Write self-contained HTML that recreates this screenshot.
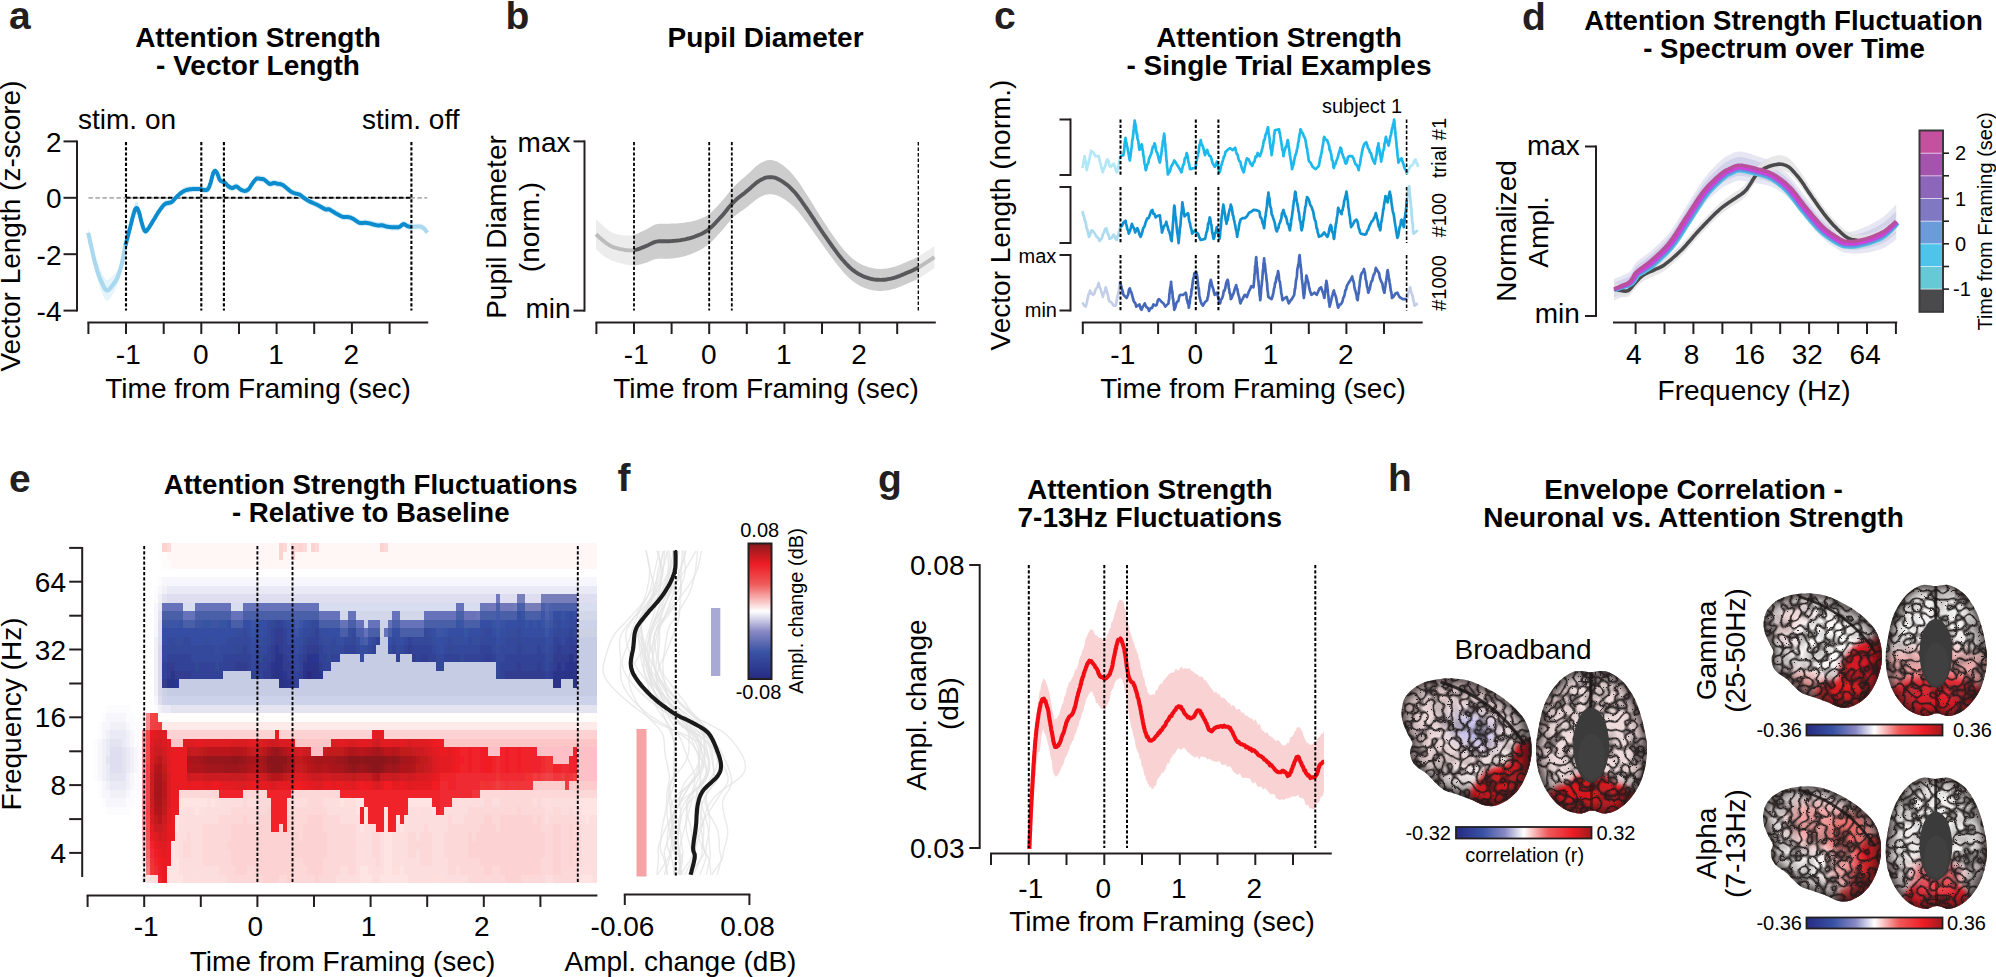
<!DOCTYPE html>
<html><head><meta charset="utf-8"><title>Figure</title>
<style>html,body{margin:0;padding:0;background:#fff}svg{display:block}text{font-family:"Liberation Sans",Arial,Helvetica,sans-serif}</style></head>
<body>
<svg width="1996" height="977" viewBox="0 0 1996 977">
<g id="pa">
<text x="9" y="29" font-size="39" font-weight="bold" fill="#231f20">a</text>
<text x="258" y="47" font-size="28" text-anchor="middle" font-weight="bold">Attention Strength</text>
<text x="258" y="75" font-size="28" text-anchor="middle" font-weight="bold">- Vector Length</text>
<text x="78" y="128.5" font-size="28">stim. on</text>
<text x="459.5" y="128.5" font-size="28" text-anchor="end">stim. off</text>
<text x="19.6" y="226" font-size="28" text-anchor="middle" transform="rotate(-90 19.6 226)">Vector Length (z-score)</text>
<line x1="77" y1="140.4" x2="77" y2="311.6" stroke="#231f20" stroke-width="2"/>
<line x1="63.5" y1="141.4" x2="77" y2="141.4" stroke="#231f20" stroke-width="2"/>
<line x1="63.5" y1="197.8" x2="77" y2="197.8" stroke="#231f20" stroke-width="2"/>
<line x1="63.5" y1="254.2" x2="77" y2="254.2" stroke="#231f20" stroke-width="2"/>
<line x1="63.5" y1="310.6" x2="77" y2="310.6" stroke="#231f20" stroke-width="2"/>
<text x="61.5" y="151.7" font-size="28" text-anchor="end">2</text>
<text x="61.5" y="208.1" font-size="28" text-anchor="end">0</text>
<text x="61.5" y="264.5" font-size="28" text-anchor="end">-2</text>
<text x="61.5" y="320.9" font-size="28" text-anchor="end">-4</text>
<line x1="87.4" y1="322.5" x2="428.2" y2="322.5" stroke="#231f20" stroke-width="2"/>
<line x1="88.4" y1="322.5" x2="88.4" y2="334" stroke="#231f20" stroke-width="2"/>
<line x1="126" y1="322.5" x2="126" y2="334" stroke="#231f20" stroke-width="2"/>
<line x1="163.7" y1="322.5" x2="163.7" y2="334" stroke="#231f20" stroke-width="2"/>
<line x1="201.3" y1="322.5" x2="201.3" y2="334" stroke="#231f20" stroke-width="2"/>
<line x1="239" y1="322.5" x2="239" y2="334" stroke="#231f20" stroke-width="2"/>
<line x1="276.6" y1="322.5" x2="276.6" y2="334" stroke="#231f20" stroke-width="2"/>
<line x1="314.2" y1="322.5" x2="314.2" y2="334" stroke="#231f20" stroke-width="2"/>
<line x1="351.9" y1="322.5" x2="351.9" y2="334" stroke="#231f20" stroke-width="2"/>
<line x1="389.6" y1="322.5" x2="389.6" y2="334" stroke="#231f20" stroke-width="2"/>
<text x="128.3" y="364" font-size="28" text-anchor="middle">-1</text>
<text x="200.8" y="364" font-size="28" text-anchor="middle">0</text>
<text x="276.1" y="364" font-size="28" text-anchor="middle">1</text>
<text x="351.4" y="364" font-size="28" text-anchor="middle">2</text>
<text x="258" y="397.5" font-size="28" text-anchor="middle">Time from Framing (sec)</text>
<line x1="88.4" y1="197.8" x2="427.2" y2="197.8" stroke="#b0b0b0" stroke-width="1.8" stroke-dasharray="4.5 2.5"/>
<line x1="126" y1="197.8" x2="411.4" y2="197.8" stroke="#000" stroke-width="2" stroke-dasharray="4.5 2.5"/>
<path d="M88.3,227L88.4,227.7L88.6,228.5L88.8,229.4L89.1,230.4L89.3,231.6L89.6,232.8L89.8,234L90.1,235.4L90.4,236.7L90.7,238.1L91.1,239.4L91.4,240.7L91.7,242L92,243.3L92.3,244.4L92.6,245.5L92.8,246.6L93.1,247.8L93.4,249L93.7,250.1L94,251.3L94.4,252.5L94.7,253.6L95,254.8L95.3,255.9L95.6,257L96,258.1L96.3,259.1L96.6,260.1L96.9,261.1L97.3,262.3L97.7,263.4L98.2,264.6L98.6,265.6L99,266.7L99.5,267.7L99.9,268.7L100.3,269.6L100.7,270.5L101.2,271.3L101.6,272.2L102,273L102.7,274.3L103.4,275.6L104,276.8L104.7,277.9L105.3,278.8L106,279.5L106.7,279.9L107.7,279.9L108.8,279.4L109.8,278.6L110.9,277.6L112,276.5L112.7,275.8L113.4,275.1L114.2,274.4L114.9,273.5L115.6,272.6L116.4,271.7L117.1,270.6L117.7,269.4L118.1,268.6L118.5,267.7L118.9,266.7L119.3,265.7L119.7,264.7L120,263.7L120.4,262.6L120.7,261.4L121,260.3L121.4,259.2L121.7,258L122,256.9L122.3,255.8L122.5,254.8L122.7,253.8L122.9,252.7L123.1,251.7L123.3,250.6L123.5,249.5L123.7,248.4L124,247.3L124.2,246L124.5,244.8L124.8,243.4L125.1,242L125.3,241L125.6,240L125.8,239L126.1,237.8L126.4,236.7L126.4,247.1L126.1,248.4L125.8,249.6L125.6,250.7L125.3,251.8L125.1,252.8L124.8,254.4L124.5,255.9L124.2,257.3L124,258.6L123.7,259.8L123.5,261L123.3,262.2L123.1,263.4L122.9,264.5L122.7,265.6L122.5,266.8L122.3,267.9L122,269.1L121.7,270.4L121.4,271.8L121,273.1L120.7,274.4L120.4,275.7L120,277.1L119.7,278.4L119.3,279.6L118.9,280.9L118.5,282.1L118.1,283.3L117.7,284.4L117.1,286L116.4,287.6L115.6,289.1L114.9,290.5L114.2,291.9L113.4,293.2L112.7,294.4L112,295.5L110.9,297.2L109.8,298.7L108.8,300L107.7,300.8L106.7,300.9L106,300.5L105.3,299.8L104.7,298.8L104,297.6L103.4,296.2L102.7,294.7L102,293L101.6,292L101.2,291L100.7,289.9L100.3,288.8L99.9,287.6L99.5,286.3L99,285L98.6,283.7L98.2,282.3L97.7,280.9L97.3,279.4L96.9,277.9L96.6,276.8L96.3,275.5L96,274.3L95.6,273L95.3,271.6L95,270.3L94.7,268.9L94.4,267.5L94,266.1L93.7,264.7L93.4,263.3L93.1,261.9L92.8,260.6L92.6,259.3L92.3,258L92,256.7L91.7,255.3L91.4,253.8L91.1,252.3L90.7,250.7L90.4,249.2L90.1,247.7L89.8,246.2L89.6,244.8L89.3,243.5L89.1,242.2L88.8,241.1L88.6,240L88.4,239.1L88.3,238.4Z" fill="#e6f5fc"/>
<path d="M125.6,242L125.8,240.9L126.1,239.7L126.4,238.5L126.7,237.2L127,235.9L127.4,234.6L127.7,233.2L128,231.9L128.4,230.5L128.7,229.1L129,227.7L129.3,226.4L129.7,225.1L130,223.8L130.3,222.5L130.5,221.3L130.8,220.2L131.1,219.1L131.3,218.1L131.7,216.1L132.1,214.4L132.5,212.8L132.8,211.3L133.2,210L133.4,208.8L133.7,207.7L134,206.7L134.2,205.8L134.5,205L135.3,203L136,202L136.7,201.9L137.5,202.7L138.2,204.3L139,206.5L139.3,207.6L139.6,208.8L139.9,210.1L140.2,211.5L140.5,213L140.8,214.4L141.1,215.7L141.4,217.1L141.8,218.5L142.1,219.9L142.5,221.3L142.8,222.6L143.2,223.7L143.5,224.7L144.5,227L145.5,228L146.5,227.6L148,225.7L148.5,225L149.2,224.1L149.8,223L150.5,221.9L151.3,220.7L152,219.5L152.7,218.3L153.4,217.2L154,216.1L154.7,215.1L155.3,214L155.9,212.9L156.5,211.9L157.2,210.8L157.8,209.8L158.5,208.8L159.2,207.8L160,206.7L160.8,205.6L161.5,204.6L162.3,203.6L163.1,202.6L163.8,201.8L164.4,201.2L165.8,200.3L166.9,200L168,199.8L169.2,199.6L170.5,199.4L171.8,198.8L172.6,198.1L173.4,197.2L174.3,196.2L175.1,195.2L176,194.3L176.9,193.4L177.8,192.5L178.7,191.7L179.6,190.9L180.4,190.2L181.7,189.2L182.8,188.5L184,187.8L185.2,187.3L186.3,186.8L187.8,186.5L188.9,186.3L190.1,186.1L191.4,186L192.7,185.9L194,185.8L195.2,185.7L196.5,185.7L197.8,185.7L198.9,185.7L200,185.8L201.5,186.1L202.8,186.5L204,186.8L205.8,186.9L207.4,186.5L208.2,185.6L208.9,184.3L209.5,182.8L209.9,181.7L210.3,180.6L210.7,179.3L211.1,177.8L211.4,176.6L211.8,175.1L212.2,173.6L212.6,172.1L212.9,170.8L213.3,169.8L214.3,168L215.3,167.6L216,168.2L216.8,169.3L217.5,170.8L217.9,171.9L218.4,173.2L218.8,174.5L219.3,175.8L219.7,176.7L220.8,177.8L222,178.3L223.2,178.6L224.6,179.1L225.4,179.9L226.2,180.9L227.1,181.9L228,182.8L229.3,183.7L230.8,184.4L232,184.8L233.3,184.5L234.5,183.8L235.6,183.3L236.9,183.3L238,184.1L239.2,185.3L240.5,186.3L241.8,187L243.1,187.4L244.3,187.7L245.8,187.6L247,187.1L248.1,186.5L249.2,185.3L249.8,184.4L250.5,183.3L251.2,182.1L252,180.9L252.7,179.8L253.7,178.5L254.7,177.2L255.7,176.2L256.6,175.4L258.3,175.2L260,175.6L261.3,175.7L262.6,175.8L263.9,176.2L265,176.9L266,177.9L267,178.8L268,179.6L269,180.4L270.1,180.8L271.3,180.6L272.5,180.1L273.8,179.8L275.2,179.9L276.6,180.3L278,180.6L279.5,180.8L280.9,181.1L282.4,181.6L283.4,182.2L284.4,183L285.5,183.9L286.5,184.8L287.6,185.7L288.8,186.7L289.9,187.6L291,188.4L292.3,189.2L293.6,189.7L295,190.2L296.5,190.6L298.1,190.9L299.6,191.4L300.7,192.1L301.8,193L302.9,193.9L304,194.8L305.1,195.5L306.1,196.2L307.1,196.9L308.2,197.5L309.4,198.1L310.5,198.7L311.8,199.2L313,199.8L314.2,200.3L315.3,200.8L316.6,201.3L318,202L319,202.5L320.1,203.2L321.2,203.8L322.4,204.5L323.5,205.2L324.5,205.7L325.4,206.1L326.8,206.3L327.7,206L329,206.1L329.9,206.5L330.8,207.1L331.9,207.7L332.9,208.4L334.1,209.1L335.2,209.8L336.4,210.5L337.6,211.1L338.8,211.8L340.1,212.5L341.4,213.1L342.6,213.5L343.8,213.8L345.1,213.9L346.4,213.9L347.6,213.9L348.8,214L349.9,214.2L351.3,214.7L352.6,215.4L353.8,216.1L355,216.8L356.2,217.6L357.3,218.4L358.4,219.2L359.8,219.7L360.8,219.8L362,219.8L363.1,219.7L364.4,219.6L365.7,219.6L367.1,219.7L368.2,219.9L369.5,220.2L370.8,220.5L372.2,220.9L373.5,221.3L374.8,221.6L376,221.9L377,222.1L378.5,222.2L379.7,222.2L380.7,222.1L381.9,222.1L383,222.3L384.1,222.6L385.3,223L386.6,223.3L388,223.6L389.1,223.7L390.4,223.9L391.8,224L393.1,224L394.4,224.1L395.6,224.1L396.6,224.1L398.3,224L399.4,223.7L400.3,223.3L401.3,222.4L402,221.6L403,221.1L404,220.9L405.1,221.5L406.3,222.3L407.6,222.9L408.9,223.3L410.2,223.5L411.8,223.6L411.8,230L410.2,229.9L408.9,229.7L407.6,229.3L406.3,228.7L405.1,227.9L404,227.3L403,227.5L402,228L401.3,228.8L400.3,229.7L399.4,230.1L398.3,230.4L396.6,230.5L395.6,230.5L394.4,230.5L393.1,230.4L391.8,230.4L390.4,230.3L389.1,230.1L388,230L386.6,229.7L385.3,229.4L384.1,229L383,228.7L381.9,228.5L380.7,228.5L379.7,228.6L378.5,228.6L377,228.5L376,228.3L374.8,228L373.5,227.7L372.2,227.3L370.8,226.9L369.5,226.6L368.2,226.3L367.1,226.1L365.7,226L364.4,226L363.1,226.1L362,226.2L360.8,226.2L359.8,226.1L358.4,225.6L357.3,224.8L356.2,224L355,223.2L353.8,222.5L352.6,221.8L351.3,221.1L349.9,220.6L348.8,220.4L347.6,220.3L346.4,220.3L345.1,220.3L343.8,220.2L342.6,219.9L341.4,219.5L340.1,218.9L338.8,218.2L337.6,217.5L336.4,216.9L335.2,216.2L334.1,215.5L332.9,214.8L331.9,214.1L330.8,213.5L329.9,212.9L329,212.5L327.7,212.4L326.8,212.7L325.4,212.5L324.5,212.1L323.5,211.6L322.4,210.9L321.2,210.2L320.1,209.6L319,208.9L318,208.4L316.6,207.7L315.3,207.2L314.2,206.7L313,206.2L311.8,205.6L310.5,205.1L309.4,204.5L308.2,203.9L307.1,203.3L306.1,202.6L305.1,201.9L304,201.2L302.9,200.3L301.8,199.4L300.7,198.5L299.6,197.8L298.1,197.3L296.5,197L295,196.6L293.6,196.1L292.3,195.6L291,194.8L289.9,194L288.8,193.1L287.6,192.1L286.5,191.2L285.5,190.3L284.4,189.4L283.4,188.6L282.4,188L280.9,187.5L279.5,187.2L278,187L276.6,186.7L275.2,186.3L273.8,186.2L272.5,186.5L271.3,187L270.1,187.2L269,186.8L268,186L267,185.2L266,184.3L265,183.3L263.9,182.6L262.6,182.2L261.3,182.1L260,182L258.3,181.6L256.6,181.8L255.7,182.6L254.7,183.6L253.7,184.9L252.7,186.2L252,187.3L251.2,188.5L250.5,189.7L249.8,190.8L249.2,191.7L248.1,192.9L247,193.5L245.8,194L244.3,194.1L243.1,193.8L241.8,193.4L240.5,192.7L239.2,191.7L238,190.5L236.9,189.7L235.6,189.7L234.5,190.2L233.3,190.9L232,191.2L230.8,190.8L229.3,190.1L228,189.2L227.1,188.3L226.2,187.3L225.4,186.3L224.6,185.5L223.2,185L222,184.7L220.8,184.2L219.7,183.1L219.3,182.2L218.8,180.9L218.4,179.6L217.9,178.3L217.5,177.2L216.8,175.7L216,174.6L215.3,174L214.3,174.4L213.3,176.2L212.9,177.2L212.6,178.5L212.2,180L211.8,181.5L211.4,183L211.1,184.2L210.7,185.7L210.3,187L209.9,188.1L209.5,189.2L208.9,190.7L208.2,192L207.4,192.9L205.8,193.3L204,193.2L202.8,192.9L201.5,192.5L200,192.2L198.9,192.1L197.8,192.1L196.5,192.1L195.2,192.1L194,192.2L192.7,192.3L191.4,192.4L190.1,192.5L188.9,192.7L187.8,192.9L186.3,193.2L185.2,193.7L184,194.2L182.8,194.9L181.7,195.6L180.4,196.6L179.6,197.3L178.7,198.1L177.8,198.9L176.9,199.8L176,200.7L175.1,201.6L174.3,202.6L173.4,203.6L172.6,204.5L171.8,205.2L170.5,205.8L169.2,206L168,206.2L166.9,206.4L165.8,206.7L164.4,207.6L163.8,208.2L163.1,209L162.3,210L161.5,211L160.8,212L160,213.1L159.2,214.2L158.5,215.2L157.8,216.2L157.2,217.2L156.5,218.3L155.9,219.3L155.3,220.4L154.7,221.5L154,222.5L153.4,223.6L152.7,224.7L152,225.9L151.3,227.1L150.5,228.3L149.8,229.4L149.2,230.5L148.5,231.5L148,232.3L146.5,234.3L145.5,234.8L144.5,234.2L143.5,232.3L143.2,231.5L142.8,230.6L142.5,229.5L142.1,228.4L141.8,227.3L141.4,226.1L141.1,225.1L140.8,224L140.5,222.8L140.2,221.6L139.9,220.5L139.6,219.4L139.3,218.4L139,217.5L138.2,215.9L137.5,214.8L136.7,214.3L136,214.4L135.3,215.3L134.5,217L134.2,217.7L134,218.5L133.7,219.3L133.4,220.2L133.2,221.2L132.8,222.3L132.5,223.5L132.1,224.8L131.7,226.2L131.3,227.7L131.1,228.5L130.8,229.4L130.5,230.3L130.3,231.3L130,232.3L129.7,233.4L129.3,234.5L129,235.7L128.7,236.9L128.4,238.1L128,239.3L127.7,240.5L127.4,241.7L127,242.9L126.7,244.2L126.4,245.3L126.1,246.5L125.8,247.6L125.6,248.7Z" fill="#cfeaf8"/>
<path d="M411.8,223.6L413,223.6L414.3,223.5L415.7,223.4L417,223.4L418.5,223.4L419.9,223.4L421.2,223.6L422.4,224.1L423.5,224.9L424.5,225.8L425.6,227.1L426.6,228.5L427.3,229.5L427.3,235.9L426.6,234.9L425.6,233.5L424.5,232.2L423.5,231.3L422.4,230.5L421.2,230L419.9,229.8L418.5,229.8L417,229.8L415.7,229.8L414.3,229.9L413,230L411.8,230Z" fill="#e6f5fc"/>
<path d="M88.3,232.7L88.4,233.4L88.6,234.2L88.8,235.2L89.1,236.3L89.3,237.5L89.6,238.8L89.8,240.1L90.1,241.5L90.4,242.9L90.7,244.4L91.1,245.8L91.4,247.3L91.7,248.7L92,250L92.3,251.2L92.6,252.4L92.8,253.6L93.1,254.9L93.4,256.1L93.7,257.4L94,258.7L94.4,260L94.7,261.3L95,262.5L95.3,263.8L95.6,265L96,266.2L96.3,267.3L96.6,268.4L96.9,269.5L97.3,270.9L97.7,272.2L98.2,273.4L98.6,274.7L99,275.9L99.5,277L99.9,278.1L100.3,279.2L100.7,280.2L101.2,281.2L101.6,282.1L102,283L102.7,284.5L103.4,285.9L104,287.2L104.7,288.4L105.3,289.3L106,290L106.7,290.4L107.7,290.4L108.8,289.7L109.8,288.7L110.9,287.4L112,286L112.7,285.1L113.4,284.2L114.2,283.1L114.9,282L115.6,280.9L116.4,279.6L117.1,278.3L117.7,276.9L118.1,275.9L118.5,274.9L118.9,273.8L119.3,272.7L119.7,271.5L120,270.4L120.4,269.2L120.7,267.9L121,266.7L121.4,265.5L121.7,264.2L122,263L122.3,261.9L122.5,260.8L122.7,259.7L122.9,258.6L123.1,257.5L123.3,256.4L123.5,255.3L123.7,254.1L124,252.9L124.2,251.6L124.5,250.3L124.8,248.9L125.1,247.4L125.3,246.4L125.6,245.4L125.8,244.3L126.1,243.1L126.4,241.9" fill="none" stroke="#a9d8ef" stroke-width="4.2" stroke-linejoin="round" stroke-linecap="butt"/>
<path d="M411.8,226.8L413,226.8L414.3,226.7L415.7,226.6L417,226.6L418.5,226.6L419.9,226.6L421.2,226.8L422.4,227.3L423.5,228.1L424.5,229L425.6,230.3L426.6,231.7L427.3,232.7" fill="none" stroke="#a9d8ef" stroke-width="4.0" stroke-linejoin="round" stroke-linecap="butt"/>
<path d="M125.6,245.4L125.8,244.3L126.1,243.1L126.4,241.9L126.7,240.7L127,239.4L127.4,238.2L127.7,236.9L128,235.6L128.4,234.3L128.7,233L129,231.7L129.3,230.5L129.7,229.2L130,228.1L130.3,226.9L130.5,225.8L130.8,224.8L131.1,223.8L131.3,222.9L131.7,221.2L132.1,219.6L132.5,218.1L132.8,216.8L133.2,215.6L133.4,214.5L133.7,213.5L134,212.6L134.2,211.8L134.5,211L135.3,209.1L136,208.2L136.7,208.1L137.5,208.7L138.2,210.1L139,212L139.3,213L139.6,214.1L139.9,215.3L140.2,216.6L140.5,217.9L140.8,219.2L141.1,220.4L141.4,221.6L141.8,222.9L142.1,224.2L142.5,225.4L142.8,226.6L143.2,227.6L143.5,228.5L144.5,230.6L145.5,231.4L146.5,230.9L148,229L148.5,228.2L149.2,227.3L149.8,226.2L150.5,225.1L151.3,223.9L152,222.7L152.7,221.5L153.4,220.4L154,219.3L154.7,218.3L155.3,217.2L155.9,216.1L156.5,215.1L157.2,214L157.8,213L158.5,212L159.2,211L160,209.9L160.8,208.8L161.5,207.8L162.3,206.8L163.1,205.8L163.8,205L164.4,204.4L165.8,203.5L166.9,203.2L168,203L169.2,202.8L170.5,202.6L171.8,202L172.6,201.3L173.4,200.4L174.3,199.4L175.1,198.4L176,197.5L176.9,196.6L177.8,195.7L178.7,194.9L179.6,194.1L180.4,193.4L181.7,192.4L182.8,191.7L184,191L185.2,190.5L186.3,190L187.8,189.7L188.9,189.5L190.1,189.3L191.4,189.2L192.7,189.1L194,189L195.2,188.9L196.5,188.9L197.8,188.9L198.9,188.9L200,189L201.5,189.3L202.8,189.7L204,190L205.8,190.1L207.4,189.7L208.2,188.8L208.9,187.5L209.5,186L209.9,184.9L210.3,183.8L210.7,182.5L211.1,181L211.4,179.8L211.8,178.3L212.2,176.8L212.6,175.3L212.9,174L213.3,173L214.3,171.2L215.3,170.8L216,171.4L216.8,172.5L217.5,174L217.9,175.1L218.4,176.4L218.8,177.7L219.3,179L219.7,179.9L220.8,181L222,181.5L223.2,181.8L224.6,182.3L225.4,183.1L226.2,184.1L227.1,185.1L228,186L229.3,186.9L230.8,187.6L232,188L233.3,187.7L234.5,187L235.6,186.5L236.9,186.5L238,187.3L239.2,188.5L240.5,189.5L241.8,190.2L243.1,190.6L244.3,190.9L245.8,190.8L247,190.3L248.1,189.7L249.2,188.5L249.8,187.6L250.5,186.5L251.2,185.3L252,184.1L252.7,183L253.7,181.7L254.7,180.4L255.7,179.4L256.6,178.6L258.3,178.4L260,178.8L261.3,178.9L262.6,179L263.9,179.4L265,180.1L266,181.1L267,182L268,182.8L269,183.6L270.1,184L271.3,183.8L272.5,183.3L273.8,183L275.2,183.1L276.6,183.5L278,183.8L279.5,184L280.9,184.3L282.4,184.8L283.4,185.4L284.4,186.2L285.5,187.1L286.5,188L287.6,188.9L288.8,189.9L289.9,190.8L291,191.6L292.3,192.4L293.6,192.9L295,193.4L296.5,193.8L298.1,194.1L299.6,194.6L300.7,195.3L301.8,196.2L302.9,197.1L304,198L305.1,198.7L306.1,199.4L307.1,200.1L308.2,200.7L309.4,201.3L310.5,201.9L311.8,202.4L313,203L314.2,203.5L315.3,204L316.6,204.5L318,205.2L319,205.7L320.1,206.4L321.2,207L322.4,207.7L323.5,208.4L324.5,208.9L325.4,209.3L326.8,209.5L327.7,209.2L329,209.3L329.9,209.7L330.8,210.3L331.9,210.9L332.9,211.6L334.1,212.3L335.2,213L336.4,213.7L337.6,214.3L338.8,215L340.1,215.7L341.4,216.3L342.6,216.7L343.8,217L345.1,217.1L346.4,217.1L347.6,217.1L348.8,217.2L349.9,217.4L351.3,217.9L352.6,218.6L353.8,219.3L355,220L356.2,220.8L357.3,221.6L358.4,222.4L359.8,222.9L360.8,223L362,223L363.1,222.9L364.4,222.8L365.7,222.8L367.1,222.9L368.2,223.1L369.5,223.4L370.8,223.7L372.2,224.1L373.5,224.5L374.8,224.8L376,225.1L377,225.3L378.5,225.4L379.7,225.4L380.7,225.3L381.9,225.3L383,225.5L384.1,225.8L385.3,226.2L386.6,226.5L388,226.8L389.1,226.9L390.4,227.1L391.8,227.2L393.1,227.2L394.4,227.3L395.6,227.3L396.6,227.3L398.3,227.2L399.4,226.9L400.3,226.5L401.3,225.6L402,224.8L403,224.3L404,224.1L405.1,224.7L406.3,225.5L407.6,226.1L408.9,226.5L410.2,226.7L411.8,226.8" fill="none" stroke="#0a8ccf" stroke-width="4.0" stroke-linejoin="round" stroke-linecap="butt"/>
<line x1="126" y1="142" x2="126" y2="310.5" stroke="#000" stroke-width="2.1" stroke-dasharray="3.2 2"/>
<line x1="201.3" y1="142" x2="201.3" y2="310.5" stroke="#000" stroke-width="2.1" stroke-dasharray="3.2 2"/>
<line x1="223.9" y1="142" x2="223.9" y2="310.5" stroke="#000" stroke-width="2.1" stroke-dasharray="3.2 2"/>
<line x1="411.4" y1="142" x2="411.4" y2="310.5" stroke="#000" stroke-width="2.1" stroke-dasharray="3.2 2"/>
</g>
<g id="pb">
<text x="505.5" y="29" font-size="39" font-weight="bold" fill="#231f20">b</text>
<text x="765.5" y="47" font-size="28" text-anchor="middle" font-weight="bold">Pupil Diameter</text>
<text x="505.5" y="227" font-size="28" text-anchor="middle" transform="rotate(-90 505.5 227)">Pupil Diameter</text>
<text x="538.5" y="227" font-size="28" text-anchor="middle" transform="rotate(-90 538.5 227)">(norm.)</text>
<line x1="584.5" y1="140.4" x2="584.5" y2="311.6" stroke="#231f20" stroke-width="2"/>
<line x1="573.5" y1="141.4" x2="584.5" y2="141.4" stroke="#231f20" stroke-width="2"/>
<line x1="573.5" y1="310.6" x2="584.5" y2="310.6" stroke="#231f20" stroke-width="2"/>
<text x="570.5" y="151.5" font-size="28" text-anchor="end">max</text>
<text x="570.5" y="318" font-size="28" text-anchor="end">min</text>
<line x1="595.4" y1="322.5" x2="935.8" y2="322.5" stroke="#231f20" stroke-width="2"/>
<line x1="596.4" y1="322.5" x2="596.4" y2="334" stroke="#231f20" stroke-width="2"/>
<line x1="634" y1="322.5" x2="634" y2="334" stroke="#231f20" stroke-width="2"/>
<line x1="671.6" y1="322.5" x2="671.6" y2="334" stroke="#231f20" stroke-width="2"/>
<line x1="709.2" y1="322.5" x2="709.2" y2="334" stroke="#231f20" stroke-width="2"/>
<line x1="746.8" y1="322.5" x2="746.8" y2="334" stroke="#231f20" stroke-width="2"/>
<line x1="784.4" y1="322.5" x2="784.4" y2="334" stroke="#231f20" stroke-width="2"/>
<line x1="822" y1="322.5" x2="822" y2="334" stroke="#231f20" stroke-width="2"/>
<line x1="859.6" y1="322.5" x2="859.6" y2="334" stroke="#231f20" stroke-width="2"/>
<line x1="897.2" y1="322.5" x2="897.2" y2="334" stroke="#231f20" stroke-width="2"/>
<text x="636.3" y="364" font-size="28" text-anchor="middle">-1</text>
<text x="708.7" y="364" font-size="28" text-anchor="middle">0</text>
<text x="783.9" y="364" font-size="28" text-anchor="middle">1</text>
<text x="859.1" y="364" font-size="28" text-anchor="middle">2</text>
<text x="766" y="397.5" font-size="28" text-anchor="middle">Time from Framing (sec)</text>
<path d="M596,219.3L596.7,219.9L597.6,220.7L598.6,221.6L599.8,222.7L601,223.8L602.4,225.1L603.7,226.4L605.1,227.6L606.5,228.8L607.8,229.8L609,230.7L610.4,231.6L611.9,232.4L613.3,233L614.8,233.6L616.2,234L617.7,234.4L619.1,234.7L620.5,235L621.9,235.2L623.4,235.3L625,235.5L626.5,235.5L628,235.5L629.5,235.5L630.9,235.3L632.4,235.1L633.9,234.8L633.9,265.6L632.4,265.6L630.9,265.5L629.5,265.3L628,265.1L626.5,264.8L625,264.5L623.4,264.1L621.9,263.6L620.5,263.3L619.1,262.9L617.7,262.5L616.2,262L614.8,261.6L613.3,261.1L611.9,260.6L610.4,259.9L609,259.3L607.8,258.6L606.5,257.8L605.1,256.9L603.7,255.9L602.4,254.8L601,253.7L599.8,252.7L598.6,251.6L597.6,250.7L596.7,249.9L596,249.3Z" fill="#ececec"/>
<path d="M918.5,256.4L919.8,255.7L921.2,254.8L922.6,253.9L924.2,252.9L925.7,251.9L927.3,250.9L928.8,249.9L930.2,248.9L931.5,248.1L932.6,247.3L933.6,246.6L934.4,246.1L934.4,268.1L933.6,268.6L932.6,269.3L931.5,270.1L930.2,270.9L928.8,271.9L927.3,272.9L925.7,273.9L924.2,274.9L922.6,275.9L921.2,276.8L919.8,277.7L918.5,278.4Z" fill="#ececec"/>
<path d="M633.9,234.8L635.4,234.4L636.8,233.8L638.3,233.2L639.8,232.6L641.2,231.8L642.7,231.1L644.1,230.4L645.5,229.7L647.1,228.9L648.6,228.1L650.1,227.2L651.6,226.3L653.1,225.5L654.7,224.8L656.3,224.3L657.8,224L659.4,223.8L661,223.7L662.6,223.7L664.3,223.7L665.9,223.7L667.6,223.7L669.2,223.7L670.8,223.6L672.4,223.6L674,223.5L675.6,223.4L677.2,223.4L678.8,223.3L680.4,223.1L682,223L683.6,222.8L685.2,222.6L686.9,222.3L688.5,222.1L690.1,221.8L691.8,221.4L693.4,221L695,220.6L696.4,220.2L697.9,219.7L699.3,219.2L700.7,218.7L702.2,218.1L703.6,217.5L705,216.8L706.5,215.9L707.9,215L709,214.2L710,213.3L711.1,212.4L712.2,211.4L713.3,210.4L714.3,209.3L715.4,208.2L716.5,207.1L717.6,205.9L718.6,204.8L719.7,203.6L720.8,202.4L721.8,201.3L722.8,200.1L723.8,199L724.8,197.7L725.8,196.5L726.8,195.2L727.7,194L728.7,192.7L729.7,191.5L730.7,190.3L731.7,189.1L732.7,188L733.7,186.9L734.9,185.7L736,184.5L737.2,183.4L738.4,182.4L739.6,181.3L740.7,180.3L741.9,179.3L743.1,178.3L744.3,177.3L745.4,176.3L746.6,175.3L747.8,174.2L749,173L750.2,171.9L751.4,170.7L752.6,169.6L753.8,168.4L755,167.3L756.1,166.3L757.3,165.4L758.4,164.5L759.5,163.7L761.1,162.7L762.7,161.9L764.2,161.2L765.7,160.7L767.2,160.3L768.7,160.1L770.2,160L771.7,160.1L773.2,160.4L774.7,160.7L776.2,161.3L777.8,162L779.4,162.9L781,163.9L782.1,164.7L783.2,165.5L784.3,166.4L785.5,167.3L786.7,168.4L787.9,169.5L789.1,170.6L790.2,171.8L791.4,173.1L792.6,174.4L793.8,175.8L794.7,176.9L795.6,178L796.5,179.2L797.4,180.3L798.2,181.6L799.1,182.8L800,184.1L800.9,185.4L801.8,186.8L802.7,188.2L803.6,189.7L804.6,191.2L805.6,192.8L806.7,194.4L807.5,195.6L808.2,196.8L809,198.1L809.9,199.4L810.7,200.7L811.5,202.1L812.4,203.5L813.3,204.9L814.1,206.3L815,207.8L815.9,209.2L816.8,210.7L817.7,212.1L818.6,213.6L819.5,215L820.4,216.4L821.3,217.8L822.2,219.2L823,220.6L823.9,221.9L824.8,223.2L825.7,224.6L826.7,226L827.6,227.5L828.5,228.9L829.5,230.3L830.4,231.7L831.4,233L832.3,234.4L833.2,235.8L834.2,237.1L835.1,238.4L836,239.7L836.9,240.9L837.8,242.1L838.6,243.3L839.5,244.4L840.3,245.5L841.1,246.5L842.3,248L843.5,249.4L844.6,250.7L845.7,252L846.8,253.1L847.8,254.2L848.8,255.2L849.9,256.2L850.9,257.1L851.9,258L852.9,258.9L854,259.7L855.4,260.8L856.9,261.8L858.3,262.7L859.7,263.5L861.2,264.2L862.6,264.9L864,265.5L865.5,266.1L866.9,266.6L868.5,267.2L870.1,267.6L871.7,268L873.3,268.3L875,268.5L876.6,268.7L878.2,268.8L879.8,268.9L881.4,268.9L883,268.8L884.6,268.7L886.2,268.5L887.9,268.2L889.5,267.9L891.1,267.6L892.7,267.2L894.1,266.8L895.6,266.4L897,265.9L898.4,265.3L899.9,264.8L901.3,264.2L902.7,263.6L904.2,263L905.6,262.4L907,261.8L908.4,261.2L909.8,260.6L911.2,260.1L912.6,259.4L914,258.8L915.4,258L916.9,257.3L918.5,256.4L918.5,278.4L916.9,279.3L915.4,280L914,280.8L912.6,281.4L911.2,282.1L909.8,282.6L908.4,283.2L907,283.8L905.6,284.4L904.2,285L902.7,285.6L901.3,286.2L899.9,286.8L898.4,287.3L897,287.9L895.6,288.4L894.1,288.8L892.7,289.2L891.1,289.6L889.5,289.9L887.9,290.2L886.2,290.5L884.6,290.7L883,290.8L881.4,290.9L879.8,290.9L878.2,290.9L876.6,290.8L875,290.6L873.3,290.4L871.7,290.1L870.1,289.7L868.5,289.3L866.9,288.8L865.5,288.2L864,287.7L862.6,287.1L861.2,286.4L859.7,285.7L858.3,284.9L856.9,284.1L855.4,283.1L854,282.1L852.9,281.3L851.9,280.4L850.9,279.6L849.9,278.7L848.8,277.8L847.8,276.8L846.8,275.8L845.7,274.7L844.6,273.5L843.5,272.3L842.3,270.9L841.1,269.5L840.3,268.5L839.5,267.5L838.6,266.5L837.8,265.4L836.9,264.2L836,263.1L835.1,261.9L834.2,260.7L833.2,259.4L832.3,258.2L831.4,256.9L830.4,255.6L829.5,254.4L828.5,253.1L827.6,251.8L826.7,250.5L825.7,249.2L824.8,248L823.9,246.7L823,245.5L822.2,244.3L821.3,243.1L820.4,241.8L819.5,240.6L818.6,239.3L817.7,238L816.8,236.8L815.9,235.5L815,234.2L814.1,232.9L813.3,231.7L812.4,230.4L811.5,229.2L810.7,228L809.9,226.9L809,225.8L808.2,224.7L807.5,223.6L806.7,222.6L805.6,221.2L804.6,219.9L803.6,218.6L802.7,217.3L801.8,216.1L800.9,214.9L800,213.8L799.1,212.7L798.2,211.7L797.4,210.6L796.5,209.7L795.6,208.7L794.7,207.8L793.8,206.8L792.6,205.7L791.4,204.7L790.2,203.6L789.1,202.7L787.9,201.7L786.7,200.9L785.5,200L784.3,199.3L783.2,198.5L782.1,197.9L781,197.3L779.4,196.4L777.8,195.7L776.2,195.2L774.7,194.7L773.2,194.4L771.7,194.2L770.2,194.2L768.7,194.3L767.2,194.5L765.7,194.8L764.2,195.3L762.7,195.9L761.1,196.6L759.5,197.5L758.4,198.1L757.3,198.9L756.1,199.7L755,200.6L753.8,201.5L752.6,202.5L751.4,203.5L750.2,204.5L749,205.5L747.8,206.4L746.6,207.3L745.4,208.2L744.3,209L743.1,209.9L741.9,210.7L740.7,211.5L739.6,212.3L738.4,213.2L737.2,214.1L736,215L734.9,216L733.7,217.1L732.7,218.1L731.7,219.1L730.7,220.2L729.7,221.3L728.7,222.5L727.7,223.6L726.8,224.8L725.8,226L724.8,227.2L723.8,228.4L722.8,229.6L721.8,230.7L720.8,231.8L719.7,233L718.6,234.1L717.6,235.3L716.5,236.5L715.4,237.7L714.3,238.8L713.3,240L712.2,241.1L711.1,242.1L710,243.1L709,244.1L707.9,245L706.5,246.1L705,247.1L703.6,248L702.2,248.9L700.7,249.6L699.3,250.4L697.9,251.1L696.4,251.7L695,252.4L693.4,253.1L691.8,253.8L690.1,254.4L688.5,255L686.9,255.5L685.2,256L683.6,256.4L682,256.8L680.4,257.2L678.8,257.5L677.2,257.8L675.6,258L674,258.2L672.4,258.4L670.8,258.6L669.2,258.7L667.6,258.8L665.9,258.8L664.3,258.7L662.6,258.7L661,258.6L659.4,258.7L657.8,258.7L656.3,258.9L654.7,259.3L653.1,259.8L651.6,260.4L650.1,261.1L648.6,261.7L647.1,262.4L645.5,262.9L644.1,263.3L642.7,263.8L641.2,264.2L639.8,264.6L638.3,265L636.8,265.3L635.4,265.5L633.9,265.6Z" fill="#cdcdcd"/>
<path d="M596,234.3L596.7,234.9L597.6,235.7L598.6,236.6L599.8,237.7L601,238.8L602.4,240L603.7,241.1L605.1,242.2L606.5,243.3L607.8,244.2L609,245L610.4,245.8L611.9,246.5L613.3,247.1L614.8,247.6L616.2,248L617.7,248.4L619.1,248.8L620.5,249.1L621.9,249.4L623.4,249.7L625,250L626.5,250.2L628,250.3L629.5,250.4L630.9,250.4L632.4,250.3L633.9,250.2" fill="none" stroke="#bcbcbc" stroke-width="3.9" stroke-linejoin="round" stroke-linecap="butt"/>
<path d="M918.5,267.4L919.8,266.7L921.2,265.8L922.6,264.9L924.2,263.9L925.7,262.9L927.3,261.9L928.8,260.9L930.2,259.9L931.5,259.1L932.6,258.3L933.6,257.6L934.4,257.1" fill="none" stroke="#bcbcbc" stroke-width="3.9" stroke-linejoin="round" stroke-linecap="butt"/>
<path d="M633.9,250.2L635.4,249.9L636.8,249.6L638.3,249.1L639.8,248.6L641.2,248L642.7,247.4L644.1,246.9L645.5,246.3L647.1,245.6L648.6,244.9L650.1,244.1L651.6,243.4L653.1,242.7L654.7,242.1L656.3,241.6L657.8,241.4L659.4,241.2L661,241.2L662.6,241.2L664.3,241.2L665.9,241.3L667.6,241.3L669.2,241.2L670.8,241.1L672.4,241L674,240.9L675.6,240.7L677.2,240.6L678.8,240.4L680.4,240.2L682,239.9L683.6,239.6L685.2,239.3L686.9,238.9L688.5,238.5L690.1,238.1L691.8,237.6L693.4,237.1L695,236.5L696.4,235.9L697.9,235.4L699.3,234.8L700.7,234.2L702.2,233.5L703.6,232.8L705,231.9L706.5,231L707.9,230L709,229.2L710,228.2L711.1,227.3L712.2,226.3L713.3,225.2L714.3,224.1L715.4,223L716.5,221.8L717.6,220.6L718.6,219.5L719.7,218.3L720.8,217.1L721.8,216L722.8,214.9L723.8,213.7L724.8,212.5L725.8,211.3L726.8,210L727.7,208.8L728.7,207.6L729.7,206.4L730.7,205.2L731.7,204.1L732.7,203L733.7,202L734.9,200.9L736,199.8L737.2,198.8L738.4,197.8L739.6,196.8L740.7,195.9L741.9,195L743.1,194.1L744.3,193.2L745.4,192.3L746.6,191.3L747.8,190.3L749,189.3L750.2,188.2L751.4,187.1L752.6,186L753.8,185L755,184L756.1,183L757.3,182.1L758.4,181.3L759.5,180.6L761.1,179.7L762.7,178.9L764.2,178.2L765.7,177.7L767.2,177.4L768.7,177.2L770.2,177.1L771.7,177.2L773.2,177.4L774.7,177.7L776.2,178.2L777.8,178.9L779.4,179.7L781,180.6L782.1,181.3L783.2,182L784.3,182.8L785.5,183.7L786.7,184.6L787.9,185.6L789.1,186.6L790.2,187.7L791.4,188.9L792.6,190.1L793.8,191.3L794.7,192.3L795.6,193.3L796.5,194.4L797.4,195.5L798.2,196.6L799.1,197.8L800,199L800.9,200.2L801.8,201.5L802.7,202.8L803.6,204.1L804.6,205.5L805.6,207L806.7,208.5L807.5,209.6L808.2,210.7L809,211.9L809.9,213.1L810.7,214.4L811.5,215.7L812.4,217L813.3,218.3L814.1,219.6L815,221L815.9,222.4L816.8,223.7L817.7,225.1L818.6,226.4L819.5,227.8L820.4,229.1L821.3,230.5L822.2,231.8L823,233L823.9,234.3L824.8,235.6L825.7,236.9L826.7,238.3L827.6,239.6L828.5,241L829.5,242.3L830.4,243.6L831.4,245L832.3,246.3L833.2,247.6L834.2,248.9L835.1,250.2L836,251.4L836.9,252.6L837.8,253.8L838.6,254.9L839.5,256L840.3,257L841.1,258L842.3,259.5L843.5,260.8L844.6,262.1L845.7,263.3L846.8,264.4L847.8,265.5L848.8,266.5L849.9,267.5L850.9,268.4L851.9,269.2L852.9,270.1L854,270.9L855.4,271.9L856.9,272.9L858.3,273.8L859.7,274.6L861.2,275.3L862.6,276L864,276.6L865.5,277.2L866.9,277.7L868.5,278.2L870.1,278.7L871.7,279L873.3,279.3L875,279.6L876.6,279.7L878.2,279.8L879.8,279.9L881.4,279.9L883,279.8L884.6,279.7L886.2,279.5L887.9,279.2L889.5,278.9L891.1,278.6L892.7,278.2L894.1,277.8L895.6,277.4L897,276.9L898.4,276.3L899.9,275.8L901.3,275.2L902.7,274.6L904.2,274L905.6,273.4L907,272.8L908.4,272.2L909.8,271.6L911.2,271.1L912.6,270.4L914,269.8L915.4,269L916.9,268.3L918.5,267.4" fill="none" stroke="#58585a" stroke-width="3.9" stroke-linejoin="round" stroke-linecap="butt"/>
<line x1="634" y1="142" x2="634" y2="310.5" stroke="#000" stroke-width="1.8" stroke-dasharray="3.2 2"/>
<line x1="709.2" y1="142" x2="709.2" y2="310.5" stroke="#000" stroke-width="1.8" stroke-dasharray="3.2 2"/>
<line x1="731.8" y1="142" x2="731.8" y2="310.5" stroke="#000" stroke-width="1.8" stroke-dasharray="3.2 2"/>
<line x1="918.3" y1="142" x2="918.3" y2="310.5" stroke="#000" stroke-width="1.3" stroke-dasharray="3.5 2"/>
</g>
<g id="pc">
<text x="994" y="29" font-size="39" font-weight="bold" fill="#231f20">c</text>
<text x="1279" y="47" font-size="28" text-anchor="middle" font-weight="bold">Attention Strength</text>
<text x="1279" y="75" font-size="28" text-anchor="middle" font-weight="bold">- Single Trial Examples</text>
<text x="1362" y="112.5" font-size="20" text-anchor="middle">subject 1</text>
<text x="1010" y="215" font-size="28" text-anchor="middle" transform="rotate(-90 1010 215)">Vector Length (norm.)</text>
<line x1="1070.5" y1="118.5" x2="1070.5" y2="176" stroke="#231f20" stroke-width="2"/>
<line x1="1059.5" y1="119.5" x2="1070.5" y2="119.5" stroke="#231f20" stroke-width="2"/>
<line x1="1059.5" y1="175" x2="1070.5" y2="175" stroke="#231f20" stroke-width="2"/>
<line x1="1070.5" y1="186" x2="1070.5" y2="244" stroke="#231f20" stroke-width="2"/>
<line x1="1059.5" y1="187" x2="1070.5" y2="187" stroke="#231f20" stroke-width="2"/>
<line x1="1059.5" y1="243" x2="1070.5" y2="243" stroke="#231f20" stroke-width="2"/>
<line x1="1070.5" y1="254" x2="1070.5" y2="311.5" stroke="#231f20" stroke-width="2"/>
<line x1="1059.5" y1="255" x2="1070.5" y2="255" stroke="#231f20" stroke-width="2"/>
<line x1="1059.5" y1="310.5" x2="1070.5" y2="310.5" stroke="#231f20" stroke-width="2"/>
<text x="1056.3" y="262.5" font-size="20" text-anchor="end">max</text>
<text x="1057" y="317" font-size="20" text-anchor="end">min</text>
<line x1="1081.8" y1="322.5" x2="1422.7" y2="322.5" stroke="#231f20" stroke-width="2"/>
<line x1="1082.8" y1="322.5" x2="1082.8" y2="334" stroke="#231f20" stroke-width="2"/>
<line x1="1120.5" y1="322.5" x2="1120.5" y2="334" stroke="#231f20" stroke-width="2"/>
<line x1="1158.1" y1="322.5" x2="1158.1" y2="334" stroke="#231f20" stroke-width="2"/>
<line x1="1195.8" y1="322.5" x2="1195.8" y2="334" stroke="#231f20" stroke-width="2"/>
<line x1="1233.5" y1="322.5" x2="1233.5" y2="334" stroke="#231f20" stroke-width="2"/>
<line x1="1271.1" y1="322.5" x2="1271.1" y2="334" stroke="#231f20" stroke-width="2"/>
<line x1="1308.8" y1="322.5" x2="1308.8" y2="334" stroke="#231f20" stroke-width="2"/>
<line x1="1346.4" y1="322.5" x2="1346.4" y2="334" stroke="#231f20" stroke-width="2"/>
<line x1="1384" y1="322.5" x2="1384" y2="334" stroke="#231f20" stroke-width="2"/>
<text x="1122.8" y="364" font-size="28" text-anchor="middle">-1</text>
<text x="1195.3" y="364" font-size="28" text-anchor="middle">0</text>
<text x="1270.6" y="364" font-size="28" text-anchor="middle">1</text>
<text x="1345.9" y="364" font-size="28" text-anchor="middle">2</text>
<text x="1253" y="397.5" font-size="28" text-anchor="middle">Time from Framing (sec)</text>
<text x="1445.8" y="148" font-size="20" text-anchor="middle" transform="rotate(-90 1445.8 148)">trial #1</text>
<text x="1445.8" y="215" font-size="20" text-anchor="middle" transform="rotate(-90 1445.8 215)">#100</text>
<text x="1445.8" y="283" font-size="20" text-anchor="middle" transform="rotate(-90 1445.8 283)">#1000</text>
<path d="M1082.5,168L1083,164.8L1083.4,163.4L1083.8,160.5L1084.2,158.9L1084.7,156.2L1085.1,159.4L1085.5,160.4L1086,163L1086.4,168.5L1086.8,170.2L1087.4,167L1087.9,164.5L1088.4,164.5L1089,160.4L1089.5,159.2L1090,155.6L1090.6,153.7L1091.1,150.8L1093.3,152.4L1095.4,156.2L1098.6,156.2L1099.4,159.3L1100.1,162.8L1100.8,164.3L1101.5,167.7L1102.2,170.2L1102.9,172.3L1103.8,168.3L1104.7,168L1105.5,164.9L1106.4,161.4L1107.2,159.4L1108.3,160.4L1109.4,165.6L1110.5,166.9L1113.7,163.7L1114.8,166.5L1115.8,170.2L1116.9,172.3L1117.4,170.8L1118,167.6L1118.5,165.6L1119.1,161.2L1119.6,159.9L1120.1,156.2" fill="none" stroke="#b2e7f8" stroke-width="2.7" stroke-linejoin="round" stroke-linecap="butt"/>
<path d="M1406.1,170.1L1407,173.4L1408.3,170.3L1409.5,168.3L1410.8,165.9L1412,165.5L1413.3,163.8L1414.5,160.5L1415.6,159.4L1416.5,163.2L1417.3,163.7L1418.2,166.9" fill="none" stroke="#b2e7f8" stroke-width="2.7" stroke-linejoin="round" stroke-linecap="butt"/>
<path d="M1120.1,156.2L1123.4,155.1L1123.7,152.5L1124,151.6L1124.3,149L1124.6,144L1124.9,141.7L1125.2,139.5L1125.5,137.9L1126,141.9L1126.5,142.7L1126.9,145.9L1127.4,147.3L1127.9,150.5L1128.4,152.6L1128.8,155L1129.3,158.3L1129.8,160.5L1130.1,158.3L1130.4,156.8L1130.7,153.6L1131,151.9L1131.3,149.2L1131.7,147.2L1132,143.7L1132.3,139.5L1132.6,139.3L1132.9,137.1L1133.2,134.5L1133.5,130.9L1133.8,128.9L1134.1,124.8L1134.4,124.3L1134.7,120.7L1135.1,123.4L1135.5,124.9L1135.9,126.6L1136.3,131.5L1136.7,134.4L1137.1,133.9L1137.5,138.6L1137.9,139.8L1138.3,141.4L1138.7,144.3L1139.1,148.2L1139.5,149.8L1140.5,148.3L1141.6,144.4L1142,145.5L1142.5,149.9L1142.9,150.7L1143.3,155.4L1143.8,156.7L1144.2,161.1L1144.6,164L1145.1,165L1145.5,169.2L1145.9,170.2L1146.7,167.1L1147.5,163.9L1148.3,163.2L1149,158.9L1149.8,157L1150.6,155.2L1151.4,153.4L1152.2,149.5L1152.9,146.7L1153.7,146.9L1154.5,143.3L1155.2,145.1L1155.9,149.6L1156.5,151.8L1157.2,152.6L1157.9,155.3L1158.5,157.9L1159.2,160.7L1159.9,162.6L1160.2,160.5L1160.6,158L1161,155.8L1161.3,154.4L1161.7,150.6L1162,147.9L1162.4,146.4L1162.7,142.5L1163.1,140.3L1163.5,140L1163.8,136.1L1164.2,133.6L1164.4,136.2L1164.6,136.9L1164.8,140.6L1165,143.5L1165.3,144.1L1165.5,148.4L1165.7,150.9L1165.9,151.4L1166.1,155.7L1166.3,157.5L1166.5,160.6L1166.8,162L1167,165.5L1167.2,168L1167.4,168.1L1167.6,170.7L1167.8,174.5L1168.9,172.7L1170,171.3L1171.1,166.7L1172.1,165L1173.2,163.1L1174.3,160.5L1175.7,162.3L1177.1,164.8L1178.5,167L1180,169.5L1181.4,172.3L1182,170.2L1182.7,166.8L1183.4,164.7L1184.1,163.5L1184.7,158.7L1185.4,158L1186.1,156.1L1186.7,153L1187.3,155.1L1187.8,157.5L1188.4,162L1188.9,162.9L1189.4,165.4L1190,169.1L1192.7,168.4L1195.3,168L1195.8,166.1L1196.3,161.7L1196.8,159.8L1197.3,157.3L1197.8,156.4L1198.3,152.6L1198.8,151.4L1199.2,146.6L1199.7,144.6L1200.2,143.1L1200.7,140.1L1201.4,143.8L1202.1,144.9L1202.9,146.7L1203.6,148.9L1204.3,152.7L1205,155.1L1206.1,151.5L1207.2,149.8L1208.2,153.2L1209.3,155.7L1210.4,156.1L1211.5,158.9L1212.5,163L1213.6,164.9L1214.7,166.9L1215.8,165.2L1216.8,161.6L1217.5,163.8L1218.1,165.8L1218.8,169L1219.4,172.3L1220.2,170.7L1220.9,166.5L1221.7,164.2L1222.4,161.8L1223.2,159.3L1223.9,156.7L1224.7,155.8L1225.4,151.9L1227.8,149.7L1230.3,148.2L1232.7,150.1L1235.1,147.6L1236,151.3L1236.8,154.1L1237.7,154.8L1238.5,158.9L1239.4,161.3L1240.3,161.5L1241.1,165.7L1242,168.5L1242.8,170.4L1243.7,172.3L1244.3,169.6L1245,166.1L1245.6,163.4L1246.3,160.3L1246.9,158.4L1248.7,159.5L1250.5,163.6L1252.3,165.9L1253.4,162.6L1254.4,161.7L1255.5,156.7L1256.6,156.8L1257.7,153L1259.8,156.2L1260.5,154.4L1261.2,152.7L1261.8,150.2L1262.5,147.8L1263.2,144.4L1263.9,140.1L1264.6,140.1L1265.3,135.8L1265.9,133.8L1266.6,132.5L1267.3,129.7L1268,127.2L1268.3,129.5L1268.6,133.7L1269,135.2L1269.3,136.8L1269.6,139.1L1270,143.6L1270.3,144.9L1270.6,148.4L1271,149.6L1271.3,151.6L1271.6,155.1L1271.9,152.8L1272.3,151.2L1272.6,146.7L1272.9,146.2L1273.2,144.1L1273.6,141.3L1273.9,138.9L1274.2,133.8L1274.5,133.3L1274.8,130.4L1279.1,129.3L1279.5,132.9L1279.9,132.8L1280.3,135.9L1280.7,138.4L1281.1,141.6L1281.5,143.7L1281.9,146.3L1282.3,149.8L1282.7,149.7L1283.1,152.3L1283.4,156.2L1284.2,152.3L1284.9,149.6L1285.6,146.8L1286.3,147L1287,143.9L1287.7,140.1L1288.1,141.2L1288.5,144.9L1288.8,146.7L1289.2,149.2L1289.5,151.7L1289.9,155.1L1290.3,157.3L1290.6,159L1291,160.9L1291.3,163.7L1291.7,165.5L1292,169.1L1292.8,166.6L1293.5,164.4L1294.2,160.7L1294.9,157L1295.6,154.6L1296.3,153L1296.8,150.2L1297.2,148.6L1297.6,146.8L1298.1,143.1L1298.5,142.1L1298.9,139.2L1299.3,136.2L1299.8,133.7L1300.2,131.7L1300.6,129.3L1301.7,132.1L1302.8,133.4L1303.9,136.4L1304.9,137.9L1305.4,140.2L1305.8,141.8L1306.2,145.1L1306.7,148L1307.1,148.4L1307.5,151.9L1307.9,154.2L1308.4,158.1L1308.8,160.6L1309.2,161.6L1310.8,163.1L1312.5,166.6L1314.1,168.1L1315.7,169.1L1318.9,165.9L1319.4,162.7L1319.8,160.9L1320.2,157.4L1320.7,157.2L1321.1,154.3L1321.6,152.6L1322,149.9L1322.5,147.1L1322.9,144.9L1323.4,141.9L1323.8,138L1324.3,136.9L1325.7,139.6L1327.1,140.3L1328.6,144.4L1329.1,145.6L1329.6,150L1330.2,150L1330.7,152.5L1331.3,154.9L1331.8,159.8L1332.3,159.9L1332.9,161.8L1333.4,166.7L1333.9,168L1334.8,164.3L1335.6,164L1336.4,160.9L1337.2,158.9L1338,156.7L1338.8,153L1339.6,151.1L1340.4,147.6L1341.2,148.4L1341.9,153.1L1342.7,154.5L1343.5,157.5L1344.2,157.9L1345,162.2L1345.8,163.7L1346.8,162.6L1347.9,157.3L1349,156.2L1352.2,156.2L1353.3,158L1354.4,161.1L1355.4,164.2L1356.5,164.7L1357.6,166.8L1358.7,170.2L1359.1,166.9L1359.6,165.5L1360.1,163.5L1360.6,159.8L1361,157.2L1361.5,154.8L1362,152.1L1362.5,149.9L1363,147.6L1364.6,143.6L1366.2,142.2L1367.1,144.6L1368.1,148.5L1369,149.1L1370,152.6L1371,153.1L1371.9,157.2L1372.9,159.8L1373.8,161.9L1374.8,163.7L1375.2,161.2L1375.7,158.6L1376.1,156.5L1376.6,154.8L1377.1,149.8L1377.5,147.1L1378,146.7L1378.4,143.3L1378.8,147.3L1379.2,148.6L1379.6,151L1380,154.4L1380.4,155.4L1380.8,158.2L1381.2,161.6L1381.7,158.1L1382.2,156.9L1382.6,153.6L1383.1,150.8L1383.6,149.8L1384.1,148.2L1384.5,143.6L1385,142.5L1385.5,139.1L1385.9,136.9L1386.9,140.9L1387.8,142.9L1388.7,145.5L1389.3,142.1L1389.8,139.4L1390.4,136.2L1390.9,135.1L1391.4,132.2L1392,128.9L1392.5,127L1393,124.3L1393.6,123.1L1394.1,119.7L1394.4,121.1L1394.6,126.3L1394.9,127.2L1395.1,130.1L1395.4,132.2L1395.6,135.9L1395.9,138.4L1396.1,140.1L1396.4,142.4L1396.6,145.7L1396.9,148.6L1397.1,149.7L1397.4,153.3L1397.7,156.5L1397.9,157.5L1398.2,159.3L1398.4,162.6L1400,159.7L1401.6,158.4L1402.5,161.6L1403.4,163.9L1404.3,167.3L1405.2,169.5L1406.1,170.1L1407,173.4" fill="none" stroke="#1cb9ec" stroke-width="2.7" stroke-linejoin="round" stroke-linecap="butt"/>
<path d="M1082.5,211L1083.1,214.5L1083.7,215.1L1084.3,217.8L1084.9,221.1L1085.5,221.4L1086,223.8L1086.6,228.5L1087.2,229.1L1087.8,231.6L1088.4,234.7L1089,236.8L1090,235.2L1091.1,230.9L1092.2,230.3L1093.7,232L1095.2,234.4L1096.7,236.7L1098.2,238L1099.7,241.1L1100.8,239.2L1101.9,238.2L1102.9,234.3L1104,232.6L1105.1,229.1L1106.2,228.2L1107,230.2L1107.8,234.1L1108.6,235L1109.4,238.9L1111.5,238L1113.7,234.6L1115.3,238.6L1116.9,240L1117.5,236.1L1118.2,236.3L1118.8,231.9L1119.5,230.6L1120.1,227.1" fill="none" stroke="#addcf1" stroke-width="2.7" stroke-linejoin="round" stroke-linecap="butt"/>
<path d="M1406.1,208.5L1406.4,206.7L1406.7,201.2L1407,200.3L1407.4,196.5L1407.9,193.1L1408.3,191.7L1408.7,188.6L1409.2,186.3L1409.4,187.3L1409.6,191.4L1409.8,192.5L1410.1,195.6L1410.3,197.9L1410.5,202.2L1410.7,203.4L1411,205.4L1411.2,207.2L1411.4,210.9L1411.6,214.1L1411.9,216.7L1412.1,220L1412.3,222.1L1412.6,222.8L1412.8,224.9L1413,229.4L1413.2,232L1413.5,233.6L1415.6,232L1417.8,230.3" fill="none" stroke="#addcf1" stroke-width="2.7" stroke-linejoin="round" stroke-linecap="butt"/>
<path d="M1120.1,227.1L1121.9,225.8L1123.7,222.2L1125.5,220.7L1126.1,223.8L1126.8,226.3L1127.4,229.4L1128.1,230.2L1128.7,233.6L1129.5,232L1130.3,230.2L1131.1,226.9L1131.9,223.9L1133,226.9L1134.1,228.4L1135.2,232.5L1136.2,230.3L1137.3,228.2L1138.4,230.6L1139.5,234.6L1140.5,236.8L1141.4,234.9L1142.3,232L1143.2,228.2L1144.1,227.2L1145,224.7L1145.9,221.7L1147.2,218.4L1148.5,218.3L1149.8,215.1L1151.1,211.1L1152.4,209.9L1153.4,213.8L1154.5,213.8L1155.6,217.4L1157.7,215.8L1159.9,215.3L1160.2,218.5L1160.5,220.5L1160.8,222.8L1161.1,225.6L1161.4,227.4L1161.7,229.4L1162,232.5L1163.1,228.8L1164.2,225.7L1165.3,225.1L1166.3,221.7L1167,225L1167.7,226.7L1168.3,229.8L1169,231L1169.7,233.1L1170.4,235.9L1171,239.9L1171.7,241.1L1171.9,237.1L1172.1,236L1172.3,232.7L1172.4,231.8L1172.6,228L1172.8,225.4L1173,223L1173.2,221L1173.4,219.2L1173.5,215.3L1173.7,214.3L1173.9,209.5L1174.1,207.4L1174.3,205.6L1174.6,206.9L1174.9,209.4L1175.1,214L1175.4,216.4L1175.7,217.2L1176,219.7L1176.3,222.9L1176.6,226.5L1176.9,229.2L1177.1,231.5L1177.4,233.5L1177.7,234.6L1178,237.9L1178.3,239.7L1178.6,243.2L1178.8,240.9L1179,238.6L1179.3,235.1L1179.5,232.8L1179.7,232.1L1179.9,227.3L1180.2,227.4L1180.4,225.3L1180.6,223.1L1180.9,218.8L1181.1,217L1181.3,214.7L1181.5,212.4L1181.8,211.1L1182,207.8L1182.2,204.2L1182.4,202.4L1182.9,206.3L1183.3,207.9L1183.7,211.1L1184.2,214.3L1184.6,216.4L1187.8,213.1L1188.4,214.1L1188.9,219.1L1189.4,221.3L1190,223.3L1190.5,226L1191,228.3L1191.6,230L1192.1,233.6L1195.3,230.3L1196.7,232.9L1198,233.7L1199.4,237.6L1200.7,240L1205,238.9L1205.5,237L1206.1,234L1206.6,232L1207.1,230.9L1207.6,228.3L1208.2,223.4L1208.7,223.2L1209.2,220.2L1209.7,217.4L1210.2,218.4L1210.6,221.8L1211,223.8L1211.5,225.6L1211.9,229.5L1212.3,233.1L1212.7,233.6L1213.2,237.7L1213.6,238.9L1214.3,237.2L1214.9,233L1215.5,233L1216.2,229.8L1216.8,227.1L1217.3,230.8L1217.9,232.5L1218.4,235L1218.9,236.1L1219.4,238.9L1219.7,237.5L1220,235.4L1220.2,232.7L1220.5,228.9L1220.8,227.5L1221.1,224.2L1221.3,220.5L1221.6,217.8L1221.9,215.5L1222.2,213.4L1222.4,210.8L1222.7,209.5L1223,207.6L1223.3,204.6L1223.7,207.1L1224.1,209.1L1224.5,212.3L1224.9,213.6L1225.3,216.5L1225.7,219.9L1226.1,221.2L1226.5,223.9L1227,220.5L1227.6,220.3L1228.1,217.3L1228.6,213.8L1229.2,211.4L1229.7,209.5L1230.3,207.3L1230.8,204.6L1231.3,206.1L1231.8,207.9L1232.3,211.1L1232.8,215.4L1233.3,215.8L1233.8,219.3L1234.3,220.9L1234.8,223.5L1235.3,225.8L1235.8,229L1236.3,230.8L1236.7,232.8L1237.2,236.8L1237.7,233.1L1238.2,230.8L1238.6,229.4L1239.1,225.6L1239.5,223L1240,221.9L1240.5,219.6L1242.6,218.2L1244.8,218.1L1246.9,216.4L1249.1,212.8L1251.2,211.8L1253.4,209.9L1256,210.1L1258.7,211L1259.5,211.9L1260.3,217.4L1261,217.5L1261.8,219.5L1262.6,223.2L1263.3,224.7L1264.1,228.2L1264.4,226L1264.7,222.6L1265,219.4L1265.3,216.6L1265.6,216.3L1265.9,212.3L1266.3,211.4L1266.6,207.8L1266.9,206.8L1267.2,202.2L1267.5,199.5L1267.8,197L1268.1,196.3L1268.4,192.7L1268.8,195.5L1269.1,197L1269.5,198.6L1269.8,202.9L1270.2,206.2L1270.6,207.4L1270.9,207.9L1271.3,210.3L1271.6,214.2L1272.4,215.4L1273.2,218.1L1273.9,220.1L1274.7,222.6L1275.5,227L1276.2,230.2L1277,231.4L1277.7,228.1L1278.4,228.2L1279.1,224.2L1279.9,222.8L1280.6,220.8L1281.3,218.5L1282,213.2L1282.7,211.7L1283.4,209.9L1284.3,212.8L1285.1,216.5L1285.9,216.3L1286.7,219.5L1287.5,223.8L1288.3,224L1289.1,227.4L1289.9,230.3L1290.2,227.4L1290.6,226.1L1290.9,224.5L1291.2,219.6L1291.6,219L1291.9,216.6L1292.2,214.5L1292.6,211.2L1292.9,209.9L1293.2,205.7L1293.6,203.5L1293.9,200.5L1294.3,199.8L1294.6,196.4L1294.9,193.3L1295.3,191.7L1295.7,193L1296.1,197.2L1296.5,199.2L1296.9,202L1297.3,203.4L1297.7,206.1L1298.1,207.5L1298.5,211.7L1298.9,211.9L1299.3,215.7L1299.7,219.1L1300.1,221.2L1300.5,221.8L1300.9,224.7L1301.3,229L1301.7,230.3L1302.1,228.4L1302.5,226.8L1302.9,224.4L1303.2,220.7L1303.6,219.7L1304,216.8L1304.4,213.2L1304.8,210.9L1305.2,207.6L1305.5,206.2L1305.9,205.6L1306.3,200.5L1306.7,199.6L1307.1,197L1308.2,198.4L1309.2,200.8L1310.3,205.2L1311.4,206.5L1312.5,209.9L1313,210.9L1313.6,213.7L1314.2,217.7L1314.8,220L1315.4,220.6L1316,223.7L1316.6,228.5L1317.1,228.6L1317.7,232.1L1318.3,234.1L1318.9,236.8L1321.6,235.5L1324.3,232.5L1325.9,235L1327.5,236.8L1328.1,235.3L1328.8,232.2L1329.4,228.7L1330.1,226.3L1330.7,225L1331.4,226.4L1332,231.6L1332.7,232.1L1333.3,234.6L1333.9,238.9L1334.3,238L1334.6,233.2L1334.9,233L1335.3,228L1335.6,226.8L1335.9,223.7L1336.3,223.2L1336.6,220.1L1336.9,217.8L1337.3,215.8L1337.6,213.8L1337.9,209.7L1338.2,207.8L1339.3,210.3L1340.4,211.9L1341.5,214.2L1342,210.5L1342.6,210.3L1343.1,207L1343.7,205.2L1344.2,200.7L1344.8,199.3L1345.3,196.6L1345.9,194.9L1346.4,191.7L1346.7,192.8L1347.1,196.2L1347.4,199.2L1347.8,200.4L1348.1,204.5L1348.4,207.6L1348.8,209.1L1349.1,212.4L1349.4,214.8L1349.8,216.1L1350.1,219L1350.5,223.6L1350.8,224.1L1351.1,227.1L1352.9,224.4L1354.7,220.8L1356.5,219.6L1357.2,221L1357.9,223.2L1358.7,228L1359.4,229.6L1360.1,232.4L1360.8,233.6L1365.1,234.6L1366.2,234L1367.3,230.7L1368.3,229.6L1369.4,226L1370.5,224L1371.6,221.5L1372.6,221L1373.7,218.7L1374.8,216.7L1375.8,213.1L1376.5,215.6L1377.1,218.9L1377.7,220.2L1378.3,224.6L1378.9,226.8L1379.5,227.2L1380.1,230.3L1380.5,229.3L1380.9,224.4L1381.3,221.7L1381.7,221.2L1382.1,217.4L1382.4,215.7L1382.8,213.6L1383.2,209.2L1383.6,209L1384,205.1L1384.4,203.1L1384.8,200.4L1385.1,199.2L1385.5,196L1386.6,200L1387.7,202.4L1388.2,199L1388.7,195.8L1389.3,193.7L1389.8,191.7L1390.2,193.8L1390.6,195.2L1391,197.8L1391.4,202.2L1391.8,204.5L1392.2,207.8L1392.6,210.2L1393,212.3L1393.4,213.1L1393.8,214.9L1394.2,217.8L1394.6,220.7L1395,223.4L1395.4,225.8L1395.8,227.7L1396.2,231.7L1396.5,232.3L1396.9,235.3L1397.3,237.9L1398,236.5L1398.6,233.6L1399.2,229.4L1399.8,226.6L1400.4,225.8L1401,220.6L1401.6,219.6L1402.4,220.9L1403.1,224.7L1403.8,227.1L1404.1,224.8L1404.4,221.2L1404.7,218.4L1405,216.4L1405.2,215.8L1405.5,212.4L1405.8,211.6L1406.1,208.5L1406.4,206.7L1406.7,201.2L1407,200.3" fill="none" stroke="#0f92d2" stroke-width="2.7" stroke-linejoin="round" stroke-linecap="butt"/>
<path d="M1082.5,302.3L1084.1,305.5L1085.7,306.6L1086.5,304.1L1087.2,300.5L1087.9,297.5L1088.6,294.3L1089.3,293.7L1090,290.5L1091.7,293.9L1093.3,294.8L1094.3,293.7L1095.4,290L1096.5,288.2L1097.6,286.7L1098.6,283L1099.4,286.3L1100.1,288L1100.8,289.7L1101.5,292.4L1102.2,293.6L1102.9,297L1103.6,293.5L1104.3,292.7L1105,291.3L1105.7,287.3L1106.3,289.8L1106.9,291.6L1107.6,293.8L1108.2,296.5L1108.8,299.9L1109.4,301.3L1111.5,302.5L1113.7,305.6L1115.8,305.6L1116.3,302.1L1116.7,300.2L1117.1,298.5L1117.5,295.8L1118,294.9L1118.4,292.4L1118.8,290.4L1119.3,287L1119.7,282.8L1120.1,281.9L1120.8,284.7" fill="none" stroke="#c3cfe9" stroke-width="2.7" stroke-linejoin="round" stroke-linecap="butt"/>
<path d="M1407,299.1L1407.7,295.7L1408.3,293.1L1408.9,292.1L1409.6,291L1410.2,287.3L1410.8,291.1L1411.5,292.6L1412.1,294.8L1412.7,296.3L1413.3,299.6L1413.9,302.3L1414.5,305.6L1417.8,303.4" fill="none" stroke="#c3cfe9" stroke-width="2.7" stroke-linejoin="round" stroke-linecap="butt"/>
<path d="M1120.1,281.9L1120.8,284.7L1121.4,287.2L1122.1,289.6L1122.7,291.5L1123.4,294.8L1126.6,298L1127.4,296.3L1128.2,294.5L1129,289.5L1129.8,288.4L1130.6,291.2L1131.4,292.5L1132.2,295.3L1133,298.8L1133.8,301.2L1134.6,302.5L1135.4,303.4L1136.2,306.6L1139.5,304.5L1140.5,308.5L1141.6,309.8L1142.7,306.7L1143.8,305.2L1144.8,303.4L1146.3,307L1147.7,307.8L1149.1,310.9L1150.6,308L1152,308.1L1153.4,304.5L1155.6,305.6L1156.7,304.8L1157.7,300.7L1158.8,299.1L1160.4,300.6L1162,302.2L1163.6,303.6L1165.3,306.6L1168.5,303.4L1168.8,300.2L1169.1,300.2L1169.3,294.9L1169.6,293L1169.9,290.5L1170.2,287.7L1170.5,286.8L1170.8,285.1L1171.1,281.9L1171.3,285.5L1171.6,287.4L1171.9,290.5L1172.2,290.5L1172.5,293.9L1172.8,298.6L1173.1,298.3L1173.4,301.5L1173.7,304.7L1174,306.6L1174.3,309.8L1175.3,307.5L1176.3,303.4L1177.3,301.5L1178.3,301.3L1179.3,296.2L1180.3,294.8L1183,295L1185.7,292.7L1186.2,294.1L1186.7,299.2L1187.3,300.7L1187.8,303.2L1188.4,304L1188.9,307.7L1189.3,303.8L1189.7,303.6L1190,299.3L1190.4,296.9L1190.8,296.5L1191.2,294.2L1191.6,289.1L1192,289.5L1192.3,285.7L1192.7,282.8L1193.1,279.4L1193.5,277.9L1193.9,277.3L1194.3,273.3L1196.4,272.2L1196.7,274L1197.1,276L1197.4,278.5L1197.7,280.9L1198,284.1L1198.3,288.4L1198.7,288.2L1199,291L1199.3,295.9L1199.6,297L1200.7,301.4L1201.8,304.2L1202.9,305.6L1205,302.1L1207.2,300.2L1207.6,297.2L1208.1,296.5L1208.5,292.5L1209,290.6L1209.4,286.8L1209.9,283.3L1210.4,281.8L1210.8,279.8L1211.5,283.1L1212.1,285.7L1212.7,287.5L1213.4,289.7L1214,292.4L1214.7,294.8L1216.8,292.7L1217.6,295.2L1218.4,298.1L1219.2,301.8L1220.1,303.4L1220.8,300.1L1221.6,299L1222.3,297.7L1223.1,295.1L1223.8,290.6L1224.6,290.7L1225.3,287.9L1226.1,283.4L1226.8,281.4L1227.6,279.8L1228,281.2L1228.4,283.2L1228.8,288.5L1229.2,289.1L1229.6,293L1230,293L1230.4,295.1L1230.8,299.1L1231.7,298L1232.6,295.4L1233.5,293.7L1234.4,290.4L1235.3,287.5L1236.2,285.1L1236.8,288.6L1237.4,289.1L1238,293.1L1238.6,295.4L1239.2,297.1L1239.9,301.1L1240.5,303.4L1241.5,300.7L1242.6,299.1L1243.7,296.6L1244.8,294.8L1246.9,297L1248,293.7L1249.1,291.1L1250.1,289.2L1251.2,286.2L1253.4,287.3L1253.6,286.3L1253.8,283.7L1254.1,280.9L1254.3,278.3L1254.5,274.1L1254.8,273.8L1255,269L1255.2,266L1255.5,264.7L1255.7,263L1255.9,259.2L1256.2,257.2L1256.4,260.2L1256.6,261.6L1256.9,266.3L1257.1,267.2L1257.4,269.8L1257.6,272.5L1257.8,276.1L1258.1,279L1258.3,280L1258.6,282.3L1258.8,285.4L1259,286.2L1259.3,289.8L1259.5,293.7L1259.8,296L1260,296.2L1260.2,300.2L1260.5,298.8L1260.7,294.9L1260.9,294.3L1261.1,289.9L1261.4,286.9L1261.6,285.5L1261.8,284.2L1262.1,280.2L1262.3,279.2L1262.5,276.2L1262.7,272.6L1263,270L1263.2,268.2L1263.4,265.3L1263.6,262.8L1263.9,261.2L1264.1,258.3L1264.4,261.9L1264.6,263.4L1264.9,264.4L1265.2,267L1265.4,270L1265.7,273.1L1266,274L1266.3,276.3L1266.5,279.5L1266.8,281.8L1267.1,283.4L1267.3,287.4L1267.6,291.1L1267.9,292.2L1268.1,295.3L1268.4,297L1271.6,299.1L1272.2,297.6L1272.8,295.1L1273.4,292.8L1274,288.8L1274.6,287L1275.1,282.7L1275.7,282.5L1276.3,278.4L1276.9,276.2L1277.5,275L1278.1,271.2L1278.4,272.9L1278.8,275L1279.1,279.5L1279.5,281.2L1279.9,281.9L1280.2,284.2L1280.6,287.6L1280.9,288.9L1281.3,294L1281.7,294.3L1282,297L1282.4,300.2L1284.5,298.2L1286.7,297L1287.7,300.2L1288.8,303.4L1290.2,301L1291.5,299.5L1292.8,297.5L1294.2,294.8L1294.5,292.1L1294.9,288.5L1295.2,288.9L1295.5,285.5L1295.9,281.1L1296.2,279.7L1296.5,278.2L1296.9,276.5L1297.2,271.1L1297.5,268.4L1297.9,267.4L1298.2,264.7L1298.6,263.8L1298.9,261.1L1299.2,257L1299.6,255.1L1299.8,257.3L1300.1,260.4L1300.3,263.9L1300.6,264.2L1300.8,267.3L1301.1,268.9L1301.3,273.2L1301.6,273.8L1301.8,279.2L1302.1,280.4L1302.3,283.1L1302.6,284.1L1302.8,287.1L1303.1,290.3L1303.4,294.1L1303.6,295.6L1303.9,298L1304.1,294.8L1304.4,294.6L1304.7,291L1305,288.1L1305.3,284.5L1305.6,282.3L1305.9,281.8L1306.2,276.8L1306.4,275.5L1307.1,278L1307.7,280.7L1308.3,282.3L1308.9,286L1309.5,288.9L1310.1,291.1L1310.8,293.2L1311.4,294.8L1314.6,292.7L1316.8,294.8L1318.2,291.4L1319.6,288.4L1321.1,287.3L1321.9,289.8L1322.7,292.1L1323.5,294.4L1324.3,298L1324.6,296.8L1324.9,292.2L1325.2,291.7L1325.5,289.6L1325.8,284.5L1326.1,284.6L1326.4,280.8L1326.7,283.1L1327.1,285.1L1327.4,287.6L1327.7,289.7L1328,293.7L1328.4,295.9L1328.7,300L1329,302.5L1329.3,302.6L1329.6,306.6L1330.4,303.6L1331.1,300.9L1331.8,297.5L1332.5,295.1L1333.2,292.4L1333.9,290.5L1334.6,293.6L1335.2,294.9L1335.8,296.6L1336.4,299.4L1337,302.6L1337.6,305.5L1338.2,307.7L1339.7,304.7L1341.1,304L1342.5,301.3L1343.3,297.8L1344,296.8L1344.7,294.1L1345.4,290.2L1346.1,289.5L1346.8,286.2L1348.2,283.5L1349.5,281.5L1350.9,279.3L1352.2,276.5L1352.7,279.3L1353.3,281.1L1353.8,282.2L1354.4,286.9L1354.9,289.5L1355.4,290.7L1356,293.3L1356.5,294.7L1357,299.1L1357.6,300.2L1357.9,298.3L1358.2,294.3L1358.6,293.8L1358.9,291.8L1359.2,287.3L1359.5,286.9L1359.8,282.8L1360.2,279.4L1360.5,278.6L1360.8,275.5L1361.9,272.8L1363,271.9L1364,269L1364.5,271.7L1364.9,272.5L1365.3,276.2L1365.7,279.6L1366.2,280.8L1366.6,283.3L1367,286.7L1367.5,287.8L1367.9,290.3L1368.3,292.7L1369.1,290.5L1369.8,288.8L1370.6,284.3L1371.3,281.5L1372.1,281.1L1372.8,278L1373.6,274.7L1374.3,274.1L1375.1,271.6L1375.8,267.9L1377.5,270.8L1379.1,273.3L1379.7,277.3L1380.4,279.2L1381.1,281.4L1381.8,282.3L1382.4,283.8L1383.1,288.4L1383.8,291L1384.4,292.7L1384.8,289.7L1385.2,287.6L1385.5,285.4L1385.9,281.8L1386.2,280.8L1386.6,277.8L1387,274.7L1387.3,271.4L1387.7,270.1L1388.1,272.8L1388.4,274.6L1388.8,278.4L1389.2,279.2L1389.6,282.5L1390,284.4L1390.4,287.6L1390.8,290.7L1391.2,291.7L1391.6,294.1L1392,298L1393.8,296.2L1395.5,293.5L1397.3,292.7L1398.4,294.8L1399.5,297L1402.7,299.1L1407,299.1" fill="none" stroke="#4569ba" stroke-width="2.7" stroke-linejoin="round" stroke-linecap="butt"/>
<line x1="1120.5" y1="119.5" x2="1120.5" y2="175" stroke="#000" stroke-width="2" stroke-dasharray="3.2 2"/>
<line x1="1195.8" y1="119.5" x2="1195.8" y2="175" stroke="#000" stroke-width="2" stroke-dasharray="3.2 2"/>
<line x1="1218.4" y1="119.5" x2="1218.4" y2="175" stroke="#000" stroke-width="2" stroke-dasharray="3.2 2"/>
<line x1="1406.6" y1="119.5" x2="1406.6" y2="175" stroke="#000" stroke-width="1.6" stroke-dasharray="3.5 2"/>
<line x1="1120.5" y1="187" x2="1120.5" y2="243" stroke="#000" stroke-width="2" stroke-dasharray="3.2 2"/>
<line x1="1195.8" y1="187" x2="1195.8" y2="243" stroke="#000" stroke-width="2" stroke-dasharray="3.2 2"/>
<line x1="1218.4" y1="187" x2="1218.4" y2="243" stroke="#000" stroke-width="2" stroke-dasharray="3.2 2"/>
<line x1="1406.6" y1="187" x2="1406.6" y2="243" stroke="#000" stroke-width="1.6" stroke-dasharray="3.5 2"/>
<line x1="1120.5" y1="255" x2="1120.5" y2="310.5" stroke="#000" stroke-width="2" stroke-dasharray="3.2 2"/>
<line x1="1195.8" y1="255" x2="1195.8" y2="310.5" stroke="#000" stroke-width="2" stroke-dasharray="3.2 2"/>
<line x1="1218.4" y1="255" x2="1218.4" y2="310.5" stroke="#000" stroke-width="2" stroke-dasharray="3.2 2"/>
<line x1="1406.6" y1="255" x2="1406.6" y2="310.5" stroke="#000" stroke-width="1.6" stroke-dasharray="3.5 2"/>
</g>
<g id="pd">
<text x="1522" y="30.3" font-size="39" font-weight="bold" fill="#231f20">d</text>
<text x="1783.5" y="29.5" font-size="27.6" text-anchor="middle" font-weight="bold">Attention Strength Fluctuation</text>
<text x="1784" y="57.5" font-size="27.6" text-anchor="middle" font-weight="bold">- Spectrum over Time</text>
<text x="1516" y="231" font-size="28" text-anchor="middle" transform="rotate(-90 1516 231)">Normalized</text>
<text x="1548" y="232" font-size="28" text-anchor="middle" transform="rotate(-90 1548 232)">Ampl.</text>
<line x1="1596" y1="145.5" x2="1596" y2="317" stroke="#231f20" stroke-width="2"/>
<line x1="1585" y1="146.5" x2="1596" y2="146.5" stroke="#231f20" stroke-width="2"/>
<line x1="1585" y1="316" x2="1596" y2="316" stroke="#231f20" stroke-width="2"/>
<text x="1579.8" y="155" font-size="28" text-anchor="end">max</text>
<text x="1579.8" y="322.5" font-size="28" text-anchor="end">min</text>
<line x1="1613" y1="322.5" x2="1897.2" y2="322.5" stroke="#231f20" stroke-width="2"/>
<line x1="1635.6" y1="322.5" x2="1635.6" y2="334" stroke="#231f20" stroke-width="2"/>
<line x1="1664.5" y1="322.5" x2="1664.5" y2="334" stroke="#231f20" stroke-width="2"/>
<line x1="1693.4" y1="322.5" x2="1693.4" y2="334" stroke="#231f20" stroke-width="2"/>
<line x1="1722.4" y1="322.5" x2="1722.4" y2="334" stroke="#231f20" stroke-width="2"/>
<line x1="1751.3" y1="322.5" x2="1751.3" y2="334" stroke="#231f20" stroke-width="2"/>
<line x1="1780.2" y1="322.5" x2="1780.2" y2="334" stroke="#231f20" stroke-width="2"/>
<line x1="1809.1" y1="322.5" x2="1809.1" y2="334" stroke="#231f20" stroke-width="2"/>
<line x1="1838.1" y1="322.5" x2="1838.1" y2="334" stroke="#231f20" stroke-width="2"/>
<line x1="1867" y1="322.5" x2="1867" y2="334" stroke="#231f20" stroke-width="2"/>
<line x1="1895.9" y1="322.5" x2="1895.9" y2="334" stroke="#231f20" stroke-width="2"/>
<text x="1633.8" y="364.2" font-size="28" text-anchor="middle">4</text>
<text x="1691.6" y="364.2" font-size="28" text-anchor="middle">8</text>
<text x="1749.5" y="364.2" font-size="28" text-anchor="middle">16</text>
<text x="1807.3" y="364.2" font-size="28" text-anchor="middle">32</text>
<text x="1865.2" y="364.2" font-size="28" text-anchor="middle">64</text>
<text x="1754" y="400" font-size="28" text-anchor="middle">Frequency (Hz)</text>
<path d="M1614,279L1615.8,278.2L1618.4,277.1L1621,276L1623.5,275L1626.1,274L1628.3,272.9L1630.4,271.1L1632,269L1633.1,267.1L1634.1,265.1L1635.6,263L1637.1,261.5L1639,260L1640.9,258.6L1643,257L1644.6,255.8L1646.1,254.7L1647.7,253.5L1649.6,252L1652,249.9L1653.1,248.9L1654.4,247.8L1655.7,246.6L1657.1,245.3L1658.6,244L1660.1,242.6L1661.6,241.1L1663.2,239.5L1664.7,237.9L1666.2,236.3L1667.7,234.5L1669.2,232.7L1670.3,231.2L1671.5,229.7L1672.6,228L1673.8,226.3L1674.9,224.6L1676.1,222.8L1677.2,220.9L1678.4,219.1L1679.5,217.2L1680.7,215.3L1681.8,213.5L1683,211.6L1684.1,209.7L1685.3,207.9L1686.4,206.1L1687.5,204.3L1688.7,202.4L1689.8,200.6L1691,198.7L1692.1,196.8L1693.3,194.9L1694.4,193.1L1695.6,191.2L1696.7,189.4L1697.9,187.5L1699,185.8L1700.2,184L1701.3,182.3L1702.5,180.7L1703.6,179.1L1705.1,177.2L1706.6,175.4L1708.1,173.6L1709.6,171.8L1711.2,170.1L1712.7,168.5L1714.2,166.9L1715.7,165.4L1717.1,164L1718.4,162.7L1719.6,161.5L1720.8,160.5L1723.2,158.4L1725.1,157.1L1726.8,156.1L1728.4,155.4L1730,154.6L1732.1,153.5L1734.1,152.6L1736,151.9L1738,151.5L1740,151.5L1741.9,151.7L1743.9,152.1L1746,152.6L1748,153.1L1750,153.6L1752.3,154.4L1755.2,155.4L1756.8,155.9L1758.5,156.5L1760.3,157.1L1762.3,157.8L1764.3,158.5L1766.4,159.3L1768.4,160.2L1770.4,161.2L1772.4,162.3L1774.1,163.4L1775.8,164.6L1777.6,165.8L1779.3,167.1L1781,168.4L1782.7,169.9L1784.4,171.4L1786.2,173L1787.9,174.6L1789.6,176.4L1790.9,177.8L1792.2,179.3L1793.6,181L1794.9,182.6L1796.2,184.4L1797.5,186.1L1798.9,187.9L1800.2,189.7L1801.5,191.5L1802.8,193.3L1804.2,195L1805.5,196.7L1806.8,198.3L1808.2,200.1L1809.7,201.8L1811.1,203.6L1812.5,205.3L1814,207L1815.4,208.7L1816.8,210.4L1818.3,212L1819.7,213.6L1821.1,215.1L1822.6,216.5L1824,217.9L1825.8,219.4L1827.6,220.9L1829.5,222.4L1831.4,223.7L1833.2,225L1835.1,226.2L1836.8,227.3L1838.4,228.3L1839.9,229.2L1841.2,229.9L1844.3,231.3L1846.2,231.5L1848,231.5L1850,231.7L1851.9,231.5L1854,231L1855.8,230.5L1857.8,229.8L1859.9,229L1862,228.2L1864.1,227.3L1866.3,226.4L1868.7,225.4L1871.3,224.1L1873,223.2L1874.7,222.2L1876.6,221.1L1878.5,220L1880.5,218.8L1882.4,217.5L1884.2,216.1L1886.1,214.5L1888,212.7L1890,210.7L1891.9,208.8L1893.7,207L1895.1,205.5L1896.2,204.4L1896.2,239.6L1895.1,240.4L1893.7,241.4L1891.9,242.7L1890,244.1L1888,245.5L1886.1,246.7L1884.2,247.7L1882.4,248.6L1880.5,249.3L1878.5,249.9L1876.6,250.5L1874.7,251L1873,251.5L1871.3,251.9L1868.7,252.4L1866.3,252.8L1864.1,253L1862,253.2L1859.9,253.4L1857.8,253.6L1855.8,253.7L1854,253.7L1851.9,253.5L1850,253.2L1848,253L1846.2,253L1844.3,252.8L1841.2,251.4L1839.9,250.7L1838.4,249.8L1836.8,248.8L1835.1,247.7L1833.2,246.5L1831.4,245.2L1829.5,243.9L1827.6,242.5L1825.8,241L1824,239.4L1822.6,238.1L1821.1,236.7L1819.7,235.2L1818.3,233.6L1816.8,232L1815.4,230.4L1814,228.7L1812.5,227L1811.1,225.3L1809.7,223.6L1808.2,221.8L1806.8,220.2L1805.5,218.6L1804.2,216.9L1802.8,215.2L1801.5,213.5L1800.2,211.8L1798.9,210L1797.5,208.3L1796.2,206.6L1794.9,205L1793.6,203.4L1792.2,201.9L1790.9,200.4L1789.6,199.1L1787.9,197.5L1786.2,196L1784.4,194.6L1782.7,193.2L1781,192L1779.3,190.9L1777.6,189.8L1775.8,188.8L1774.1,187.9L1772.4,187.1L1770.4,186.3L1768.4,185.6L1766.4,185L1764.3,184.6L1762.3,184.2L1760.3,183.9L1758.5,183.5L1756.8,183.3L1755.2,182.9L1752.3,182.3L1750,181.9L1748,181.6L1746,181.3L1743.9,181L1741.9,180.8L1740,180.6L1738,180.8L1736,181.2L1734.1,181.9L1732.1,182.8L1730,183.7L1728.4,184.4L1726.8,185.1L1725.1,185.9L1723.2,187.1L1720.8,188.9L1719.6,189.8L1718.4,190.8L1717.1,191.9L1715.7,193.1L1714.2,194.3L1712.7,195.7L1711.2,197.1L1709.6,198.5L1708.1,200L1706.6,201.6L1705.1,203.2L1703.6,204.9L1702.5,206.2L1701.3,207.7L1700.2,209.2L1699,210.7L1697.9,212.3L1696.7,214L1695.6,215.7L1694.4,217.4L1693.3,219.1L1692.1,220.8L1691,222.5L1689.8,224.3L1688.7,226L1687.5,227.7L1686.4,229.4L1685.3,231.1L1684.1,232.8L1683,234.5L1681.8,236.3L1680.7,238.1L1679.5,239.9L1678.4,241.6L1677.2,243.4L1676.1,245.2L1674.9,246.9L1673.8,248.6L1672.6,250.2L1671.5,251.8L1670.3,253.3L1669.2,254.8L1667.7,256.5L1666.2,258.2L1664.7,259.8L1663.2,261.4L1661.6,262.9L1660.1,264.3L1658.6,265.7L1657.1,267L1655.7,268.2L1654.4,269.4L1653.1,270.5L1652,271.6L1649.6,273.6L1647.7,275.1L1646.1,276.3L1644.6,277.3L1643,278.5L1640.9,280.1L1639,281.6L1637.1,283L1635.6,284.5L1634.1,286.6L1633.1,288.7L1632,290.5L1630.4,292.6L1628.3,294.4L1626.1,295.5L1623.5,296.5L1621,297.5L1618.4,298.6L1615.8,299.7L1614,300.5Z" fill="#cfcfea" opacity="0.5"/>
<path d="M1614,283L1615.8,282.2L1618.4,281.1L1621,280L1623.5,279L1626.1,278L1628.3,276.9L1630.4,275.1L1632,273L1633.1,271.2L1634.1,269.1L1635.6,267L1637.1,265.5L1639,264.1L1640.9,262.6L1643,261L1644.6,259.8L1646.1,258.7L1647.7,257.5L1649.6,256L1652,254L1653.1,252.9L1654.4,251.8L1655.7,250.6L1657.1,249.4L1658.6,248L1660.1,246.6L1661.6,245.1L1663.2,243.6L1664.7,242L1666.2,240.3L1667.7,238.6L1669.2,236.8L1670.3,235.4L1671.5,233.8L1672.6,232.2L1673.8,230.5L1674.9,228.7L1676.1,227L1677.2,225.1L1678.4,223.3L1679.5,221.5L1680.7,219.6L1681.8,217.7L1683,215.9L1684.1,214L1685.3,212.2L1686.4,210.5L1687.5,208.7L1688.7,206.9L1689.8,205L1691,203.2L1692.1,201.3L1693.3,199.5L1694.4,197.6L1695.6,195.8L1696.7,194L1697.9,192.2L1699,190.5L1700.2,188.8L1701.3,187.1L1702.5,185.5L1703.6,184L1705.1,182.2L1706.6,180.3L1708.1,178.6L1709.6,176.9L1711.2,175.2L1712.7,173.6L1714.2,172.1L1715.7,170.7L1717.1,169.3L1718.4,168.1L1719.6,166.9L1720.8,165.9L1723.2,163.9L1725.1,162.6L1726.8,161.7L1728.4,160.9L1730,160.1L1732.1,159.1L1734.1,158.2L1736,157.5L1738,157.1L1740,157L1741.9,157.2L1743.9,157.6L1746,158.1L1748,158.5L1750,159L1752.3,159.7L1755.2,160.6L1756.8,161.1L1758.5,161.7L1760.3,162.2L1762.3,162.8L1764.3,163.5L1766.4,164.2L1768.4,165L1770.4,165.9L1772.4,167L1774.1,168L1775.8,169.1L1777.6,170.3L1779.3,171.5L1781,172.9L1782.7,174.2L1784.4,175.7L1786.2,177.3L1787.9,178.9L1789.6,180.6L1790.9,182L1792.2,183.6L1793.6,185.1L1794.9,186.8L1796.2,188.5L1797.5,190.3L1798.9,192L1800.2,193.8L1801.5,195.6L1802.8,197.4L1804.2,199.1L1805.5,200.8L1806.8,202.4L1808.2,204.1L1809.7,205.9L1811.1,207.6L1812.5,209.3L1814,211.1L1815.4,212.8L1816.8,214.4L1818.3,216L1819.7,217.6L1821.1,219.1L1822.6,220.5L1824,221.9L1825.8,223.4L1827.6,224.9L1829.5,226.4L1831.4,227.7L1833.2,229L1835.1,230.2L1836.8,231.3L1838.4,232.3L1839.9,233.2L1841.2,233.9L1844.3,235.3L1846.2,235.5L1848,235.5L1850,235.7L1851.9,235.6L1854,235.2L1855.8,234.8L1857.8,234.3L1859.9,233.6L1862,232.9L1864.1,232.2L1866.3,231.4L1868.7,230.5L1871.3,229.4L1873,228.6L1874.7,227.7L1876.6,226.7L1878.5,225.7L1880.5,224.6L1882.4,223.4L1884.2,222.2L1886.1,220.7L1888,219L1890,217.2L1891.9,215.3L1893.7,213.6L1895.1,212.2L1896.2,211.2L1896.2,233.6L1895.1,234.4L1893.7,235.6L1891.9,237L1890,238.5L1888,239.9L1886.1,241.3L1884.2,242.4L1882.4,243.3L1880.5,244.2L1878.5,244.9L1876.6,245.6L1874.7,246.2L1873,246.7L1871.3,247.2L1868.7,247.9L1866.3,248.4L1864.1,248.8L1862,249.1L1859.9,249.4L1857.8,249.7L1855.8,249.9L1854,250L1851.9,249.9L1850,249.7L1848,249.5L1846.2,249.5L1844.3,249.3L1841.2,247.9L1839.9,247.2L1838.4,246.3L1836.8,245.3L1835.1,244.2L1833.2,243L1831.4,241.7L1829.5,240.4L1827.6,239L1825.8,237.5L1824,235.9L1822.6,234.6L1821.1,233.1L1819.7,231.6L1818.3,230.1L1816.8,228.5L1815.4,226.8L1814,225.2L1812.5,223.5L1811.1,221.7L1809.7,220L1808.2,218.3L1806.8,216.6L1805.5,215L1804.2,213.3L1802.8,211.6L1801.5,209.9L1800.2,208.2L1798.9,206.4L1797.5,204.7L1796.2,203L1794.9,201.3L1793.6,199.7L1792.2,198.2L1790.9,196.7L1789.6,195.4L1787.9,193.7L1786.2,192.2L1784.4,190.8L1782.7,189.4L1781,188.1L1779.3,187L1777.6,185.9L1775.8,184.8L1774.1,183.9L1772.4,183L1770.4,182.1L1768.4,181.4L1766.4,180.8L1764.3,180.3L1762.3,179.8L1760.3,179.4L1758.5,179.1L1756.8,178.7L1755.2,178.4L1752.3,177.7L1750,177.2L1748,176.8L1746,176.5L1743.9,176.2L1741.9,175.9L1740,175.8L1738,175.9L1736,176.3L1734.1,177L1732.1,177.9L1730,178.9L1728.4,179.6L1726.8,180.3L1725.1,181.1L1723.2,182.3L1720.8,184.1L1719.6,185.1L1718.4,186.1L1717.1,187.3L1715.7,188.5L1714.2,189.8L1712.7,191.1L1711.2,192.6L1709.6,194.1L1708.1,195.6L1706.6,197.2L1705.1,198.9L1703.6,200.6L1702.5,202L1701.3,203.5L1700.2,205L1699,206.6L1697.9,208.2L1696.7,209.9L1695.6,211.6L1694.4,213.4L1693.3,215.1L1692.1,216.9L1691,218.6L1689.8,220.4L1688.7,222.1L1687.5,223.8L1686.4,225.5L1685.3,227.3L1684.1,229L1683,230.8L1681.8,232.6L1680.7,234.4L1679.5,236.2L1678.4,238L1677.2,239.7L1676.1,241.5L1674.9,243.2L1673.8,244.9L1672.6,246.6L1671.5,248.2L1670.3,249.7L1669.2,251.2L1667.7,252.9L1666.2,254.6L1664.7,256.2L1663.2,257.8L1661.6,259.3L1660.1,260.8L1658.6,262.1L1657.1,263.5L1655.7,264.7L1654.4,265.9L1653.1,267L1652,268L1649.6,270.1L1647.7,271.6L1646.1,272.8L1644.6,273.8L1643,275L1640.9,276.6L1639,278.1L1637.1,279.5L1635.6,281L1634.1,283.1L1633.1,285.2L1632,287L1630.4,289.1L1628.3,290.9L1626.1,292L1623.5,293L1621,294L1618.4,295.1L1615.8,296.2L1614,297Z" fill="#b9b9e0" opacity="0.45"/>
<path d="M1614,283L1615.8,283.4L1618.4,284.1L1621,284.5L1623.4,284.9L1625.8,285.2L1628.3,284.5L1629.8,283.3L1631.4,281.6L1632.9,279.7L1634.5,277.7L1636,276L1637.4,274.5L1638.8,273L1640.2,271.6L1641.7,270.2L1643.4,269L1645.3,267.9L1647.4,266.9L1649.6,265.9L1651.8,265L1654,264L1655.7,263.2L1657.4,262.5L1659,261.8L1660.8,261L1662.7,259.9L1664.9,258.4L1666.2,257.4L1667.6,256.3L1669.1,255.1L1670.7,253.8L1672.2,252.5L1673.9,251L1675.5,249.6L1677.2,248.1L1678.8,246.5L1680.4,245L1682,243.4L1683.4,241.9L1684.8,240.4L1686.2,238.9L1687.6,237.3L1689,235.7L1690.4,234.1L1691.8,232.5L1693.2,230.8L1694.7,229.1L1696.2,227.4L1697.7,225.7L1699.3,224L1700.6,222.6L1702,221.2L1703.3,219.7L1704.7,218.2L1706.2,216.7L1707.6,215.2L1709.1,213.7L1710.5,212.2L1712,210.7L1713.5,209.2L1715,207.8L1716.4,206.4L1717.9,205L1719.4,203.7L1720.8,202.4L1722.5,201L1724.3,199.7L1726.1,198.3L1727.9,197L1729.7,195.8L1731.6,194.5L1733.4,193.3L1735.1,192.1L1736.8,191L1738.3,189.9L1739.8,188.9L1741.1,187.9L1742.3,186.9L1744.6,184.9L1746.1,183.3L1747.1,182L1747.9,180.6L1749,179L1750.3,177.1L1751.5,175L1752.7,172.8L1753.9,170.7L1755.2,168.9L1756.9,166.8L1758.6,165L1760.3,163.4L1762,162L1764,160.5L1766,159.3L1768,158.3L1770.3,157.4L1772.7,156.5L1775,155.9L1777,155.4L1779,155.1L1781,155.2L1783.3,155.7L1785.7,156.5L1788,157.7L1789.5,158.8L1790.9,160.1L1792.3,161.6L1793.9,163.5L1795.1,165L1796.4,166.6L1797.8,168.3L1799.2,170.2L1800.6,172.1L1802,174.2L1803,175.7L1804,177.2L1804.9,178.8L1805.9,180.4L1807,182.2L1808.1,184.1L1809.5,186.2L1811,188.5L1812,190L1813,191.6L1814.2,193.2L1815.3,195L1816.6,196.8L1817.8,198.7L1819.1,200.6L1820.5,202.5L1821.8,204.4L1823.1,206.3L1824.4,208.1L1825.8,209.8L1827,211.5L1828.3,213.1L1829.8,214.8L1831.3,216.5L1832.8,218.2L1834.3,219.9L1835.9,221.5L1837.4,223.1L1838.9,224.6L1840.3,226L1841.7,227.3L1843.1,228.5L1844.3,229.5L1845.5,230.5L1847.9,232.1L1849.9,233L1851.7,233.4L1853.3,233.7L1855,234L1857.7,234.5L1860.2,234.8L1862.7,234.8L1864.7,234.7L1866.8,234.4L1868.9,234.1L1871,233.5L1873,232.8L1874.9,232.1L1877.1,231.1L1879.9,229.6L1881.5,228.7L1883.3,227.6L1885.4,226.4L1887.5,225.1L1889.7,223.8L1891.7,222.5L1893.5,221.3L1895.1,220.4L1896.2,219.7L1896.2,231.7L1895.1,232.4L1893.5,233.3L1891.7,234.5L1889.7,235.8L1887.5,237.1L1885.4,238.4L1883.3,239.6L1881.5,240.7L1879.9,241.6L1877.1,243.1L1874.9,244.1L1873,244.8L1871,245.5L1868.9,246.1L1866.8,246.4L1864.7,246.7L1862.7,246.8L1860.2,246.8L1857.7,246.5L1855,246L1853.3,245.7L1851.7,245.5L1849.9,245L1847.9,244.1L1845.5,242.5L1844.3,241.6L1843.1,240.5L1841.7,239.3L1840.3,238L1838.9,236.6L1837.4,235.2L1835.9,233.6L1834.3,232L1832.8,230.4L1831.3,228.7L1829.8,227L1828.3,225.3L1827,223.8L1825.8,222.2L1824.4,220.5L1823.1,218.7L1821.8,216.9L1820.5,215.1L1819.1,213.2L1817.8,211.4L1816.6,209.6L1815.3,207.8L1814.2,206.1L1813,204.5L1812,203L1811,201.6L1809.5,199.4L1808.1,197.4L1807,195.6L1805.9,193.9L1804.9,192.4L1804,190.9L1803,189.5L1802,188L1800.6,186.1L1799.2,184.2L1797.8,182.5L1796.4,180.9L1795.1,179.4L1793.9,178L1792.3,176.2L1790.9,174.8L1789.5,173.5L1788,172.5L1785.7,171.4L1783.3,170.6L1781,170.2L1779,170.1L1777,170.4L1775,170.8L1772.7,171.3L1770.3,172L1768,172.8L1766,173.7L1764,174.7L1762,176L1760.3,177.3L1758.6,178.7L1756.9,180.4L1755.2,182.3L1753.9,184.1L1752.7,186L1751.5,188.1L1750.3,190.1L1749,192L1747.9,193.5L1747.1,194.8L1746.1,196.1L1744.6,197.6L1742.3,199.5L1741.1,200.4L1739.8,201.3L1738.3,202.3L1736.8,203.3L1735.1,204.4L1733.4,205.5L1731.6,206.7L1729.7,207.9L1727.9,209.2L1726.1,210.4L1724.3,211.8L1722.5,213.1L1720.8,214.5L1719.4,215.7L1717.9,217.1L1716.4,218.4L1715,219.8L1713.5,221.3L1712,222.7L1710.5,224.2L1709.1,225.7L1707.6,227.2L1706.2,228.7L1704.7,230.2L1703.3,231.7L1702,233.2L1700.6,234.6L1699.3,236L1697.7,237.7L1696.2,239.4L1694.7,241.1L1693.2,242.8L1691.8,244.5L1690.4,246.1L1689,247.7L1687.6,249.3L1686.2,250.9L1684.8,252.4L1683.4,253.9L1682,255.4L1680.4,257L1678.8,258.5L1677.2,260.1L1675.5,261.6L1673.9,263L1672.2,264.5L1670.7,265.8L1669.1,267.1L1667.6,268.3L1666.2,269.4L1664.9,270.4L1662.7,271.9L1660.8,273L1659,273.8L1657.4,274.5L1655.7,275.2L1654,276L1651.8,277L1649.6,277.9L1647.4,278.9L1645.3,279.9L1643.4,281L1641.7,282.2L1640.2,283.6L1638.8,285L1637.4,286.5L1636,288L1634.5,289.7L1632.9,291.7L1631.4,293.6L1629.8,295.3L1628.3,296.5L1625.8,297.2L1623.4,296.9L1621,296.5L1618.4,296.1L1615.8,295.4L1614,295Z" fill="#e2e2e2" opacity="0.8"/>
<path d="M1614,289L1615.8,289.4L1618.4,290.1L1621,290.5L1623.4,290.9L1625.8,291.2L1628.3,290.5L1629.8,289.3L1631.4,287.6L1632.9,285.7L1634.5,283.7L1636,282L1637.4,280.5L1638.8,279L1640.2,277.6L1641.7,276.2L1643.4,275L1645.3,273.9L1647.4,272.9L1649.6,271.9L1651.8,271L1654,270L1655.7,269.2L1657.4,268.5L1659,267.8L1660.8,267L1662.7,265.9L1664.9,264.4L1666.2,263.4L1667.6,262.3L1669.1,261.1L1670.7,259.8L1672.2,258.5L1673.9,257L1675.5,255.6L1677.2,254.1L1678.8,252.5L1680.4,251L1682,249.4L1683.4,247.9L1684.8,246.4L1686.2,244.9L1687.6,243.3L1689,241.7L1690.4,240.1L1691.8,238.5L1693.2,236.8L1694.7,235.1L1696.2,233.4L1697.7,231.7L1699.3,230L1700.6,228.6L1702,227.2L1703.3,225.7L1704.7,224.2L1706.2,222.7L1707.6,221.2L1709.1,219.7L1710.5,218.2L1712,216.7L1713.5,215.3L1715,213.8L1716.4,212.4L1717.9,211.1L1719.4,209.7L1720.8,208.5L1722.5,207.1L1724.3,205.8L1726.1,204.4L1727.9,203.2L1729.7,201.9L1731.6,200.7L1733.4,199.5L1735.1,198.4L1736.8,197.3L1738.3,196.3L1739.8,195.3L1741.1,194.4L1742.3,193.5L1744.6,191.6L1746.1,190.1L1747.1,188.8L1747.9,187.5L1749,186L1750.3,184.1L1751.5,182.1L1752.7,180L1753.9,178.1L1755.2,176.3L1756.9,174.4L1758.6,172.7L1760.3,171.3L1762,170L1764,168.7L1766,167.7L1768,166.8L1770.3,166L1772.7,165.3L1775,164.8L1777,164.4L1779,164.1L1781,164.2L1783.3,164.6L1785.7,165.4L1788,166.5L1789.5,167.5L1790.9,168.8L1792.3,170.2L1793.9,172L1795.1,173.4L1796.4,174.9L1797.8,176.5L1799.2,178.2L1800.6,180.1L1802,182L1803,183.5L1804,184.9L1804.9,186.4L1805.9,187.9L1807,189.6L1808.1,191.4L1809.5,193.4L1811,195.6L1812,197L1813,198.5L1814.2,200.1L1815.3,201.8L1816.6,203.6L1817.8,205.4L1819.1,207.2L1820.5,209.1L1821.8,210.9L1823.1,212.7L1824.4,214.5L1825.8,216.2L1827,217.8L1828.3,219.3L1829.8,221L1831.3,222.7L1832.8,224.4L1834.3,226L1835.9,227.6L1837.4,229.2L1838.9,230.6L1840.3,232L1841.7,233.3L1843.1,234.5L1844.3,235.6L1845.5,236.5L1847.9,238.1L1849.9,239L1851.7,239.5L1853.3,239.7L1855,240L1857.7,240.5L1860.2,240.8L1862.7,240.8L1864.7,240.7L1866.8,240.4L1868.9,240.1L1871,239.5L1873,238.8L1874.9,238.1L1877.1,237.1L1879.9,235.6L1881.5,234.7L1883.3,233.6L1885.4,232.4L1887.5,231.1L1889.7,229.8L1891.7,228.5L1893.5,227.3L1895.1,226.4L1896.2,225.7" fill="none" stroke="#4a4a4c" stroke-width="3.6" stroke-linejoin="round" stroke-linecap="butt"/>
<path d="M1614.8,290.8L1616.6,290L1619.1,288.9L1621.8,287.9L1624.5,287.3L1627.4,286.5L1630.1,285.4L1632.8,283.6L1634.9,281.2L1636.3,279.2L1637.4,277.3L1638.8,275.6L1640.2,274.7L1641.9,273.6L1643.9,272.5L1646.1,271.2L1647.8,270.2L1649.4,269.2L1651.2,268L1653.2,266.4L1655.6,264.2L1656.9,263.1L1658.1,262L1659.5,260.8L1660.9,259.6L1662.4,258.2L1663.9,256.8L1665.5,255.2L1667.1,253.6L1668.8,252L1670.4,250.2L1672,248.4L1673.6,246.5L1674.8,244.9L1676,243.3L1677.2,241.6L1678.4,239.9L1679.6,238.1L1680.8,236.3L1681.9,234.5L1683.1,232.6L1684.3,230.8L1685.4,229L1686.6,227.1L1687.7,225.3L1688.8,223.5L1690,221.8L1691.1,220.1L1692.2,218.3L1693.4,216.5L1694.6,214.7L1695.7,212.9L1696.9,211.1L1698,209.3L1699.1,207.5L1700.3,205.8L1701.4,204L1702.5,202.4L1703.6,200.7L1704.7,199.1L1705.8,197.6L1706.9,196.2L1708,194.8L1709.3,193.1L1710.8,191.5L1712.2,189.9L1713.7,188.3L1715.1,186.8L1716.6,185.4L1718.1,184L1719.5,182.7L1720.8,181.4L1722.1,180.3L1723.3,179.3L1724.3,178.4L1726.4,176.7L1728.1,175.6L1729.4,174.9L1730.8,174.3L1732.3,173.6L1734.3,172.6L1736,171.8L1737.5,171.3L1738.7,171.1L1740,171L1741.4,171.1L1743,171.4L1745,171.8L1746.9,172.2L1748.7,172.6L1750.9,173.1L1753.8,173.9L1755.3,174.3L1757.1,174.8L1759,175.2L1760.8,175.7L1762.7,176.2L1764.6,176.8L1766.4,177.4L1768.2,178.2L1769.9,179L1771.4,179.8L1772.9,180.7L1774.5,181.8L1776.1,182.8L1777.6,184L1779.2,185.2L1780.8,186.5L1782.4,187.9L1784,189.4L1785.6,190.9L1786.8,192.2L1788,193.5L1789.3,195L1790.5,196.6L1791.8,198.2L1793.1,199.9L1794.4,201.6L1795.7,203.4L1797,205.1L1798.4,206.9L1799.7,208.7L1801.1,210.4L1802.5,212.1L1803.9,213.8L1805.4,215.5L1806.8,217.3L1808.2,219L1809.7,220.7L1811.2,222.4L1812.6,224.1L1814.1,225.8L1815.6,227.5L1817.1,229L1818.7,230.6L1820.3,232.1L1822.2,233.7L1824.1,235.3L1826.1,236.9L1828.2,238.3L1830.1,239.7L1832,240.9L1833.8,242.1L1835.5,243.1L1837.3,244.1L1839.1,245.1L1842.7,246.6L1845,246.9L1847.6,247.1L1849.9,247.3L1852,247.3L1854.5,247.2L1856.7,246.9L1858.9,246.5L1861.1,246L1863.3,245.4L1865.6,244.9L1867.9,244.3L1870.4,243.6L1873.2,242.6L1875,241.9L1876.9,241.1L1878.9,240.3L1880.9,239.3L1882.9,238.1L1884.9,236.7L1886.8,235.3L1888.7,233.6L1890.7,231.8L1892.6,229.8L1894.3,227.9L1895.9,226.2L1897.2,224.7L1898.2,223.7" fill="none" stroke="#5fc8d8" stroke-width="3.2" stroke-linejoin="round" stroke-linecap="butt"/>
<path d="M1614.7,290.6L1616.5,289.8L1619,288.7L1621.7,287.7L1624.4,287L1627.3,286.2L1629.9,285.1L1632.5,283.3L1634.6,280.9L1635.9,278.9L1637,277L1638.4,275.3L1639.8,274.3L1641.5,273.2L1643.6,272L1645.7,270.6L1647.4,269.6L1649,268.7L1650.8,267.4L1652.8,265.8L1655.2,263.7L1656.4,262.6L1657.7,261.5L1659,260.3L1660.4,259L1661.9,257.7L1663.5,256.2L1665,254.7L1666.6,253.1L1668.3,251.5L1669.9,249.7L1671.5,247.9L1673,246.1L1674.2,244.5L1675.5,242.9L1676.7,241.2L1677.8,239.5L1679,237.7L1680.2,235.9L1681.4,234.1L1682.5,232.3L1683.7,230.4L1684.8,228.6L1686,226.8L1687.1,224.9L1688.2,223.2L1689.4,221.4L1690.5,219.7L1691.7,217.9L1692.8,216.2L1694,214.3L1695.1,212.5L1696.3,210.7L1697.4,208.9L1698.5,207.1L1699.7,205.4L1700.8,203.7L1701.9,202L1703,200.3L1704.2,198.7L1705.3,197.2L1706.3,195.8L1707.4,194.4L1708.8,192.7L1710.2,191L1711.7,189.4L1713.2,187.9L1714.7,186.3L1716.1,184.9L1717.6,183.5L1719,182.2L1720.4,180.9L1721.7,179.8L1722.8,178.7L1723.8,177.9L1726,176.1L1727.7,175L1729.1,174.3L1730.5,173.7L1732,173L1734,172L1735.8,171.2L1737.3,170.7L1738.6,170.4L1740,170.3L1741.4,170.5L1743.2,170.8L1745.1,171.1L1747,171.5L1748.9,171.9L1751.1,172.4L1753.9,173.2L1755.5,173.7L1757.3,174.1L1759.1,174.6L1761,175L1762.9,175.6L1764.8,176.1L1766.6,176.8L1768.4,177.5L1770.2,178.4L1771.7,179.2L1773.3,180.2L1774.9,181.2L1776.5,182.3L1778.1,183.4L1779.7,184.7L1781.3,186L1782.9,187.4L1784.5,188.9L1786.1,190.5L1787.3,191.7L1788.6,193.1L1789.8,194.6L1791.1,196.1L1792.3,197.8L1793.6,199.4L1794.9,201.2L1796.3,202.9L1797.6,204.7L1798.9,206.5L1800.3,208.2L1801.7,210L1803,211.6L1804.5,213.3L1805.9,215.1L1807.3,216.8L1808.8,218.5L1810.2,220.3L1811.7,222L1813.2,223.7L1814.6,225.3L1816.1,227L1817.6,228.6L1819.2,230.1L1820.7,231.5L1822.6,233.2L1824.6,234.8L1826.6,236.3L1828.6,237.7L1830.5,239.1L1832.4,240.3L1834.2,241.5L1835.9,242.5L1837.6,243.5L1839.3,244.4L1842.9,246L1845.2,246.3L1847.7,246.4L1849.9,246.6L1852,246.6L1854.5,246.5L1856.6,246.2L1858.8,245.8L1860.9,245.3L1863.1,244.8L1865.4,244.2L1867.7,243.6L1870.2,242.9L1872.9,241.9L1874.7,241.2L1876.6,240.5L1878.6,239.7L1880.6,238.7L1882.6,237.5L1884.5,236.2L1886.5,234.8L1888.4,233.2L1890.3,231.3L1892.2,229.4L1894,227.6L1895.6,225.9L1897,224.4L1898,223.4" fill="none" stroke="#4cc3ea" stroke-width="3.2" stroke-linejoin="round" stroke-linecap="butt"/>
<path d="M1614.6,290.4L1616.4,289.6L1619,288.5L1621.6,287.5L1624.3,286.7L1627.1,285.9L1629.7,284.9L1632.2,283L1634.2,280.7L1635.5,278.7L1636.6,276.8L1638,275L1639.5,273.9L1641.2,272.8L1643.2,271.5L1645.4,270.2L1647,269.2L1648.7,268.2L1650.4,267L1652.4,265.4L1654.8,263.3L1656,262.2L1657.3,261.1L1658.6,259.9L1660,258.6L1661.5,257.2L1663,255.8L1664.6,254.3L1666.2,252.7L1667.8,251.1L1669.4,249.3L1671,247.6L1672.5,245.7L1673.8,244.1L1675,242.5L1676.2,240.8L1677.3,239.1L1678.5,237.4L1679.7,235.6L1680.9,233.8L1682,231.9L1683.2,230.1L1684.3,228.3L1685.5,226.4L1686.6,224.6L1687.7,222.8L1688.9,221.1L1690,219.4L1691.1,217.6L1692.3,215.8L1693.5,214L1694.6,212.2L1695.8,210.4L1696.9,208.6L1698,206.8L1699.2,205.1L1700.3,203.3L1701.4,201.6L1702.6,200L1703.7,198.4L1704.8,196.8L1705.9,195.4L1706.9,194L1708.3,192.3L1709.8,190.6L1711.2,189L1712.7,187.4L1714.2,185.9L1715.7,184.5L1717.2,183.1L1718.6,181.7L1720,180.5L1721.3,179.3L1722.4,178.3L1723.5,177.4L1725.7,175.6L1727.4,174.5L1728.8,173.8L1730.2,173.1L1731.8,172.4L1733.8,171.4L1735.6,170.6L1737.1,170.1L1738.6,169.8L1740,169.7L1741.5,169.9L1743.2,170.2L1745.2,170.5L1747.1,170.9L1749,171.3L1751.2,171.8L1754.1,172.7L1755.7,173.1L1757.4,173.5L1759.3,174L1761.2,174.5L1763.1,175L1765,175.6L1766.9,176.2L1768.7,177L1770.4,177.8L1772,178.7L1773.6,179.6L1775.2,180.7L1776.8,181.8L1778.4,182.9L1780,184.2L1781.7,185.5L1783.3,186.9L1784.9,188.4L1786.5,190L1787.8,191.3L1789,192.7L1790.3,194.2L1791.5,195.7L1792.8,197.4L1794.1,199.1L1795.4,200.8L1796.7,202.6L1798.1,204.4L1799.4,206.1L1800.8,207.9L1802.1,209.6L1803.5,211.2L1804.9,213L1806.4,214.7L1807.8,216.4L1809.2,218.2L1810.7,219.9L1812.1,221.6L1813.6,223.3L1815.1,224.9L1816.6,226.6L1818.1,228.1L1819.6,229.7L1821.1,231.1L1823,232.7L1824.9,234.3L1826.9,235.8L1828.9,237.2L1830.8,238.6L1832.7,239.8L1834.5,240.9L1836.2,242L1837.9,243L1839.6,243.9L1843.1,245.4L1845.3,245.7L1847.7,245.8L1849.9,246L1852,246L1854.4,245.9L1856.5,245.6L1858.6,245.2L1860.8,244.7L1863,244.2L1865.2,243.6L1867.5,243.1L1870,242.3L1872.7,241.4L1874.5,240.7L1876.4,239.9L1878.3,239.1L1880.3,238.2L1882.3,237L1884.3,235.7L1886.2,234.3L1888.1,232.8L1890,231L1892,229.1L1893.8,227.3L1895.4,225.6L1896.8,224.2L1897.8,223.2" fill="none" stroke="#5b9be6" stroke-width="3.2" stroke-linejoin="round" stroke-linecap="butt"/>
<path d="M1614.5,290.2L1616.3,289.4L1618.9,288.3L1621.5,287.2L1624.2,286.5L1627,285.6L1629.5,284.5L1631.9,282.7L1633.9,280.4L1635.1,278.5L1636.2,276.5L1637.6,274.7L1639.1,273.6L1640.8,272.4L1642.9,271.1L1645,269.7L1646.6,268.6L1648.2,267.6L1650,266.4L1651.9,264.8L1654.3,262.7L1655.5,261.7L1656.8,260.5L1658.1,259.3L1659.5,258.1L1661,256.7L1662.6,255.3L1664.1,253.8L1665.7,252.2L1667.3,250.6L1668.9,248.9L1670.5,247.1L1672,245.3L1673.2,243.7L1674.4,242.1L1675.6,240.4L1676.8,238.7L1677.9,237L1679.1,235.2L1680.3,233.4L1681.4,231.6L1682.6,229.7L1683.7,227.9L1684.9,226.1L1686,224.3L1687.1,222.5L1688.3,220.7L1689.4,219L1690.6,217.2L1691.7,215.4L1692.9,213.6L1694,211.8L1695.2,210L1696.3,208.2L1697.5,206.4L1698.6,204.7L1699.7,202.9L1700.9,201.2L1702,199.6L1703.1,198L1704.2,196.4L1705.3,195L1706.4,193.6L1707.8,191.9L1709.3,190.2L1710.7,188.5L1712.2,187L1713.7,185.4L1715.2,184L1716.7,182.6L1718.1,181.2L1719.5,180L1720.8,178.8L1722,177.7L1723,176.8L1725.2,175L1727,173.9L1728.5,173.1L1729.9,172.5L1731.5,171.8L1733.5,170.8L1735.3,170L1736.9,169.4L1738.5,169.1L1740,169L1741.6,169.2L1743.4,169.5L1745.3,169.8L1747.3,170.2L1749.2,170.6L1751.4,171.2L1754.3,172L1755.8,172.4L1757.6,172.8L1759.4,173.3L1761.4,173.8L1763.3,174.3L1765.2,174.9L1767.1,175.6L1769,176.3L1770.8,177.2L1772.3,178.1L1773.9,179L1775.6,180.1L1777.2,181.2L1778.8,182.4L1780.5,183.6L1782.1,185L1783.8,186.4L1785.4,187.9L1787,189.5L1788.3,190.8L1789.5,192.2L1790.8,193.7L1792.1,195.3L1793.4,197L1794.7,198.7L1796,200.4L1797.3,202.2L1798.6,203.9L1800,205.7L1801.3,207.4L1802.7,209.2L1804,210.8L1805.5,212.5L1806.9,214.2L1808.3,216L1809.8,217.7L1811.2,219.4L1812.7,221.1L1814.1,222.8L1815.6,224.5L1817.1,226.1L1818.6,227.6L1820.1,229.1L1821.6,230.6L1823.4,232.2L1825.4,233.8L1827.3,235.3L1829.3,236.7L1831.2,238L1833.1,239.2L1834.9,240.4L1836.6,241.4L1838.2,242.3L1839.8,243.2L1843.3,244.7L1845.5,245L1847.8,245.1L1849.9,245.3L1852,245.3L1854.3,245.2L1856.4,244.9L1858.5,244.5L1860.6,244L1862.8,243.5L1865.1,243L1867.3,242.4L1869.8,241.7L1872.5,240.7L1874.3,240L1876.1,239.3L1878.1,238.5L1880,237.5L1882,236.4L1884,235.2L1885.9,233.8L1887.8,232.3L1889.7,230.6L1891.7,228.7L1893.5,226.9L1895.1,225.3L1896.5,223.9L1897.5,222.9" fill="none" stroke="#6a8fe0" stroke-width="3.2" stroke-linejoin="round" stroke-linecap="butt"/>
<path d="M1614.4,289.9L1616.2,289.1L1618.8,288L1621.4,287L1624,286.1L1626.8,285.2L1629.2,284.2L1631.6,282.3L1633.5,280.1L1634.7,278.2L1635.7,276.2L1637.2,274.3L1638.6,273.1L1640.4,271.9L1642.4,270.5L1644.5,269.1L1646.2,268L1647.8,267L1649.5,265.8L1651.4,264.2L1653.8,262.1L1655,261.1L1656.3,259.9L1657.6,258.7L1659,257.5L1660.5,256.1L1662,254.7L1663.6,253.2L1665.2,251.7L1666.7,250L1668.3,248.3L1669.9,246.6L1671.4,244.8L1672.6,243.2L1673.8,241.6L1674.9,240L1676.1,238.3L1677.3,236.5L1678.4,234.8L1679.6,233L1680.7,231.1L1681.9,229.3L1683,227.5L1684.2,225.6L1685.3,223.8L1686.5,222L1687.6,220.3L1688.7,218.5L1689.9,216.8L1691,215L1692.2,213.2L1693.3,211.4L1694.5,209.6L1695.6,207.8L1696.8,206L1697.9,204.2L1699.1,202.5L1700.2,200.8L1701.3,199.1L1702.4,197.5L1703.6,196L1704.7,194.5L1705.8,193.1L1707.2,191.3L1708.7,189.6L1710.1,188L1711.7,186.4L1713.2,184.9L1714.7,183.4L1716.1,182L1717.6,180.6L1718.9,179.4L1720.3,178.2L1721.5,177.1L1722.5,176.2L1724.8,174.4L1726.6,173.2L1728.1,172.4L1729.6,171.8L1731.2,171L1733.2,170.1L1735.1,169.2L1736.7,168.6L1738.4,168.3L1740,168.2L1741.6,168.4L1743.5,168.7L1745.5,169.1L1747.4,169.4L1749.4,169.8L1751.6,170.4L1754.5,171.2L1756,171.6L1757.8,172.1L1759.6,172.5L1761.6,173L1763.5,173.5L1765.5,174.1L1767.4,174.8L1769.3,175.6L1771.1,176.5L1772.7,177.4L1774.4,178.4L1776,179.4L1777.7,180.5L1779.3,181.7L1781,183L1782.6,184.4L1784.3,185.8L1786,187.4L1787.6,189L1788.9,190.3L1790.1,191.7L1791.4,193.2L1792.7,194.8L1794,196.5L1795.3,198.2L1796.6,199.9L1797.9,201.7L1799.3,203.5L1800.6,205.2L1802,207L1803.3,208.6L1804.6,210.3L1806.1,212L1807.5,213.7L1808.9,215.5L1810.4,217.2L1811.8,218.9L1813.3,220.6L1814.7,222.3L1816.2,223.9L1817.7,225.5L1819.1,227.1L1820.6,228.6L1822.1,230L1824,231.6L1825.9,233.1L1827.8,234.6L1829.8,236L1831.7,237.3L1833.5,238.6L1835.3,239.7L1837,240.7L1838.6,241.6L1840.1,242.5L1843.5,243.9L1845.6,244.2L1847.8,244.3L1849.9,244.5L1851.9,244.5L1854.3,244.4L1856.3,244.1L1858.3,243.7L1860.5,243.2L1862.7,242.7L1864.9,242.2L1867.1,241.6L1869.5,240.9L1872.2,239.9L1874,239.3L1875.8,238.5L1877.7,237.7L1879.7,236.8L1881.7,235.7L1883.6,234.6L1885.5,233.3L1887.4,231.8L1889.3,230.1L1891.3,228.3L1893.1,226.5L1894.8,224.9L1896.2,223.5L1897.2,222.6" fill="none" stroke="#7f7cc4" stroke-width="3.2" stroke-linejoin="round" stroke-linecap="butt"/>
<path d="M1614.3,289.6L1616.1,288.8L1618.6,287.7L1621.3,286.7L1623.9,285.8L1626.6,284.8L1628.9,283.8L1631.2,282L1633,279.7L1634.1,277.8L1635.2,275.8L1636.7,273.9L1638.2,272.6L1639.9,271.3L1642,269.9L1644,268.4L1645.7,267.3L1647.2,266.3L1648.9,265.1L1650.9,263.5L1653.2,261.4L1654.4,260.4L1655.7,259.3L1657,258.1L1658.4,256.8L1659.9,255.5L1661.4,254.1L1662.9,252.6L1664.5,251L1666.1,249.4L1667.7,247.7L1669.2,246L1670.7,244.2L1671.9,242.7L1673,241.1L1674.2,239.5L1675.4,237.8L1676.5,236L1677.7,234.3L1678.8,232.5L1680,230.7L1681.1,228.8L1682.3,227L1683.4,225.2L1684.6,223.3L1685.7,221.5L1686.8,219.8L1688,218L1689.1,216.3L1690.3,214.5L1691.4,212.7L1692.6,210.9L1693.7,209.1L1694.9,207.3L1696,205.5L1697.2,203.8L1698.3,202L1699.4,200.3L1700.6,198.6L1701.7,197L1702.8,195.4L1704,193.9L1705.1,192.5L1706.5,190.8L1708,189.1L1709.5,187.4L1711,185.8L1712.5,184.2L1714,182.7L1715.5,181.3L1717,180L1718.3,178.7L1719.7,177.5L1720.9,176.4L1722,175.5L1724.3,173.7L1726.1,172.4L1727.7,171.6L1729.2,171L1730.8,170.2L1732.8,169.2L1734.7,168.4L1736.5,167.8L1738.2,167.4L1740,167.3L1741.7,167.5L1743.6,167.8L1745.6,168.2L1747.6,168.5L1749.6,169L1751.8,169.5L1754.7,170.3L1756.3,170.8L1758,171.2L1759.9,171.7L1761.8,172.1L1763.8,172.7L1765.8,173.3L1767.7,174L1769.7,174.8L1771.5,175.7L1773.2,176.6L1774.8,177.6L1776.5,178.7L1778.2,179.8L1779.9,181L1781.5,182.3L1783.2,183.7L1784.9,185.2L1786.6,186.7L1788.3,188.3L1789.5,189.7L1790.8,191.1L1792.1,192.6L1793.4,194.2L1794.7,195.9L1796,197.6L1797.3,199.4L1798.7,201.1L1800,202.9L1801.3,204.7L1802.7,206.4L1804,208.1L1805.3,209.7L1806.8,211.4L1808.2,213.2L1809.6,214.9L1811.1,216.6L1812.5,218.3L1814,220L1815.4,221.7L1816.9,223.3L1818.3,224.9L1819.8,226.5L1821.3,227.9L1822.7,229.3L1824.5,230.9L1826.4,232.4L1828.4,233.9L1830.3,235.3L1832.2,236.6L1834,237.8L1835.8,238.9L1837.4,239.9L1839,240.8L1840.5,241.7L1843.7,243.1L1845.8,243.3L1847.9,243.4L1850,243.6L1851.9,243.6L1854.2,243.5L1856.1,243.2L1858.2,242.8L1860.3,242.4L1862.4,241.8L1864.6,241.3L1866.9,240.7L1869.3,240L1871.9,239.1L1873.6,238.4L1875.5,237.7L1877.4,236.9L1879.3,236L1881.3,235L1883.2,233.9L1885.1,232.6L1887,231.2L1888.9,229.6L1890.9,227.8L1892.8,226.1L1894.4,224.5L1895.8,223.1L1896.9,222.2" fill="none" stroke="#8a63b8" stroke-width="3.2" stroke-linejoin="round" stroke-linecap="butt"/>
<path d="M1614.2,289.4L1616,288.6L1618.5,287.5L1621.2,286.4L1623.7,285.4L1626.4,284.5L1628.7,283.4L1630.9,281.6L1632.6,279.4L1633.7,277.6L1634.8,275.5L1636.2,273.5L1637.7,272.1L1639.5,270.8L1641.5,269.3L1643.6,267.8L1645.2,266.7L1646.7,265.6L1648.4,264.4L1650.3,262.9L1652.7,260.8L1653.9,259.8L1655.1,258.7L1656.5,257.5L1657.9,256.2L1659.3,254.9L1660.8,253.5L1662.4,252L1663.9,250.5L1665.5,248.9L1667.1,247.2L1668.6,245.5L1670.1,243.7L1671.2,242.2L1672.4,240.6L1673.5,239L1674.7,237.3L1675.9,235.6L1677,233.8L1678.2,232L1679.3,230.2L1680.5,228.4L1681.6,226.6L1682.7,224.7L1683.9,222.9L1685,221.1L1686.2,219.3L1687.3,217.6L1688.5,215.9L1689.6,214.1L1690.8,212.3L1691.9,210.5L1693.1,208.7L1694.2,206.9L1695.4,205.1L1696.5,203.3L1697.6,201.6L1698.8,199.8L1699.9,198.2L1701.1,196.5L1702.2,195L1703.3,193.4L1704.5,192L1705.9,190.2L1707.4,188.5L1708.9,186.9L1710.4,185.2L1712,183.7L1713.5,182.2L1715,180.7L1716.4,179.4L1717.8,178.1L1719.1,176.9L1720.4,175.8L1721.5,174.9L1723.8,173L1725.7,171.8L1727.3,170.9L1728.8,170.2L1730.5,169.5L1732.5,168.5L1734.5,167.6L1736.3,167L1738.1,166.6L1740,166.5L1741.8,166.7L1743.7,167L1745.8,167.4L1747.8,167.8L1749.8,168.2L1752,168.8L1754.9,169.6L1756.5,170L1758.2,170.4L1760.1,170.9L1762,171.4L1764,171.9L1766,172.5L1768,173.2L1770,174L1771.9,175L1773.6,175.9L1775.3,176.9L1777,178L1778.6,179.2L1780.3,180.4L1782,181.7L1783.7,183.1L1785.4,184.6L1787.1,186.1L1788.8,187.8L1790.1,189.1L1791.4,190.6L1792.7,192.1L1794,193.7L1795.3,195.4L1796.7,197.1L1798,198.9L1799.3,200.7L1800.6,202.4L1802,204.2L1803.3,205.9L1804.6,207.6L1805.9,209.2L1807.4,210.9L1808.8,212.6L1810.3,214.4L1811.7,216.1L1813.1,217.8L1814.6,219.5L1816,221.2L1817.5,222.8L1818.9,224.4L1820.3,225.9L1821.8,227.3L1823.3,228.7L1825.1,230.3L1826.9,231.8L1828.8,233.3L1830.7,234.6L1832.6,235.9L1834.5,237.1L1836.2,238.2L1837.9,239.2L1839.4,240.1L1840.8,240.9L1844,242.3L1846,242.5L1847.9,242.6L1850,242.8L1851.9,242.8L1854.1,242.7L1856,242.4L1858,242.1L1860.1,241.6L1862.3,241.1L1864.4,240.5L1866.7,240L1869,239.3L1871.7,238.3L1873.4,237.7L1875.2,237L1877.1,236.2L1879,235.3L1880.9,234.3L1882.9,233.2L1884.7,232.1L1886.6,230.7L1888.6,229.1L1890.5,227.4L1892.4,225.7L1894.1,224.1L1895.5,222.8L1896.6,221.9" fill="none" stroke="#a052b0" stroke-width="3.2" stroke-linejoin="round" stroke-linecap="butt"/>
<path d="M1614.3,289.8L1616.1,289L1618.7,287.9L1621.4,286.9L1624,286L1626.7,285.1L1629.1,284L1631.5,282.2L1633.3,280L1634.5,278.1L1635.6,276.1L1637,274.2L1638.5,272.9L1640.3,271.7L1642.3,270.3L1644.4,268.9L1646,267.8L1647.6,266.8L1649.3,265.5L1651.2,264L1653.6,261.9L1654.8,260.8L1656.1,259.7L1657.4,258.5L1658.8,257.3L1660.3,255.9L1661.8,254.5L1663.4,253L1664.9,251.5L1666.5,249.8L1668.1,248.1L1669.6,246.4L1671.1,244.6L1672.3,243L1673.5,241.5L1674.7,239.8L1675.9,238.1L1677,236.4L1678.2,234.6L1679.3,232.8L1680.5,231L1681.6,229.1L1682.8,227.3L1683.9,225.5L1685.1,223.7L1686.2,221.9L1687.4,220.1L1688.5,218.4L1689.6,216.6L1690.8,214.9L1691.9,213.1L1693.1,211.2L1694.2,209.4L1695.4,207.6L1696.5,205.9L1697.7,204.1L1698.8,202.3L1699.9,200.6L1701.1,199L1702.2,197.3L1703.3,195.8L1704.4,194.3L1705.5,192.9L1707,191.1L1708.4,189.4L1709.9,187.8L1711.4,186.2L1712.9,184.7L1714.4,183.2L1715.9,181.8L1717.4,180.4L1718.7,179.1L1720.1,178L1721.3,176.9L1722.3,176L1724.6,174.1L1726.4,172.9L1728,172.2L1729.4,171.5L1731,170.8L1733.1,169.8L1735,168.9L1736.7,168.3L1738.3,168L1740,167.9L1741.7,168.1L1743.5,168.4L1745.5,168.8L1747.5,169.1L1749.4,169.5L1751.7,170.1L1754.6,170.9L1756.1,171.3L1757.9,171.8L1759.7,172.2L1761.6,172.7L1763.6,173.3L1765.6,173.9L1767.5,174.5L1769.4,175.3L1771.3,176.2L1772.9,177.1L1774.5,178.1L1776.2,179.2L1777.8,180.3L1779.5,181.5L1781.2,182.8L1782.8,184.1L1784.5,185.6L1786.2,187.1L1787.8,188.8L1789.1,190.1L1790.4,191.5L1791.6,193L1792.9,194.6L1794.2,196.3L1795.6,198L1796.9,199.7L1798.2,201.5L1799.5,203.3L1800.8,205L1802.2,206.8L1803.5,208.5L1804.9,210.1L1806.3,211.8L1807.7,213.5L1809.2,215.3L1810.6,217L1812.1,218.7L1813.5,220.4L1815,222.1L1816.4,223.7L1817.9,225.3L1819.3,226.9L1820.8,228.4L1822.3,229.8L1824.2,231.4L1826.1,232.9L1828,234.4L1829.9,235.8L1831.9,237.1L1833.7,238.3L1835.5,239.4L1837.1,240.4L1838.7,241.4L1840.3,242.2L1843.6,243.7L1845.7,243.9L1847.8,244L1849.9,244.2L1851.9,244.2L1854.2,244.1L1856.2,243.8L1858.3,243.4L1860.4,243L1862.6,242.4L1864.8,241.9L1867,241.3L1869.5,240.6L1872.1,239.7L1873.9,239L1875.7,238.3L1877.6,237.5L1879.6,236.6L1881.5,235.5L1883.5,234.3L1885.4,233.1L1887.2,231.6L1889.2,229.9L1891.2,228.1L1893,226.4L1894.7,224.8L1896.1,223.4L1897.1,222.4" fill="none" stroke="#d23fe0" stroke-width="2.6" stroke-linejoin="round" stroke-linecap="butt"/>
<path d="M1614,288.9L1615.8,288.2L1618.4,287.1L1621,285.9L1623.5,284.9L1626.1,283.9L1628.2,282.8L1630.3,281L1631.9,278.9L1633,277.1L1634,275L1635.5,272.9L1637,271.4L1638.9,269.9L1640.8,268.4L1642.9,266.9L1644.5,265.7L1646,264.6L1647.6,263.4L1649.5,261.9L1651.9,259.8L1653,258.8L1654.3,257.7L1655.6,256.5L1657,255.3L1658.4,253.9L1660,252.5L1661.5,251.1L1663,249.6L1664.6,248L1666.1,246.3L1667.6,244.6L1669,242.9L1670.2,241.4L1671.3,239.9L1672.5,238.3L1673.6,236.6L1674.8,234.9L1675.9,233.1L1677.1,231.3L1678.2,229.5L1679.4,227.7L1680.5,225.9L1681.6,224L1682.8,222.2L1683.9,220.4L1685.1,218.6L1686.2,216.9L1687.4,215.2L1688.5,213.4L1689.7,211.6L1690.8,209.8L1692,208L1693.1,206.2L1694.3,204.4L1695.4,202.6L1696.6,200.9L1697.7,199.1L1698.8,197.4L1700,195.8L1701.1,194.2L1702.3,192.6L1703.4,191.2L1704.9,189.4L1706.4,187.7L1707.9,186L1709.5,184.3L1711,182.8L1712.6,181.2L1714.1,179.8L1715.5,178.4L1716.9,177.2L1718.3,176L1719.5,174.8L1720.7,173.8L1723.1,171.9L1725,170.7L1726.7,169.8L1728.3,169.1L1729.9,168.3L1732,167.3L1734,166.4L1736,165.7L1738,165.3L1740,165.2L1741.9,165.4L1743.9,165.7L1746,166.1L1748.1,166.5L1750.1,166.9L1752.4,167.5L1755.3,168.3L1756.8,168.7L1758.5,169.2L1760.4,169.6L1762.3,170.1L1764.4,170.7L1766.4,171.3L1768.5,172L1770.5,172.9L1772.5,173.8L1774.2,174.8L1775.9,175.8L1777.7,176.9L1779.4,178.1L1781.1,179.3L1782.8,180.7L1784.6,182.1L1786.3,183.6L1788,185.2L1789.7,186.9L1791.1,188.2L1792.4,189.7L1793.7,191.3L1795,192.9L1796.4,194.6L1797.7,196.4L1799,198.1L1800.3,199.9L1801.7,201.6L1803,203.4L1804.3,205.1L1805.6,206.8L1807,208.4L1808.4,210.1L1809.8,211.8L1811.3,213.5L1812.7,215.3L1814.1,217L1815.6,218.7L1817,220.3L1818.4,221.9L1819.8,223.5L1821.3,225L1822.7,226.4L1824.1,227.8L1825.9,229.3L1827.7,230.8L1829.6,232.2L1831.5,233.6L1833.4,234.8L1835.2,236L1836.9,237.1L1838.5,238.1L1840,239L1841.3,239.7L1844.3,241.1L1846.2,241.3L1848,241.3L1850,241.5L1851.9,241.5L1854,241.4L1855.8,241.1L1857.8,240.8L1859.8,240.3L1862,239.8L1864.1,239.3L1866.3,238.7L1868.6,238L1871.2,237.1L1872.9,236.5L1874.7,235.8L1876.5,235L1878.5,234.1L1880.4,233.2L1882.3,232.2L1884.1,231.2L1886,229.9L1888,228.3L1889.9,226.7L1891.9,225.1L1893.6,223.5L1895,222.2L1896.1,221.3" fill="none" stroke="#b8509c" stroke-width="3.6" stroke-linejoin="round" stroke-linecap="butt"/>
<rect x="1919.5" y="130.5" width="23.5" height="23" fill="#c4509f"/>
<rect x="1919.5" y="153.2" width="23.5" height="23" fill="#a554ae"/>
<rect x="1919.5" y="175.8" width="23.5" height="23" fill="#8c66b8"/>
<rect x="1919.5" y="198.5" width="23.5" height="23" fill="#8079c2"/>
<rect x="1919.5" y="221.2" width="23.5" height="23" fill="#6b9bd9"/>
<rect x="1919.5" y="243.8" width="23.5" height="23" fill="#4ec4eb"/>
<rect x="1919.5" y="266.5" width="23.5" height="23" fill="#66c9d6"/>
<rect x="1919.5" y="289.1" width="23.5" height="23" fill="#4a4a4c"/>
<line x1="1919.5" y1="153.2" x2="1943" y2="153.2" stroke="#ffffff" stroke-width="0.9" opacity="0.7"/>
<line x1="1919.5" y1="175.8" x2="1943" y2="175.8" stroke="#ffffff" stroke-width="0.9" opacity="0.7"/>
<line x1="1919.5" y1="198.5" x2="1943" y2="198.5" stroke="#ffffff" stroke-width="0.9" opacity="0.7"/>
<line x1="1919.5" y1="221.2" x2="1943" y2="221.2" stroke="#ffffff" stroke-width="0.9" opacity="0.7"/>
<line x1="1919.5" y1="243.8" x2="1943" y2="243.8" stroke="#ffffff" stroke-width="0.9" opacity="0.7"/>
<line x1="1919.5" y1="266.5" x2="1943" y2="266.5" stroke="#ffffff" stroke-width="0.9" opacity="0.7"/>
<line x1="1919.5" y1="289.1" x2="1943" y2="289.1" stroke="#ffffff" stroke-width="0.9" opacity="0.7"/>
<rect x="1919.5" y="130.5" width="23.5" height="181.3" fill="none" stroke="#3a3a3c" stroke-width="2"/>
<line x1="1943" y1="153.2" x2="1949" y2="153.2" stroke="#231f20" stroke-width="1.6"/>
<line x1="1943" y1="175.8" x2="1949" y2="175.8" stroke="#231f20" stroke-width="1.6"/>
<line x1="1943" y1="198.5" x2="1949" y2="198.5" stroke="#231f20" stroke-width="1.6"/>
<line x1="1943" y1="221.2" x2="1949" y2="221.2" stroke="#231f20" stroke-width="1.6"/>
<line x1="1943" y1="243.8" x2="1949" y2="243.8" stroke="#231f20" stroke-width="1.6"/>
<line x1="1943" y1="266.5" x2="1949" y2="266.5" stroke="#231f20" stroke-width="1.6"/>
<line x1="1943" y1="289.1" x2="1949" y2="289.1" stroke="#231f20" stroke-width="1.6"/>
<text x="1955" y="160.2" font-size="20">2</text>
<text x="1955" y="205.5" font-size="20">1</text>
<text x="1955" y="250.8" font-size="20">0</text>
<text x="1953" y="296.1" font-size="20">-1</text>
<text x="1991.5" y="221.5" font-size="20" text-anchor="middle" transform="rotate(-90 1991.5 221.5)">Time from Framing (sec)</text>
</g>
<g id="pe">
<text x="9" y="492" font-size="39" font-weight="bold" fill="#231f20">e</text>
<text x="370.7" y="493.5" font-size="27.6" text-anchor="middle" font-weight="bold">Attention Strength Fluctuations</text>
<text x="370.7" y="521.5" font-size="27.6" text-anchor="middle" font-weight="bold">- Relative to Baseline</text>
<text x="20.5" y="714" font-size="28" text-anchor="middle" transform="rotate(-90 20.5 714)">Frequency (Hz)</text>
<defs><filter id="hb" x="-2%" y="-2%" width="104%" height="104%"><feGaussianBlur stdDeviation="0.7"/></filter></defs><g filter="url(#hb)" shape-rendering="crispEdges">
<rect x="158.4" y="543" width="4.3" height="8.8" fill="#fffcfc"/>
<rect x="162.4" y="543" width="4.3" height="8.8" fill="#ffd2d2"/>
<rect x="166.5" y="543" width="4.3" height="8.8" fill="#ffd8d8"/>
<rect x="170.5" y="543" width="108.9" height="8.8" fill="#fff6f6"/>
<rect x="279.1" y="543" width="4.3" height="8.8" fill="#ffd2d2"/>
<rect x="283.2" y="543" width="4.3" height="8.8" fill="#ffd8d8"/>
<rect x="287.2" y="543" width="4.3" height="8.8" fill="#fff6f6"/>
<rect x="291.2" y="543" width="4.3" height="8.8" fill="#ffd2d2"/>
<rect x="295.2" y="543" width="4.3" height="8.8" fill="#ffd8d8"/>
<rect x="299.3" y="543" width="4.3" height="8.8" fill="#ffd2d2"/>
<rect x="303.3" y="543" width="4.3" height="8.8" fill="#ffd8d8"/>
<rect x="307.3" y="543" width="4.3" height="8.8" fill="#fff6f6"/>
<rect x="311.3" y="543" width="4.3" height="8.8" fill="#ffd2d2"/>
<rect x="315.3" y="543" width="4.3" height="8.8" fill="#ffd8d8"/>
<rect x="319.4" y="543" width="60.7" height="8.8" fill="#fff6f6"/>
<rect x="379.7" y="543" width="4.3" height="8.8" fill="#ffd2d2"/>
<rect x="383.7" y="543" width="4.3" height="8.8" fill="#ffd8d8"/>
<rect x="387.8" y="543" width="209.5" height="8.8" fill="#fff6f6"/>
<rect x="158.4" y="551.5" width="8.3" height="8.8" fill="#fffcfc"/>
<rect x="166.5" y="551.5" width="113" height="8.8" fill="#fff6f6"/>
<rect x="279.1" y="551.5" width="4.3" height="8.8" fill="#ffd2d2"/>
<rect x="283.2" y="551.5" width="8.3" height="8.8" fill="#fff6f6"/>
<rect x="291.2" y="551.5" width="4.3" height="8.8" fill="#ffd2d2"/>
<rect x="295.2" y="551.5" width="302.1" height="8.8" fill="#fff6f6"/>
<rect x="162.4" y="560" width="8.3" height="8.8" fill="#fffcfc"/>
<rect x="170.5" y="560" width="426.8" height="8.8" fill="#fff6f6"/>
<rect x="158.4" y="577" width="4.3" height="8.8" fill="#fcfcff"/>
<rect x="162.4" y="577" width="434.9" height="8.8" fill="#f6f6fc"/>
<rect x="154.4" y="585.5" width="4.3" height="8.8" fill="#fcfcff"/>
<rect x="158.4" y="585.5" width="4.3" height="8.8" fill="#f6f6fc"/>
<rect x="162.4" y="585.5" width="4.3" height="8.8" fill="#f0f0f6"/>
<rect x="166.5" y="585.5" width="430.8" height="8.8" fill="#eaeaf6"/>
<rect x="154.4" y="594" width="4.3" height="8.8" fill="#fcfcff"/>
<rect x="158.4" y="594" width="4.3" height="8.8" fill="#f0f0f6"/>
<rect x="162.4" y="594" width="4.3" height="8.8" fill="#e4e4f0"/>
<rect x="166.5" y="594" width="330.2" height="8.8" fill="#dedef0"/>
<rect x="496.4" y="594" width="4.3" height="8.8" fill="#7278ba"/>
<rect x="500.4" y="594" width="16.4" height="8.8" fill="#dedef0"/>
<rect x="516.5" y="594" width="8.3" height="8.8" fill="#787eba"/>
<rect x="524.6" y="594" width="16.4" height="8.8" fill="#dedef0"/>
<rect x="540.7" y="594" width="36.5" height="8.8" fill="#787eba"/>
<rect x="576.9" y="594" width="20.4" height="8.8" fill="#dedef0"/>
<rect x="154.4" y="602.5" width="4.3" height="8.8" fill="#f6f6fc"/>
<rect x="158.4" y="602.5" width="4.3" height="8.8" fill="#eaeaf6"/>
<rect x="162.4" y="602.5" width="20.4" height="8.8" fill="#6672ba"/>
<rect x="182.6" y="602.5" width="12.4" height="8.8" fill="#d8def0"/>
<rect x="194.6" y="602.5" width="36.5" height="8.8" fill="#6672ba"/>
<rect x="230.9" y="602.5" width="12.4" height="8.8" fill="#d8def0"/>
<rect x="242.9" y="602.5" width="76.7" height="8.8" fill="#6672ba"/>
<rect x="319.4" y="602.5" width="137.1" height="8.8" fill="#d8def0"/>
<rect x="456.2" y="602.5" width="8.3" height="8.8" fill="#6672ba"/>
<rect x="464.2" y="602.5" width="16.4" height="8.8" fill="#d8def0"/>
<rect x="480.3" y="602.5" width="8.3" height="8.8" fill="#6c78ba"/>
<rect x="488.4" y="602.5" width="8.3" height="8.8" fill="#7278ba"/>
<rect x="496.4" y="602.5" width="4.3" height="8.8" fill="#4860a8"/>
<rect x="500.4" y="602.5" width="12.4" height="8.8" fill="#7278ba"/>
<rect x="512.5" y="602.5" width="4.3" height="8.8" fill="#727eba"/>
<rect x="516.5" y="602.5" width="8.3" height="8.8" fill="#4860a8"/>
<rect x="524.6" y="602.5" width="16.4" height="8.8" fill="#787eba"/>
<rect x="540.7" y="602.5" width="4.3" height="8.8" fill="#4860a8"/>
<rect x="544.7" y="602.5" width="4.3" height="8.8" fill="#5466ae"/>
<rect x="548.7" y="602.5" width="4.3" height="8.8" fill="#4e60ae"/>
<rect x="552.7" y="602.5" width="24.4" height="8.8" fill="#4860a8"/>
<rect x="576.9" y="602.5" width="20.4" height="8.8" fill="#d8def0"/>
<rect x="154.4" y="611" width="4.3" height="8.8" fill="#f6f6fc"/>
<rect x="158.4" y="611" width="4.3" height="8.8" fill="#e4e4f0"/>
<rect x="162.4" y="611" width="20.4" height="8.8" fill="#4860a8"/>
<rect x="182.6" y="611" width="12.4" height="8.8" fill="#6672ba"/>
<rect x="194.6" y="611" width="36.5" height="8.8" fill="#4860a8"/>
<rect x="230.9" y="611" width="12.4" height="8.8" fill="#6672ba"/>
<rect x="242.9" y="611" width="76.7" height="8.8" fill="#4860a8"/>
<rect x="319.4" y="611" width="20.4" height="8.8" fill="#6672ba"/>
<rect x="339.5" y="611" width="8.3" height="8.8" fill="#d2d8ea"/>
<rect x="347.5" y="611" width="8.3" height="8.8" fill="#6672ba"/>
<rect x="355.6" y="611" width="36.5" height="8.8" fill="#d2d8ea"/>
<rect x="391.8" y="611" width="8.3" height="8.8" fill="#6672ba"/>
<rect x="399.8" y="611" width="24.4" height="8.8" fill="#d2d8ea"/>
<rect x="424" y="611" width="32.5" height="8.8" fill="#6672ba"/>
<rect x="456.2" y="611" width="8.3" height="8.8" fill="#4860a8"/>
<rect x="464.2" y="611" width="12.4" height="8.8" fill="#6c72ba"/>
<rect x="476.3" y="611" width="4.3" height="8.8" fill="#6c78ba"/>
<rect x="480.3" y="611" width="16.4" height="8.8" fill="#4860a8"/>
<rect x="496.4" y="611" width="4.3" height="8.8" fill="#425aa8"/>
<rect x="500.4" y="611" width="16.4" height="8.8" fill="#4860a8"/>
<rect x="516.5" y="611" width="4.3" height="8.8" fill="#364ea2"/>
<rect x="520.6" y="611" width="4.3" height="8.8" fill="#3654a2"/>
<rect x="524.6" y="611" width="16.4" height="8.8" fill="#4860a8"/>
<rect x="540.7" y="611" width="4.3" height="8.8" fill="#3c54a8"/>
<rect x="544.7" y="611" width="4.3" height="8.8" fill="#4e60ae"/>
<rect x="548.7" y="611" width="4.3" height="8.8" fill="#425aa8"/>
<rect x="552.7" y="611" width="4.3" height="8.8" fill="#364ea2"/>
<rect x="556.8" y="611" width="4.3" height="8.8" fill="#364e9c"/>
<rect x="560.8" y="611" width="4.3" height="8.8" fill="#3654a2"/>
<rect x="564.8" y="611" width="4.3" height="8.8" fill="#364ea2"/>
<rect x="568.8" y="611" width="4.3" height="8.8" fill="#36489c"/>
<rect x="572.9" y="611" width="4.3" height="8.8" fill="#364ea2"/>
<rect x="576.9" y="611" width="20.4" height="8.8" fill="#d2d8ea"/>
<rect x="154.4" y="619.5" width="4.3" height="8.8" fill="#f6f6fc"/>
<rect x="158.4" y="619.5" width="4.3" height="8.8" fill="#dedef0"/>
<rect x="162.4" y="619.5" width="8.3" height="8.8" fill="#3c54a2"/>
<rect x="170.5" y="619.5" width="8.3" height="8.8" fill="#3c54a8"/>
<rect x="178.5" y="619.5" width="4.3" height="8.8" fill="#3654a2"/>
<rect x="182.6" y="619.5" width="12.4" height="8.8" fill="#4860a8"/>
<rect x="194.6" y="619.5" width="8.3" height="8.8" fill="#3c54a2"/>
<rect x="202.7" y="619.5" width="8.3" height="8.8" fill="#3654a2"/>
<rect x="210.7" y="619.5" width="8.3" height="8.8" fill="#3c54a2"/>
<rect x="218.8" y="619.5" width="8.3" height="8.8" fill="#3654a2"/>
<rect x="226.8" y="619.5" width="4.3" height="8.8" fill="#364ea2"/>
<rect x="230.9" y="619.5" width="12.4" height="8.8" fill="#4860a8"/>
<rect x="242.9" y="619.5" width="8.3" height="8.8" fill="#364ea2"/>
<rect x="251" y="619.5" width="4.3" height="8.8" fill="#3c54a8"/>
<rect x="255" y="619.5" width="4.3" height="8.8" fill="#3654a2"/>
<rect x="259" y="619.5" width="8.3" height="8.8" fill="#364ea2"/>
<rect x="267.1" y="619.5" width="4.3" height="8.8" fill="#36489c"/>
<rect x="271.1" y="619.5" width="4.3" height="8.8" fill="#304896"/>
<rect x="275.1" y="619.5" width="8.3" height="8.8" fill="#304296"/>
<rect x="283.2" y="619.5" width="4.3" height="8.8" fill="#36489c"/>
<rect x="287.2" y="619.5" width="4.3" height="8.8" fill="#364e9c"/>
<rect x="291.2" y="619.5" width="4.3" height="8.8" fill="#3654a2"/>
<rect x="295.2" y="619.5" width="4.3" height="8.8" fill="#425aa8"/>
<rect x="299.3" y="619.5" width="4.3" height="8.8" fill="#3c54a8"/>
<rect x="303.3" y="619.5" width="4.3" height="8.8" fill="#364ea2"/>
<rect x="307.3" y="619.5" width="4.3" height="8.8" fill="#364e9c"/>
<rect x="311.3" y="619.5" width="8.3" height="8.8" fill="#36489c"/>
<rect x="319.4" y="619.5" width="20.4" height="8.8" fill="#4860a8"/>
<rect x="339.5" y="619.5" width="8.3" height="8.8" fill="#6672ba"/>
<rect x="347.5" y="619.5" width="8.3" height="8.8" fill="#4860a8"/>
<rect x="355.6" y="619.5" width="8.3" height="8.8" fill="#6672ba"/>
<rect x="363.6" y="619.5" width="4.3" height="8.8" fill="#ccd2ea"/>
<rect x="367.7" y="619.5" width="12.4" height="8.8" fill="#6672ba"/>
<rect x="379.7" y="619.5" width="8.3" height="8.8" fill="#ccd2ea"/>
<rect x="387.8" y="619.5" width="4.3" height="8.8" fill="#6672ba"/>
<rect x="391.8" y="619.5" width="8.3" height="8.8" fill="#4860a8"/>
<rect x="399.8" y="619.5" width="24.4" height="8.8" fill="#6672ba"/>
<rect x="424" y="619.5" width="32.5" height="8.8" fill="#4860a8"/>
<rect x="456.2" y="619.5" width="4.3" height="8.8" fill="#3654a2"/>
<rect x="460.2" y="619.5" width="4.3" height="8.8" fill="#3c54a8"/>
<rect x="464.2" y="619.5" width="16.4" height="8.8" fill="#4860a8"/>
<rect x="480.3" y="619.5" width="12.4" height="8.8" fill="#364ea2"/>
<rect x="492.4" y="619.5" width="4.3" height="8.8" fill="#3654a2"/>
<rect x="496.4" y="619.5" width="4.3" height="8.8" fill="#3c54a8"/>
<rect x="500.4" y="619.5" width="4.3" height="8.8" fill="#3654a2"/>
<rect x="504.5" y="619.5" width="12.4" height="8.8" fill="#364ea2"/>
<rect x="516.5" y="619.5" width="4.3" height="8.8" fill="#364e9c"/>
<rect x="520.6" y="619.5" width="4.3" height="8.8" fill="#364ea2"/>
<rect x="524.6" y="619.5" width="4.3" height="8.8" fill="#3654a2"/>
<rect x="528.6" y="619.5" width="4.3" height="8.8" fill="#364ea2"/>
<rect x="532.6" y="619.5" width="4.3" height="8.8" fill="#3654a2"/>
<rect x="536.6" y="619.5" width="4.3" height="8.8" fill="#364ea2"/>
<rect x="540.7" y="619.5" width="4.3" height="8.8" fill="#3654a2"/>
<rect x="544.7" y="619.5" width="4.3" height="8.8" fill="#425aa8"/>
<rect x="548.7" y="619.5" width="4.3" height="8.8" fill="#3c54a2"/>
<rect x="552.7" y="619.5" width="4.3" height="8.8" fill="#364e9c"/>
<rect x="556.8" y="619.5" width="4.3" height="8.8" fill="#36489c"/>
<rect x="560.8" y="619.5" width="4.3" height="8.8" fill="#364ea2"/>
<rect x="564.8" y="619.5" width="4.3" height="8.8" fill="#364e9c"/>
<rect x="568.8" y="619.5" width="8.3" height="8.8" fill="#36489c"/>
<rect x="576.9" y="619.5" width="20.4" height="8.8" fill="#ccd2ea"/>
<rect x="154.4" y="628" width="4.3" height="8.8" fill="#f6f6fc"/>
<rect x="158.4" y="628" width="4.3" height="8.8" fill="#dedef0"/>
<rect x="162.4" y="628" width="72.7" height="8.8" fill="#364ea2"/>
<rect x="234.9" y="628" width="8.3" height="8.8" fill="#364e9c"/>
<rect x="242.9" y="628" width="4.3" height="8.8" fill="#36489c"/>
<rect x="246.9" y="628" width="4.3" height="8.8" fill="#364ea2"/>
<rect x="251" y="628" width="4.3" height="8.8" fill="#3654a2"/>
<rect x="255" y="628" width="8.3" height="8.8" fill="#364ea2"/>
<rect x="263" y="628" width="4.3" height="8.8" fill="#364e9c"/>
<rect x="267.1" y="628" width="4.3" height="8.8" fill="#36489c"/>
<rect x="271.1" y="628" width="4.3" height="8.8" fill="#304296"/>
<rect x="275.1" y="628" width="4.3" height="8.8" fill="#303c90"/>
<rect x="279.1" y="628" width="4.3" height="8.8" fill="#303c96"/>
<rect x="283.2" y="628" width="4.3" height="8.8" fill="#304296"/>
<rect x="287.2" y="628" width="4.3" height="8.8" fill="#36489c"/>
<rect x="291.2" y="628" width="4.3" height="8.8" fill="#364ea2"/>
<rect x="295.2" y="628" width="4.3" height="8.8" fill="#3c54a2"/>
<rect x="299.3" y="628" width="4.3" height="8.8" fill="#364ea2"/>
<rect x="303.3" y="628" width="8.3" height="8.8" fill="#36489c"/>
<rect x="311.3" y="628" width="4.3" height="8.8" fill="#304896"/>
<rect x="315.3" y="628" width="4.3" height="8.8" fill="#304296"/>
<rect x="319.4" y="628" width="4.3" height="8.8" fill="#364e9c"/>
<rect x="323.4" y="628" width="16.4" height="8.8" fill="#364ea2"/>
<rect x="339.5" y="628" width="8.3" height="8.8" fill="#4860a8"/>
<rect x="347.5" y="628" width="4.3" height="8.8" fill="#364e9c"/>
<rect x="351.6" y="628" width="4.3" height="8.8" fill="#36489c"/>
<rect x="355.6" y="628" width="4.3" height="8.8" fill="#4860a8"/>
<rect x="359.6" y="628" width="4.3" height="8.8" fill="#4e60ae"/>
<rect x="363.6" y="628" width="4.3" height="8.8" fill="#6672ba"/>
<rect x="367.7" y="628" width="12.4" height="8.8" fill="#4860a8"/>
<rect x="379.7" y="628" width="4.3" height="8.8" fill="#ccd2e4"/>
<rect x="383.7" y="628" width="4.3" height="8.8" fill="#6672ba"/>
<rect x="387.8" y="628" width="4.3" height="8.8" fill="#4860a8"/>
<rect x="391.8" y="628" width="8.3" height="8.8" fill="#364ea2"/>
<rect x="399.8" y="628" width="24.4" height="8.8" fill="#4860a8"/>
<rect x="424" y="628" width="4.3" height="8.8" fill="#36489c"/>
<rect x="428" y="628" width="4.3" height="8.8" fill="#364e9c"/>
<rect x="432" y="628" width="4.3" height="8.8" fill="#364ea2"/>
<rect x="436.1" y="628" width="4.3" height="8.8" fill="#3c54a2"/>
<rect x="440.1" y="628" width="4.3" height="8.8" fill="#3c54a8"/>
<rect x="444.1" y="628" width="4.3" height="8.8" fill="#3654a2"/>
<rect x="448.1" y="628" width="16.4" height="8.8" fill="#364ea2"/>
<rect x="464.2" y="628" width="4.3" height="8.8" fill="#3654a2"/>
<rect x="468.2" y="628" width="12.4" height="8.8" fill="#364ea2"/>
<rect x="480.3" y="628" width="4.3" height="8.8" fill="#364e9c"/>
<rect x="484.3" y="628" width="8.3" height="8.8" fill="#36489c"/>
<rect x="492.4" y="628" width="4.3" height="8.8" fill="#364ea2"/>
<rect x="496.4" y="628" width="4.3" height="8.8" fill="#3654a2"/>
<rect x="500.4" y="628" width="4.3" height="8.8" fill="#364ea2"/>
<rect x="504.5" y="628" width="12.4" height="8.8" fill="#364e9c"/>
<rect x="516.5" y="628" width="4.3" height="8.8" fill="#36489c"/>
<rect x="520.6" y="628" width="4.3" height="8.8" fill="#364e9c"/>
<rect x="524.6" y="628" width="12.4" height="8.8" fill="#364ea2"/>
<rect x="536.6" y="628" width="4.3" height="8.8" fill="#364e9c"/>
<rect x="540.7" y="628" width="4.3" height="8.8" fill="#364ea2"/>
<rect x="544.7" y="628" width="4.3" height="8.8" fill="#3c54a2"/>
<rect x="548.7" y="628" width="4.3" height="8.8" fill="#364ea2"/>
<rect x="552.7" y="628" width="4.3" height="8.8" fill="#36489c"/>
<rect x="556.8" y="628" width="4.3" height="8.8" fill="#304896"/>
<rect x="560.8" y="628" width="8.3" height="8.8" fill="#36489c"/>
<rect x="568.8" y="628" width="4.3" height="8.8" fill="#304296"/>
<rect x="572.9" y="628" width="4.3" height="8.8" fill="#304896"/>
<rect x="576.9" y="628" width="20.4" height="8.8" fill="#ccd2e4"/>
<rect x="154.4" y="636.5" width="4.3" height="8.8" fill="#f0f0f6"/>
<rect x="158.4" y="636.5" width="4.3" height="8.8" fill="#d8deea"/>
<rect x="162.4" y="636.5" width="4.3" height="8.8" fill="#364ea2"/>
<rect x="166.5" y="636.5" width="8.3" height="8.8" fill="#36489c"/>
<rect x="174.5" y="636.5" width="8.3" height="8.8" fill="#364e9c"/>
<rect x="182.6" y="636.5" width="8.3" height="8.8" fill="#36489c"/>
<rect x="190.6" y="636.5" width="12.4" height="8.8" fill="#364ea2"/>
<rect x="202.7" y="636.5" width="8.3" height="8.8" fill="#364e9c"/>
<rect x="210.7" y="636.5" width="12.4" height="8.8" fill="#364ea2"/>
<rect x="222.8" y="636.5" width="4.3" height="8.8" fill="#364e9c"/>
<rect x="226.8" y="636.5" width="24.4" height="8.8" fill="#36489c"/>
<rect x="251" y="636.5" width="4.3" height="8.8" fill="#364ea2"/>
<rect x="255" y="636.5" width="8.3" height="8.8" fill="#364e9c"/>
<rect x="263" y="636.5" width="4.3" height="8.8" fill="#36489c"/>
<rect x="267.1" y="636.5" width="4.3" height="8.8" fill="#304896"/>
<rect x="271.1" y="636.5" width="4.3" height="8.8" fill="#304296"/>
<rect x="275.1" y="636.5" width="8.3" height="8.8" fill="#303c90"/>
<rect x="283.2" y="636.5" width="4.3" height="8.8" fill="#304296"/>
<rect x="287.2" y="636.5" width="4.3" height="8.8" fill="#36489c"/>
<rect x="291.2" y="636.5" width="4.3" height="8.8" fill="#364e9c"/>
<rect x="295.2" y="636.5" width="4.3" height="8.8" fill="#364ea2"/>
<rect x="299.3" y="636.5" width="4.3" height="8.8" fill="#364e9c"/>
<rect x="303.3" y="636.5" width="4.3" height="8.8" fill="#304896"/>
<rect x="307.3" y="636.5" width="12.4" height="8.8" fill="#304296"/>
<rect x="319.4" y="636.5" width="4.3" height="8.8" fill="#36489c"/>
<rect x="323.4" y="636.5" width="8.3" height="8.8" fill="#364e9c"/>
<rect x="331.4" y="636.5" width="4.3" height="8.8" fill="#36489c"/>
<rect x="335.5" y="636.5" width="4.3" height="8.8" fill="#364e9c"/>
<rect x="339.5" y="636.5" width="4.3" height="8.8" fill="#364ea2"/>
<rect x="343.5" y="636.5" width="4.3" height="8.8" fill="#36489c"/>
<rect x="347.5" y="636.5" width="4.3" height="8.8" fill="#30489c"/>
<rect x="351.6" y="636.5" width="4.3" height="8.8" fill="#304896"/>
<rect x="355.6" y="636.5" width="4.3" height="8.8" fill="#364ea2"/>
<rect x="359.6" y="636.5" width="4.3" height="8.8" fill="#425aa8"/>
<rect x="363.6" y="636.5" width="4.3" height="8.8" fill="#4860a8"/>
<rect x="367.7" y="636.5" width="4.3" height="8.8" fill="#364ea2"/>
<rect x="371.7" y="636.5" width="4.3" height="8.8" fill="#36489c"/>
<rect x="375.7" y="636.5" width="4.3" height="8.8" fill="#304296"/>
<rect x="379.7" y="636.5" width="8.3" height="8.8" fill="#c6cce4"/>
<rect x="387.8" y="636.5" width="4.3" height="8.8" fill="#364ea2"/>
<rect x="391.8" y="636.5" width="4.3" height="8.8" fill="#36489c"/>
<rect x="395.8" y="636.5" width="4.3" height="8.8" fill="#364e9c"/>
<rect x="399.8" y="636.5" width="4.3" height="8.8" fill="#364ea2"/>
<rect x="403.9" y="636.5" width="4.3" height="8.8" fill="#36489c"/>
<rect x="407.9" y="636.5" width="4.3" height="8.8" fill="#304296"/>
<rect x="411.9" y="636.5" width="12.4" height="8.8" fill="#36489c"/>
<rect x="424" y="636.5" width="4.3" height="8.8" fill="#304896"/>
<rect x="428" y="636.5" width="4.3" height="8.8" fill="#36489c"/>
<rect x="432" y="636.5" width="4.3" height="8.8" fill="#364e9c"/>
<rect x="436.1" y="636.5" width="8.3" height="8.8" fill="#364ea2"/>
<rect x="444.1" y="636.5" width="4.3" height="8.8" fill="#364e9c"/>
<rect x="448.1" y="636.5" width="4.3" height="8.8" fill="#36489c"/>
<rect x="452.1" y="636.5" width="12.4" height="8.8" fill="#364e9c"/>
<rect x="464.2" y="636.5" width="4.3" height="8.8" fill="#364ea2"/>
<rect x="468.2" y="636.5" width="4.3" height="8.8" fill="#36489c"/>
<rect x="472.3" y="636.5" width="8.3" height="8.8" fill="#364e9c"/>
<rect x="480.3" y="636.5" width="4.3" height="8.8" fill="#36489c"/>
<rect x="484.3" y="636.5" width="8.3" height="8.8" fill="#30489c"/>
<rect x="492.4" y="636.5" width="4.3" height="8.8" fill="#36489c"/>
<rect x="496.4" y="636.5" width="4.3" height="8.8" fill="#364ea2"/>
<rect x="500.4" y="636.5" width="4.3" height="8.8" fill="#364e9c"/>
<rect x="504.5" y="636.5" width="12.4" height="8.8" fill="#36489c"/>
<rect x="516.5" y="636.5" width="4.3" height="8.8" fill="#304896"/>
<rect x="520.6" y="636.5" width="24.4" height="8.8" fill="#36489c"/>
<rect x="544.7" y="636.5" width="4.3" height="8.8" fill="#364ea2"/>
<rect x="548.7" y="636.5" width="4.3" height="8.8" fill="#364e9c"/>
<rect x="552.7" y="636.5" width="8.3" height="8.8" fill="#304296"/>
<rect x="560.8" y="636.5" width="4.3" height="8.8" fill="#36489c"/>
<rect x="564.8" y="636.5" width="4.3" height="8.8" fill="#304296"/>
<rect x="568.8" y="636.5" width="4.3" height="8.8" fill="#303c96"/>
<rect x="572.9" y="636.5" width="4.3" height="8.8" fill="#304296"/>
<rect x="576.9" y="636.5" width="20.4" height="8.8" fill="#c6cce4"/>
<rect x="154.4" y="645" width="4.3" height="8.8" fill="#f0f0f6"/>
<rect x="158.4" y="645" width="4.3" height="8.8" fill="#d8d8ea"/>
<rect x="162.4" y="645" width="8.3" height="8.8" fill="#36489c"/>
<rect x="170.5" y="645" width="4.3" height="8.8" fill="#304896"/>
<rect x="174.5" y="645" width="40.5" height="8.8" fill="#36489c"/>
<rect x="214.8" y="645" width="4.3" height="8.8" fill="#364e9c"/>
<rect x="218.8" y="645" width="16.4" height="8.8" fill="#36489c"/>
<rect x="234.9" y="645" width="8.3" height="8.8" fill="#304896"/>
<rect x="242.9" y="645" width="4.3" height="8.8" fill="#304296"/>
<rect x="246.9" y="645" width="4.3" height="8.8" fill="#36489c"/>
<rect x="251" y="645" width="4.3" height="8.8" fill="#364e9c"/>
<rect x="255" y="645" width="12.4" height="8.8" fill="#36489c"/>
<rect x="267.1" y="645" width="4.3" height="8.8" fill="#304296"/>
<rect x="271.1" y="645" width="4.3" height="8.8" fill="#303c90"/>
<rect x="275.1" y="645" width="4.3" height="8.8" fill="#2a3690"/>
<rect x="279.1" y="645" width="4.3" height="8.8" fill="#303c90"/>
<rect x="283.2" y="645" width="8.3" height="8.8" fill="#304296"/>
<rect x="291.2" y="645" width="4.3" height="8.8" fill="#36489c"/>
<rect x="295.2" y="645" width="4.3" height="8.8" fill="#364e9c"/>
<rect x="299.3" y="645" width="4.3" height="8.8" fill="#36489c"/>
<rect x="303.3" y="645" width="4.3" height="8.8" fill="#304296"/>
<rect x="307.3" y="645" width="12.4" height="8.8" fill="#303c90"/>
<rect x="319.4" y="645" width="4.3" height="8.8" fill="#304296"/>
<rect x="323.4" y="645" width="8.3" height="8.8" fill="#36489c"/>
<rect x="331.4" y="645" width="4.3" height="8.8" fill="#304896"/>
<rect x="335.5" y="645" width="8.3" height="8.8" fill="#36489c"/>
<rect x="343.5" y="645" width="12.4" height="8.8" fill="#304296"/>
<rect x="355.6" y="645" width="4.3" height="8.8" fill="#36489c"/>
<rect x="359.6" y="645" width="4.3" height="8.8" fill="#364ea2"/>
<rect x="363.6" y="645" width="4.3" height="8.8" fill="#364e9c"/>
<rect x="367.7" y="645" width="4.3" height="8.8" fill="#36489c"/>
<rect x="371.7" y="645" width="4.3" height="8.8" fill="#304296"/>
<rect x="375.7" y="645" width="12.4" height="8.8" fill="#c6cce4"/>
<rect x="387.8" y="645" width="4.3" height="8.8" fill="#36489c"/>
<rect x="391.8" y="645" width="4.3" height="8.8" fill="#304296"/>
<rect x="395.8" y="645" width="8.3" height="8.8" fill="#36489c"/>
<rect x="403.9" y="645" width="4.3" height="8.8" fill="#304296"/>
<rect x="407.9" y="645" width="4.3" height="8.8" fill="#303c90"/>
<rect x="411.9" y="645" width="20.4" height="8.8" fill="#304296"/>
<rect x="432" y="645" width="4.3" height="8.8" fill="#36489c"/>
<rect x="436.1" y="645" width="4.3" height="8.8" fill="#364e9c"/>
<rect x="440.1" y="645" width="4.3" height="8.8" fill="#364ea2"/>
<rect x="444.1" y="645" width="4.3" height="8.8" fill="#36489c"/>
<rect x="448.1" y="645" width="4.3" height="8.8" fill="#304896"/>
<rect x="452.1" y="645" width="28.5" height="8.8" fill="#36489c"/>
<rect x="480.3" y="645" width="12.4" height="8.8" fill="#304296"/>
<rect x="492.4" y="645" width="4.3" height="8.8" fill="#36489c"/>
<rect x="496.4" y="645" width="4.3" height="8.8" fill="#364e9c"/>
<rect x="500.4" y="645" width="4.3" height="8.8" fill="#36489c"/>
<rect x="504.5" y="645" width="4.3" height="8.8" fill="#30489c"/>
<rect x="508.5" y="645" width="8.3" height="8.8" fill="#36489c"/>
<rect x="516.5" y="645" width="4.3" height="8.8" fill="#304296"/>
<rect x="520.6" y="645" width="4.3" height="8.8" fill="#304896"/>
<rect x="524.6" y="645" width="12.4" height="8.8" fill="#36489c"/>
<rect x="536.6" y="645" width="4.3" height="8.8" fill="#304296"/>
<rect x="540.7" y="645" width="4.3" height="8.8" fill="#36489c"/>
<rect x="544.7" y="645" width="4.3" height="8.8" fill="#364e9c"/>
<rect x="548.7" y="645" width="4.3" height="8.8" fill="#36489c"/>
<rect x="552.7" y="645" width="4.3" height="8.8" fill="#304296"/>
<rect x="556.8" y="645" width="4.3" height="8.8" fill="#303c90"/>
<rect x="560.8" y="645" width="8.3" height="8.8" fill="#304296"/>
<rect x="568.8" y="645" width="8.3" height="8.8" fill="#303c90"/>
<rect x="576.9" y="645" width="20.4" height="8.8" fill="#c6cce4"/>
<rect x="154.4" y="653.5" width="4.3" height="8.8" fill="#f0f0f6"/>
<rect x="158.4" y="653.5" width="4.3" height="8.8" fill="#d8d8ea"/>
<rect x="162.4" y="653.5" width="4.3" height="8.8" fill="#36489c"/>
<rect x="166.5" y="653.5" width="24.4" height="8.8" fill="#304296"/>
<rect x="190.6" y="653.5" width="16.4" height="8.8" fill="#36489c"/>
<rect x="206.7" y="653.5" width="4.3" height="8.8" fill="#30489c"/>
<rect x="210.7" y="653.5" width="12.4" height="8.8" fill="#36489c"/>
<rect x="222.8" y="653.5" width="28.5" height="8.8" fill="#304296"/>
<rect x="251" y="653.5" width="8.3" height="8.8" fill="#36489c"/>
<rect x="259" y="653.5" width="4.3" height="8.8" fill="#304896"/>
<rect x="263" y="653.5" width="8.3" height="8.8" fill="#304296"/>
<rect x="271.1" y="653.5" width="4.3" height="8.8" fill="#303c90"/>
<rect x="275.1" y="653.5" width="8.3" height="8.8" fill="#2a368a"/>
<rect x="283.2" y="653.5" width="4.3" height="8.8" fill="#303c90"/>
<rect x="287.2" y="653.5" width="4.3" height="8.8" fill="#304296"/>
<rect x="291.2" y="653.5" width="8.3" height="8.8" fill="#36489c"/>
<rect x="299.3" y="653.5" width="4.3" height="8.8" fill="#304296"/>
<rect x="303.3" y="653.5" width="4.3" height="8.8" fill="#303c90"/>
<rect x="307.3" y="653.5" width="4.3" height="8.8" fill="#2a368a"/>
<rect x="311.3" y="653.5" width="8.3" height="8.8" fill="#2a3690"/>
<rect x="319.4" y="653.5" width="8.3" height="8.8" fill="#304296"/>
<rect x="327.4" y="653.5" width="4.3" height="8.8" fill="#304896"/>
<rect x="331.4" y="653.5" width="8.3" height="8.8" fill="#304296"/>
<rect x="339.5" y="653.5" width="20.4" height="8.8" fill="#c6cce4"/>
<rect x="359.6" y="653.5" width="4.3" height="8.8" fill="#364e9c"/>
<rect x="363.6" y="653.5" width="32.5" height="8.8" fill="#c6cce4"/>
<rect x="395.8" y="653.5" width="4.3" height="8.8" fill="#304296"/>
<rect x="399.8" y="653.5" width="12.4" height="8.8" fill="#c6cce4"/>
<rect x="411.9" y="653.5" width="4.3" height="8.8" fill="#303c90"/>
<rect x="415.9" y="653.5" width="4.3" height="8.8" fill="#304296"/>
<rect x="420" y="653.5" width="4.3" height="8.8" fill="#303c96"/>
<rect x="424" y="653.5" width="4.3" height="8.8" fill="#303c90"/>
<rect x="428" y="653.5" width="8.3" height="8.8" fill="#304296"/>
<rect x="436.1" y="653.5" width="8.3" height="8.8" fill="#36489c"/>
<rect x="444.1" y="653.5" width="16.4" height="8.8" fill="#304296"/>
<rect x="460.2" y="653.5" width="4.3" height="8.8" fill="#304896"/>
<rect x="464.2" y="653.5" width="20.4" height="8.8" fill="#304296"/>
<rect x="484.3" y="653.5" width="8.3" height="8.8" fill="#303c96"/>
<rect x="492.4" y="653.5" width="4.3" height="8.8" fill="#304296"/>
<rect x="496.4" y="653.5" width="8.3" height="8.8" fill="#36489c"/>
<rect x="504.5" y="653.5" width="40.5" height="8.8" fill="#304296"/>
<rect x="544.7" y="653.5" width="4.3" height="8.8" fill="#36489c"/>
<rect x="548.7" y="653.5" width="4.3" height="8.8" fill="#304896"/>
<rect x="552.7" y="653.5" width="16.4" height="8.8" fill="#303c90"/>
<rect x="568.8" y="653.5" width="4.3" height="8.8" fill="#2a368a"/>
<rect x="572.9" y="653.5" width="4.3" height="8.8" fill="#303c90"/>
<rect x="576.9" y="653.5" width="20.4" height="8.8" fill="#c6cce4"/>
<rect x="154.4" y="662" width="4.3" height="8.8" fill="#f0f0f6"/>
<rect x="158.4" y="662" width="4.3" height="8.8" fill="#d8d8ea"/>
<rect x="162.4" y="662" width="4.3" height="8.8" fill="#304296"/>
<rect x="166.5" y="662" width="8.3" height="8.8" fill="#303c90"/>
<rect x="174.5" y="662" width="20.4" height="8.8" fill="#304296"/>
<rect x="194.6" y="662" width="4.3" height="8.8" fill="#304896"/>
<rect x="198.7" y="662" width="16.4" height="8.8" fill="#304296"/>
<rect x="214.8" y="662" width="4.3" height="8.8" fill="#304896"/>
<rect x="218.8" y="662" width="16.4" height="8.8" fill="#304296"/>
<rect x="234.9" y="662" width="12.4" height="8.8" fill="#303c90"/>
<rect x="246.9" y="662" width="4.3" height="8.8" fill="#304296"/>
<rect x="251" y="662" width="4.3" height="8.8" fill="#30489c"/>
<rect x="255" y="662" width="12.4" height="8.8" fill="#304296"/>
<rect x="267.1" y="662" width="4.3" height="8.8" fill="#303c90"/>
<rect x="271.1" y="662" width="4.3" height="8.8" fill="#2a3690"/>
<rect x="275.1" y="662" width="4.3" height="8.8" fill="#2a308a"/>
<rect x="279.1" y="662" width="4.3" height="8.8" fill="#2a368a"/>
<rect x="283.2" y="662" width="8.3" height="8.8" fill="#303c90"/>
<rect x="291.2" y="662" width="4.3" height="8.8" fill="#304296"/>
<rect x="295.2" y="662" width="4.3" height="8.8" fill="#36489c"/>
<rect x="299.3" y="662" width="4.3" height="8.8" fill="#304296"/>
<rect x="303.3" y="662" width="4.3" height="8.8" fill="#2a368a"/>
<rect x="307.3" y="662" width="8.3" height="8.8" fill="#2a308a"/>
<rect x="315.3" y="662" width="4.3" height="8.8" fill="#2a368a"/>
<rect x="319.4" y="662" width="4.3" height="8.8" fill="#303c90"/>
<rect x="323.4" y="662" width="8.3" height="8.8" fill="#304296"/>
<rect x="331.4" y="662" width="104.9" height="8.8" fill="#c6cce4"/>
<rect x="436.1" y="662" width="4.3" height="8.8" fill="#304896"/>
<rect x="440.1" y="662" width="4.3" height="8.8" fill="#30489c"/>
<rect x="444.1" y="662" width="52.6" height="8.8" fill="#c6cce4"/>
<rect x="496.4" y="662" width="4.3" height="8.8" fill="#36489c"/>
<rect x="500.4" y="662" width="16.4" height="8.8" fill="#304296"/>
<rect x="516.5" y="662" width="4.3" height="8.8" fill="#303c90"/>
<rect x="520.6" y="662" width="16.4" height="8.8" fill="#304296"/>
<rect x="536.6" y="662" width="4.3" height="8.8" fill="#303c90"/>
<rect x="540.7" y="662" width="4.3" height="8.8" fill="#304296"/>
<rect x="544.7" y="662" width="4.3" height="8.8" fill="#30489c"/>
<rect x="548.7" y="662" width="4.3" height="8.8" fill="#304296"/>
<rect x="552.7" y="662" width="4.3" height="8.8" fill="#303c90"/>
<rect x="556.8" y="662" width="4.3" height="8.8" fill="#2a3690"/>
<rect x="560.8" y="662" width="4.3" height="8.8" fill="#303c90"/>
<rect x="564.8" y="662" width="4.3" height="8.8" fill="#2a3690"/>
<rect x="568.8" y="662" width="4.3" height="8.8" fill="#2a308a"/>
<rect x="572.9" y="662" width="4.3" height="8.8" fill="#2a368a"/>
<rect x="576.9" y="662" width="20.4" height="8.8" fill="#c6cce4"/>
<rect x="154.4" y="670.5" width="4.3" height="8.8" fill="#f0f0f6"/>
<rect x="158.4" y="670.5" width="4.3" height="8.8" fill="#d8d8ea"/>
<rect x="162.4" y="670.5" width="4.3" height="8.8" fill="#304296"/>
<rect x="166.5" y="670.5" width="4.3" height="8.8" fill="#303c90"/>
<rect x="170.5" y="670.5" width="4.3" height="8.8" fill="#2a368a"/>
<rect x="174.5" y="670.5" width="16.4" height="8.8" fill="#303c90"/>
<rect x="190.6" y="670.5" width="32.5" height="8.8" fill="#304296"/>
<rect x="222.8" y="670.5" width="28.5" height="8.8" fill="#c6cce4"/>
<rect x="251" y="670.5" width="12.4" height="8.8" fill="#304296"/>
<rect x="263" y="670.5" width="8.3" height="8.8" fill="#303c90"/>
<rect x="271.1" y="670.5" width="4.3" height="8.8" fill="#2a368a"/>
<rect x="275.1" y="670.5" width="4.3" height="8.8" fill="#2a3084"/>
<rect x="279.1" y="670.5" width="4.3" height="8.8" fill="#2a308a"/>
<rect x="283.2" y="670.5" width="4.3" height="8.8" fill="#2a3690"/>
<rect x="287.2" y="670.5" width="4.3" height="8.8" fill="#303c90"/>
<rect x="291.2" y="670.5" width="8.3" height="8.8" fill="#304296"/>
<rect x="299.3" y="670.5" width="4.3" height="8.8" fill="#303c90"/>
<rect x="303.3" y="670.5" width="4.3" height="8.8" fill="#2a308a"/>
<rect x="307.3" y="670.5" width="4.3" height="8.8" fill="#2a2a84"/>
<rect x="311.3" y="670.5" width="4.3" height="8.8" fill="#2a3084"/>
<rect x="315.3" y="670.5" width="4.3" height="8.8" fill="#2a308a"/>
<rect x="319.4" y="670.5" width="4.3" height="8.8" fill="#2a3690"/>
<rect x="323.4" y="670.5" width="173.3" height="8.8" fill="#c6cce4"/>
<rect x="496.4" y="670.5" width="4.3" height="8.8" fill="#304896"/>
<rect x="500.4" y="670.5" width="4.3" height="8.8" fill="#304296"/>
<rect x="504.5" y="670.5" width="40.5" height="8.8" fill="#303c90"/>
<rect x="544.7" y="670.5" width="4.3" height="8.8" fill="#304296"/>
<rect x="548.7" y="670.5" width="4.3" height="8.8" fill="#303c96"/>
<rect x="552.7" y="670.5" width="16.4" height="8.8" fill="#2a368a"/>
<rect x="568.8" y="670.5" width="4.3" height="8.8" fill="#2a3084"/>
<rect x="572.9" y="670.5" width="4.3" height="8.8" fill="#2a368a"/>
<rect x="576.9" y="670.5" width="20.4" height="8.8" fill="#c6cce4"/>
<rect x="154.4" y="679" width="4.3" height="8.8" fill="#f0f0f6"/>
<rect x="158.4" y="679" width="4.3" height="8.8" fill="#d8d8ea"/>
<rect x="162.4" y="679" width="4.3" height="8.8" fill="#303c90"/>
<rect x="166.5" y="679" width="4.3" height="8.8" fill="#2a368a"/>
<rect x="170.5" y="679" width="4.3" height="8.8" fill="#2a308a"/>
<rect x="174.5" y="679" width="4.3" height="8.8" fill="#2a3690"/>
<rect x="178.5" y="679" width="100.9" height="8.8" fill="#c6cce4"/>
<rect x="279.1" y="679" width="4.3" height="8.8" fill="#2a3084"/>
<rect x="283.2" y="679" width="4.3" height="8.8" fill="#2a368a"/>
<rect x="287.2" y="679" width="4.3" height="8.8" fill="#2a3690"/>
<rect x="291.2" y="679" width="4.3" height="8.8" fill="#303c90"/>
<rect x="295.2" y="679" width="4.3" height="8.8" fill="#304296"/>
<rect x="299.3" y="679" width="253.8" height="8.8" fill="#c6cce4"/>
<rect x="552.7" y="679" width="4.3" height="8.8" fill="#2a368a"/>
<rect x="556.8" y="679" width="4.3" height="8.8" fill="#2a308a"/>
<rect x="560.8" y="679" width="12.4" height="8.8" fill="#c6cce4"/>
<rect x="572.9" y="679" width="4.3" height="8.8" fill="#2a3084"/>
<rect x="576.9" y="679" width="20.4" height="8.8" fill="#c6cce4"/>
<rect x="154.4" y="687.5" width="4.3" height="8.8" fill="#f0f0f6"/>
<rect x="158.4" y="687.5" width="4.3" height="8.8" fill="#d8d8ea"/>
<rect x="162.4" y="687.5" width="4.3" height="8.8" fill="#ccd2e4"/>
<rect x="166.5" y="687.5" width="430.8" height="8.8" fill="#c6cce4"/>
<rect x="154.4" y="696" width="4.3" height="8.8" fill="#f6f6fc"/>
<rect x="158.4" y="696" width="4.3" height="8.8" fill="#dedef0"/>
<rect x="162.4" y="696" width="4.3" height="8.8" fill="#d2d2ea"/>
<rect x="166.5" y="696" width="430.8" height="8.8" fill="#ccd2ea"/>
<rect x="106.1" y="704.5" width="24.4" height="8.8" fill="#fcfcff"/>
<rect x="154.4" y="704.5" width="4.3" height="8.8" fill="#fcfcff"/>
<rect x="158.4" y="704.5" width="4.3" height="8.8" fill="#f0f0f6"/>
<rect x="162.4" y="704.5" width="8.3" height="8.8" fill="#eaeaf6"/>
<rect x="170.5" y="704.5" width="426.8" height="8.8" fill="#e4e4f0"/>
<rect x="102.1" y="713" width="4.3" height="8.8" fill="#fcfcff"/>
<rect x="106.1" y="713" width="20.4" height="8.8" fill="#f6f6fc"/>
<rect x="126.2" y="713" width="8.3" height="8.8" fill="#fcfcff"/>
<rect x="142.3" y="713" width="4.3" height="8.8" fill="#fff0f0"/>
<rect x="146.4" y="713" width="4.3" height="8.8" fill="#f68a8a"/>
<rect x="150.4" y="713" width="4.3" height="8.8" fill="#f04248"/>
<rect x="154.4" y="713" width="4.3" height="8.8" fill="#f04242"/>
<rect x="158.4" y="713" width="438.9" height="8.8" fill="#fffcfc"/>
<rect x="98.1" y="721.5" width="4.3" height="8.8" fill="#fcfcff"/>
<rect x="102.1" y="721.5" width="8.3" height="8.8" fill="#f6f6fc"/>
<rect x="110.1" y="721.5" width="16.4" height="8.8" fill="#f0f0f6"/>
<rect x="126.2" y="721.5" width="4.3" height="8.8" fill="#f6f6fc"/>
<rect x="130.3" y="721.5" width="8.3" height="8.8" fill="#fcfcff"/>
<rect x="142.3" y="721.5" width="4.3" height="8.8" fill="#fff0f0"/>
<rect x="146.4" y="721.5" width="4.3" height="8.8" fill="#f68a8a"/>
<rect x="150.4" y="721.5" width="4.3" height="8.8" fill="#f04242"/>
<rect x="154.4" y="721.5" width="8.3" height="8.8" fill="#f03c42"/>
<rect x="162.4" y="721.5" width="434.9" height="8.8" fill="#ffeaea"/>
<rect x="98.1" y="730" width="4.3" height="8.8" fill="#fcfcff"/>
<rect x="102.1" y="730" width="4.3" height="8.8" fill="#f6f6fc"/>
<rect x="106.1" y="730" width="4.3" height="8.8" fill="#f0f0f6"/>
<rect x="110.1" y="730" width="16.4" height="8.8" fill="#eaeaf6"/>
<rect x="126.2" y="730" width="4.3" height="8.8" fill="#f0f0f6"/>
<rect x="130.3" y="730" width="4.3" height="8.8" fill="#f6f6fc"/>
<rect x="134.3" y="730" width="4.3" height="8.8" fill="#fcfcff"/>
<rect x="142.3" y="730" width="4.3" height="8.8" fill="#f69c9c"/>
<rect x="146.4" y="730" width="4.3" height="8.8" fill="#f04848"/>
<rect x="150.4" y="730" width="4.3" height="8.8" fill="#e41e24"/>
<rect x="154.4" y="730" width="4.3" height="8.8" fill="#de1e24"/>
<rect x="158.4" y="730" width="4.3" height="8.8" fill="#d81e24"/>
<rect x="162.4" y="730" width="4.3" height="8.8" fill="#de1e24"/>
<rect x="166.5" y="730" width="108.9" height="8.8" fill="#fcd2d2"/>
<rect x="275.1" y="730" width="4.3" height="8.8" fill="#ea1e24"/>
<rect x="279.1" y="730" width="92.8" height="8.8" fill="#fcd2d2"/>
<rect x="371.7" y="730" width="4.3" height="8.8" fill="#e41e24"/>
<rect x="375.7" y="730" width="4.3" height="8.8" fill="#de1e24"/>
<rect x="379.7" y="730" width="4.3" height="8.8" fill="#ea1e24"/>
<rect x="383.7" y="730" width="213.6" height="8.8" fill="#fcd2d2"/>
<rect x="94" y="738.5" width="4.3" height="8.8" fill="#fcfcff"/>
<rect x="98.1" y="738.5" width="4.3" height="8.8" fill="#f6f6fc"/>
<rect x="102.1" y="738.5" width="4.3" height="8.8" fill="#f0f0f6"/>
<rect x="106.1" y="738.5" width="4.3" height="8.8" fill="#eaeaf6"/>
<rect x="110.1" y="738.5" width="12.4" height="8.8" fill="#e4e4f0"/>
<rect x="122.2" y="738.5" width="4.3" height="8.8" fill="#eaeaf6"/>
<rect x="126.2" y="738.5" width="4.3" height="8.8" fill="#f0f0f6"/>
<rect x="130.3" y="738.5" width="4.3" height="8.8" fill="#f6f6fc"/>
<rect x="134.3" y="738.5" width="4.3" height="8.8" fill="#fcfcff"/>
<rect x="142.3" y="738.5" width="4.3" height="8.8" fill="#f69c9c"/>
<rect x="146.4" y="738.5" width="4.3" height="8.8" fill="#f04848"/>
<rect x="150.4" y="738.5" width="4.3" height="8.8" fill="#de1e24"/>
<rect x="154.4" y="738.5" width="8.3" height="8.8" fill="#d21e24"/>
<rect x="162.4" y="738.5" width="4.3" height="8.8" fill="#d81e24"/>
<rect x="166.5" y="738.5" width="4.3" height="8.8" fill="#e41e24"/>
<rect x="170.5" y="738.5" width="12.4" height="8.8" fill="#fcc6c6"/>
<rect x="182.6" y="738.5" width="12.4" height="8.8" fill="#de1e24"/>
<rect x="194.6" y="738.5" width="8.3" height="8.8" fill="#e41e24"/>
<rect x="202.7" y="738.5" width="28.5" height="8.8" fill="#de1e24"/>
<rect x="230.9" y="738.5" width="16.4" height="8.8" fill="#d81e24"/>
<rect x="246.9" y="738.5" width="4.3" height="8.8" fill="#de1e24"/>
<rect x="251" y="738.5" width="8.3" height="8.8" fill="#e41e24"/>
<rect x="259" y="738.5" width="4.3" height="8.8" fill="#de1e24"/>
<rect x="263" y="738.5" width="4.3" height="8.8" fill="#d81e24"/>
<rect x="267.1" y="738.5" width="4.3" height="8.8" fill="#d21e24"/>
<rect x="271.1" y="738.5" width="4.3" height="8.8" fill="#cc1e24"/>
<rect x="275.1" y="738.5" width="4.3" height="8.8" fill="#d21e24"/>
<rect x="279.1" y="738.5" width="12.4" height="8.8" fill="#d81e24"/>
<rect x="291.2" y="738.5" width="4.3" height="8.8" fill="#e41e24"/>
<rect x="295.2" y="738.5" width="36.5" height="8.8" fill="#fcc6c6"/>
<rect x="331.4" y="738.5" width="8.3" height="8.8" fill="#de1e24"/>
<rect x="339.5" y="738.5" width="4.3" height="8.8" fill="#e41e24"/>
<rect x="343.5" y="738.5" width="4.3" height="8.8" fill="#de1e24"/>
<rect x="347.5" y="738.5" width="8.3" height="8.8" fill="#d81e24"/>
<rect x="355.6" y="738.5" width="4.3" height="8.8" fill="#de1e24"/>
<rect x="359.6" y="738.5" width="8.3" height="8.8" fill="#e41e24"/>
<rect x="367.7" y="738.5" width="4.3" height="8.8" fill="#de1e24"/>
<rect x="371.7" y="738.5" width="4.3" height="8.8" fill="#d21e24"/>
<rect x="375.7" y="738.5" width="4.3" height="8.8" fill="#cc1e24"/>
<rect x="379.7" y="738.5" width="4.3" height="8.8" fill="#de1e24"/>
<rect x="383.7" y="738.5" width="8.3" height="8.8" fill="#e41e24"/>
<rect x="391.8" y="738.5" width="8.3" height="8.8" fill="#de1e24"/>
<rect x="399.8" y="738.5" width="4.3" height="8.8" fill="#e41e24"/>
<rect x="403.9" y="738.5" width="4.3" height="8.8" fill="#de1e24"/>
<rect x="407.9" y="738.5" width="4.3" height="8.8" fill="#d81e24"/>
<rect x="411.9" y="738.5" width="16.4" height="8.8" fill="#de1e24"/>
<rect x="428" y="738.5" width="4.3" height="8.8" fill="#e41e24"/>
<rect x="432" y="738.5" width="4.3" height="8.8" fill="#ea1e24"/>
<rect x="436.1" y="738.5" width="4.3" height="8.8" fill="#f01e24"/>
<rect x="440.1" y="738.5" width="4.3" height="8.8" fill="#f01e2a"/>
<rect x="444.1" y="738.5" width="153.2" height="8.8" fill="#fcc6c6"/>
<rect x="94" y="747" width="4.3" height="8.8" fill="#fcfcff"/>
<rect x="98.1" y="747" width="4.3" height="8.8" fill="#f6f6fc"/>
<rect x="102.1" y="747" width="4.3" height="8.8" fill="#f0f0f6"/>
<rect x="106.1" y="747" width="4.3" height="8.8" fill="#eaeaf6"/>
<rect x="110.1" y="747" width="12.4" height="8.8" fill="#dedef0"/>
<rect x="122.2" y="747" width="4.3" height="8.8" fill="#e4e4f0"/>
<rect x="126.2" y="747" width="4.3" height="8.8" fill="#eaeaf6"/>
<rect x="130.3" y="747" width="4.3" height="8.8" fill="#f0f0f6"/>
<rect x="134.3" y="747" width="4.3" height="8.8" fill="#f6f6fc"/>
<rect x="138.3" y="747" width="4.3" height="8.8" fill="#fcfcff"/>
<rect x="142.3" y="747" width="4.3" height="8.8" fill="#f69c9c"/>
<rect x="146.4" y="747" width="4.3" height="8.8" fill="#f04848"/>
<rect x="150.4" y="747" width="4.3" height="8.8" fill="#d81e24"/>
<rect x="154.4" y="747" width="4.3" height="8.8" fill="#cc1e24"/>
<rect x="158.4" y="747" width="4.3" height="8.8" fill="#c61e24"/>
<rect x="162.4" y="747" width="4.3" height="8.8" fill="#d21e24"/>
<rect x="166.5" y="747" width="4.3" height="8.8" fill="#e41e24"/>
<rect x="170.5" y="747" width="16.4" height="8.8" fill="#ea1e24"/>
<rect x="186.6" y="747" width="4.3" height="8.8" fill="#c01e1e"/>
<rect x="190.6" y="747" width="8.3" height="8.8" fill="#c61e24"/>
<rect x="198.7" y="747" width="4.3" height="8.8" fill="#c01e1e"/>
<rect x="202.7" y="747" width="4.3" height="8.8" fill="#ba1e1e"/>
<rect x="206.7" y="747" width="24.4" height="8.8" fill="#ba181e"/>
<rect x="230.9" y="747" width="12.4" height="8.8" fill="#b4181e"/>
<rect x="242.9" y="747" width="4.3" height="8.8" fill="#ba181e"/>
<rect x="246.9" y="747" width="4.3" height="8.8" fill="#c01e1e"/>
<rect x="251" y="747" width="8.3" height="8.8" fill="#c61e24"/>
<rect x="259" y="747" width="4.3" height="8.8" fill="#c01e1e"/>
<rect x="263" y="747" width="4.3" height="8.8" fill="#ba181e"/>
<rect x="267.1" y="747" width="4.3" height="8.8" fill="#a8181e"/>
<rect x="271.1" y="747" width="4.3" height="8.8" fill="#9c181e"/>
<rect x="275.1" y="747" width="4.3" height="8.8" fill="#96181e"/>
<rect x="279.1" y="747" width="4.3" height="8.8" fill="#a2181e"/>
<rect x="283.2" y="747" width="4.3" height="8.8" fill="#ae181e"/>
<rect x="287.2" y="747" width="4.3" height="8.8" fill="#ba181e"/>
<rect x="291.2" y="747" width="4.3" height="8.8" fill="#c61e24"/>
<rect x="295.2" y="747" width="4.3" height="8.8" fill="#d21e24"/>
<rect x="299.3" y="747" width="4.3" height="8.8" fill="#d81e24"/>
<rect x="303.3" y="747" width="4.3" height="8.8" fill="#cc1e24"/>
<rect x="307.3" y="747" width="4.3" height="8.8" fill="#c61e24"/>
<rect x="311.3" y="747" width="12.4" height="8.8" fill="#fcc0c6"/>
<rect x="323.4" y="747" width="4.3" height="8.8" fill="#c61e24"/>
<rect x="327.4" y="747" width="16.4" height="8.8" fill="#c01e1e"/>
<rect x="343.5" y="747" width="4.3" height="8.8" fill="#ba181e"/>
<rect x="347.5" y="747" width="8.3" height="8.8" fill="#ae181e"/>
<rect x="355.6" y="747" width="4.3" height="8.8" fill="#b4181e"/>
<rect x="359.6" y="747" width="4.3" height="8.8" fill="#ba181e"/>
<rect x="363.6" y="747" width="4.3" height="8.8" fill="#b4181e"/>
<rect x="367.7" y="747" width="4.3" height="8.8" fill="#ae181e"/>
<rect x="371.7" y="747" width="4.3" height="8.8" fill="#a8181e"/>
<rect x="375.7" y="747" width="4.3" height="8.8" fill="#a2181e"/>
<rect x="379.7" y="747" width="4.3" height="8.8" fill="#ae181e"/>
<rect x="383.7" y="747" width="8.3" height="8.8" fill="#ba181e"/>
<rect x="391.8" y="747" width="4.3" height="8.8" fill="#b4181e"/>
<rect x="395.8" y="747" width="4.3" height="8.8" fill="#ba181e"/>
<rect x="399.8" y="747" width="12.4" height="8.8" fill="#c01e1e"/>
<rect x="411.9" y="747" width="4.3" height="8.8" fill="#c61e24"/>
<rect x="415.9" y="747" width="8.3" height="8.8" fill="#cc1e24"/>
<rect x="424" y="747" width="4.3" height="8.8" fill="#d21e24"/>
<rect x="428" y="747" width="4.3" height="8.8" fill="#d81e24"/>
<rect x="432" y="747" width="4.3" height="8.8" fill="#de1e24"/>
<rect x="436.1" y="747" width="4.3" height="8.8" fill="#e41e24"/>
<rect x="440.1" y="747" width="8.3" height="8.8" fill="#ea1e24"/>
<rect x="448.1" y="747" width="4.3" height="8.8" fill="#e41e24"/>
<rect x="452.1" y="747" width="4.3" height="8.8" fill="#ea1e24"/>
<rect x="456.2" y="747" width="4.3" height="8.8" fill="#f01e24"/>
<rect x="460.2" y="747" width="8.3" height="8.8" fill="#f0242a"/>
<rect x="468.2" y="747" width="4.3" height="8.8" fill="#f01e2a"/>
<rect x="472.3" y="747" width="8.3" height="8.8" fill="#f0242a"/>
<rect x="480.3" y="747" width="4.3" height="8.8" fill="#f01e2a"/>
<rect x="484.3" y="747" width="4.3" height="8.8" fill="#f01e24"/>
<rect x="488.4" y="747" width="12.4" height="8.8" fill="#fcc0c6"/>
<rect x="500.4" y="747" width="4.3" height="8.8" fill="#f0242a"/>
<rect x="504.5" y="747" width="4.3" height="8.8" fill="#f01e2a"/>
<rect x="508.5" y="747" width="8.3" height="8.8" fill="#f0242a"/>
<rect x="516.5" y="747" width="4.3" height="8.8" fill="#f01e2a"/>
<rect x="520.6" y="747" width="12.4" height="8.8" fill="#f0242a"/>
<rect x="532.6" y="747" width="4.3" height="8.8" fill="#f02430"/>
<rect x="536.6" y="747" width="36.5" height="8.8" fill="#fcc0c6"/>
<rect x="572.9" y="747" width="4.3" height="8.8" fill="#f02430"/>
<rect x="576.9" y="747" width="20.4" height="8.8" fill="#fcc0c6"/>
<rect x="94" y="755.5" width="4.3" height="8.8" fill="#fcfcff"/>
<rect x="98.1" y="755.5" width="4.3" height="8.8" fill="#f6f6fc"/>
<rect x="102.1" y="755.5" width="4.3" height="8.8" fill="#f0f0f6"/>
<rect x="106.1" y="755.5" width="4.3" height="8.8" fill="#e4e4f0"/>
<rect x="110.1" y="755.5" width="12.4" height="8.8" fill="#dedef0"/>
<rect x="122.2" y="755.5" width="4.3" height="8.8" fill="#e4e4f0"/>
<rect x="126.2" y="755.5" width="4.3" height="8.8" fill="#eaeaf6"/>
<rect x="130.3" y="755.5" width="4.3" height="8.8" fill="#f0f0f6"/>
<rect x="134.3" y="755.5" width="4.3" height="8.8" fill="#f6f6fc"/>
<rect x="138.3" y="755.5" width="4.3" height="8.8" fill="#fcfcff"/>
<rect x="142.3" y="755.5" width="4.3" height="8.8" fill="#f69c9c"/>
<rect x="146.4" y="755.5" width="4.3" height="8.8" fill="#f04848"/>
<rect x="150.4" y="755.5" width="4.3" height="8.8" fill="#d81e24"/>
<rect x="154.4" y="755.5" width="4.3" height="8.8" fill="#c01e1e"/>
<rect x="158.4" y="755.5" width="4.3" height="8.8" fill="#ba181e"/>
<rect x="162.4" y="755.5" width="4.3" height="8.8" fill="#cc1e24"/>
<rect x="166.5" y="755.5" width="4.3" height="8.8" fill="#de1e24"/>
<rect x="170.5" y="755.5" width="16.4" height="8.8" fill="#ea1e24"/>
<rect x="186.6" y="755.5" width="12.4" height="8.8" fill="#a8181e"/>
<rect x="198.7" y="755.5" width="4.3" height="8.8" fill="#a2181e"/>
<rect x="202.7" y="755.5" width="4.3" height="8.8" fill="#9c181e"/>
<rect x="206.7" y="755.5" width="24.4" height="8.8" fill="#96181e"/>
<rect x="230.9" y="755.5" width="8.3" height="8.8" fill="#90181e"/>
<rect x="238.9" y="755.5" width="4.3" height="8.8" fill="#96181e"/>
<rect x="242.9" y="755.5" width="4.3" height="8.8" fill="#9c181e"/>
<rect x="246.9" y="755.5" width="4.3" height="8.8" fill="#a2181e"/>
<rect x="251" y="755.5" width="12.4" height="8.8" fill="#a8181e"/>
<rect x="263" y="755.5" width="4.3" height="8.8" fill="#9c181e"/>
<rect x="267.1" y="755.5" width="20.4" height="8.8" fill="#8a181e"/>
<rect x="287.2" y="755.5" width="4.3" height="8.8" fill="#9c181e"/>
<rect x="291.2" y="755.5" width="4.3" height="8.8" fill="#ae181e"/>
<rect x="295.2" y="755.5" width="8.3" height="8.8" fill="#c01e1e"/>
<rect x="303.3" y="755.5" width="4.3" height="8.8" fill="#ba181e"/>
<rect x="307.3" y="755.5" width="4.3" height="8.8" fill="#b4181e"/>
<rect x="311.3" y="755.5" width="4.3" height="8.8" fill="#ae181e"/>
<rect x="315.3" y="755.5" width="4.3" height="8.8" fill="#a2181e"/>
<rect x="319.4" y="755.5" width="12.4" height="8.8" fill="#a8181e"/>
<rect x="331.4" y="755.5" width="4.3" height="8.8" fill="#a2181e"/>
<rect x="335.5" y="755.5" width="8.3" height="8.8" fill="#9c181e"/>
<rect x="343.5" y="755.5" width="4.3" height="8.8" fill="#96181e"/>
<rect x="347.5" y="755.5" width="12.4" height="8.8" fill="#8a181e"/>
<rect x="359.6" y="755.5" width="4.3" height="8.8" fill="#90181e"/>
<rect x="363.6" y="755.5" width="20.4" height="8.8" fill="#8a181e"/>
<rect x="383.7" y="755.5" width="4.3" height="8.8" fill="#90181e"/>
<rect x="387.8" y="755.5" width="4.3" height="8.8" fill="#96181e"/>
<rect x="391.8" y="755.5" width="4.3" height="8.8" fill="#90181e"/>
<rect x="395.8" y="755.5" width="4.3" height="8.8" fill="#96181e"/>
<rect x="399.8" y="755.5" width="4.3" height="8.8" fill="#a2181e"/>
<rect x="403.9" y="755.5" width="8.3" height="8.8" fill="#a8181e"/>
<rect x="411.9" y="755.5" width="4.3" height="8.8" fill="#ae181e"/>
<rect x="415.9" y="755.5" width="4.3" height="8.8" fill="#ba181e"/>
<rect x="420" y="755.5" width="8.3" height="8.8" fill="#c01e1e"/>
<rect x="428" y="755.5" width="4.3" height="8.8" fill="#cc1e24"/>
<rect x="432" y="755.5" width="4.3" height="8.8" fill="#d81e24"/>
<rect x="436.1" y="755.5" width="4.3" height="8.8" fill="#de1e24"/>
<rect x="440.1" y="755.5" width="12.4" height="8.8" fill="#e41e24"/>
<rect x="452.1" y="755.5" width="4.3" height="8.8" fill="#ea1e24"/>
<rect x="456.2" y="755.5" width="4.3" height="8.8" fill="#f01e24"/>
<rect x="460.2" y="755.5" width="4.3" height="8.8" fill="#f01e2a"/>
<rect x="464.2" y="755.5" width="4.3" height="8.8" fill="#f0242a"/>
<rect x="468.2" y="755.5" width="4.3" height="8.8" fill="#f01e2a"/>
<rect x="472.3" y="755.5" width="8.3" height="8.8" fill="#f0242a"/>
<rect x="480.3" y="755.5" width="4.3" height="8.8" fill="#f01e2a"/>
<rect x="484.3" y="755.5" width="8.3" height="8.8" fill="#f01e24"/>
<rect x="492.4" y="755.5" width="4.3" height="8.8" fill="#f0242a"/>
<rect x="496.4" y="755.5" width="4.3" height="8.8" fill="#f02a30"/>
<rect x="500.4" y="755.5" width="4.3" height="8.8" fill="#f0242a"/>
<rect x="504.5" y="755.5" width="4.3" height="8.8" fill="#f01e2a"/>
<rect x="508.5" y="755.5" width="8.3" height="8.8" fill="#f0242a"/>
<rect x="516.5" y="755.5" width="4.3" height="8.8" fill="#f01e2a"/>
<rect x="520.6" y="755.5" width="12.4" height="8.8" fill="#f0242a"/>
<rect x="532.6" y="755.5" width="4.3" height="8.8" fill="#f02430"/>
<rect x="536.6" y="755.5" width="4.3" height="8.8" fill="#f0242a"/>
<rect x="540.7" y="755.5" width="4.3" height="8.8" fill="#f02a30"/>
<rect x="544.7" y="755.5" width="8.3" height="8.8" fill="#f03036"/>
<rect x="552.7" y="755.5" width="16.4" height="8.8" fill="#fcc0c6"/>
<rect x="568.8" y="755.5" width="4.3" height="8.8" fill="#f0242a"/>
<rect x="572.9" y="755.5" width="4.3" height="8.8" fill="#f02430"/>
<rect x="576.9" y="755.5" width="20.4" height="8.8" fill="#fcc0c6"/>
<rect x="94" y="764" width="4.3" height="8.8" fill="#fcfcff"/>
<rect x="98.1" y="764" width="4.3" height="8.8" fill="#f6f6fc"/>
<rect x="102.1" y="764" width="4.3" height="8.8" fill="#f0f0f6"/>
<rect x="106.1" y="764" width="4.3" height="8.8" fill="#eaeaf6"/>
<rect x="110.1" y="764" width="12.4" height="8.8" fill="#dedef0"/>
<rect x="122.2" y="764" width="4.3" height="8.8" fill="#e4e4f0"/>
<rect x="126.2" y="764" width="4.3" height="8.8" fill="#eaeaf6"/>
<rect x="130.3" y="764" width="4.3" height="8.8" fill="#f0f0f6"/>
<rect x="134.3" y="764" width="4.3" height="8.8" fill="#f6f6fc"/>
<rect x="138.3" y="764" width="4.3" height="8.8" fill="#fcfcff"/>
<rect x="142.3" y="764" width="4.3" height="8.8" fill="#f69c9c"/>
<rect x="146.4" y="764" width="4.3" height="8.8" fill="#f04248"/>
<rect x="150.4" y="764" width="4.3" height="8.8" fill="#d21e24"/>
<rect x="154.4" y="764" width="4.3" height="8.8" fill="#b4181e"/>
<rect x="158.4" y="764" width="4.3" height="8.8" fill="#ae181e"/>
<rect x="162.4" y="764" width="4.3" height="8.8" fill="#c01e1e"/>
<rect x="166.5" y="764" width="4.3" height="8.8" fill="#de1e24"/>
<rect x="170.5" y="764" width="16.4" height="8.8" fill="#ea1e24"/>
<rect x="186.6" y="764" width="16.4" height="8.8" fill="#ae181e"/>
<rect x="202.7" y="764" width="4.3" height="8.8" fill="#a8181e"/>
<rect x="206.7" y="764" width="16.4" height="8.8" fill="#a2181e"/>
<rect x="222.8" y="764" width="16.4" height="8.8" fill="#9c181e"/>
<rect x="238.9" y="764" width="8.3" height="8.8" fill="#a2181e"/>
<rect x="246.9" y="764" width="4.3" height="8.8" fill="#ae181e"/>
<rect x="251" y="764" width="8.3" height="8.8" fill="#b4181e"/>
<rect x="259" y="764" width="4.3" height="8.8" fill="#ae181e"/>
<rect x="263" y="764" width="4.3" height="8.8" fill="#a2181e"/>
<rect x="267.1" y="764" width="4.3" height="8.8" fill="#90181e"/>
<rect x="271.1" y="764" width="12.4" height="8.8" fill="#8a181e"/>
<rect x="283.2" y="764" width="4.3" height="8.8" fill="#96181e"/>
<rect x="287.2" y="764" width="4.3" height="8.8" fill="#a2181e"/>
<rect x="291.2" y="764" width="4.3" height="8.8" fill="#b4181e"/>
<rect x="295.2" y="764" width="8.3" height="8.8" fill="#c61e24"/>
<rect x="303.3" y="764" width="4.3" height="8.8" fill="#c01e1e"/>
<rect x="307.3" y="764" width="4.3" height="8.8" fill="#ba181e"/>
<rect x="311.3" y="764" width="4.3" height="8.8" fill="#b4181e"/>
<rect x="315.3" y="764" width="8.3" height="8.8" fill="#ae181e"/>
<rect x="323.4" y="764" width="4.3" height="8.8" fill="#b4181e"/>
<rect x="327.4" y="764" width="4.3" height="8.8" fill="#ae181e"/>
<rect x="331.4" y="764" width="12.4" height="8.8" fill="#a8181e"/>
<rect x="343.5" y="764" width="4.3" height="8.8" fill="#9c181e"/>
<rect x="347.5" y="764" width="4.3" height="8.8" fill="#96181e"/>
<rect x="351.6" y="764" width="4.3" height="8.8" fill="#90181e"/>
<rect x="355.6" y="764" width="4.3" height="8.8" fill="#96181e"/>
<rect x="359.6" y="764" width="4.3" height="8.8" fill="#9c181e"/>
<rect x="363.6" y="764" width="4.3" height="8.8" fill="#96181e"/>
<rect x="367.7" y="764" width="4.3" height="8.8" fill="#90181e"/>
<rect x="371.7" y="764" width="8.3" height="8.8" fill="#8a181e"/>
<rect x="379.7" y="764" width="4.3" height="8.8" fill="#90181e"/>
<rect x="383.7" y="764" width="4.3" height="8.8" fill="#9c181e"/>
<rect x="387.8" y="764" width="4.3" height="8.8" fill="#a2181e"/>
<rect x="391.8" y="764" width="4.3" height="8.8" fill="#9c181e"/>
<rect x="395.8" y="764" width="4.3" height="8.8" fill="#a2181e"/>
<rect x="399.8" y="764" width="12.4" height="8.8" fill="#ae181e"/>
<rect x="411.9" y="764" width="4.3" height="8.8" fill="#b4181e"/>
<rect x="415.9" y="764" width="8.3" height="8.8" fill="#c01e1e"/>
<rect x="424" y="764" width="4.3" height="8.8" fill="#c61e24"/>
<rect x="428" y="764" width="4.3" height="8.8" fill="#cc1e24"/>
<rect x="432" y="764" width="4.3" height="8.8" fill="#d81e24"/>
<rect x="436.1" y="764" width="4.3" height="8.8" fill="#de1e24"/>
<rect x="440.1" y="764" width="12.4" height="8.8" fill="#e41e24"/>
<rect x="452.1" y="764" width="4.3" height="8.8" fill="#ea1e24"/>
<rect x="456.2" y="764" width="4.3" height="8.8" fill="#f01e24"/>
<rect x="460.2" y="764" width="8.3" height="8.8" fill="#f0242a"/>
<rect x="468.2" y="764" width="4.3" height="8.8" fill="#f01e2a"/>
<rect x="472.3" y="764" width="8.3" height="8.8" fill="#f0242a"/>
<rect x="480.3" y="764" width="4.3" height="8.8" fill="#f01e2a"/>
<rect x="484.3" y="764" width="8.3" height="8.8" fill="#f01e24"/>
<rect x="492.4" y="764" width="4.3" height="8.8" fill="#f0242a"/>
<rect x="496.4" y="764" width="4.3" height="8.8" fill="#f02a30"/>
<rect x="500.4" y="764" width="4.3" height="8.8" fill="#f0242a"/>
<rect x="504.5" y="764" width="4.3" height="8.8" fill="#f01e2a"/>
<rect x="508.5" y="764" width="8.3" height="8.8" fill="#f0242a"/>
<rect x="516.5" y="764" width="4.3" height="8.8" fill="#f01e2a"/>
<rect x="520.6" y="764" width="12.4" height="8.8" fill="#f0242a"/>
<rect x="532.6" y="764" width="4.3" height="8.8" fill="#f02430"/>
<rect x="536.6" y="764" width="4.3" height="8.8" fill="#f0242a"/>
<rect x="540.7" y="764" width="4.3" height="8.8" fill="#f02a30"/>
<rect x="544.7" y="764" width="8.3" height="8.8" fill="#f03036"/>
<rect x="552.7" y="764" width="8.3" height="8.8" fill="#f0242a"/>
<rect x="560.8" y="764" width="8.3" height="8.8" fill="#f02a30"/>
<rect x="568.8" y="764" width="4.3" height="8.8" fill="#f0242a"/>
<rect x="572.9" y="764" width="4.3" height="8.8" fill="#f02430"/>
<rect x="576.9" y="764" width="20.4" height="8.8" fill="#fcc0c6"/>
<rect x="94" y="772.5" width="4.3" height="8.8" fill="#fcfcff"/>
<rect x="98.1" y="772.5" width="4.3" height="8.8" fill="#f6f6fc"/>
<rect x="102.1" y="772.5" width="4.3" height="8.8" fill="#f0f0f6"/>
<rect x="106.1" y="772.5" width="4.3" height="8.8" fill="#eaeaf6"/>
<rect x="110.1" y="772.5" width="12.4" height="8.8" fill="#e4e4f0"/>
<rect x="122.2" y="772.5" width="4.3" height="8.8" fill="#e4e4f6"/>
<rect x="126.2" y="772.5" width="4.3" height="8.8" fill="#f0f0f6"/>
<rect x="130.3" y="772.5" width="4.3" height="8.8" fill="#f6f6fc"/>
<rect x="134.3" y="772.5" width="4.3" height="8.8" fill="#fcfcff"/>
<rect x="142.3" y="772.5" width="4.3" height="8.8" fill="#f69c9c"/>
<rect x="146.4" y="772.5" width="4.3" height="8.8" fill="#f04248"/>
<rect x="150.4" y="772.5" width="4.3" height="8.8" fill="#cc1e24"/>
<rect x="154.4" y="772.5" width="4.3" height="8.8" fill="#ae181e"/>
<rect x="158.4" y="772.5" width="4.3" height="8.8" fill="#a8181e"/>
<rect x="162.4" y="772.5" width="4.3" height="8.8" fill="#ba1e1e"/>
<rect x="166.5" y="772.5" width="4.3" height="8.8" fill="#d81e24"/>
<rect x="170.5" y="772.5" width="16.4" height="8.8" fill="#ea1e24"/>
<rect x="186.6" y="772.5" width="4.3" height="8.8" fill="#cc1e24"/>
<rect x="190.6" y="772.5" width="12.4" height="8.8" fill="#d21e24"/>
<rect x="202.7" y="772.5" width="24.4" height="8.8" fill="#cc1e24"/>
<rect x="226.8" y="772.5" width="20.4" height="8.8" fill="#c61e24"/>
<rect x="246.9" y="772.5" width="16.4" height="8.8" fill="#d21e24"/>
<rect x="263" y="772.5" width="4.3" height="8.8" fill="#cc1e24"/>
<rect x="267.1" y="772.5" width="4.3" height="8.8" fill="#ba1e1e"/>
<rect x="271.1" y="772.5" width="8.3" height="8.8" fill="#b4181e"/>
<rect x="279.1" y="772.5" width="4.3" height="8.8" fill="#ba181e"/>
<rect x="283.2" y="772.5" width="4.3" height="8.8" fill="#c01e1e"/>
<rect x="287.2" y="772.5" width="4.3" height="8.8" fill="#c61e24"/>
<rect x="291.2" y="772.5" width="4.3" height="8.8" fill="#d21e24"/>
<rect x="295.2" y="772.5" width="8.3" height="8.8" fill="#de1e24"/>
<rect x="303.3" y="772.5" width="4.3" height="8.8" fill="#d81e24"/>
<rect x="307.3" y="772.5" width="4.3" height="8.8" fill="#d21e24"/>
<rect x="311.3" y="772.5" width="12.4" height="8.8" fill="#cc1e24"/>
<rect x="323.4" y="772.5" width="8.3" height="8.8" fill="#d21e24"/>
<rect x="331.4" y="772.5" width="12.4" height="8.8" fill="#cc1e24"/>
<rect x="343.5" y="772.5" width="8.3" height="8.8" fill="#c61e24"/>
<rect x="351.6" y="772.5" width="4.3" height="8.8" fill="#c01e1e"/>
<rect x="355.6" y="772.5" width="4.3" height="8.8" fill="#c61e24"/>
<rect x="359.6" y="772.5" width="8.3" height="8.8" fill="#cc1e24"/>
<rect x="367.7" y="772.5" width="4.3" height="8.8" fill="#c61e24"/>
<rect x="371.7" y="772.5" width="4.3" height="8.8" fill="#ba181e"/>
<rect x="375.7" y="772.5" width="4.3" height="8.8" fill="#b4181e"/>
<rect x="379.7" y="772.5" width="4.3" height="8.8" fill="#c61e24"/>
<rect x="383.7" y="772.5" width="8.3" height="8.8" fill="#cc1e24"/>
<rect x="391.8" y="772.5" width="4.3" height="8.8" fill="#c61e24"/>
<rect x="395.8" y="772.5" width="4.3" height="8.8" fill="#cc1e24"/>
<rect x="399.8" y="772.5" width="8.3" height="8.8" fill="#d21e24"/>
<rect x="407.9" y="772.5" width="4.3" height="8.8" fill="#cc1e24"/>
<rect x="411.9" y="772.5" width="4.3" height="8.8" fill="#d21e24"/>
<rect x="415.9" y="772.5" width="12.4" height="8.8" fill="#d81e24"/>
<rect x="428" y="772.5" width="4.3" height="8.8" fill="#de1e24"/>
<rect x="432" y="772.5" width="4.3" height="8.8" fill="#e41e24"/>
<rect x="436.1" y="772.5" width="4.3" height="8.8" fill="#ea1e24"/>
<rect x="440.1" y="772.5" width="16.4" height="8.8" fill="#f0242a"/>
<rect x="456.2" y="772.5" width="40.5" height="8.8" fill="#f02a30"/>
<rect x="496.4" y="772.5" width="4.3" height="8.8" fill="#f03036"/>
<rect x="500.4" y="772.5" width="24.4" height="8.8" fill="#f02a30"/>
<rect x="524.6" y="772.5" width="8.3" height="8.8" fill="#f03036"/>
<rect x="532.6" y="772.5" width="4.3" height="8.8" fill="#f03c3c"/>
<rect x="536.6" y="772.5" width="4.3" height="8.8" fill="#f0363c"/>
<rect x="540.7" y="772.5" width="4.3" height="8.8" fill="#f03c42"/>
<rect x="544.7" y="772.5" width="4.3" height="8.8" fill="#f04248"/>
<rect x="548.7" y="772.5" width="4.3" height="8.8" fill="#f04242"/>
<rect x="552.7" y="772.5" width="8.3" height="8.8" fill="#f0363c"/>
<rect x="560.8" y="772.5" width="4.3" height="8.8" fill="#f03c42"/>
<rect x="564.8" y="772.5" width="4.3" height="8.8" fill="#f03036"/>
<rect x="568.8" y="772.5" width="4.3" height="8.8" fill="#f0363c"/>
<rect x="572.9" y="772.5" width="4.3" height="8.8" fill="#f03c3c"/>
<rect x="576.9" y="772.5" width="20.4" height="8.8" fill="#fcc0c6"/>
<rect x="98.1" y="781" width="4.3" height="8.8" fill="#fcfcff"/>
<rect x="102.1" y="781" width="4.3" height="8.8" fill="#f6f6fc"/>
<rect x="106.1" y="781" width="4.3" height="8.8" fill="#f0f0f6"/>
<rect x="110.1" y="781" width="16.4" height="8.8" fill="#eaeaf6"/>
<rect x="126.2" y="781" width="4.3" height="8.8" fill="#f0f0f6"/>
<rect x="130.3" y="781" width="4.3" height="8.8" fill="#f6f6fc"/>
<rect x="134.3" y="781" width="4.3" height="8.8" fill="#fcfcff"/>
<rect x="142.3" y="781" width="4.3" height="8.8" fill="#f69c9c"/>
<rect x="146.4" y="781" width="4.3" height="8.8" fill="#f04248"/>
<rect x="150.4" y="781" width="4.3" height="8.8" fill="#cc1e24"/>
<rect x="154.4" y="781" width="4.3" height="8.8" fill="#a8181e"/>
<rect x="158.4" y="781" width="4.3" height="8.8" fill="#a2181e"/>
<rect x="162.4" y="781" width="4.3" height="8.8" fill="#ba181e"/>
<rect x="166.5" y="781" width="4.3" height="8.8" fill="#d81e24"/>
<rect x="170.5" y="781" width="16.4" height="8.8" fill="#ea1e24"/>
<rect x="186.6" y="781" width="4.3" height="8.8" fill="#e41e24"/>
<rect x="190.6" y="781" width="12.4" height="8.8" fill="#ea1e24"/>
<rect x="202.7" y="781" width="8.3" height="8.8" fill="#e41e24"/>
<rect x="210.7" y="781" width="8.3" height="8.8" fill="#ea1e24"/>
<rect x="218.8" y="781" width="16.4" height="8.8" fill="#e41e24"/>
<rect x="234.9" y="781" width="12.4" height="8.8" fill="#de1e24"/>
<rect x="246.9" y="781" width="4.3" height="8.8" fill="#e41e24"/>
<rect x="251" y="781" width="8.3" height="8.8" fill="#ea1e24"/>
<rect x="259" y="781" width="8.3" height="8.8" fill="#e41e24"/>
<rect x="267.1" y="781" width="4.3" height="8.8" fill="#de1e24"/>
<rect x="271.1" y="781" width="4.3" height="8.8" fill="#d81e24"/>
<rect x="275.1" y="781" width="4.3" height="8.8" fill="#de1e24"/>
<rect x="279.1" y="781" width="8.3" height="8.8" fill="#e41e24"/>
<rect x="287.2" y="781" width="4.3" height="8.8" fill="#de1e24"/>
<rect x="291.2" y="781" width="4.3" height="8.8" fill="#ea1e24"/>
<rect x="295.2" y="781" width="8.3" height="8.8" fill="#f01e24"/>
<rect x="303.3" y="781" width="4.3" height="8.8" fill="#ea1e24"/>
<rect x="307.3" y="781" width="8.3" height="8.8" fill="#e41e24"/>
<rect x="315.3" y="781" width="8.3" height="8.8" fill="#de1e24"/>
<rect x="323.4" y="781" width="8.3" height="8.8" fill="#ea1e24"/>
<rect x="331.4" y="781" width="4.3" height="8.8" fill="#e41e24"/>
<rect x="335.5" y="781" width="8.3" height="8.8" fill="#ea1e24"/>
<rect x="343.5" y="781" width="8.3" height="8.8" fill="#e41e24"/>
<rect x="351.6" y="781" width="4.3" height="8.8" fill="#de1e24"/>
<rect x="355.6" y="781" width="4.3" height="8.8" fill="#ea1e24"/>
<rect x="359.6" y="781" width="4.3" height="8.8" fill="#f01e24"/>
<rect x="363.6" y="781" width="8.3" height="8.8" fill="#ea1e24"/>
<rect x="371.7" y="781" width="4.3" height="8.8" fill="#de1e24"/>
<rect x="375.7" y="781" width="4.3" height="8.8" fill="#d81e24"/>
<rect x="379.7" y="781" width="4.3" height="8.8" fill="#e41e24"/>
<rect x="383.7" y="781" width="8.3" height="8.8" fill="#f01e24"/>
<rect x="391.8" y="781" width="8.3" height="8.8" fill="#e41e24"/>
<rect x="399.8" y="781" width="4.3" height="8.8" fill="#ea1e24"/>
<rect x="403.9" y="781" width="4.3" height="8.8" fill="#e41e24"/>
<rect x="407.9" y="781" width="4.3" height="8.8" fill="#de1e24"/>
<rect x="411.9" y="781" width="20.4" height="8.8" fill="#e41e24"/>
<rect x="432" y="781" width="8.3" height="8.8" fill="#f01e24"/>
<rect x="440.1" y="781" width="8.3" height="8.8" fill="#f02a30"/>
<rect x="448.1" y="781" width="4.3" height="8.8" fill="#f0242a"/>
<rect x="452.1" y="781" width="4.3" height="8.8" fill="#f02430"/>
<rect x="456.2" y="781" width="24.4" height="8.8" fill="#f02a30"/>
<rect x="480.3" y="781" width="4.3" height="8.8" fill="#f03636"/>
<rect x="484.3" y="781" width="8.3" height="8.8" fill="#f03036"/>
<rect x="492.4" y="781" width="4.3" height="8.8" fill="#f0363c"/>
<rect x="496.4" y="781" width="4.3" height="8.8" fill="#f03c3c"/>
<rect x="500.4" y="781" width="4.3" height="8.8" fill="#f0363c"/>
<rect x="504.5" y="781" width="4.3" height="8.8" fill="#f03036"/>
<rect x="508.5" y="781" width="8.3" height="8.8" fill="#f0363c"/>
<rect x="516.5" y="781" width="4.3" height="8.8" fill="#f03636"/>
<rect x="520.6" y="781" width="12.4" height="8.8" fill="#f0363c"/>
<rect x="532.6" y="781" width="32.5" height="8.8" fill="#fccccc"/>
<rect x="564.8" y="781" width="4.3" height="8.8" fill="#f03c42"/>
<rect x="568.8" y="781" width="28.5" height="8.8" fill="#fccccc"/>
<rect x="98.1" y="789.5" width="4.3" height="8.8" fill="#fcfcff"/>
<rect x="102.1" y="789.5" width="8.3" height="8.8" fill="#f6f6fc"/>
<rect x="110.1" y="789.5" width="16.4" height="8.8" fill="#f0f0f6"/>
<rect x="126.2" y="789.5" width="4.3" height="8.8" fill="#f6f6fc"/>
<rect x="130.3" y="789.5" width="8.3" height="8.8" fill="#fcfcff"/>
<rect x="142.3" y="789.5" width="4.3" height="8.8" fill="#f69c9c"/>
<rect x="146.4" y="789.5" width="4.3" height="8.8" fill="#f04248"/>
<rect x="150.4" y="789.5" width="4.3" height="8.8" fill="#cc1e24"/>
<rect x="154.4" y="789.5" width="4.3" height="8.8" fill="#a8181e"/>
<rect x="158.4" y="789.5" width="4.3" height="8.8" fill="#a2181e"/>
<rect x="162.4" y="789.5" width="4.3" height="8.8" fill="#ba181e"/>
<rect x="166.5" y="789.5" width="4.3" height="8.8" fill="#d81e24"/>
<rect x="170.5" y="789.5" width="8.3" height="8.8" fill="#ea1e24"/>
<rect x="178.5" y="789.5" width="40.5" height="8.8" fill="#fcd8d8"/>
<rect x="218.8" y="789.5" width="24.4" height="8.8" fill="#f0242a"/>
<rect x="242.9" y="789.5" width="24.4" height="8.8" fill="#fcd8d8"/>
<rect x="267.1" y="789.5" width="24.4" height="8.8" fill="#f0242a"/>
<rect x="291.2" y="789.5" width="48.6" height="8.8" fill="#fcd8d8"/>
<rect x="339.5" y="789.5" width="100.9" height="8.8" fill="#f0242a"/>
<rect x="440.1" y="789.5" width="32.5" height="8.8" fill="#f02a30"/>
<rect x="472.3" y="789.5" width="8.3" height="8.8" fill="#f0363c"/>
<rect x="480.3" y="789.5" width="117" height="8.8" fill="#fcd8d8"/>
<rect x="102.1" y="798" width="4.3" height="8.8" fill="#fcfcff"/>
<rect x="106.1" y="798" width="20.4" height="8.8" fill="#f6f6fc"/>
<rect x="126.2" y="798" width="8.3" height="8.8" fill="#fcfcff"/>
<rect x="142.3" y="798" width="4.3" height="8.8" fill="#f69c9c"/>
<rect x="146.4" y="798" width="4.3" height="8.8" fill="#f04248"/>
<rect x="150.4" y="798" width="4.3" height="8.8" fill="#cc1e24"/>
<rect x="154.4" y="798" width="4.3" height="8.8" fill="#ae181e"/>
<rect x="158.4" y="798" width="4.3" height="8.8" fill="#a8181e"/>
<rect x="162.4" y="798" width="4.3" height="8.8" fill="#ba1e1e"/>
<rect x="166.5" y="798" width="4.3" height="8.8" fill="#d81e24"/>
<rect x="170.5" y="798" width="8.3" height="8.8" fill="#ea1e24"/>
<rect x="178.5" y="798" width="28.5" height="8.8" fill="#ffe4e4"/>
<rect x="206.7" y="798" width="4.3" height="8.8" fill="#ffdede"/>
<rect x="210.7" y="798" width="4.3" height="8.8" fill="#ffe4e4"/>
<rect x="214.8" y="798" width="4.3" height="8.8" fill="#ffdede"/>
<rect x="218.8" y="798" width="24.4" height="8.8" fill="#fcdede"/>
<rect x="242.9" y="798" width="4.3" height="8.8" fill="#fcd8d8"/>
<rect x="246.9" y="798" width="12.4" height="8.8" fill="#fcdede"/>
<rect x="259" y="798" width="12.4" height="8.8" fill="#fcd8d8"/>
<rect x="271.1" y="798" width="16.4" height="8.8" fill="#f0242a"/>
<rect x="287.2" y="798" width="8.3" height="8.8" fill="#fcd8d8"/>
<rect x="295.2" y="798" width="12.4" height="8.8" fill="#fcdede"/>
<rect x="307.3" y="798" width="16.4" height="8.8" fill="#fcd8d8"/>
<rect x="323.4" y="798" width="12.4" height="8.8" fill="#fcdede"/>
<rect x="335.5" y="798" width="4.3" height="8.8" fill="#ffdede"/>
<rect x="339.5" y="798" width="4.3" height="8.8" fill="#ffe4e4"/>
<rect x="343.5" y="798" width="12.4" height="8.8" fill="#ffdede"/>
<rect x="355.6" y="798" width="8.3" height="8.8" fill="#ffe4e4"/>
<rect x="363.6" y="798" width="44.6" height="8.8" fill="#f0242a"/>
<rect x="407.9" y="798" width="24.4" height="8.8" fill="#ffe4e4"/>
<rect x="432" y="798" width="8.3" height="8.8" fill="#f0242a"/>
<rect x="440.1" y="798" width="12.4" height="8.8" fill="#f02a30"/>
<rect x="452.1" y="798" width="12.4" height="8.8" fill="#ffdede"/>
<rect x="464.2" y="798" width="20.4" height="8.8" fill="#fcdede"/>
<rect x="484.3" y="798" width="8.3" height="8.8" fill="#fcd8d8"/>
<rect x="492.4" y="798" width="8.3" height="8.8" fill="#fcdede"/>
<rect x="500.4" y="798" width="32.5" height="8.8" fill="#fcd8d8"/>
<rect x="532.6" y="798" width="4.3" height="8.8" fill="#fcdede"/>
<rect x="536.6" y="798" width="4.3" height="8.8" fill="#fcd8d8"/>
<rect x="540.7" y="798" width="4.3" height="8.8" fill="#fcdede"/>
<rect x="544.7" y="798" width="4.3" height="8.8" fill="#ffdede"/>
<rect x="548.7" y="798" width="28.5" height="8.8" fill="#fcdede"/>
<rect x="576.9" y="798" width="20.4" height="8.8" fill="#ffe4e4"/>
<rect x="106.1" y="806.5" width="24.4" height="8.8" fill="#fcfcff"/>
<rect x="142.3" y="806.5" width="4.3" height="8.8" fill="#f69c9c"/>
<rect x="146.4" y="806.5" width="4.3" height="8.8" fill="#f04248"/>
<rect x="150.4" y="806.5" width="4.3" height="8.8" fill="#d21e24"/>
<rect x="154.4" y="806.5" width="4.3" height="8.8" fill="#b4181e"/>
<rect x="158.4" y="806.5" width="4.3" height="8.8" fill="#ae181e"/>
<rect x="162.4" y="806.5" width="4.3" height="8.8" fill="#c01e1e"/>
<rect x="166.5" y="806.5" width="4.3" height="8.8" fill="#de1e24"/>
<rect x="170.5" y="806.5" width="8.3" height="8.8" fill="#ea1e24"/>
<rect x="178.5" y="806.5" width="4.3" height="8.8" fill="#ffe4e4"/>
<rect x="182.6" y="806.5" width="4.3" height="8.8" fill="#ffdede"/>
<rect x="186.6" y="806.5" width="4.3" height="8.8" fill="#fcdede"/>
<rect x="190.6" y="806.5" width="4.3" height="8.8" fill="#ffdede"/>
<rect x="194.6" y="806.5" width="4.3" height="8.8" fill="#ffe4e4"/>
<rect x="198.7" y="806.5" width="4.3" height="8.8" fill="#ffdede"/>
<rect x="202.7" y="806.5" width="28.5" height="8.8" fill="#fcdede"/>
<rect x="230.9" y="806.5" width="36.5" height="8.8" fill="#fcd8d8"/>
<rect x="267.1" y="806.5" width="4.3" height="8.8" fill="#fcd2d2"/>
<rect x="271.1" y="806.5" width="16.4" height="8.8" fill="#f0242a"/>
<rect x="287.2" y="806.5" width="40.5" height="8.8" fill="#fcd8d8"/>
<rect x="327.4" y="806.5" width="28.5" height="8.8" fill="#fcdede"/>
<rect x="355.6" y="806.5" width="4.3" height="8.8" fill="#ffe4e4"/>
<rect x="359.6" y="806.5" width="4.3" height="8.8" fill="#f01e2a"/>
<rect x="363.6" y="806.5" width="4.3" height="8.8" fill="#ffe4e4"/>
<rect x="367.7" y="806.5" width="16.4" height="8.8" fill="#f0242a"/>
<rect x="383.7" y="806.5" width="4.3" height="8.8" fill="#ffe4e4"/>
<rect x="387.8" y="806.5" width="20.4" height="8.8" fill="#f0242a"/>
<rect x="407.9" y="806.5" width="8.3" height="8.8" fill="#fcdede"/>
<rect x="415.9" y="806.5" width="4.3" height="8.8" fill="#ffdede"/>
<rect x="420" y="806.5" width="12.4" height="8.8" fill="#fcdede"/>
<rect x="432" y="806.5" width="4.3" height="8.8" fill="#ffe4e4"/>
<rect x="436.1" y="806.5" width="4.3" height="8.8" fill="#f0242a"/>
<rect x="440.1" y="806.5" width="4.3" height="8.8" fill="#f02a30"/>
<rect x="444.1" y="806.5" width="24.4" height="8.8" fill="#fcdede"/>
<rect x="468.2" y="806.5" width="48.6" height="8.8" fill="#fcd8d8"/>
<rect x="516.5" y="806.5" width="4.3" height="8.8" fill="#fcd2d2"/>
<rect x="520.6" y="806.5" width="24.4" height="8.8" fill="#fcd8d8"/>
<rect x="544.7" y="806.5" width="8.3" height="8.8" fill="#fcdede"/>
<rect x="552.7" y="806.5" width="8.3" height="8.8" fill="#fcd8d8"/>
<rect x="560.8" y="806.5" width="8.3" height="8.8" fill="#fcdede"/>
<rect x="568.8" y="806.5" width="4.3" height="8.8" fill="#fcd8d8"/>
<rect x="572.9" y="806.5" width="8.3" height="8.8" fill="#fcdede"/>
<rect x="580.9" y="806.5" width="16.4" height="8.8" fill="#ffe4e4"/>
<rect x="142.3" y="815" width="4.3" height="8.8" fill="#f69c9c"/>
<rect x="146.4" y="815" width="4.3" height="8.8" fill="#f04848"/>
<rect x="150.4" y="815" width="4.3" height="8.8" fill="#d81e24"/>
<rect x="154.4" y="815" width="4.3" height="8.8" fill="#c01e1e"/>
<rect x="158.4" y="815" width="4.3" height="8.8" fill="#ba181e"/>
<rect x="162.4" y="815" width="4.3" height="8.8" fill="#cc1e24"/>
<rect x="166.5" y="815" width="4.3" height="8.8" fill="#de1e24"/>
<rect x="170.5" y="815" width="4.3" height="8.8" fill="#ea1e24"/>
<rect x="174.5" y="815" width="4.3" height="8.8" fill="#ffe4e4"/>
<rect x="178.5" y="815" width="4.3" height="8.8" fill="#ffdede"/>
<rect x="182.6" y="815" width="36.5" height="8.8" fill="#fcdede"/>
<rect x="218.8" y="815" width="24.4" height="8.8" fill="#fcd8d8"/>
<rect x="242.9" y="815" width="4.3" height="8.8" fill="#fcd2d2"/>
<rect x="246.9" y="815" width="12.4" height="8.8" fill="#fcd8d8"/>
<rect x="259" y="815" width="12.4" height="8.8" fill="#fcd2d2"/>
<rect x="271.1" y="815" width="16.4" height="8.8" fill="#f0242a"/>
<rect x="287.2" y="815" width="8.3" height="8.8" fill="#fcd2d2"/>
<rect x="295.2" y="815" width="12.4" height="8.8" fill="#fcd8d8"/>
<rect x="307.3" y="815" width="16.4" height="8.8" fill="#fcd2d2"/>
<rect x="323.4" y="815" width="16.4" height="8.8" fill="#fcd8d8"/>
<rect x="339.5" y="815" width="20.4" height="8.8" fill="#fcdede"/>
<rect x="359.6" y="815" width="4.3" height="8.8" fill="#f01e2a"/>
<rect x="363.6" y="815" width="4.3" height="8.8" fill="#ffe4e4"/>
<rect x="367.7" y="815" width="16.4" height="8.8" fill="#f0242a"/>
<rect x="383.7" y="815" width="4.3" height="8.8" fill="#ffe4e4"/>
<rect x="387.8" y="815" width="8.3" height="8.8" fill="#f0242a"/>
<rect x="395.8" y="815" width="4.3" height="8.8" fill="#ffe4e4"/>
<rect x="399.8" y="815" width="4.3" height="8.8" fill="#f0242a"/>
<rect x="403.9" y="815" width="4.3" height="8.8" fill="#ffdede"/>
<rect x="407.9" y="815" width="40.5" height="8.8" fill="#fcdede"/>
<rect x="448.1" y="815" width="4.3" height="8.8" fill="#fcd8d8"/>
<rect x="452.1" y="815" width="12.4" height="8.8" fill="#fcdede"/>
<rect x="464.2" y="815" width="20.4" height="8.8" fill="#fcd8d8"/>
<rect x="484.3" y="815" width="8.3" height="8.8" fill="#fcd2d2"/>
<rect x="492.4" y="815" width="8.3" height="8.8" fill="#fcd8d8"/>
<rect x="500.4" y="815" width="32.5" height="8.8" fill="#fcd2d2"/>
<rect x="532.6" y="815" width="4.3" height="8.8" fill="#fcd8d8"/>
<rect x="536.6" y="815" width="4.3" height="8.8" fill="#fcd2d2"/>
<rect x="540.7" y="815" width="4.3" height="8.8" fill="#fcd8d8"/>
<rect x="544.7" y="815" width="4.3" height="8.8" fill="#fcdede"/>
<rect x="548.7" y="815" width="28.5" height="8.8" fill="#fcd8d8"/>
<rect x="576.9" y="815" width="4.3" height="8.8" fill="#fcdede"/>
<rect x="580.9" y="815" width="4.3" height="8.8" fill="#ffdede"/>
<rect x="584.9" y="815" width="4.3" height="8.8" fill="#ffe4e4"/>
<rect x="589" y="815" width="4.3" height="8.8" fill="#ffdede"/>
<rect x="593" y="815" width="4.3" height="8.8" fill="#fcdede"/>
<rect x="142.3" y="823.5" width="4.3" height="8.8" fill="#f6aeae"/>
<rect x="146.4" y="823.5" width="4.3" height="8.8" fill="#f04e4e"/>
<rect x="150.4" y="823.5" width="4.3" height="8.8" fill="#e41e24"/>
<rect x="154.4" y="823.5" width="4.3" height="8.8" fill="#cc1e24"/>
<rect x="158.4" y="823.5" width="4.3" height="8.8" fill="#c61e24"/>
<rect x="162.4" y="823.5" width="4.3" height="8.8" fill="#d21e24"/>
<rect x="166.5" y="823.5" width="4.3" height="8.8" fill="#e41e24"/>
<rect x="170.5" y="823.5" width="4.3" height="8.8" fill="#ea1e24"/>
<rect x="174.5" y="823.5" width="4.3" height="8.8" fill="#ffe4e4"/>
<rect x="178.5" y="823.5" width="24.4" height="8.8" fill="#fcdede"/>
<rect x="202.7" y="823.5" width="28.5" height="8.8" fill="#fcd8d8"/>
<rect x="230.9" y="823.5" width="40.5" height="8.8" fill="#fcd2d2"/>
<rect x="271.1" y="823.5" width="8.3" height="8.8" fill="#f0242a"/>
<rect x="279.1" y="823.5" width="4.3" height="8.8" fill="#fcd2d2"/>
<rect x="283.2" y="823.5" width="4.3" height="8.8" fill="#f0242a"/>
<rect x="287.2" y="823.5" width="8.3" height="8.8" fill="#fcd2d2"/>
<rect x="295.2" y="823.5" width="8.3" height="8.8" fill="#fcd8d8"/>
<rect x="303.3" y="823.5" width="20.4" height="8.8" fill="#fcd2d2"/>
<rect x="323.4" y="823.5" width="32.5" height="8.8" fill="#fcd8d8"/>
<rect x="355.6" y="823.5" width="4.3" height="8.8" fill="#fcdede"/>
<rect x="359.6" y="823.5" width="4.3" height="8.8" fill="#ffe4e4"/>
<rect x="363.6" y="823.5" width="4.3" height="8.8" fill="#ffdede"/>
<rect x="367.7" y="823.5" width="8.3" height="8.8" fill="#fcdede"/>
<rect x="375.7" y="823.5" width="8.3" height="8.8" fill="#f0242a"/>
<rect x="383.7" y="823.5" width="4.3" height="8.8" fill="#ffe4e4"/>
<rect x="387.8" y="823.5" width="8.3" height="8.8" fill="#f0242a"/>
<rect x="395.8" y="823.5" width="4.3" height="8.8" fill="#fcdede"/>
<rect x="399.8" y="823.5" width="4.3" height="8.8" fill="#ffe4e4"/>
<rect x="403.9" y="823.5" width="20.4" height="8.8" fill="#fcdede"/>
<rect x="424" y="823.5" width="4.3" height="8.8" fill="#fcd8d8"/>
<rect x="428" y="823.5" width="20.4" height="8.8" fill="#fcdede"/>
<rect x="448.1" y="823.5" width="32.5" height="8.8" fill="#fcd8d8"/>
<rect x="480.3" y="823.5" width="16.4" height="8.8" fill="#fcd2d2"/>
<rect x="496.4" y="823.5" width="4.3" height="8.8" fill="#fcd8d8"/>
<rect x="500.4" y="823.5" width="40.5" height="8.8" fill="#fcd2d2"/>
<rect x="540.7" y="823.5" width="12.4" height="8.8" fill="#fcd8d8"/>
<rect x="552.7" y="823.5" width="8.3" height="8.8" fill="#fcd2d2"/>
<rect x="560.8" y="823.5" width="8.3" height="8.8" fill="#fcd8d8"/>
<rect x="568.8" y="823.5" width="4.3" height="8.8" fill="#fcd2d2"/>
<rect x="572.9" y="823.5" width="8.3" height="8.8" fill="#fcd8d8"/>
<rect x="580.9" y="823.5" width="16.4" height="8.8" fill="#fcdede"/>
<rect x="142.3" y="832" width="4.3" height="8.8" fill="#f6baba"/>
<rect x="146.4" y="832" width="4.3" height="8.8" fill="#f05454"/>
<rect x="150.4" y="832" width="4.3" height="8.8" fill="#ea1e24"/>
<rect x="154.4" y="832" width="4.3" height="8.8" fill="#de1e24"/>
<rect x="158.4" y="832" width="4.3" height="8.8" fill="#d21e24"/>
<rect x="162.4" y="832" width="4.3" height="8.8" fill="#d81e24"/>
<rect x="166.5" y="832" width="4.3" height="8.8" fill="#e41e24"/>
<rect x="170.5" y="832" width="4.3" height="8.8" fill="#ea1e24"/>
<rect x="174.5" y="832" width="4.3" height="8.8" fill="#ffdede"/>
<rect x="178.5" y="832" width="8.3" height="8.8" fill="#fcdede"/>
<rect x="186.6" y="832" width="4.3" height="8.8" fill="#fcd8d8"/>
<rect x="190.6" y="832" width="12.4" height="8.8" fill="#fcdede"/>
<rect x="202.7" y="832" width="28.5" height="8.8" fill="#fcd8d8"/>
<rect x="230.9" y="832" width="68.7" height="8.8" fill="#fcd2d2"/>
<rect x="299.3" y="832" width="4.3" height="8.8" fill="#fcd8d8"/>
<rect x="303.3" y="832" width="24.4" height="8.8" fill="#fcd2d2"/>
<rect x="327.4" y="832" width="28.5" height="8.8" fill="#fcd8d8"/>
<rect x="355.6" y="832" width="4.3" height="8.8" fill="#fcdede"/>
<rect x="359.6" y="832" width="4.3" height="8.8" fill="#ffdede"/>
<rect x="363.6" y="832" width="8.3" height="8.8" fill="#fcdede"/>
<rect x="371.7" y="832" width="8.3" height="8.8" fill="#fcd8d8"/>
<rect x="379.7" y="832" width="4.3" height="8.8" fill="#fcdede"/>
<rect x="383.7" y="832" width="8.3" height="8.8" fill="#ffe4e4"/>
<rect x="391.8" y="832" width="8.3" height="8.8" fill="#fcdede"/>
<rect x="399.8" y="832" width="4.3" height="8.8" fill="#ffdede"/>
<rect x="403.9" y="832" width="4.3" height="8.8" fill="#fcdede"/>
<rect x="407.9" y="832" width="8.3" height="8.8" fill="#fcd8d8"/>
<rect x="415.9" y="832" width="4.3" height="8.8" fill="#fcdede"/>
<rect x="420" y="832" width="12.4" height="8.8" fill="#fcd8d8"/>
<rect x="432" y="832" width="12.4" height="8.8" fill="#fcdede"/>
<rect x="444.1" y="832" width="24.4" height="8.8" fill="#fcd8d8"/>
<rect x="468.2" y="832" width="4.3" height="8.8" fill="#fcd2d2"/>
<rect x="472.3" y="832" width="4.3" height="8.8" fill="#fcd8d8"/>
<rect x="476.3" y="832" width="68.7" height="8.8" fill="#fcd2d2"/>
<rect x="544.7" y="832" width="8.3" height="8.8" fill="#fcd8d8"/>
<rect x="552.7" y="832" width="8.3" height="8.8" fill="#fcd2d2"/>
<rect x="560.8" y="832" width="8.3" height="8.8" fill="#fcd8d8"/>
<rect x="568.8" y="832" width="4.3" height="8.8" fill="#fcd2d2"/>
<rect x="572.9" y="832" width="8.3" height="8.8" fill="#fcd8d8"/>
<rect x="580.9" y="832" width="16.4" height="8.8" fill="#fcdede"/>
<rect x="142.3" y="840.5" width="4.3" height="8.8" fill="#fcc6c6"/>
<rect x="146.4" y="840.5" width="4.3" height="8.8" fill="#f05a5a"/>
<rect x="150.4" y="840.5" width="4.3" height="8.8" fill="#f0242a"/>
<rect x="154.4" y="840.5" width="4.3" height="8.8" fill="#ea1e24"/>
<rect x="158.4" y="840.5" width="8.3" height="8.8" fill="#de1e24"/>
<rect x="166.5" y="840.5" width="4.3" height="8.8" fill="#ea1e24"/>
<rect x="170.5" y="840.5" width="4.3" height="8.8" fill="#ffe4e4"/>
<rect x="174.5" y="840.5" width="4.3" height="8.8" fill="#ffdede"/>
<rect x="178.5" y="840.5" width="4.3" height="8.8" fill="#fcdede"/>
<rect x="182.6" y="840.5" width="8.3" height="8.8" fill="#fcd8d8"/>
<rect x="190.6" y="840.5" width="12.4" height="8.8" fill="#fcdede"/>
<rect x="202.7" y="840.5" width="24.4" height="8.8" fill="#fcd8d8"/>
<rect x="226.8" y="840.5" width="100.9" height="8.8" fill="#fcd2d2"/>
<rect x="327.4" y="840.5" width="28.5" height="8.8" fill="#fcd8d8"/>
<rect x="355.6" y="840.5" width="16.4" height="8.8" fill="#fcdede"/>
<rect x="371.7" y="840.5" width="8.3" height="8.8" fill="#fcd8d8"/>
<rect x="379.7" y="840.5" width="4.3" height="8.8" fill="#fcdede"/>
<rect x="383.7" y="840.5" width="8.3" height="8.8" fill="#ffe4e4"/>
<rect x="391.8" y="840.5" width="16.4" height="8.8" fill="#fcdede"/>
<rect x="407.9" y="840.5" width="24.4" height="8.8" fill="#fcd8d8"/>
<rect x="432" y="840.5" width="12.4" height="8.8" fill="#fcdede"/>
<rect x="444.1" y="840.5" width="24.4" height="8.8" fill="#fcd8d8"/>
<rect x="468.2" y="840.5" width="76.7" height="8.8" fill="#fcd2d2"/>
<rect x="544.7" y="840.5" width="8.3" height="8.8" fill="#fcd8d8"/>
<rect x="552.7" y="840.5" width="8.3" height="8.8" fill="#fcd2d2"/>
<rect x="560.8" y="840.5" width="8.3" height="8.8" fill="#fcd8d8"/>
<rect x="568.8" y="840.5" width="8.3" height="8.8" fill="#fcd2d2"/>
<rect x="576.9" y="840.5" width="4.3" height="8.8" fill="#fcd8d8"/>
<rect x="580.9" y="840.5" width="16.4" height="8.8" fill="#fcdede"/>
<rect x="142.3" y="849" width="4.3" height="8.8" fill="#fcd8d8"/>
<rect x="146.4" y="849" width="4.3" height="8.8" fill="#f06666"/>
<rect x="150.4" y="849" width="4.3" height="8.8" fill="#f02a30"/>
<rect x="154.4" y="849" width="4.3" height="8.8" fill="#f01e2a"/>
<rect x="158.4" y="849" width="4.3" height="8.8" fill="#ea1e24"/>
<rect x="162.4" y="849" width="4.3" height="8.8" fill="#e41e24"/>
<rect x="166.5" y="849" width="4.3" height="8.8" fill="#ea1e24"/>
<rect x="170.5" y="849" width="4.3" height="8.8" fill="#ffe4e4"/>
<rect x="174.5" y="849" width="4.3" height="8.8" fill="#ffdede"/>
<rect x="178.5" y="849" width="4.3" height="8.8" fill="#fcdede"/>
<rect x="182.6" y="849" width="8.3" height="8.8" fill="#fcd8d8"/>
<rect x="190.6" y="849" width="12.4" height="8.8" fill="#fcdede"/>
<rect x="202.7" y="849" width="28.5" height="8.8" fill="#fcd8d8"/>
<rect x="230.9" y="849" width="96.9" height="8.8" fill="#fcd2d2"/>
<rect x="327.4" y="849" width="28.5" height="8.8" fill="#fcd8d8"/>
<rect x="355.6" y="849" width="4.3" height="8.8" fill="#fcdede"/>
<rect x="359.6" y="849" width="4.3" height="8.8" fill="#ffdede"/>
<rect x="363.6" y="849" width="8.3" height="8.8" fill="#fcdede"/>
<rect x="371.7" y="849" width="8.3" height="8.8" fill="#fcd8d8"/>
<rect x="379.7" y="849" width="4.3" height="8.8" fill="#fcdede"/>
<rect x="383.7" y="849" width="8.3" height="8.8" fill="#ffe4e4"/>
<rect x="391.8" y="849" width="16.4" height="8.8" fill="#fcdede"/>
<rect x="407.9" y="849" width="8.3" height="8.8" fill="#fcd8d8"/>
<rect x="415.9" y="849" width="4.3" height="8.8" fill="#fcdede"/>
<rect x="420" y="849" width="12.4" height="8.8" fill="#fcd8d8"/>
<rect x="432" y="849" width="12.4" height="8.8" fill="#fcdede"/>
<rect x="444.1" y="849" width="24.4" height="8.8" fill="#fcd8d8"/>
<rect x="468.2" y="849" width="76.7" height="8.8" fill="#fcd2d2"/>
<rect x="544.7" y="849" width="8.3" height="8.8" fill="#fcd8d8"/>
<rect x="552.7" y="849" width="8.3" height="8.8" fill="#fcd2d2"/>
<rect x="560.8" y="849" width="8.3" height="8.8" fill="#fcd8d8"/>
<rect x="568.8" y="849" width="4.3" height="8.8" fill="#fcd2d2"/>
<rect x="572.9" y="849" width="8.3" height="8.8" fill="#fcd8d8"/>
<rect x="580.9" y="849" width="16.4" height="8.8" fill="#fcdede"/>
<rect x="142.3" y="857.5" width="4.3" height="8.8" fill="#ffe4e4"/>
<rect x="146.4" y="857.5" width="4.3" height="8.8" fill="#f07272"/>
<rect x="150.4" y="857.5" width="4.3" height="8.8" fill="#f03036"/>
<rect x="154.4" y="857.5" width="4.3" height="8.8" fill="#f0242a"/>
<rect x="158.4" y="857.5" width="4.3" height="8.8" fill="#f01e24"/>
<rect x="162.4" y="857.5" width="8.3" height="8.8" fill="#ea1e24"/>
<rect x="170.5" y="857.5" width="8.3" height="8.8" fill="#ffe4e4"/>
<rect x="178.5" y="857.5" width="24.4" height="8.8" fill="#fcdede"/>
<rect x="202.7" y="857.5" width="28.5" height="8.8" fill="#fcd8d8"/>
<rect x="230.9" y="857.5" width="64.7" height="8.8" fill="#fcd2d2"/>
<rect x="295.2" y="857.5" width="8.3" height="8.8" fill="#fcd8d8"/>
<rect x="303.3" y="857.5" width="20.4" height="8.8" fill="#fcd2d2"/>
<rect x="323.4" y="857.5" width="32.5" height="8.8" fill="#fcd8d8"/>
<rect x="355.6" y="857.5" width="4.3" height="8.8" fill="#fcdede"/>
<rect x="359.6" y="857.5" width="4.3" height="8.8" fill="#ffdede"/>
<rect x="363.6" y="857.5" width="12.4" height="8.8" fill="#fcdede"/>
<rect x="375.7" y="857.5" width="4.3" height="8.8" fill="#fcd8d8"/>
<rect x="379.7" y="857.5" width="4.3" height="8.8" fill="#fcdede"/>
<rect x="383.7" y="857.5" width="8.3" height="8.8" fill="#ffe4e4"/>
<rect x="391.8" y="857.5" width="8.3" height="8.8" fill="#fcdede"/>
<rect x="399.8" y="857.5" width="4.3" height="8.8" fill="#ffdede"/>
<rect x="403.9" y="857.5" width="16.4" height="8.8" fill="#fcdede"/>
<rect x="420" y="857.5" width="12.4" height="8.8" fill="#fcd8d8"/>
<rect x="432" y="857.5" width="16.4" height="8.8" fill="#fcdede"/>
<rect x="448.1" y="857.5" width="32.5" height="8.8" fill="#fcd8d8"/>
<rect x="480.3" y="857.5" width="60.7" height="8.8" fill="#fcd2d2"/>
<rect x="540.7" y="857.5" width="12.4" height="8.8" fill="#fcd8d8"/>
<rect x="552.7" y="857.5" width="8.3" height="8.8" fill="#fcd2d2"/>
<rect x="560.8" y="857.5" width="8.3" height="8.8" fill="#fcd8d8"/>
<rect x="568.8" y="857.5" width="4.3" height="8.8" fill="#fcd2d2"/>
<rect x="572.9" y="857.5" width="8.3" height="8.8" fill="#fcd8d8"/>
<rect x="580.9" y="857.5" width="16.4" height="8.8" fill="#fcdede"/>
<rect x="142.3" y="866" width="4.3" height="8.8" fill="#fff6f6"/>
<rect x="146.4" y="866" width="4.3" height="8.8" fill="#f07e7e"/>
<rect x="150.4" y="866" width="4.3" height="8.8" fill="#f03636"/>
<rect x="154.4" y="866" width="4.3" height="8.8" fill="#f02a30"/>
<rect x="158.4" y="866" width="4.3" height="8.8" fill="#f01e2a"/>
<rect x="162.4" y="866" width="4.3" height="8.8" fill="#ea1e24"/>
<rect x="166.5" y="866" width="12.4" height="8.8" fill="#ffe4e4"/>
<rect x="178.5" y="866" width="4.3" height="8.8" fill="#ffdede"/>
<rect x="182.6" y="866" width="36.5" height="8.8" fill="#fcdede"/>
<rect x="218.8" y="866" width="16.4" height="8.8" fill="#fcd8d8"/>
<rect x="234.9" y="866" width="12.4" height="8.8" fill="#fcd2d2"/>
<rect x="246.9" y="866" width="8.3" height="8.8" fill="#fcd8d8"/>
<rect x="255" y="866" width="40.5" height="8.8" fill="#fcd2d2"/>
<rect x="295.2" y="866" width="12.4" height="8.8" fill="#fcd8d8"/>
<rect x="307.3" y="866" width="16.4" height="8.8" fill="#fcd2d2"/>
<rect x="323.4" y="866" width="16.4" height="8.8" fill="#fcd8d8"/>
<rect x="339.5" y="866" width="8.3" height="8.8" fill="#fcdede"/>
<rect x="347.5" y="866" width="8.3" height="8.8" fill="#fcd8d8"/>
<rect x="355.6" y="866" width="4.3" height="8.8" fill="#fcdede"/>
<rect x="359.6" y="866" width="8.3" height="8.8" fill="#ffe4e4"/>
<rect x="367.7" y="866" width="4.3" height="8.8" fill="#ffdede"/>
<rect x="371.7" y="866" width="8.3" height="8.8" fill="#fcdede"/>
<rect x="379.7" y="866" width="4.3" height="8.8" fill="#ffdede"/>
<rect x="383.7" y="866" width="8.3" height="8.8" fill="#ffe4e4"/>
<rect x="391.8" y="866" width="8.3" height="8.8" fill="#ffdede"/>
<rect x="399.8" y="866" width="4.3" height="8.8" fill="#ffe4e4"/>
<rect x="403.9" y="866" width="44.6" height="8.8" fill="#fcdede"/>
<rect x="448.1" y="866" width="8.3" height="8.8" fill="#fcd8d8"/>
<rect x="456.2" y="866" width="4.3" height="8.8" fill="#fcdede"/>
<rect x="460.2" y="866" width="24.4" height="8.8" fill="#fcd8d8"/>
<rect x="484.3" y="866" width="8.3" height="8.8" fill="#fcd2d2"/>
<rect x="492.4" y="866" width="8.3" height="8.8" fill="#fcd8d8"/>
<rect x="500.4" y="866" width="40.5" height="8.8" fill="#fcd2d2"/>
<rect x="540.7" y="866" width="12.4" height="8.8" fill="#fcd8d8"/>
<rect x="552.7" y="866" width="8.3" height="8.8" fill="#fcd2d2"/>
<rect x="560.8" y="866" width="16.4" height="8.8" fill="#fcd8d8"/>
<rect x="576.9" y="866" width="8.3" height="8.8" fill="#fcdede"/>
<rect x="584.9" y="866" width="4.3" height="8.8" fill="#ffdede"/>
<rect x="589" y="866" width="8.3" height="8.8" fill="#fcdede"/>
<rect x="142.3" y="874.5" width="8.3" height="8.8" fill="#ffe4e4"/>
<rect x="150.4" y="874.5" width="8.3" height="8.8" fill="#fcdede"/>
<rect x="158.4" y="874.5" width="4.3" height="8.8" fill="#f0242a"/>
<rect x="162.4" y="874.5" width="4.3" height="8.8" fill="#ea1e24"/>
<rect x="166.5" y="874.5" width="16.4" height="8.8" fill="#ffe4e4"/>
<rect x="182.6" y="874.5" width="12.4" height="8.8" fill="#fcdede"/>
<rect x="194.6" y="874.5" width="4.3" height="8.8" fill="#ffdede"/>
<rect x="198.7" y="874.5" width="28.5" height="8.8" fill="#fcdede"/>
<rect x="226.8" y="874.5" width="36.5" height="8.8" fill="#fcd8d8"/>
<rect x="263" y="874.5" width="16.4" height="8.8" fill="#fcd2d2"/>
<rect x="279.1" y="874.5" width="8.3" height="8.8" fill="#fcd8d8"/>
<rect x="287.2" y="874.5" width="4.3" height="8.8" fill="#fcd2d2"/>
<rect x="291.2" y="874.5" width="24.4" height="8.8" fill="#fcd8d8"/>
<rect x="315.3" y="874.5" width="4.3" height="8.8" fill="#fcd2d2"/>
<rect x="319.4" y="874.5" width="16.4" height="8.8" fill="#fcd8d8"/>
<rect x="335.5" y="874.5" width="20.4" height="8.8" fill="#fcdede"/>
<rect x="355.6" y="874.5" width="4.3" height="8.8" fill="#ffdede"/>
<rect x="359.6" y="874.5" width="12.4" height="8.8" fill="#ffe4e4"/>
<rect x="371.7" y="874.5" width="8.3" height="8.8" fill="#fcdede"/>
<rect x="379.7" y="874.5" width="28.5" height="8.8" fill="#ffe4e4"/>
<rect x="407.9" y="874.5" width="24.4" height="8.8" fill="#fcdede"/>
<rect x="432" y="874.5" width="12.4" height="8.8" fill="#ffdede"/>
<rect x="444.1" y="874.5" width="24.4" height="8.8" fill="#fcdede"/>
<rect x="468.2" y="874.5" width="36.5" height="8.8" fill="#fcd8d8"/>
<rect x="504.5" y="874.5" width="16.4" height="8.8" fill="#fcd2d2"/>
<rect x="520.6" y="874.5" width="24.4" height="8.8" fill="#fcd8d8"/>
<rect x="544.7" y="874.5" width="8.3" height="8.8" fill="#fcdede"/>
<rect x="552.7" y="874.5" width="24.4" height="8.8" fill="#fcd8d8"/>
<rect x="576.9" y="874.5" width="4.3" height="8.8" fill="#fcdede"/>
<rect x="580.9" y="874.5" width="12.4" height="8.8" fill="#ffe4e4"/>
<rect x="593" y="874.5" width="4.3" height="8.8" fill="#ffdede"/>
</g>
<line x1="82.2" y1="547" x2="82.2" y2="877" stroke="#231f20" stroke-width="2"/>
<line x1="69.2" y1="581.7" x2="82.2" y2="581.7" stroke="#231f20" stroke-width="2"/>
<text x="66" y="591.7" font-size="28" text-anchor="end">64</text>
<line x1="69.2" y1="649.5" x2="82.2" y2="649.5" stroke="#231f20" stroke-width="2"/>
<text x="66" y="659.5" font-size="28" text-anchor="end">32</text>
<line x1="69.2" y1="717.3" x2="82.2" y2="717.3" stroke="#231f20" stroke-width="2"/>
<text x="66" y="727.3" font-size="28" text-anchor="end">16</text>
<line x1="69.2" y1="785.1" x2="82.2" y2="785.1" stroke="#231f20" stroke-width="2"/>
<text x="66" y="795.1" font-size="28" text-anchor="end">8</text>
<line x1="69.2" y1="852.9" x2="82.2" y2="852.9" stroke="#231f20" stroke-width="2"/>
<text x="66" y="862.9" font-size="28" text-anchor="end">4</text>
<line x1="69.2" y1="547.9" x2="82.2" y2="547.9" stroke="#231f20" stroke-width="2"/>
<line x1="69.2" y1="615.7" x2="82.2" y2="615.7" stroke="#231f20" stroke-width="2"/>
<line x1="69.2" y1="683.5" x2="82.2" y2="683.5" stroke="#231f20" stroke-width="2"/>
<line x1="69.2" y1="751.3" x2="82.2" y2="751.3" stroke="#231f20" stroke-width="2"/>
<line x1="69.2" y1="819.1" x2="82.2" y2="819.1" stroke="#231f20" stroke-width="2"/>
<line x1="86.6" y1="895.5" x2="597.4" y2="895.5" stroke="#231f20" stroke-width="2"/>
<line x1="87.6" y1="895.5" x2="87.6" y2="907" stroke="#231f20" stroke-width="2"/>
<line x1="144.2" y1="895.5" x2="144.2" y2="907" stroke="#231f20" stroke-width="2"/>
<line x1="200.8" y1="895.5" x2="200.8" y2="907" stroke="#231f20" stroke-width="2"/>
<line x1="257.4" y1="895.5" x2="257.4" y2="907" stroke="#231f20" stroke-width="2"/>
<line x1="314" y1="895.5" x2="314" y2="907" stroke="#231f20" stroke-width="2"/>
<line x1="370.6" y1="895.5" x2="370.6" y2="907" stroke="#231f20" stroke-width="2"/>
<line x1="427.2" y1="895.5" x2="427.2" y2="907" stroke="#231f20" stroke-width="2"/>
<line x1="483.8" y1="895.5" x2="483.8" y2="907" stroke="#231f20" stroke-width="2"/>
<line x1="540.4" y1="895.5" x2="540.4" y2="907" stroke="#231f20" stroke-width="2"/>
<text x="146.2" y="936" font-size="28" text-anchor="middle">-1</text>
<text x="255.4" y="936" font-size="28" text-anchor="middle">0</text>
<text x="368.6" y="936" font-size="28" text-anchor="middle">1</text>
<text x="481.8" y="936" font-size="28" text-anchor="middle">2</text>
<text x="342.5" y="971" font-size="28" text-anchor="middle">Time from Framing (sec)</text>
<line x1="144.2" y1="546" x2="144.2" y2="884" stroke="#000" stroke-width="1.9" stroke-dasharray="3.2 2"/>
<line x1="257.4" y1="546" x2="257.4" y2="884" stroke="#000" stroke-width="1.9" stroke-dasharray="3.2 2"/>
<line x1="292.5" y1="546" x2="292.5" y2="884" stroke="#000" stroke-width="1.9" stroke-dasharray="3.2 2"/>
<line x1="577.8" y1="546" x2="577.8" y2="884" stroke="#000" stroke-width="1.9" stroke-dasharray="3.2 2"/>
</g>
<g id="pf">
<text x="617.5" y="490.5" font-size="39" font-weight="bold" fill="#231f20">f</text>
<path d="M683.5,550.7L683.9,553.8L684.5,558L685.1,563L685.4,568.2L685.1,573L684,577.4L682.5,581.9L680.6,586.3L678.5,590.7L676.4,595.2L674.5,599L672.4,602.9L670.2,606.7L668,610.5L666,614.1L664.3,617.3L662.2,621.4L660.4,624.9L659,628.3L657.7,632L656.6,636.3L655.7,641L654.9,645.7L654.2,650.3L653.2,655L652.2,659.7L651.3,664.3L651.1,668.6L651.7,673.5L653.1,678.1L655.5,683L657.5,686.5L660,690.1L662.8,693.8L665.7,697.6L668.5,701.1L671.4,704.6L674.5,708L677.6,711.4L680.6,714.5L683.3,717.2L687.1,720.7L690.4,723.4L693.4,726.2L696.3,729.4L698.9,732.7L700.7,736.9L701.1,740.9L701,745.5L700.5,750.2L700.1,754.6L699.5,759.7L698.6,764.5L697.6,768.8L695.7,774L692.8,779.3L690.3,782.5L687.3,786.1L684.2,789.7L681.6,793.3L679.1,797.7L677.1,802.1L675.4,807.3L674.3,811L673.3,815.1L672.3,819.4L671.6,823.8L671.1,828.1L671,832.4L671.2,837L671.6,841.4L672.2,845.5L672.8,848.9L674.8,853.4L677.2,857.5L678.5,861.6L680.1,866.7L681.4,871.5L682.4,874.8" fill="none" stroke="#e3e3e3" stroke-width="1.4" stroke-linejoin="round" stroke-linecap="butt" opacity="0.75"/>
<path d="M685.9,550.8L685.2,553.4L684.3,557.1L683.2,561.4L681.9,566L680.5,570.7L679,575L677.4,579L675.6,583L673.7,587L671.8,591L669.7,595L667.7,599L665.4,603.1L663,607.3L660.4,611.5L658,615.5L655.8,619.3L654,622.8L652,627.3L650.5,631L649.6,634.5L649.3,638.5L649.7,643.1L650.9,648L652.3,653L653.5,657.9L654.2,662.8L654.8,667.7L655.5,672.5L656.4,677L657.5,680.9L658.8,684.5L660.4,688.1L662.3,691.9L664.2,695.4L666.3,699.2L668.6,703L671.1,706.8L673.8,710.4L676.7,713.9L679.9,717.4L683.2,720.7L686.5,723.9L689.7,726.6L693.4,729.3L697,731.4L700.5,733.4L704,735.6L707.6,737.9L711.2,740.3L714.6,742.9L717.6,746.1L720.3,750L722.6,754.5L724.7,759.1L726.5,763.3L728.6,768.3L730.2,772.8L731.2,777L731.6,782L730.4,787L728.1,791.1L725,795.6L722.9,800.2L722.5,804.3L722.9,808.4L723.8,813.2L724.7,817.6L726.1,822.5L727.3,827.5L727.8,832.4L727.2,837.4L726,842.6L724.6,847.4L723.5,851.4L723.1,855.5L722,859.2L719.8,863L716.7,867.6L713.6,872L711.6,875" fill="none" stroke="#e3e3e3" stroke-width="1.4" stroke-linejoin="round" stroke-linecap="butt" opacity="0.75"/>
<path d="M669.2,550.6L669.6,554L670.1,558.8L670.4,564.3L670.1,569.4L669.4,573.2L668.3,577L667,580.7L665.3,584.5L663.4,588.3L661.3,591.6L658.8,594.9L656.2,598.3L653.5,601.5L650.9,604.6L648.8,607.5L645.5,612.1L643,616L641.3,620.4L640.8,624.2L640.8,628.3L641.2,632.6L641.5,636.8L641.5,641L641.6,645.3L641.7,649.5L642.1,653.5L643.1,658.1L644.4,662.4L646.1,667.1L647.6,671.2L649.4,675.7L651.4,680.2L653.6,684.5L656.1,688.7L658.9,693L661.8,697L664.6,700.4L668.2,703.9L671.9,706.6L675.5,709.5L679,712.7L682.5,716.1L685.3,720.4L686.7,724.6L687.7,729.4L688.4,734.3L688.8,738.9L689.1,744.4L688.9,749.4L688.2,754.1L687.1,758L685.5,761.5L683.2,765.5L680.5,769.1L677.1,773L673.8,777L671.3,780.9L669.5,785.9L668.8,790.8L668.7,796.7L669.1,800.2L669.7,804L670.5,808L671.4,812.1L672.2,816.3L672.8,820.3L673.3,824.5L673.6,828.8L673.8,833.2L674,837.4L674.2,841.2L674.4,844.4L675.5,849.6L676,854.4L675.8,858.1L675.2,862.7L674.6,867.5L674,871.7L673.6,874.6" fill="none" stroke="#e3e3e3" stroke-width="1.4" stroke-linejoin="round" stroke-linecap="butt" opacity="0.75"/>
<path d="M673.5,550.7L673.9,553.4L674.5,557.3L675.1,561.8L675.4,566.5L675.3,570.9L674.6,574.9L673.5,579L672.2,583L670.7,587.1L669.4,591.2L668,595.3L666.6,599.6L665.1,603.9L663.7,607.9L662.4,611.6L660.6,616.5L659,620.6L657.5,625.2L656.4,629.2L655.2,633.6L654.1,638L653,642.4L651.6,646.8L650,651.3L648.7,655.6L648.2,659.7L648.8,664.5L650.4,668.9L653.2,673.7L655.7,677L658.7,680.6L662.1,684.2L665.6,687.9L668.9,691.4L672.3,694.8L675.9,698.2L679.4,701.6L682.7,704.7L685.7,707.4L689.8,710.9L693.1,713.5L696.2,716.4L699.2,719.6L701.8,723L703.7,727.2L704.4,731.3L704.4,736.1L704.3,740.9L704.2,745.4L704.3,750.7L704.2,755.6L703.9,760.2L702.9,765.7L700.6,771.2L698.3,774.6L695.4,778.4L692.2,782.2L689.4,786L687.1,789.6L684.9,793.1L682.7,796.8L680.4,801.1L678.6,804.4L676.6,808L674.5,811.8L672.6,815.8L670.8,819.7L669.5,823.5L668.4,828.3L667.7,833.2L667.3,838.1L667.2,842.5L667.3,846.2L668.8,851.2L671.1,855.6L672.1,860.2L673.3,865.8L674.2,871.1L674.9,874.7" fill="none" stroke="#e3e3e3" stroke-width="1.4" stroke-linejoin="round" stroke-linecap="butt" opacity="0.75"/>
<path d="M662.9,550.8L662.5,553.9L662,558.3L661.3,563.5L660.4,568.8L659,573.8L657.7,577.6L656.1,581.4L654.3,585.3L652.2,589.1L650,592.9L647.5,596.7L645.1,600.1L642.3,603.5L639.4,606.9L636.3,610.3L633.3,613.6L630.5,616.7L627.9,619.6L624.7,623L621.7,626L619,628.7L616.5,631.5L614.3,634.7L612.3,638.2L610.5,641.9L609,645.8L607.7,649.6L606.5,653.4L605.1,658.2L603.8,663L603,667.6L603.1,672L604.2,675.8L606,679.3L608.5,682.8L611.8,686.7L614.4,689.5L617.5,692.6L620.9,695.7L624.5,698.8L628.1,701.9L631.8,704.9L634.9,707.4L638.2,709.9L641.6,712.3L645,714.7L648.4,717L651.6,719.1L654.6,721.1L659.5,723.8L663.9,725.9L668.2,727.8L672.5,730L676.8,732.4L681.1,734.8L685.2,737.4L689,740.6L691.7,743.7L694.3,747.3L696.7,751.1L698.8,754.8L700.7,758.2L703.5,763.2L705.7,767.9L706.9,772.1L706.9,777.3L704.2,782.4L701.9,784.9L698.8,787.6L695.4,790.4L692.1,793.3L689.3,796.1L686,800.4L683.4,804.7L681.3,809.7L680.3,813.3L679.4,817.3L678.7,821.5L678.3,825.7L677.9,829.8L677.8,834L677.9,838.4L678.2,842.7L678.5,846.6L679,849.9L680.9,854.3L682.3,858.2L682,862.2L681.1,867.1L680.2,871.7L679.6,874.9" fill="none" stroke="#e3e3e3" stroke-width="1.4" stroke-linejoin="round" stroke-linecap="butt" opacity="0.75"/>
<path d="M697.4,550.7L697.2,553.6L696.9,557.7L696.4,562.5L695.9,567.4L695.1,572L694.3,576.3L693.4,580.6L692.3,584.8L690.9,589.1L689.2,593.4L687.5,597L685.3,600.7L683,604.5L680.7,608.1L678.5,611.6L676.5,614.7L674.1,618.7L671.9,622L670,625.3L668.4,628.9L667.3,633.1L666.5,637.6L665.8,642.2L665.2,646.7L664.5,651.3L663.8,655.9L663.3,660.3L662.9,664.5L663,669.4L663.3,673.9L664,678.8L664.6,683.1L665.3,687.6L666.3,692.2L667.5,696.7L669.1,701L670.9,705.3L672.9,709.3L675,712.8L677.8,716.2L680.7,718.9L683.7,721.8L686.8,724.9L690,728.3L693,732.5L695.3,736.5L697.4,741.2L699.5,746L701.3,750.4L703.3,755.6L704.9,760.5L706,764.9L706.5,770.2L705.7,775.6L704.1,780.1L702,785L700.5,790L700.2,794.5L700.5,799.1L701.5,804.5L702.4,808.3L703.8,812.6L705.2,817L706.6,821.6L707.6,826L708.3,830.5L708.8,835.3L709.1,839.9L709.4,844.2L709.6,847.7L710.2,852.4L710.2,856.6L709.4,861L708.2,866.3L707,871.3L706.2,874.8" fill="none" stroke="#e3e3e3" stroke-width="1.4" stroke-linejoin="round" stroke-linecap="butt" opacity="0.75"/>
<path d="M664.7,550.8L664.5,553.4L664.3,557.1L664,561.4L663.6,566L663,570.7L662.1,575L661,579L659.6,583L657.9,587L656.2,591L654.3,595L652.4,599L650.3,603.1L648,607.3L645.6,611.4L643.2,615.5L640.9,619.3L639,622.8L636.7,627.2L634.7,630.9L633.1,634.5L632.1,638.5L631.6,643.1L631.7,648L632.1,653L632.5,657.9L632.7,662.8L632.8,667.7L633.2,672.5L634.3,676.9L636,680.9L638.2,684.5L641,688L644.3,691.9L647,694.8L650,697.9L653.3,701.1L656.7,704.2L660.1,707.4L663.4,710.3L666.8,713.3L670.2,716.2L673.6,719.1L677,721.8L680.3,724.3L683.3,726.6L687.4,729.3L691.2,731.4L694.8,733.4L698.2,735.5L701.7,737.9L705,740.3L708,742.9L710.3,746L711.8,750L712.5,754.5L713,759.1L713.3,763.3L713.7,768.3L713.8,772.8L713.2,777L711.4,782L707.6,787L704.8,789.4L701.3,792L697.6,794.7L694,797.5L691,800.1L687.4,804.3L684.8,808.4L682.6,813.2L681.2,817.6L680.1,822.4L679.2,827.5L678.6,832.4L678.1,837.4L677.8,842.6L677.8,847.4L678,851.4L679.5,855.5L680.7,859.2L680.2,863L679.1,867.6L678,872L677.2,875" fill="none" stroke="#e3e3e3" stroke-width="1.4" stroke-linejoin="round" stroke-linecap="butt" opacity="0.75"/>
<path d="M673.8,550.7L673.1,553.6L672.3,557.6L671.2,562.4L669.8,567.3L668.2,571.9L666.7,575.4L665,579L663,582.5L661,586L658.9,589.6L656.7,593.1L654.4,596.7L651.8,600.4L649.1,604.2L646.6,607.8L644.3,611.2L642.4,614.3L639.8,619.4L638.3,623.8L637.9,628.5L638.6,632.7L640.1,637.1L641.8,641.7L643.3,646.2L644.3,650.7L645.2,655.3L646.1,659.8L647.2,664L648.9,668.9L650.7,673.3L653.1,678.2L654.8,681.6L656.7,685.2L658.7,688.9L660.9,692.5L663.3,696L665.9,699.5L668.7,702.9L671.6,706.3L674.5,709.4L677.3,712.1L681.7,715.6L686,718.3L690.2,721.1L694.4,724.3L698.5,727.7L701.8,731.9L703.7,735.9L705.1,740.6L706.1,745.4L707,749.8L708,755.1L708.5,759.9L708.5,764.3L707.7,769.7L705.7,775.1L703.7,778.4L701.1,782.1L698.7,785.8L697,789.5L696.4,794.1L696.9,798.7L697.9,804.1L698.9,807.9L700.2,812.2L701.7,816.7L703,821.3L703.8,825.7L703.9,830.3L703.5,835L702.9,839.7L702.3,844L701.9,847.5L702.1,852.2L701.4,856.5L699.8,860.9L697.4,866.2L695,871.3L693.4,874.8" fill="none" stroke="#e3e3e3" stroke-width="1.4" stroke-linejoin="round" stroke-linecap="butt" opacity="0.75"/>
<path d="M675.7,550.8L675,553.4L674.1,557.1L673,561.4L671.7,566L670.5,570.7L669.2,575L668,579L666.7,583L665.3,587.1L664,591.1L662.6,595.1L661.4,599.1L660.1,603.2L658.9,607.4L657.7,611.5L656.5,615.6L655.4,619.4L654.4,622.9L653.2,627.4L652.1,631.1L651.2,634.6L650.5,638.6L649.9,643.2L649.5,648.1L649.2,653.1L649,658L648.8,662.9L648.7,667.8L648.8,672.6L649.2,677.1L650.4,682.3L652,687L654,692.1L655.4,695.6L657,699.3L658.8,703.2L660.4,706.9L662,710.5L663.6,714.9L665.2,719.3L666.6,723.3L667.9,726.8L670.2,731.6L672.1,735.7L673.7,740.5L674.7,746.2L674.6,750.2L674.3,754.7L674,759.3L673.8,763.5L673.9,768.5L674.2,773L674.3,777.1L674.1,782.2L673.2,787.1L671.8,791.3L669.8,795.8L668.3,800.3L667.4,804.4L667,808.5L667,813.3L667.3,817.7L668,822.5L668.9,827.6L670,832.5L671.1,836.5L672.5,840.6L673.9,844.7L675.3,848.4L676.4,851.4L678.5,855.5L679.8,859.2L680.2,864.5L680.2,870.6L680.1,875" fill="none" stroke="#e3e3e3" stroke-width="1.4" stroke-linejoin="round" stroke-linecap="butt" opacity="0.75"/>
<path d="M657,550.8L657.8,553.4L659.1,557.1L660.6,561.4L661.9,566.1L662.7,570.8L662.7,575.1L661.8,579.1L660.3,583.2L658.3,587.2L655.9,591.3L653.2,595.3L650.4,599.3L648.1,602.4L645.4,605.5L642.4,608.7L639.4,611.8L636.4,614.9L633.6,617.8L631,620.6L628.8,623.2L625.5,627.7L623,631.4L621.2,635L619.9,639L619.4,643.6L619.7,648.5L620.2,653.5L620.6,658.4L620.6,663.3L620.4,668.3L620.5,673.1L620.9,677.6L621.8,681.5L622.9,685.1L624.6,688.7L627,692.6L629.1,695.5L631.6,698.6L634.4,701.7L637.5,704.9L640.8,708.1L644.2,711L647.4,713.5L650.9,716.1L654.7,718.5L658.4,721L662.2,723.3L665.8,725.4L669.1,727.3L673.3,729.5L677.2,731.3L680.8,732.9L684.4,734.5L687.9,736.2L692.4,738.6L696.9,741L701,743.6L704.3,746.7L706.7,750.7L708.3,755.2L709.3,759.8L709.8,764L709.5,768.9L708.1,773.5L706.3,777.6L704.3,781.1L701.7,784.1L698.3,787.5L695.4,790L692,792.6L688.3,795.3L684.9,798L682.1,800.7L679.1,804.8L677.2,808.9L675.5,813.7L674.2,818L673.1,822.8L671.9,827.8L670.6,832.7L668.9,837.7L667,842.9L665.3,847.7L664.2,851.6L664.4,855.7L665.6,859.3L666.1,864.5L666.6,870.6L667,875" fill="none" stroke="#e3e3e3" stroke-width="1.4" stroke-linejoin="round" stroke-linecap="butt" opacity="0.75"/>
<path d="M672.3,550.7L672.8,553.4L673.5,557.2L674.2,561.7L674.7,566.3L674.7,570.7L674.3,574.7L673.5,578.7L672.5,582.7L671.3,586.7L670.1,590.8L668.8,594.9L667.2,599.2L665.6,603.4L664.1,607.4L662.9,611L661.5,615.8L660.5,620L659.8,624.5L659.6,628.5L659.6,632.8L659.6,637.2L659.5,641.6L659.1,646L658.6,650.4L658.1,654.8L658,658.9L658.3,663.6L659.1,668L660.6,672.8L662.4,677L664.6,681.4L667.2,686L669.9,690.4L672.4,693.8L675,697.2L677.8,700.6L680.5,703.7L683,706.4L686.4,709.9L689.5,712.6L692.4,715.4L695.4,718.6L698.3,722L700.6,726.2L702,730.4L703,735.1L703.8,740L704.4,744.5L704.9,749.8L704.9,754.8L704.7,759.3L704,764.8L702.5,770.4L701,773.9L699.2,777.6L697.3,781.5L695.7,785.3L694.2,790.1L693.1,794.8L691.7,800.4L690.7,804.5L689.5,808.9L688.3,813.6L687.1,818.4L685.9,823.1L684.6,827.9L683.2,832.9L681.9,837.8L680.8,842.2L680,846L679.7,850.9L680.1,855.5L680,860L679.9,865.7L679.7,871L679.6,874.7" fill="none" stroke="#e3e3e3" stroke-width="1.4" stroke-linejoin="round" stroke-linecap="butt" opacity="0.75"/>
<path d="M645.8,550.6L646.6,554.1L647.7,559.2L648.9,564.8L650,570.1L651.2,575L652.5,579.9L653.5,584.8L653.6,589.7L652.8,593.8L651.3,597.9L649.5,602.1L647.7,606L646.2,609.5L643.9,614.3L641.8,618.3L640.5,622.8L640.5,626.7L641.1,631L642,635.3L642.7,639.6L643.4,643.9L644.1,648.3L644.9,652.6L645.7,656.6L646.8,661.3L648.1,665.7L649.3,670.4L650.2,674.6L651,679L652,683.6L653.2,687.9L654.9,692.2L656.9,696.4L659,700.4L661.4,703.9L664.8,707.4L668.5,710.1L672.3,713L675.3,715.4L678.5,717.8L681.6,720.5L684.6,723.8L687,727L689.4,730.8L691.8,734.7L693.9,738.6L695.6,742.2L697.8,747.5L699.2,752.5L699.7,757.1L699,762.7L696.2,768.4L693.7,771.9L690.3,775.7L686.9,779.6L684.2,783.5L682.1,788.3L680.7,793.2L679.9,798.9L679.9,803L680.2,807.5L680.5,812.3L680.7,817.2L680.5,821.9L679.7,826L678.6,830.2L677.3,834.4L676,838.5L674.7,842.2L673.7,845.3L672.2,850.4L670,855L667.9,858.6L665.1,863.1L662.1,867.7L659.5,871.8L657.7,874.7" fill="none" stroke="#e3e3e3" stroke-width="1.4" stroke-linejoin="round" stroke-linecap="butt" opacity="0.75"/>
<path d="M701.7,550.8L701.1,553.4L700.4,556.9L699.5,561.1L698.4,565.7L697,570.3L695.3,574.5L693.6,577.8L691.6,581.2L689.4,584.6L687.1,588L684.6,591.3L682.1,594.7L679.7,598.1L677,601.5L674.2,605L671.3,608.5L668.3,612L665.6,615.4L663.1,618.6L661,621.5L658.3,625.8L656.3,629.5L655,633L654.2,636.9L654.2,641.4L655,646.3L655.9,651.2L656.5,656L656.4,660.9L656.1,665.7L655.8,670.5L655.8,674.9L656.3,680L657.2,684.7L658.7,689.7L660,693.2L661.5,696.9L663.3,700.7L665.3,704.5L667.5,708.1L670.1,711.6L672.9,715.1L676,718.4L679.1,721.6L682,724.3L685.6,727L689.1,729.1L692.5,731.1L695.8,733.3L699.1,735.6L702.4,738L705.5,740.6L707.9,743.8L709.6,747.7L710.7,752.3L711.4,756.9L712.2,761.2L713.1,766.2L713.8,770.8L714.1,775L713.7,780L712.1,785.1L709.7,789.3L706.7,793.9L704.8,798.5L705,802.7L706.3,806.9L708.4,811.8L710,815.3L712.1,819.2L714.3,823.2L716.3,827.3L717.8,831.3L718.8,836.5L719.2,841.8L719.3,846.7L719.5,850.8L720.8,855L721.3,858.8L720.5,862.6L719.3,867.4L717.9,871.8L717,874.9" fill="none" stroke="#e3e3e3" stroke-width="1.4" stroke-linejoin="round" stroke-linecap="butt" opacity="0.75"/>
<path d="M657.4,550.8L658.1,553.9L659.1,558.4L660.2,563.7L661.1,569.1L661.5,574.1L661.3,578.8L660.9,583.4L660.1,588.1L659,592.8L657.4,597.4L655.6,601.4L653.3,605.4L650.7,609.5L648.1,613.4L645.8,617.1L643.9,620.5L641.7,624.8L639.9,628.4L638.8,631.9L638.4,635.8L639,640.3L640.4,645L642.2,649.9L643.9,654.7L645.5,659.5L647.2,664.3L648.9,669L650.6,673.4L652.2,677.3L653.8,680.8L655.4,684.3L657.2,688.2L658.7,691.7L660.3,695.4L662,699.1L663.8,702.9L665.7,706.5L668.4,710.8L671.4,715.1L674.4,719.2L677.4,722.7L681.2,726.1L685.1,728.8L688.8,731.6L692.7,734.8L696.4,738.1L699.3,742.2L700.8,746.2L701.7,750.7L702.3,755.4L702.4,759.7L701.7,764.7L700.3,769.3L698.5,773.5L696.3,777.1L693.7,780.2L690.3,783.7L687.6,786.2L684.2,788.9L680.7,791.7L677.6,794.5L675.1,797.3L672.5,801.5L671.1,805.8L670.4,810.7L670.6,815.3L671.5,820.3L672.4,825.5L672.8,830.6L672.5,835.8L671.7,841.2L670.9,846.2L670.3,850.3L670.2,854.6L669.6,858.5L668.5,862.4L666.9,867.2L665.3,871.8L664.2,874.9" fill="none" stroke="#e3e3e3" stroke-width="1.4" stroke-linejoin="round" stroke-linecap="butt" opacity="0.75"/>
<path d="M686.1,550.7L685.2,553.7L683.8,558L682.2,563L680.6,568.1L679.1,572.9L677.8,577.3L676.6,581.7L675.3,586.2L674.1,590.6L672.7,595L671.2,599.5L669.5,604.2L667.8,608.8L666.2,613.1L664.7,617.1L662.4,622.4L660.3,626.8L658.8,631.7L658.1,636L657.8,640.6L657.7,645.3L657.8,650L658.1,654.6L658.5,659.3L659.2,663.9L660.4,668.2L662.1,672L664.2,675.4L666.8,678.9L669.5,682.6L672.1,686L674.9,689.7L677.9,693.4L680.9,697.1L683.6,700.7L686.7,705L689.7,709.3L692.6,713.3L695.3,716.8L698.5,720.3L701.5,722.9L704.4,725.8L707.2,729L709.9,732.3L712.2,736.4L713.6,740.5L714.7,745.1L715.6,749.8L716.5,754.2L718,759.3L719.3,764.1L720,768.4L719.9,773.7L718,778.9L715.8,782.2L712.9,785.7L709.8,789.4L707.3,792.9L704.8,797.4L702.9,801.8L701.6,807L701.1,810.8L700.8,814.9L700.8,819.2L700.9,823.6L701.1,827.9L701.5,832.2L702.1,836.8L702.8,841.3L703.5,845.4L704,848.8L705.6,853.3L706,857.4L704.9,861.5L703.1,866.7L701.3,871.5L700.1,874.8" fill="none" stroke="#e3e3e3" stroke-width="1.4" stroke-linejoin="round" stroke-linecap="butt" opacity="0.75"/>
<path d="M667.5,550.7L666.8,553.5L665.9,557.5L664.8,562.1L663.5,566.9L662.1,571.4L660.6,575.6L658.9,579.7L657.1,583.9L655.2,588L653.3,592.2L651.1,596.5L648.6,600.9L646.1,605.2L643.8,609.3L642,613L639.7,618.1L638.2,622.3L637.4,627L637.3,631.1L637.8,635.5L638.5,640L639.1,644.4L639.7,648.9L640.3,653.4L641,657.9L641.7,662L642.8,666.8L644,671.3L645.5,676.1L646.6,680.3L647.9,684.9L649.3,689.5L650.8,693.9L652.5,698.2L654.3,702.4L656.1,706.4L657.9,709.9L661.4,714.8L664.8,718.9L667.1,722.1L669.4,725.5L671.3,729.7L672.4,733.8L673.3,738.5L674.1,743.3L674.7,747.8L675.3,753L675.8,757.9L675.9,762.4L675.6,767.8L674.5,773.3L673,777.9L671.1,782.9L670,787.9L669.9,792.5L670.6,797.2L671.8,802.7L673,806.6L674.5,811L676.2,815.5L677.8,820.2L679.1,824.7L680,829.3L680.7,834.2L681.2,839L681.6,843.3L682,846.9L682.8,851.7L682.7,856.1L681.9,860.6L680.8,866L679.6,871.2L678.8,874.8" fill="none" stroke="#e3e3e3" stroke-width="1.4" stroke-linejoin="round" stroke-linecap="butt" opacity="0.75"/>
<path d="M664.2,550.6L663.3,553.3L662,557L660.6,561.4L659.2,565.9L658,570.1L657.2,574.9L656.7,579.8L656.2,584.7L655.1,589.6L653.8,593.6L652,597.8L650.1,601.9L648.3,605.8L646.7,609.3L644.4,614L642.3,618.1L641.2,622.5L641.1,626.5L641.7,630.7L642.5,635L643.4,639.3L644.5,643.6L645.7,648L647,652.2L648.5,656.3L650.7,661L653.1,665.3L655.7,670L657.7,674.2L659.8,678.7L662,683.2L664.2,687.5L666.6,691.8L669,696.1L671.5,700.1L674,703.5L677.5,707L681.1,709.7L684.8,712.6L687.7,715L690.6,717.4L693.6,720.1L696.7,723.4L699.2,726.7L701.8,730.4L704.4,734.3L706.9,738.2L709,741.8L711.4,745.9L713.6,749.7L715.3,753.4L716.6,756.8L717.4,762.4L716.3,768L714.7,771.6L712.4,775.4L710,779.3L708.2,783.2L706.9,788L706.3,792.9L706.3,798.6L706.8,802.8L707.6,807.3L708.6,812.1L709.4,817L709.7,821.8L709.5,826.6L708.9,831.8L708.1,836.8L707.2,841.4L706.5,845.2L705.7,850.3L703.4,854.9L701.5,857.9L698.9,861.5L696,865.4L693.1,869.2L690.6,872.4L688.9,874.7" fill="none" stroke="#e3e3e3" stroke-width="1.4" stroke-linejoin="round" stroke-linecap="butt" opacity="0.75"/>
<path d="M679.5,550.7L678.6,553.2L677.3,556.7L675.8,560.7L674.2,565.1L672.7,569.5L671.3,573.6L670,578.1L668.7,582.7L667.6,587.2L666.4,591.8L665.1,596.3L663.7,601L662.3,605.8L660.9,610.5L659.4,615L658,619L656.2,623.2L654.5,626.7L652.7,630.2L651,634L649.3,638.4L647.5,643.1L646,647.9L644.8,652.6L644.1,657.3L643.8,662.1L643.9,666.7L644.4,671.1L645.4,674.9L647,678.4L648.8,681.9L650.9,685.7L652.9,689.2L655.2,692.8L657.6,696.6L659.9,700.3L662,703.9L664.3,708.2L666.5,712.5L668.5,716.6L670.4,720.1L673.2,724.9L675.6,729L678.1,733.8L680.8,739.6L682.4,743.6L684.1,748.2L685.8,752.9L687.4,757.2L689.6,762.3L691.7,767L693.3,771.2L694.6,776.4L694.7,781.6L693.8,785.9L692.3,790.6L690.8,795.3L689.4,799.7L688.1,804L687.1,809.1L686.7,812.7L686.3,816.7L686.1,820.9L686.1,825.2L686.3,829.4L687,833.6L688,838.1L689.2,842.4L690.4,846.3L691.3,849.6L692.9,854L693.7,858L693.5,862L692.9,867L692.3,871.7L691.9,874.9" fill="none" stroke="#e3e3e3" stroke-width="1.4" stroke-linejoin="round" stroke-linecap="butt" opacity="0.75"/>
<path d="M695.9,550.8L694.5,553.3L692.6,556.8L690.3,560.9L687.8,565.4L685.1,569.8L682.5,573.9L680.2,577.2L677.8,580.6L675.2,583.9L672.5,587.2L670,590.5L667.6,593.8L665.4,597.1L663.1,601L661,605L659,609L657.2,613L655.6,616.6L654.2,620L652,625.5L650.6,630.2L649.5,635.2L648.7,639.6L648.1,644.4L647.7,649.2L647.4,654L647.1,658.8L646.9,663.6L646.9,668.3L647.6,672.7L648.9,676.5L650.7,680L653,683.6L655.9,687.4L658.2,690.2L660.9,693.3L663.9,696.4L666.9,699.6L669.9,702.7L672.6,705.6L675.7,709.1L678.7,712.6L681.6,716L684.3,719.1L686.7,721.8L691.1,726.6L694.3,730.8L697.2,735.5L699,741.4L699.2,745.3L698.9,749.9L698.5,754.6L698.4,758.9L698.8,763.9L699.5,768.5L700,772.8L700.5,777.9L700.3,783L699.2,787.3L697.6,792L696.4,796.6L695.7,800.9L695.3,805.2L695.2,810.2L695.2,813.8L695.3,817.7L695.5,821.9L695.9,826.1L696.6,830.2L697.7,834.4L699.1,838.7L700.8,843L702.4,846.9L703.8,850.1L706.6,854.4L708.8,858.3L709.6,862.3L710.2,867.1L710.6,871.7L710.8,874.9" fill="none" stroke="#e3e3e3" stroke-width="1.4" stroke-linejoin="round" stroke-linecap="butt" opacity="0.75"/>
<path d="M672.5,550.7L673.4,553.7L674.8,557.9L676.3,562.8L677.7,567.9L678.8,572.6L679.7,577L680.6,581.4L681.2,585.8L681.3,590.2L680.6,594.5L679.2,598.3L677.2,602.1L674.7,605.9L672.1,609.7L669.5,613.2L667.2,616.4L664,620.5L660.9,623.9L658.1,627.2L655.9,630.9L654.4,635.2L653.5,639.8L653,644.4L652.7,649L652.6,653.7L652.7,658.3L653.1,662.9L654,667.1L655.4,670.9L657.2,674.3L659.4,677.8L661.9,681.5L664.2,684.9L666.8,688.6L669.6,692.3L672.5,696L675.6,699.5L678.9,703L682.4,706.4L686,709.8L689.7,712.9L693.2,715.6L697.4,718.3L701.5,720.5L705.7,722.4L709.8,724.6L713.3,726.5L716.8,728.4L720.3,730.4L723.8,732.7L727,735.3L730.2,738.5L733.3,742.1L736.3,745.9L738.9,749.7L741,753.1L743.6,758.3L745.1,763L745.4,767.4L744.7,771.1L742.8,774.3L739.4,778L736.8,780.1L733.5,782.4L729.8,784.8L726.1,787.3L722.6,789.7L719.6,792.1L716,795.5L713,798.8L710.4,802.3L708.1,806.3L706.5,810.1L705.2,814.2L704.1,818.6L703,823L701.8,827.3L700.4,831.8L699,836.4L697.6,840.9L696.3,845L695.3,848.4L694.8,853L693.9,857.2L691.9,861.4L689.1,866.5L686.4,871.4L684.6,874.8" fill="none" stroke="#e3e3e3" stroke-width="1.4" stroke-linejoin="round" stroke-linecap="butt" opacity="0.75"/>
<path d="M682.3,550.7L682.2,553.8L681.9,558.2L681.6,563.3L681.3,568.6L681.1,573.6L680.9,578.1L680.8,582.7L680.6,587.2L680.5,591.8L680.3,596.3L680.1,601L679.9,605.7L679.7,610.5L679.3,614.9L678.8,619L677.4,624.4L675.6,629L673.5,633.9L672.2,637.4L670.7,641.1L669.2,644.9L667.6,648.8L666.1,652.6L664.3,656.3L662.3,660.1L660.4,663.9L658.8,667.6L658,671L657.9,676.1L659.2,680.7L661.6,685.7L663.6,689.1L666.2,692.8L669.1,696.5L672.2,700.3L675.1,703.8L678,707.3L681,710.8L684,714.1L687,717.2L689.7,720L693.6,723.5L697.1,726.1L700.5,729L703.9,732.1L707,735.5L710.1,739.6L712.1,743.6L714.1,748.2L716,752.9L717.9,757.2L720.1,761L722.5,764.6L724.6,768L726.2,771.2L728.1,776.4L727.9,781.5L726.5,784.7L724.3,788.2L721.8,791.8L719.4,795.3L717.3,798.6L715.3,801.8L713.1,805.1L710.8,809L708.5,812.7L706,816.7L703.4,820.9L701,825.2L699,829.3L697.5,833.6L696.3,838L695.3,842.4L694.6,846.3L694.1,849.6L694.9,854L695.7,858L695,862L693.8,867L692.6,871.6L691.8,874.9" fill="none" stroke="#e3e3e3" stroke-width="1.4" stroke-linejoin="round" stroke-linecap="butt" opacity="0.75"/>
<path d="M667.6,550.7L667.8,553.7L668.1,558L668.4,562.9L668.4,568L667.9,572.8L666.9,577.2L665.3,581.6L663.5,586L661.7,590.5L660,594.9L658.5,599.4L656.9,604L655.4,608.6L654,612.9L652.8,616.9L651.2,622.1L650,626.6L648.7,631.5L647.4,635.8L646.2,640.4L644.7,645.1L642.8,649.7L640.8,653.4L638.4,657.1L635.9,660.8L633.6,664.4L631.9,667.8L630,672.8L628.9,677.3L629,682.3L629.8,686.6L631.4,691.2L633.3,695.8L635.6,700.3L637.7,703.8L640.1,707.2L642.7,710.6L645.2,713.7L647.5,716.4L650.8,719.9L653.7,722.6L656.4,725.4L659.1,728.6L661.4,731.9L663.3,736.1L664,740.1L664.4,744.7L664.6,749.5L665,753.8L666,759L667.1,763.7L668.1,768.1L669.1,773.4L669.4,778.6L668.8,783L667.8,787.9L666.9,792.7L666.7,797.1L666.7,801.6L666.3,806.8L665.7,810.5L664.8,814.7L663.9,819L663,823.4L662.3,827.7L661.7,832.1L661.1,836.7L660.6,841.2L660.3,845.3L660.3,848.7L661.5,853.2L663.5,857.3L664.6,861.5L665.9,866.6L667,871.5L667.8,874.8" fill="none" stroke="#e3e3e3" stroke-width="1.4" stroke-linejoin="round" stroke-linecap="butt" opacity="0.75"/>
<path d="M646.1,550.7L646.7,553.4L647.6,557.3L648.5,561.9L649.3,566.6L649.6,571L649.5,575.1L649.1,579.2L648.4,583.3L647.5,587.3L646.6,591.4L645.4,595.6L643.9,599.9L642.3,604.2L640.8,608.3L639.4,611.9L637.3,616.9L635.4,621.1L633.6,625.6L632.2,629.7L631,634L629.7,638.5L628.4,642.9L626.7,647.3L624.9,651.8L623.3,656.2L622.4,660.3L622.4,665.1L623.4,669.5L625.7,674.3L627.7,677.6L630.4,681.2L633.4,684.9L636.7,688.5L640,692L643,694.8L646.2,697.7L649.6,700.6L652.9,703.3L656.2,705.8L659.1,708L662.9,710.7L666.4,712.9L669.6,714.8L672.8,717.1L676.1,719.5L679.4,721.9L682.5,724.6L685.4,727.8L687.5,731L689.5,734.7L691.3,738.6L693,742.5L694.5,746L696.6,751.3L698.3,756.2L699.3,760.7L699.7,766.2L698.4,771.7L696.6,775.2L694.1,778.9L691.4,782.7L689,786.5L686.9,790.1L685,793.5L683.1,797.2L680.7,801.5L678.8,804.8L676.6,808.4L674.3,812.2L672,816.1L669.8,820L667.8,823.8L665.9,827.7L664.1,831.8L662.3,835.9L660.7,839.8L659.4,843.4L658.4,846.4L658,851.3L658.6,855.8L658.3,860.3L657.8,865.8L657.3,871.1L657,874.7" fill="none" stroke="#e3e3e3" stroke-width="1.4" stroke-linejoin="round" stroke-linecap="butt" opacity="0.75"/>
<path d="M659.5,550.7L658.8,553.8L657.7,558.1L656.5,563.1L655.3,568.3L654.1,573.2L653,577.7L652.1,582.2L651.1,586.6L649.8,591.1L648,595.6L646.1,599.4L643.7,603.3L641.1,607.2L638.5,611L636.1,614.6L634,617.9L631.3,622.1L628.9,625.6L627,628.9L625.9,632.7L625.7,637.1L626.4,641.7L627.5,646.5L629,651.1L630.3,654.9L632,658.7L633.8,662.4L635.8,666L637.8,669.5L640.5,673.3L643.2,676.7L646.1,680.2L649.1,684L651.5,687.4L654.1,691.1L656.7,694.8L659.3,698.5L661.8,702.1L664.3,705.6L666.7,709L669.2,712.4L671.6,715.5L674,718.2L677.9,721.7L681.8,724.4L685.8,727.2L688.8,729.6L691.9,732L695,734.7L697.7,737.9L700.3,741.9L702.8,746.5L705,751.2L706.7,755.5L708.4,760.6L709.3,765.4L709.4,769.7L708.1,774.9L704.7,780.1L701.6,783.3L697.7,786.8L693.8,790.5L690.7,794L688.1,798.4L686.6,802.8L686.1,807.9L686.5,811.6L687.5,815.7L688.8,820L690,824.3L690.9,828.5L691.4,832.9L691.8,837.4L692.1,841.8L692.2,845.8L692.3,849.1L692.6,853.6L691.4,857.7L689.6,860.8L687.1,864.7L684.3,868.8L681.9,872.4L680.2,874.9" fill="none" stroke="#e3e3e3" stroke-width="1.4" stroke-linejoin="round" stroke-linecap="butt" opacity="0.75"/>
<rect x="636.5" y="729" width="10" height="147.5" fill="#f5a3a5"/>
<rect x="711" y="608" width="9.3" height="68" fill="#a9a9d5"/>
<line x1="675.8" y1="550" x2="675.8" y2="877" stroke="#000" stroke-width="2" stroke-dasharray="3.2 2"/>
<path d="M675.5,550.7L675.5,552L675.5,553.6L675.6,555.6L675.6,557.8L675.6,560.1L675.6,562.6L675.5,565.1L675.3,567.6L674.9,570L674.4,572.2L673.9,574L673.3,575.8L672.6,577.6L671.8,579.4L671,581.2L670.1,583L669.2,584.7L668.2,586.5L667.1,588.3L666,590.1L664.9,591.9L663.7,593.7L662.5,595.4L661.3,597.1L659.9,598.8L658.5,600.6L657,602.3L655.5,604L653.9,605.8L652.4,607.5L651,609.1L649.5,610.7L648.2,612.3L646.9,613.8L645.8,615.2L644.1,617.3L642.6,619.2L641.1,620.9L639.8,622.6L638.7,624.2L637.6,625.8L636.6,627.6L635.8,629.5L635.2,631.3L634.7,633.2L634.4,635.2L634.2,637.2L634,639.2L633.9,641.3L633.7,643.4L633.5,645.4L633.3,647.4L633,649.4L632.6,651.4L632.1,653.5L631.7,655.6L631.3,657.6L631,659.6L630.8,661.6L630.7,663.5L630.8,665.3L631.1,667.5L631.6,669.5L632.3,671.5L633.1,673.4L634.2,675.4L635.4,677.4L636.9,679.6L637.9,681L638.9,682.4L640.1,683.9L641.3,685.4L642.6,686.9L644,688.4L645.4,690L646.9,691.5L648.4,693.1L649.9,694.6L651.4,696.1L653,697.5L654.5,698.8L656,700.1L657.6,701.5L659.3,702.8L661,704.1L662.7,705.5L664.5,706.7L666.2,708L667.9,709.2L669.6,710.4L671.2,711.5L672.9,712.6L674.4,713.6L676.3,714.8L678.2,715.8L680.1,716.8L681.9,717.6L683.7,718.4L685.4,719.2L687.2,720L688.9,720.8L690.6,721.7L692.3,722.6L694.2,723.7L696.2,724.7L698.1,725.8L700,726.8L701.9,728L703.7,729.1L705.4,730.4L707,731.8L708.5,733.3L709.8,735L711.1,736.9L712.2,738.9L713.2,741L714.2,743.1L715.1,745.2L715.9,747.3L716.7,749.3L717.4,751.2L718.3,753.5L719,755.7L719.7,757.8L720.2,759.9L720.7,761.9L720.9,763.8L721,765.6L720.9,767.9L720.6,770L720,771.9L718.9,774L717.4,776.3L716.4,777.6L715.1,778.9L713.6,780.3L712,781.8L710.4,783.2L708.7,784.7L707.1,786.2L705.6,787.7L704.2,789.1L703.1,790.6L701.8,792.6L700.8,794.5L700,796.4L699.3,798.3L698.7,800.4L698.2,802.6L697.7,805L697.4,806.9L697.1,808.8L696.9,810.9L696.8,813.1L696.6,815.3L696.5,817.5L696.4,819.8L696.3,822L696.1,824.2L695.9,826.4L695.6,828.6L695.3,830.9L695,833.2L694.6,835.6L694.3,837.9L693.9,840.2L693.6,842.4L693.4,844.4L693.2,846.3L693.1,847.9L693.3,850.8L694,852.6L694.7,854.2L694.8,856.8L694.6,858.5L694.2,860.5L693.7,862.8L693.1,865.2L692.5,867.5L691.9,869.8L691.4,871.8L690.9,873.5L690.6,874.8" fill="none" stroke="#1a1a1a" stroke-width="4.1" stroke-linejoin="round" stroke-linecap="butt"/>
<line x1="623.8" y1="894.5" x2="750.4" y2="894.5" stroke="#231f20" stroke-width="2"/>
<line x1="624.8" y1="894.5" x2="624.8" y2="905" stroke="#231f20" stroke-width="2"/>
<line x1="749.4" y1="894.5" x2="749.4" y2="905" stroke="#231f20" stroke-width="2"/>
<text x="622.5" y="936" font-size="28" text-anchor="middle">-0.06</text>
<text x="747.5" y="936" font-size="28" text-anchor="middle">0.08</text>
<text x="680.5" y="970.8" font-size="28" text-anchor="middle">Ampl. change (dB)</text>
<defs><linearGradient id="cbv" x1="0" y1="0" x2="0" y2="1"><stop offset="0" stop-color="#8b1a1d"/><stop offset="0.15" stop-color="#ed1c24"/><stop offset="0.30" stop-color="#ef5a5a"/><stop offset="0.5" stop-color="#fff"/><stop offset="0.65" stop-color="#8888c4"/><stop offset="0.8" stop-color="#3953a4"/><stop offset="1" stop-color="#262a82"/></linearGradient></defs>
<rect x="748.5" y="543.5" width="23" height="135.5" fill="url(#cbv)" stroke="#231f20" stroke-width="2"/>
<text x="759.7" y="536.5" font-size="20" text-anchor="middle">0.08</text>
<text x="758.5" y="698.5" font-size="20" text-anchor="middle">-0.08</text>
<text x="802.5" y="611" font-size="20" text-anchor="middle" transform="rotate(-90 802.5 611)">Ampl. change (dB)</text>
</g>
<g id="pg">
<text x="878" y="491.5" font-size="39" font-weight="bold" fill="#231f20">g</text>
<text x="1149.8" y="499" font-size="28" text-anchor="middle" font-weight="bold">Attention Strength</text>
<text x="1149.8" y="526.8" font-size="28" text-anchor="middle" font-weight="bold">7-13Hz Fluctuations</text>
<text x="926" y="705" font-size="28" text-anchor="middle" transform="rotate(-90 926 705)">Ampl. change</text>
<text x="958" y="703.5" font-size="28" text-anchor="middle" transform="rotate(-90 958 703.5)">(dB)</text>
<line x1="979.7" y1="564" x2="979.7" y2="849" stroke="#231f20" stroke-width="2"/>
<line x1="969.2" y1="565" x2="979.7" y2="565" stroke="#231f20" stroke-width="2"/>
<line x1="969.2" y1="848" x2="979.7" y2="848" stroke="#231f20" stroke-width="2"/>
<text x="964.5" y="574.5" font-size="28" text-anchor="end">0.08</text>
<text x="964.5" y="857.5" font-size="28" text-anchor="end">0.03</text>
<line x1="990" y1="853.5" x2="1331.8" y2="853.5" stroke="#231f20" stroke-width="2"/>
<line x1="991" y1="853.5" x2="991" y2="865" stroke="#231f20" stroke-width="2"/>
<line x1="1028.8" y1="853.5" x2="1028.8" y2="865" stroke="#231f20" stroke-width="2"/>
<line x1="1066.5" y1="853.5" x2="1066.5" y2="865" stroke="#231f20" stroke-width="2"/>
<line x1="1104.3" y1="853.5" x2="1104.3" y2="865" stroke="#231f20" stroke-width="2"/>
<line x1="1142" y1="853.5" x2="1142" y2="865" stroke="#231f20" stroke-width="2"/>
<line x1="1179.8" y1="853.5" x2="1179.8" y2="865" stroke="#231f20" stroke-width="2"/>
<line x1="1217.5" y1="853.5" x2="1217.5" y2="865" stroke="#231f20" stroke-width="2"/>
<line x1="1255.3" y1="853.5" x2="1255.3" y2="865" stroke="#231f20" stroke-width="2"/>
<line x1="1293" y1="853.5" x2="1293" y2="865" stroke="#231f20" stroke-width="2"/>
<text x="1030.8" y="898" font-size="28" text-anchor="middle">-1</text>
<text x="1103.3" y="898" font-size="28" text-anchor="middle">0</text>
<text x="1178.8" y="898" font-size="28" text-anchor="middle">1</text>
<text x="1254.3" y="898" font-size="28" text-anchor="middle">2</text>
<text x="1162" y="930.5" font-size="28" text-anchor="middle">Time from Framing (sec)</text>
<path d="M1031,800L1033,760L1036,720L1039.6,691L1039.9,690.1L1040.4,690.7L1040.8,687.6L1041.4,683.8L1042,682.1L1042.7,681.2L1043.4,677.8L1044.1,679.8L1044.8,679.6L1045.7,681.3L1046.5,683.4L1047.4,686.3L1048.2,688.3L1049.1,691.7L1049.9,695L1050.4,697.9L1050.8,701.1L1051.3,703.9L1051.7,705.9L1052.1,707.9L1052.5,712.3L1052.9,711.9L1053.4,713.9L1053.9,718.7L1054.5,719.4L1055.1,718.5L1055.8,719.2L1056.4,718.5L1056.9,718.2L1057.6,717L1058.2,715.4L1058.9,715.3L1059.6,713.4L1060.3,710.3L1061.1,707.6L1061.8,704.5L1062.6,704L1063.3,702.4L1064.1,696.9L1064.8,696.4L1065.6,694.1L1066.3,691.8L1067,687.3L1067.7,687.6L1068.5,684L1069.4,682L1070.2,681.7L1071.1,680.1L1071.9,678.3L1072.7,677L1073.6,675.2L1074.4,672.5L1075.2,669.1L1076,670.2L1076.8,668.5L1077.6,666.5L1078.5,663.5L1079.1,659.5L1079.8,658.2L1080.4,655.8L1081.1,655.8L1081.7,653.2L1082.4,649.5L1083,650.3L1083.7,648.1L1084.4,645.5L1085,641.6L1085.7,638.8L1086.3,636.5L1086.9,637.2L1087.5,635.1L1088.1,631.9L1088.7,633.3L1089.3,631L1091.5,629.1L1093.5,630.9L1095.4,634.9L1097.4,635.9L1099.4,638.2L1101.4,637.6L1103.4,640.7L1105.4,637.9L1106.2,639.4L1106.9,635.2L1107.7,633.9L1108.5,632.7L1109.2,630L1110,628.2L1110.7,627.5L1111.4,622.3L1112.2,622.3L1112.9,619.9L1113.5,618.4L1114.3,614.8L1115.1,612.4L1115.9,609.6L1116.6,607.7L1117.3,604.6L1118,602.4L1118.7,601.8L1119.3,599.5L1120,599.8L1121.2,600.2L1122.3,600.4L1123.4,602L1124.4,606.5L1125.4,610.6L1125.8,609.5L1126.2,612.7L1126.6,614.7L1126.9,617.5L1127.2,618.7L1127.6,619.3L1127.9,621L1128.3,625.6L1128.7,625.7L1129.2,626.7L1129.7,632.2L1130.2,631.4L1130.8,633.7L1131.4,635.5L1132,637L1132.6,640.7L1133.3,641L1133.9,643.3L1134.7,645.3L1135.4,649L1136.2,648L1137,652.7L1137.8,653.5L1138.3,655.2L1138.8,658.9L1139.4,659.9L1139.9,660.7L1140.5,665L1141.1,668.6L1141.6,669.8L1142.2,671.6L1142.9,675.2L1143.5,678.1L1144.1,677.3L1144.7,680.2L1145.3,685.1L1146,687.1L1146.6,686.2L1147.2,690L1147.8,692.4L1148.4,692.7L1149,694.4L1149.6,694.8L1150.2,694.4L1151.7,695.2L1153.1,694.1L1154.5,695L1155.8,690.6L1157.3,689.9L1158.7,686.2L1160.3,683.8L1162.1,683.8L1163.6,680.1L1165.2,678.9L1166.8,676.8L1168.6,674.5L1170.3,672.9L1172.1,672.6L1174,672.4L1175.8,668.3L1177.6,670.8L1179.3,669.2L1181.3,666.4L1183.2,669L1185.2,668L1187.2,668.9L1189.1,667.9L1191.1,670.4L1193.1,671.5L1195.1,673.7L1197.1,674.2L1198.6,675.7L1200,677L1201.4,676.2L1202.8,676.9L1204.2,680.2L1205.6,680.3L1207.1,682L1208.5,684.4L1210,686.8L1211.5,688.8L1213,690.4L1214.5,693.1L1216,691.2L1217.6,694.3L1219.3,693.8L1220.9,697.5L1222.6,697.8L1224.4,698L1226.1,699.9L1227.9,702.6L1229.6,703.1L1231.3,706.2L1232.9,705L1234.6,706.1L1236.1,709.6L1237.6,709.4L1239.6,708.8L1241.6,712.7L1243.4,712.2L1245.2,715.6L1246.9,715.4L1248.6,717.1L1250.3,718.6L1252,718.3L1253.8,721.6L1255.3,719.1L1256.7,721.8L1258.2,725.3L1259.7,723.6L1261.1,727.9L1262.6,730.8L1264.1,731.2L1265.6,733.4L1267,731.7L1268.5,734.9L1270,736.3L1271.8,737L1273.6,738.4L1275.5,741.3L1277.4,740L1279.3,740.7L1281.1,743.8L1282.8,745.8L1284.5,745.5L1286.2,744.7L1287.5,742.4L1288.8,743.4L1290.1,738.1L1291.3,736.7L1292.5,736.5L1293.6,734.7L1294.8,730.7L1295.9,731L1296.9,726.7L1298,728.2L1299.2,726.6L1300.4,728.5L1301.5,730.3L1302.6,731.8L1303.6,735.9L1304.7,738.8L1305.7,740.2L1306.7,743.5L1307.7,742.2L1309.9,744.9L1311.9,744.4L1313.8,742.6L1315.8,743L1317.3,738.3L1318.8,737.6L1320.4,735.6L1321.8,733.1L1323,733.7L1323.9,730.8L1323.9,791.2L1323.2,794.7L1322.1,797.1L1320.9,796.3L1319.5,801.9L1318.2,802.7L1316.9,803.6L1315.8,804.9L1314.1,809.4L1312.6,809.1L1310.4,808.2L1309.4,808.6L1308.2,804.6L1306.9,805.4L1305.5,804.6L1304.1,799.6L1302.6,798.3L1301.1,797.9L1299.5,797.7L1298,794.6L1296,796.5L1294,796.4L1291.9,796.6L1289.7,798L1287.6,798.3L1285.5,798.8L1283.5,800L1281.5,799.1L1279.8,800.6L1278,798.7L1276.3,798.8L1274.4,794L1272.3,794.2L1270,794.1L1268.4,791.8L1266.7,789.7L1264.9,788L1263,789.5L1261,786.3L1259,787.2L1257,785.7L1255.1,781.6L1253.2,783.8L1251.5,781.4L1249.8,778.2L1248.4,778.2L1246.1,777.7L1244.4,777.7L1243,778.3L1241.6,776.7L1239.9,773.5L1237.6,774.7L1236.2,774.2L1234.6,772.6L1232.9,771.2L1231.1,767.4L1229.2,766.1L1227.3,767L1225.4,764.2L1223.4,765.1L1221.5,764.8L1219.6,761.3L1217.8,761.4L1216,762L1213.8,761.3L1211.6,760.6L1209.5,758.7L1207.4,759.6L1205.3,756.9L1203.3,756.9L1201.2,756.3L1199.2,759.6L1197.1,756.1L1195.1,758L1193.1,756L1191.1,755.2L1189.1,753L1187.2,751.5L1185.2,748.8L1183.2,747.7L1181.3,750L1179.3,748.7L1178.1,748.3L1176.8,750L1175.5,752.5L1174.2,754.6L1172.9,754.6L1171.6,757.8L1170.3,759L1169.1,763.9L1167.8,762.6L1166.6,765.7L1165.4,769.8L1164.3,770.6L1163.1,773.4L1162.1,772L1160.3,776.1L1158.7,777.5L1157.3,779.9L1155.8,786L1154.5,785.9L1153.1,789L1151.7,789.1L1150.2,785.8L1149.5,788.2L1148.8,783.9L1148.1,784L1147.4,782.8L1146.7,780.1L1146,780.5L1145.2,775L1144.5,776.1L1143.8,772.1L1143.1,768.9L1142.3,766.6L1141.6,766.5L1141,761.3L1140.3,758.6L1139.6,759.1L1139,755L1138.4,752.6L1137.8,753.2L1137.2,750.4L1136.6,749.2L1136,747.5L1135.4,744.5L1134.8,740.4L1134.3,738.2L1133.8,736.9L1133.3,735.3L1132.8,733L1132.3,730L1131.8,729.4L1131.4,727.7L1130.9,726.9L1130.5,722.4L1130.1,721.9L1129.7,718.6L1129.3,718.3L1128.9,716.4L1128.5,711.9L1128.1,709.4L1127.8,710.4L1127.5,707.7L1127.2,703.1L1127,702.4L1126.7,700.1L1126.4,697.2L1126.1,696.1L1125.8,695.4L1125.4,693L1124.8,691.3L1124.2,686.5L1123.5,683.4L1122.8,682.7L1122.2,679.1L1121.5,678.8L1120.7,677.8L1120,678.1L1119,678.6L1118,679.4L1116.9,679.5L1115.9,681.3L1114.7,682.8L1113.5,688.2L1112.9,689L1112.2,689.1L1111.4,691.3L1110.7,693.9L1110,697.7L1109.2,702L1108.5,702.2L1107.7,705.1L1106.9,704.8L1106.2,707.2L1105.4,710.3L1103.4,708.3L1101.4,709.2L1099.4,706.3L1097.4,703L1096,703.3L1094.8,697.2L1093.5,695.6L1092.2,691.5L1090.8,691.7L1089.3,693.4L1088.7,694.2L1088.1,696.2L1087.5,697.1L1086.9,698.1L1086.3,698.9L1085.7,701.5L1085,704.9L1084.4,705.1L1083.7,708.9L1083,712L1082.4,712.3L1081.7,714.3L1081.1,717.5L1080.4,719.8L1079.8,719.9L1079.1,722.7L1078.5,726.3L1077.7,726.7L1076.9,730.1L1076.2,732.4L1075.4,733.8L1074.7,734.8L1073.9,739.1L1073.1,741L1072.4,740.8L1071.6,743.4L1070.8,745.1L1070.1,745L1069.3,750.3L1068.5,750.9L1067.7,753.1L1066.8,755.8L1065.9,756.5L1064.9,758.5L1063.9,762.4L1062.9,765.6L1061.9,766.1L1061,768.7L1060,770.9L1059.1,773.2L1058.2,774L1057.3,776.7L1056.5,775.5L1055.8,777.2L1055.1,775L1054.5,775.8L1053.9,773.9L1053.4,772L1052.9,771.4L1052.5,768.4L1052.1,763.7L1051.7,759.9L1051.3,759.6L1050.8,757.8L1050.4,756L1049.9,753.1L1049.3,748.7L1048.7,746.5L1048.1,744.5L1047.5,742.1L1046.8,739.4L1046.2,736.2L1045.6,735.3L1045,733.8L1044.4,733.7L1043.9,731.7L1043.4,728.6L1042.9,730.4L1042.4,730.9L1042,734.9L1041.5,735.7L1041.1,740.5L1040.7,744.1L1040.4,747.6L1040.1,748.2L1039.8,750.4L1039.6,752.1L1038,752L1036,770L1033,800Z" fill="#f9d3d4"/>
<path d="M1029.4,848.9L1029.4,848.2L1029.4,845.9L1029.5,845.1L1029.5,845.6L1029.6,844.5L1029.6,843.4L1029.6,841.7L1029.7,841.2L1029.7,840L1029.8,838.8L1029.8,836.9L1029.9,836.1L1029.9,834.8L1030,834L1030,833.2L1030.1,831.7L1030.2,829.6L1030.2,828L1030.3,826.2L1030.4,824.3L1030.4,822.8L1030.5,822.1L1030.6,820.3L1030.6,818.9L1030.7,818.3L1030.8,816L1030.8,814.6L1030.9,812.4L1031,810.5L1031.1,809.5L1031.1,807.6L1031.2,806.7L1031.3,806.1L1031.4,803.9L1031.5,801.6L1031.5,801.3L1031.6,800L1031.7,798.6L1031.7,797.7L1031.8,796.2L1031.9,794.9L1032,792.8L1032,792.6L1032.1,791.3L1032.2,788.5L1032.3,788.2L1032.3,786.7L1032.4,784.9L1032.5,783.6L1032.6,782.1L1032.7,781.5L1032.7,779.3L1032.8,778.5L1032.9,776.2L1033,775.7L1033.1,774.3L1033.2,772.1L1033.2,770.9L1033.3,770.1L1033.4,768.3L1033.5,766.4L1033.6,764.6L1033.7,763.3L1033.8,762.6L1033.9,760.3L1034,760.2L1034,757.7L1034.1,757.6L1034.2,755.1L1034.3,755L1034.4,753.3L1034.5,751.6L1034.6,750.4L1034.7,749.4L1034.8,748.1L1034.9,746.4L1035,745.1L1035,744.5L1035.1,744.2L1035.2,742.6L1035.3,740.5L1035.5,740.1L1035.6,738.1L1035.8,736.7L1036,733.8L1036.2,733.2L1036.3,730.4L1036.5,729.9L1036.7,727.7L1036.9,726.2L1037,726L1037.2,723.3L1037.4,722.7L1037.6,722L1037.7,719.7L1037.9,718.4L1038.1,718.5L1038.3,716.5L1038.4,716L1038.6,713.7L1038.8,713.3L1039,711.9L1039.1,711.9L1039.3,709.9L1039.5,710.6L1039.6,708.1L1040.1,706.9L1040.6,703.6L1041.1,702.3L1041.5,702L1042,699.8L1042.4,699.2L1042.9,699.7L1043.4,699L1043.9,698.6L1044.5,700.9L1045,700.3L1045.6,701.3L1046.1,703.3L1046.7,705.4L1047.2,707.4L1047.7,708.2L1048,709.7L1048.2,710.2L1048.5,712.2L1048.7,714.1L1048.9,715.4L1049.2,717.1L1049.4,718.2L1049.6,719.9L1049.8,721.1L1050.1,722.2L1050.3,723.2L1050.5,725.4L1050.8,726.2L1051,727.2L1051.2,729.2L1051.5,731.2L1051.8,731.4L1052.1,733.8L1052.4,735.2L1052.7,737.1L1053,738.1L1053.3,741.3L1053.6,741.6L1054,743.6L1054.3,744.6L1054.7,745L1055,746.9L1055.4,746.8L1055.8,747L1056.4,746.9L1057,746.7L1057.6,745.8L1058.3,745.6L1059,743.9L1059.7,743.2L1060.4,741.5L1061,739.9L1061.7,736.9L1062.3,735.8L1062.7,734.3L1063.2,733.7L1063.6,732.5L1064,731.5L1064.4,729.9L1064.8,727.8L1065.3,726.7L1065.7,725.5L1066.1,723.3L1066.5,722.1L1066.9,721.6L1067.3,720L1067.7,720.1L1068.6,717.7L1069.5,716.5L1070.4,715.9L1071.3,715.2L1072.2,714L1073.1,712.7L1073.4,711.7L1073.8,710.3L1074.2,709.8L1074.5,707.8L1074.9,707.7L1075.2,706.4L1075.6,704.6L1076,702.6L1076.3,701.3L1076.7,699.9L1077,697.5L1077.4,696.7L1077.8,695.5L1078.1,693.5L1078.5,692L1078.8,692L1079.2,689.9L1079.5,688.8L1079.9,688.2L1080.3,686.3L1080.6,684.4L1081,684.4L1081.3,682L1081.7,680L1082.1,680L1082.4,677.7L1082.8,676.9L1083.1,676.7L1083.5,675.2L1083.9,673L1084.4,672.2L1084.9,670.5L1085.5,669.1L1086,667.1L1086.6,666.4L1087.1,664.1L1087.6,663.4L1088.2,662.5L1088.7,662.8L1089.3,660.7L1090.3,661.6L1091.4,661.2L1092.5,663L1093.6,664.1L1094.7,665.7L1095.3,667.2L1096,667.8L1096.7,668.6L1097.4,670L1098,671.4L1098.7,674.1L1099.4,674.8L1100,676.3L1101.4,677.2L1102.7,677L1104.1,678.6L1105.4,678.7L1106.3,678.2L1107.2,677.2L1108.1,676.1L1109,675.1L1109.9,674L1110.8,670.8L1111.1,670.3L1111.4,669.2L1111.7,668.9L1112,667.5L1112.3,666.4L1112.6,664.8L1112.9,662.4L1113.2,660.9L1113.5,659.8L1113.8,657.9L1114.1,656.7L1114.4,655.7L1114.6,654.7L1114.9,652.7L1115.2,651.8L1115.5,649.3L1115.7,648.6L1116,648.7L1116.2,646.3L1116.9,644.2L1117.6,641.5L1118.2,639.9L1118.8,640.2L1119.4,639.7L1120,639.1L1120.5,638.5L1121,639.4L1121.6,640.3L1122.1,642.3L1122.7,643.9L1123.2,645.2L1123.8,647.4L1124.3,648.9L1124.5,650.6L1124.7,652.4L1124.9,653.2L1125.1,653.3L1125.3,655.3L1125.5,657.1L1125.7,657.6L1125.9,660.2L1126.1,660.9L1126.3,662.9L1126.5,663.8L1126.7,666.4L1126.9,667.4L1127.1,668.5L1127.3,669.1L1127.5,671L1127.7,671.5L1128,673.7L1128.2,675.3L1128.4,675.1L1128.6,676.6L1129.4,678.6L1130.1,679.8L1130.9,681.2L1131.7,682.2L1132.5,682.5L1133.3,683L1134,685.5L1134.4,685.3L1134.8,687L1135.1,687.9L1135.5,689.2L1135.8,690.5L1136.2,690.5L1136.5,692.5L1136.9,693.4L1137.3,695.2L1137.6,697.1L1138,697.9L1138.3,698.2L1138.7,700.5L1139.1,702.4L1139.4,704.2L1139.7,704.9L1139.9,706.4L1140.2,706.2L1140.5,709.2L1140.7,710.2L1141,711.3L1141.2,713.3L1141.5,714.7L1141.7,714.7L1142,717.4L1142.3,718.8L1142.5,719.2L1142.8,721.6L1143,722.6L1143.3,723.3L1143.5,725.6L1143.8,725.7L1144,727.7L1144.3,728.5L1144.6,729.1L1144.8,730.6L1145.5,732.6L1146.1,733.9L1146.8,736.9L1147.5,736.5L1148.1,737.5L1148.8,739.2L1149.5,740.4L1150.2,740.5L1151.4,740.8L1152.6,739.8L1153.9,739.1L1155.3,737.1L1156.7,735.5L1157.4,735.1L1158.2,733.3L1159,732.4L1159.8,732.6L1160.6,730.4L1161.5,730.3L1162.3,729.1L1163.1,727.3L1164,726.6L1164.8,725.6L1165.5,724.7L1166.3,722.3L1167,721.2L1167.8,720.5L1168.5,719.5L1169.3,718L1170,716.4L1170.8,716.3L1171.5,716L1172.2,713.9L1172.9,713.3L1173.9,711.6L1174.8,710.3L1175.7,709.7L1176.6,707.5L1177.5,707.2L1178.4,706.3L1179.3,706.3L1180.2,707.4L1181.1,706.8L1182,709.4L1182.9,709.9L1183.8,712L1184.7,713.7L1185.6,714.7L1186.4,715.2L1187.8,717.4L1189.1,717.1L1190.3,718.5L1191.8,717.9L1192.7,717.5L1193.7,716.8L1194.7,715.2L1195.7,713.3L1196.8,711.3L1197.8,710.3L1198.8,710.5L1199.5,710.5L1200.3,711.3L1201,713.7L1201.7,713.5L1202.5,716.2L1203.2,717L1203.9,718.4L1204.6,719.8L1205.2,720.6L1205.9,722.6L1206.6,723.4L1207.2,725.4L1207.8,726.5L1208.5,728.8L1209.1,729.9L1209.8,729.9L1210.6,730.8L1211.8,731.3L1213,729.7L1214.3,728.4L1215.7,727.6L1217.2,726.7L1218.7,727.1L1220,726.3L1221.3,726.1L1222.7,726.8L1224.1,725.7L1225.5,726.8L1226.9,726.8L1228.3,726.9L1229.5,728.4L1230.3,728.2L1231,730.1L1231.7,731.2L1232.3,731.6L1232.9,733.2L1233.6,735L1234.2,736L1234.8,737.3L1235.5,738.8L1236.1,740.1L1236.8,740.8L1237.6,742.2L1238.7,741.9L1239.8,743.4L1241,744.3L1242.2,744.4L1243.4,745L1244.7,745.2L1245.9,747.3L1247.2,746.8L1248.4,747.7L1249.6,749.2L1250.8,748.7L1252,750.8L1253.2,750L1254.4,750.6L1255.6,752L1256.8,752.8L1258,754.6L1259.2,755.5L1260.2,756L1261.2,756.3L1262.2,757.4L1263.2,757.7L1264.2,759.7L1265.2,759.8L1266.2,760.6L1267.2,762.1L1268.2,762.2L1269.1,763.3L1270,765.3L1271.1,764.9L1272.2,766.2L1273.3,767.5L1274.4,768.8L1275.3,770.2L1276.3,770.8L1277.2,771.8L1278.1,772.1L1279.6,772.3L1280.9,772.2L1282.2,770.9L1283.5,770.7L1284.5,772.2L1285.6,772.3L1286.7,773.8L1287.8,776L1288.8,775.2L1289.4,775.2L1290,773.1L1290.5,772.6L1291.1,771.9L1291.6,769.5L1292.2,768.7L1292.7,766.9L1293.3,765.1L1293.8,764.8L1294.2,762.7L1295.1,760.9L1295.8,759.2L1296.5,757.1L1297.2,757L1298,756.6L1298.5,757L1299,757.7L1299.5,759.6L1300,760.8L1300.5,762L1301.1,762.8L1301.6,764.2L1302.2,765.8L1302.8,766.3L1303.4,767.6L1304.2,770.5L1305.1,770.3L1306,773.1L1306.9,774L1307.8,775.6L1308.7,775.2L1309.6,776.4L1310.4,778L1311.9,777.2L1313.3,777.4L1314.6,777.3L1315.8,775.8L1316.4,774.8L1316.9,774.5L1317.3,772L1317.8,772L1318.2,769.8L1318.7,767.2L1319.1,767.4L1319.6,765.1L1320.7,764L1322,763.1L1323.1,761.7L1323.9,761.8" fill="none" stroke="#f20d14" stroke-width="4.1" stroke-linejoin="round" stroke-linecap="butt"/>
<line x1="1028.8" y1="565" x2="1028.8" y2="848" stroke="#000" stroke-width="2" stroke-dasharray="3.2 2"/>
<line x1="1104.3" y1="565" x2="1104.3" y2="848" stroke="#000" stroke-width="2" stroke-dasharray="3.2 2"/>
<line x1="1127" y1="565" x2="1127" y2="848" stroke="#000" stroke-width="2" stroke-dasharray="3.2 2"/>
<line x1="1315.3" y1="565" x2="1315.3" y2="848" stroke="#000" stroke-width="2" stroke-dasharray="3.2 2"/>
</g>
<g id="ph">
<text x="1388" y="490.5" font-size="39" font-weight="bold" fill="#231f20">h</text>
<text x="1693.5" y="499" font-size="28" text-anchor="middle" font-weight="bold">Envelope Correlation -</text>
<text x="1693.5" y="526.8" font-size="28" text-anchor="middle" font-weight="bold">Neuronal vs. Attention Strength</text>
<text x="1523" y="659.2" font-size="28" text-anchor="middle">Broadband</text>
<defs><filter id="sulc" x="0" y="0" width="100%" height="100%" color-interpolation-filters="sRGB"><feTurbulence type="turbulence" baseFrequency="0.115" numOctaves="1" seed="4"/><feGaussianBlur stdDeviation="0.7"/><feColorMatrix type="matrix" values="0 0 0 0 0.13  0 0 0 0 0.11  0 0 0 0 0.11  -4.6 0 0 0 1.06"/><feGaussianBlur stdDeviation="0.45"/></filter><filter id="mott" x="0" y="0" width="100%" height="100%" color-interpolation-filters="sRGB"><feTurbulence type="fractalNoise" baseFrequency="0.06" numOctaves="2" seed="9"/><feColorMatrix type="matrix" values="0 0 0 0 0.3  0 0 0 0 0.28  0 0 0 0 0.28  0.9 0 0 0 -0.40"/></filter><linearGradient id="cbh" x1="0" y1="0" x2="1" y2="0"><stop offset="0" stop-color="#262a82"/><stop offset="0.2" stop-color="#3953a4"/><stop offset="0.36" stop-color="#8888c4"/><stop offset="0.5" stop-color="#fff"/><stop offset="0.68" stop-color="#ef5a5a"/><stop offset="0.86" stop-color="#ed1c24"/><stop offset="1" stop-color="#a01a1d"/></linearGradient></defs>
<defs><clipPath id="bc1"><path d="M1451.9,678.3L1453.7,678.4L1456,678.7L1458.8,679L1461.8,679.3L1464.9,679.8L1467.7,680.4L1470.3,681.2L1472.9,682.1L1475.5,683.2L1478.1,684.3L1480.8,685.5L1483.4,686.7L1485.7,687.9L1488,689L1490.3,690.2L1492.6,691.5L1494.8,692.8L1497.1,694.2L1499.3,695.6L1501.4,697.1L1503.5,698.6L1505.6,700.2L1507.7,701.8L1509.7,703.4L1511.6,705.1L1513.4,706.8L1515.5,708.8L1517.5,710.9L1519.4,713L1521.2,715.1L1522.9,717.3L1524.3,719.5L1525.6,721.9L1526.8,724.3L1527.7,726.7L1528.6,729.2L1529.3,731.6L1529.9,733.9L1530.5,736.6L1531,739.1L1531.2,741.7L1531.4,744.1L1531.5,746.7L1531.6,749.2L1531.5,751.7L1531.4,754.2L1531.2,756.8L1530.7,759.5L1530.2,762L1529.6,764.7L1528.8,767.4L1528,770.2L1527.1,772.9L1526,775.5L1524.9,778L1523.8,780.5L1522.5,783L1521.1,785.4L1519.6,787.7L1518.1,789.9L1516.5,791.9L1514.7,793.8L1512.9,795.6L1511,797.2L1509,798.8L1507.1,800.2L1504.6,801.7L1502.1,803.1L1499.5,804.3L1496.9,805.2L1494.5,805.8L1491.6,806.2L1488.9,806.1L1486.2,805.7L1483.4,805.1L1481,804.2L1478.6,803.1L1476.1,801.9L1473.5,800.6L1470.8,799.4L1468.3,798.4L1465.6,797.4L1462.8,796.5L1460.1,795.5L1457.4,794.6L1455.1,793.7L1451.9,792.7L1449,791.9L1446.4,791L1444,789.9L1441.9,788.5L1440,787L1438.2,785.3L1436.2,783.5L1434.4,781.7L1432.6,779.7L1430.7,777.7L1428.7,775.7L1426.7,773.8L1424.5,772.1L1422.1,770.5L1419.7,768.9L1417.5,767.4L1415.7,765.8L1413.5,763.2L1412,760.5L1411,757.9L1410.3,755.1L1410.1,752.4L1410.2,749.9L1411.6,746.8L1412.5,743.5L1411.8,741.3L1410.6,739L1409.1,736.5L1407.7,733.9L1406.5,731.3L1405.2,728.5L1404,725.6L1403.1,722.8L1402.3,720L1401.8,717.3L1401.5,714.5L1401.5,711.6L1401.7,709L1402.2,706.4L1402.8,703.7L1403.6,701.1L1404.6,698.7L1406.2,696L1408.1,693.5L1410.2,691.3L1412.5,689.2L1414.5,687.7L1416.6,686.3L1418.8,685L1421.1,683.8L1423.6,682.8L1426.2,681.8L1429,681L1432,680.4L1434.9,679.8L1437.8,679.3L1440.8,678.9L1444.1,678.6L1447.3,678.5L1450,678.4L1451.9,678.3Z"/></clipPath><radialGradient id="bg1" cx="0.45" cy="0.40" r="0.70"><stop offset="0" stop-color="#faf8f8"/><stop offset="0.6" stop-color="#ebe6e6"/><stop offset="0.88" stop-color="#bdb5b5"/><stop offset="1" stop-color="#8a8484"/></radialGradient><filter id="bf1" x="-30%" y="-30%" width="160%" height="160%"><feGaussianBlur stdDeviation="7.2"/></filter><filter id="bs1" x="-30%" y="-30%" width="160%" height="160%"><feGaussianBlur stdDeviation="2.9"/></filter></defs>
<g clip-path="url(#bc1)">
<path d="M1451.9,678.3L1453.7,678.4L1456,678.7L1458.8,679L1461.8,679.3L1464.9,679.8L1467.7,680.4L1470.3,681.2L1472.9,682.1L1475.5,683.2L1478.1,684.3L1480.8,685.5L1483.4,686.7L1485.7,687.9L1488,689L1490.3,690.2L1492.6,691.5L1494.8,692.8L1497.1,694.2L1499.3,695.6L1501.4,697.1L1503.5,698.6L1505.6,700.2L1507.7,701.8L1509.7,703.4L1511.6,705.1L1513.4,706.8L1515.5,708.8L1517.5,710.9L1519.4,713L1521.2,715.1L1522.9,717.3L1524.3,719.5L1525.6,721.9L1526.8,724.3L1527.7,726.7L1528.6,729.2L1529.3,731.6L1529.9,733.9L1530.5,736.6L1531,739.1L1531.2,741.7L1531.4,744.1L1531.5,746.7L1531.6,749.2L1531.5,751.7L1531.4,754.2L1531.2,756.8L1530.7,759.5L1530.2,762L1529.6,764.7L1528.8,767.4L1528,770.2L1527.1,772.9L1526,775.5L1524.9,778L1523.8,780.5L1522.5,783L1521.1,785.4L1519.6,787.7L1518.1,789.9L1516.5,791.9L1514.7,793.8L1512.9,795.6L1511,797.2L1509,798.8L1507.1,800.2L1504.6,801.7L1502.1,803.1L1499.5,804.3L1496.9,805.2L1494.5,805.8L1491.6,806.2L1488.9,806.1L1486.2,805.7L1483.4,805.1L1481,804.2L1478.6,803.1L1476.1,801.9L1473.5,800.6L1470.8,799.4L1468.3,798.4L1465.6,797.4L1462.8,796.5L1460.1,795.5L1457.4,794.6L1455.1,793.7L1451.9,792.7L1449,791.9L1446.4,791L1444,789.9L1441.9,788.5L1440,787L1438.2,785.3L1436.2,783.5L1434.4,781.7L1432.6,779.7L1430.7,777.7L1428.7,775.7L1426.7,773.8L1424.5,772.1L1422.1,770.5L1419.7,768.9L1417.5,767.4L1415.7,765.8L1413.5,763.2L1412,760.5L1411,757.9L1410.3,755.1L1410.1,752.4L1410.2,749.9L1411.6,746.8L1412.5,743.5L1411.8,741.3L1410.6,739L1409.1,736.5L1407.7,733.9L1406.5,731.3L1405.2,728.5L1404,725.6L1403.1,722.8L1402.3,720L1401.8,717.3L1401.5,714.5L1401.5,711.6L1401.7,709L1402.2,706.4L1402.8,703.7L1403.6,701.1L1404.6,698.7L1406.2,696L1408.1,693.5L1410.2,691.3L1412.5,689.2L1414.5,687.7L1416.6,686.3L1418.8,685L1421.1,683.8L1423.6,682.8L1426.2,681.8L1429,681L1432,680.4L1434.9,679.8L1437.8,679.3L1440.8,678.9L1444.1,678.6L1447.3,678.5L1450,678.4L1451.9,678.3Z" fill="url(#bg1)"/>
<ellipse cx="1447" cy="723" rx="65" ry="51.4" fill="#ecd0d0" opacity="0.7" filter="url(#bf1)" transform="rotate(0 1447 723)"/>
<ellipse cx="1473.7" cy="730.7" rx="24.7" ry="16.7" fill="#c2c0ee" opacity="0.95" filter="url(#bf1)" transform="rotate(25 1473.7 730.7)"/>
<polygon points="1538,741 1515.9,743.6 1509.4,762.9 1486.5,769.7 1466.9,794.3 1479.5,813 1538,813" fill="#dc141c" filter="url(#bs1)"/>
<ellipse cx="1526.3" cy="757.7" rx="6.5" ry="18" fill="#a01018" opacity="1" filter="url(#bs1)" transform="rotate(0 1526.3 757.7)"/>
<rect x="1399.5" y="676" width="134" height="132.6" filter="url(#mott)"/>
<rect x="1399.5" y="676" width="134" height="132.6" filter="url(#sulc)" opacity="0.92"/>
<path d="M1440.5,681.9 Q1495.1,698.6 1525,744.9" fill="none" stroke="#1a1616" stroke-width="3.1" opacity="0.85"/>
<path d="M1451.9,678.3L1453.7,678.4L1456,678.7L1458.8,679L1461.8,679.3L1464.9,679.8L1467.7,680.4L1470.3,681.2L1472.9,682.1L1475.5,683.2L1478.1,684.3L1480.8,685.5L1483.4,686.7L1485.7,687.9L1488,689L1490.3,690.2L1492.6,691.5L1494.8,692.8L1497.1,694.2L1499.3,695.6L1501.4,697.1L1503.5,698.6L1505.6,700.2L1507.7,701.8L1509.7,703.4L1511.6,705.1L1513.4,706.8L1515.5,708.8L1517.5,710.9L1519.4,713L1521.2,715.1L1522.9,717.3L1524.3,719.5L1525.6,721.9L1526.8,724.3L1527.7,726.7L1528.6,729.2L1529.3,731.6L1529.9,733.9L1530.5,736.6L1531,739.1L1531.2,741.7L1531.4,744.1L1531.5,746.7L1531.6,749.2L1531.5,751.7L1531.4,754.2L1531.2,756.8L1530.7,759.5L1530.2,762L1529.6,764.7L1528.8,767.4L1528,770.2L1527.1,772.9L1526,775.5L1524.9,778L1523.8,780.5L1522.5,783L1521.1,785.4L1519.6,787.7L1518.1,789.9L1516.5,791.9L1514.7,793.8L1512.9,795.6L1511,797.2L1509,798.8L1507.1,800.2L1504.6,801.7L1502.1,803.1L1499.5,804.3L1496.9,805.2L1494.5,805.8L1491.6,806.2L1488.9,806.1L1486.2,805.7L1483.4,805.1L1481,804.2L1478.6,803.1L1476.1,801.9L1473.5,800.6L1470.8,799.4L1468.3,798.4L1465.6,797.4L1462.8,796.5L1460.1,795.5L1457.4,794.6L1455.1,793.7L1451.9,792.7L1449,791.9L1446.4,791L1444,789.9L1441.9,788.5L1440,787L1438.2,785.3L1436.2,783.5L1434.4,781.7L1432.6,779.7L1430.7,777.7L1428.7,775.7L1426.7,773.8L1424.5,772.1L1422.1,770.5L1419.7,768.9L1417.5,767.4L1415.7,765.8L1413.5,763.2L1412,760.5L1411,757.9L1410.3,755.1L1410.1,752.4L1410.2,749.9L1411.6,746.8L1412.5,743.5L1411.8,741.3L1410.6,739L1409.1,736.5L1407.7,733.9L1406.5,731.3L1405.2,728.5L1404,725.6L1403.1,722.8L1402.3,720L1401.8,717.3L1401.5,714.5L1401.5,711.6L1401.7,709L1402.2,706.4L1402.8,703.7L1403.6,701.1L1404.6,698.7L1406.2,696L1408.1,693.5L1410.2,691.3L1412.5,689.2L1414.5,687.7L1416.6,686.3L1418.8,685L1421.1,683.8L1423.6,682.8L1426.2,681.8L1429,681L1432,680.4L1434.9,679.8L1437.8,679.3L1440.8,678.9L1444.1,678.6L1447.3,678.5L1450,678.4L1451.9,678.3Z" fill="none" stroke="#2a2424" stroke-width="13" opacity="0.5" filter="url(#bf1)"/>
<path d="M1451.9,678.3L1453.7,678.4L1456,678.7L1458.8,679L1461.8,679.3L1464.9,679.8L1467.7,680.4L1470.3,681.2L1472.9,682.1L1475.5,683.2L1478.1,684.3L1480.8,685.5L1483.4,686.7L1485.7,687.9L1488,689L1490.3,690.2L1492.6,691.5L1494.8,692.8L1497.1,694.2L1499.3,695.6L1501.4,697.1L1503.5,698.6L1505.6,700.2L1507.7,701.8L1509.7,703.4L1511.6,705.1L1513.4,706.8L1515.5,708.8L1517.5,710.9L1519.4,713L1521.2,715.1L1522.9,717.3L1524.3,719.5L1525.6,721.9L1526.8,724.3L1527.7,726.7L1528.6,729.2L1529.3,731.6L1529.9,733.9L1530.5,736.6L1531,739.1L1531.2,741.7L1531.4,744.1L1531.5,746.7L1531.6,749.2L1531.5,751.7L1531.4,754.2L1531.2,756.8L1530.7,759.5L1530.2,762L1529.6,764.7L1528.8,767.4L1528,770.2L1527.1,772.9L1526,775.5L1524.9,778L1523.8,780.5L1522.5,783L1521.1,785.4L1519.6,787.7L1518.1,789.9L1516.5,791.9L1514.7,793.8L1512.9,795.6L1511,797.2L1509,798.8L1507.1,800.2L1504.6,801.7L1502.1,803.1L1499.5,804.3L1496.9,805.2L1494.5,805.8L1491.6,806.2L1488.9,806.1L1486.2,805.7L1483.4,805.1L1481,804.2L1478.6,803.1L1476.1,801.9L1473.5,800.6L1470.8,799.4L1468.3,798.4L1465.6,797.4L1462.8,796.5L1460.1,795.5L1457.4,794.6L1455.1,793.7L1451.9,792.7L1449,791.9L1446.4,791L1444,789.9L1441.9,788.5L1440,787L1438.2,785.3L1436.2,783.5L1434.4,781.7L1432.6,779.7L1430.7,777.7L1428.7,775.7L1426.7,773.8L1424.5,772.1L1422.1,770.5L1419.7,768.9L1417.5,767.4L1415.7,765.8L1413.5,763.2L1412,760.5L1411,757.9L1410.3,755.1L1410.1,752.4L1410.2,749.9L1411.6,746.8L1412.5,743.5L1411.8,741.3L1410.6,739L1409.1,736.5L1407.7,733.9L1406.5,731.3L1405.2,728.5L1404,725.6L1403.1,722.8L1402.3,720L1401.8,717.3L1401.5,714.5L1401.5,711.6L1401.7,709L1402.2,706.4L1402.8,703.7L1403.6,701.1L1404.6,698.7L1406.2,696L1408.1,693.5L1410.2,691.3L1412.5,689.2L1414.5,687.7L1416.6,686.3L1418.8,685L1421.1,683.8L1423.6,682.8L1426.2,681.8L1429,681L1432,680.4L1434.9,679.8L1437.8,679.3L1440.8,678.9L1444.1,678.6L1447.3,678.5L1450,678.4L1451.9,678.3Z" fill="none" stroke="#1a1414" stroke-width="6.5" opacity="0.55" filter="url(#bs1)"/>
</g>
<defs><clipPath id="bc2"><path d="M1590.4,672.4L1592,672.2L1594.3,671.7L1597,671.3L1600,670.9L1602.9,670.9L1605.7,671.3L1608,672L1610.4,673L1612.8,674.3L1615.2,675.7L1617.6,677.2L1619.8,678.9L1621.8,680.6L1623.7,682.4L1625.4,684.4L1627,686.4L1628.5,688.6L1630,690.8L1631.3,693L1632.6,695.1L1633.9,697.4L1635,699.6L1636.1,701.9L1637,704.2L1637.9,706.7L1638.9,709.4L1639.6,711.6L1640.4,714L1641.1,716.5L1641.8,719.1L1642.5,721.7L1643.2,724.3L1643.8,726.9L1644.3,729.5L1644.9,732.3L1645.5,735L1646,737.8L1646.4,740.6L1646.7,743.3L1646.9,746.2L1647,749.1L1647,751.7L1646.8,754.4L1646.6,757.1L1646.3,759.9L1646,762.7L1645.5,765.4L1645,768.1L1644.3,770.7L1643.6,773.3L1642.8,775.9L1642,778.4L1641,780.9L1640,783.4L1638.8,785.8L1637.6,788.2L1636.2,790.5L1634.7,792.8L1633.1,795L1631.4,797.3L1629.5,799.5L1627.6,801.6L1625.7,803.5L1623.7,805.3L1621.8,806.8L1619.2,808.6L1616.5,810.2L1613.7,811.4L1610.9,812.4L1608.3,813.1L1605.7,813.6L1602.8,813.5L1600.1,812.7L1597.5,811.7L1594.8,810.8L1592.2,810.4L1589.5,810.8L1587,811.7L1584.4,812.7L1581.7,813.5L1578.7,813.6L1576.4,813.2L1573.8,812.6L1571.2,811.9L1568.4,810.9L1565.8,809.7L1563.2,808.4L1560.8,806.8L1558.7,805.3L1556.8,803.5L1554.8,801.6L1553,799.5L1551.2,797.3L1549.5,795L1547.9,792.8L1546.4,790.5L1545.1,788.2L1543.8,785.8L1542.7,783.4L1541.6,780.9L1540.7,778.4L1539.8,775.9L1539,773.3L1538.3,770.7L1537.7,768.1L1537.2,765.4L1536.8,762.7L1536.5,759.9L1536.3,757.1L1536.1,754.4L1536,751.7L1536,749.1L1536.1,746.2L1536.3,743.3L1536.6,740.6L1536.9,737.8L1537.4,735L1537.8,732.3L1538.3,729.5L1538.8,726.9L1539.2,724.3L1539.8,721.7L1540.3,719.1L1540.9,716.5L1541.5,714L1542.1,711.6L1542.8,709.4L1543.7,706.7L1544.6,704.2L1545.5,701.9L1546.6,699.6L1547.8,697.4L1549.1,695.1L1550.4,693L1551.7,690.8L1553.2,688.6L1554.7,686.4L1556.3,684.4L1558,682.4L1559.9,680.6L1561.8,678.9L1563.9,677.2L1566.1,675.7L1568.4,674.3L1570.7,673L1573,672L1575.2,671.3L1577.9,670.9L1580.8,670.9L1583.7,671.3L1586.5,671.7L1588.7,672.2L1590.4,672.4Z"/></clipPath><radialGradient id="bg2" cx="0.5" cy="0.45" r="0.62"><stop offset="0" stop-color="#faf8f8"/><stop offset="0.6" stop-color="#ebe6e6"/><stop offset="0.88" stop-color="#bdb5b5"/><stop offset="1" stop-color="#8a8484"/></radialGradient><filter id="bf2" x="-30%" y="-30%" width="160%" height="160%"><feGaussianBlur stdDeviation="6.1"/></filter><filter id="bs2" x="-30%" y="-30%" width="160%" height="160%"><feGaussianBlur stdDeviation="2.4"/></filter></defs>
<g clip-path="url(#bc2)">
<path d="M1590.4,672.4L1592,672.2L1594.3,671.7L1597,671.3L1600,670.9L1602.9,670.9L1605.7,671.3L1608,672L1610.4,673L1612.8,674.3L1615.2,675.7L1617.6,677.2L1619.8,678.9L1621.8,680.6L1623.7,682.4L1625.4,684.4L1627,686.4L1628.5,688.6L1630,690.8L1631.3,693L1632.6,695.1L1633.9,697.4L1635,699.6L1636.1,701.9L1637,704.2L1637.9,706.7L1638.9,709.4L1639.6,711.6L1640.4,714L1641.1,716.5L1641.8,719.1L1642.5,721.7L1643.2,724.3L1643.8,726.9L1644.3,729.5L1644.9,732.3L1645.5,735L1646,737.8L1646.4,740.6L1646.7,743.3L1646.9,746.2L1647,749.1L1647,751.7L1646.8,754.4L1646.6,757.1L1646.3,759.9L1646,762.7L1645.5,765.4L1645,768.1L1644.3,770.7L1643.6,773.3L1642.8,775.9L1642,778.4L1641,780.9L1640,783.4L1638.8,785.8L1637.6,788.2L1636.2,790.5L1634.7,792.8L1633.1,795L1631.4,797.3L1629.5,799.5L1627.6,801.6L1625.7,803.5L1623.7,805.3L1621.8,806.8L1619.2,808.6L1616.5,810.2L1613.7,811.4L1610.9,812.4L1608.3,813.1L1605.7,813.6L1602.8,813.5L1600.1,812.7L1597.5,811.7L1594.8,810.8L1592.2,810.4L1589.5,810.8L1587,811.7L1584.4,812.7L1581.7,813.5L1578.7,813.6L1576.4,813.2L1573.8,812.6L1571.2,811.9L1568.4,810.9L1565.8,809.7L1563.2,808.4L1560.8,806.8L1558.7,805.3L1556.8,803.5L1554.8,801.6L1553,799.5L1551.2,797.3L1549.5,795L1547.9,792.8L1546.4,790.5L1545.1,788.2L1543.8,785.8L1542.7,783.4L1541.6,780.9L1540.7,778.4L1539.8,775.9L1539,773.3L1538.3,770.7L1537.7,768.1L1537.2,765.4L1536.8,762.7L1536.5,759.9L1536.3,757.1L1536.1,754.4L1536,751.7L1536,749.1L1536.1,746.2L1536.3,743.3L1536.6,740.6L1536.9,737.8L1537.4,735L1537.8,732.3L1538.3,729.5L1538.8,726.9L1539.2,724.3L1539.8,721.7L1540.3,719.1L1540.9,716.5L1541.5,714L1542.1,711.6L1542.8,709.4L1543.7,706.7L1544.6,704.2L1545.5,701.9L1546.6,699.6L1547.8,697.4L1549.1,695.1L1550.4,693L1551.7,690.8L1553.2,688.6L1554.7,686.4L1556.3,684.4L1558,682.4L1559.9,680.6L1561.8,678.9L1563.9,677.2L1566.1,675.7L1568.4,674.3L1570.7,673L1573,672L1575.2,671.3L1577.9,670.9L1580.8,670.9L1583.7,671.3L1586.5,671.7L1588.7,672.2L1590.4,672.4Z" fill="url(#bg2)"/>
<ellipse cx="1591.5" cy="735.2" rx="66.6" ry="57.3" fill="#eed4d4" opacity="0.7" filter="url(#bf2)" transform="rotate(0 1591.5 735.2)"/>
<polygon points="1547.1,793.9 1558.2,785.3 1569.3,782.5 1576,775.3 1607,775.3 1613.7,782.5 1624.8,785.3 1635.9,793.9 1647,821.2 1536,821.2" fill="#dc141c" filter="url(#bs2)"/>
<rect x="1534" y="668.7" width="115" height="147.3" filter="url(#mott)"/>
<rect x="1534" y="668.7" width="115" height="147.3" filter="url(#sulc)" opacity="0.92"/>
<line x1="1590.9" y1="670.7" x2="1590.9" y2="713.7" stroke="#1a1616" stroke-width="3.3" opacity="0.85"/>
<line x1="1591.5" y1="785.3" x2="1591.5" y2="814" stroke="#4a0c0c" stroke-width="2.8" opacity="0.7"/>
<path d="M1590.4,672.4L1592,672.2L1594.3,671.7L1597,671.3L1600,670.9L1602.9,670.9L1605.7,671.3L1608,672L1610.4,673L1612.8,674.3L1615.2,675.7L1617.6,677.2L1619.8,678.9L1621.8,680.6L1623.7,682.4L1625.4,684.4L1627,686.4L1628.5,688.6L1630,690.8L1631.3,693L1632.6,695.1L1633.9,697.4L1635,699.6L1636.1,701.9L1637,704.2L1637.9,706.7L1638.9,709.4L1639.6,711.6L1640.4,714L1641.1,716.5L1641.8,719.1L1642.5,721.7L1643.2,724.3L1643.8,726.9L1644.3,729.5L1644.9,732.3L1645.5,735L1646,737.8L1646.4,740.6L1646.7,743.3L1646.9,746.2L1647,749.1L1647,751.7L1646.8,754.4L1646.6,757.1L1646.3,759.9L1646,762.7L1645.5,765.4L1645,768.1L1644.3,770.7L1643.6,773.3L1642.8,775.9L1642,778.4L1641,780.9L1640,783.4L1638.8,785.8L1637.6,788.2L1636.2,790.5L1634.7,792.8L1633.1,795L1631.4,797.3L1629.5,799.5L1627.6,801.6L1625.7,803.5L1623.7,805.3L1621.8,806.8L1619.2,808.6L1616.5,810.2L1613.7,811.4L1610.9,812.4L1608.3,813.1L1605.7,813.6L1602.8,813.5L1600.1,812.7L1597.5,811.7L1594.8,810.8L1592.2,810.4L1589.5,810.8L1587,811.7L1584.4,812.7L1581.7,813.5L1578.7,813.6L1576.4,813.2L1573.8,812.6L1571.2,811.9L1568.4,810.9L1565.8,809.7L1563.2,808.4L1560.8,806.8L1558.7,805.3L1556.8,803.5L1554.8,801.6L1553,799.5L1551.2,797.3L1549.5,795L1547.9,792.8L1546.4,790.5L1545.1,788.2L1543.8,785.8L1542.7,783.4L1541.6,780.9L1540.7,778.4L1539.8,775.9L1539,773.3L1538.3,770.7L1537.7,768.1L1537.2,765.4L1536.8,762.7L1536.5,759.9L1536.3,757.1L1536.1,754.4L1536,751.7L1536,749.1L1536.1,746.2L1536.3,743.3L1536.6,740.6L1536.9,737.8L1537.4,735L1537.8,732.3L1538.3,729.5L1538.8,726.9L1539.2,724.3L1539.8,721.7L1540.3,719.1L1540.9,716.5L1541.5,714L1542.1,711.6L1542.8,709.4L1543.7,706.7L1544.6,704.2L1545.5,701.9L1546.6,699.6L1547.8,697.4L1549.1,695.1L1550.4,693L1551.7,690.8L1553.2,688.6L1554.7,686.4L1556.3,684.4L1558,682.4L1559.9,680.6L1561.8,678.9L1563.9,677.2L1566.1,675.7L1568.4,674.3L1570.7,673L1573,672L1575.2,671.3L1577.9,670.9L1580.8,670.9L1583.7,671.3L1586.5,671.7L1588.7,672.2L1590.4,672.4Z" fill="none" stroke="#2a2424" stroke-width="11.1" opacity="0.5" filter="url(#bf2)"/>
<path d="M1590.4,672.4L1592,672.2L1594.3,671.7L1597,671.3L1600,670.9L1602.9,670.9L1605.7,671.3L1608,672L1610.4,673L1612.8,674.3L1615.2,675.7L1617.6,677.2L1619.8,678.9L1621.8,680.6L1623.7,682.4L1625.4,684.4L1627,686.4L1628.5,688.6L1630,690.8L1631.3,693L1632.6,695.1L1633.9,697.4L1635,699.6L1636.1,701.9L1637,704.2L1637.9,706.7L1638.9,709.4L1639.6,711.6L1640.4,714L1641.1,716.5L1641.8,719.1L1642.5,721.7L1643.2,724.3L1643.8,726.9L1644.3,729.5L1644.9,732.3L1645.5,735L1646,737.8L1646.4,740.6L1646.7,743.3L1646.9,746.2L1647,749.1L1647,751.7L1646.8,754.4L1646.6,757.1L1646.3,759.9L1646,762.7L1645.5,765.4L1645,768.1L1644.3,770.7L1643.6,773.3L1642.8,775.9L1642,778.4L1641,780.9L1640,783.4L1638.8,785.8L1637.6,788.2L1636.2,790.5L1634.7,792.8L1633.1,795L1631.4,797.3L1629.5,799.5L1627.6,801.6L1625.7,803.5L1623.7,805.3L1621.8,806.8L1619.2,808.6L1616.5,810.2L1613.7,811.4L1610.9,812.4L1608.3,813.1L1605.7,813.6L1602.8,813.5L1600.1,812.7L1597.5,811.7L1594.8,810.8L1592.2,810.4L1589.5,810.8L1587,811.7L1584.4,812.7L1581.7,813.5L1578.7,813.6L1576.4,813.2L1573.8,812.6L1571.2,811.9L1568.4,810.9L1565.8,809.7L1563.2,808.4L1560.8,806.8L1558.7,805.3L1556.8,803.5L1554.8,801.6L1553,799.5L1551.2,797.3L1549.5,795L1547.9,792.8L1546.4,790.5L1545.1,788.2L1543.8,785.8L1542.7,783.4L1541.6,780.9L1540.7,778.4L1539.8,775.9L1539,773.3L1538.3,770.7L1537.7,768.1L1537.2,765.4L1536.8,762.7L1536.5,759.9L1536.3,757.1L1536.1,754.4L1536,751.7L1536,749.1L1536.1,746.2L1536.3,743.3L1536.6,740.6L1536.9,737.8L1537.4,735L1537.8,732.3L1538.3,729.5L1538.8,726.9L1539.2,724.3L1539.8,721.7L1540.3,719.1L1540.9,716.5L1541.5,714L1542.1,711.6L1542.8,709.4L1543.7,706.7L1544.6,704.2L1545.5,701.9L1546.6,699.6L1547.8,697.4L1549.1,695.1L1550.4,693L1551.7,690.8L1553.2,688.6L1554.7,686.4L1556.3,684.4L1558,682.4L1559.9,680.6L1561.8,678.9L1563.9,677.2L1566.1,675.7L1568.4,674.3L1570.7,673L1573,672L1575.2,671.3L1577.9,670.9L1580.8,670.9L1583.7,671.3L1586.5,671.7L1588.7,672.2L1590.4,672.4Z" fill="none" stroke="#1a1414" stroke-width="5.6" opacity="0.55" filter="url(#bs2)"/>
<ellipse cx="1591.1" cy="745.2" rx="18" ry="37.5" fill="#3b3b3b"/>
<ellipse cx="1591.5" cy="756.7" rx="13.3" ry="22.9" fill="#454545" opacity="0.6"/>
</g>
<rect x="1456" y="827" width="135.5" height="11.5" fill="url(#cbh)" stroke="#231f20" stroke-width="1.8"/>
<text x="1451" y="840" font-size="20" text-anchor="end">-0.32</text>
<text x="1596.5" y="840" font-size="20">0.32</text>
<text x="1524.7" y="862.2" font-size="20" text-anchor="middle">correlation (r)</text>
<text x="1716" y="650.5" font-size="28" text-anchor="middle" transform="rotate(-90 1716 650.5)">Gamma</text>
<text x="1744.5" y="650.5" font-size="28" text-anchor="middle" transform="rotate(-90 1744.5 650.5)">(25-50Hz)</text>
<defs><clipPath id="bc3"><path d="M1809.5,593.2L1811.4,593.4L1814.2,593.7L1817.4,594L1820.7,594.5L1823.8,595.2L1826.1,595.9L1828.5,596.7L1830.9,597.6L1833.3,598.6L1835.7,599.7L1838.1,600.8L1840.5,602L1842.9,603.2L1845.4,604.5L1847.8,605.9L1850.2,607.3L1852.5,608.8L1854.8,610.3L1857,611.9L1859.2,613.6L1861.4,615.3L1863.4,617L1865.4,618.8L1867.3,620.6L1869.1,622.4L1870.8,624.3L1872.5,626.2L1874,628.2L1875.3,630.2L1876.7,632.7L1877.9,635.3L1878.8,638L1879.7,640.6L1880.4,643.1L1881,646.1L1881.5,648.9L1881.7,651.7L1881.8,654.5L1881.9,657.3L1881.8,660.1L1881.6,663L1881.1,666L1880.5,668.7L1879.8,671.6L1878.9,674.6L1877.9,677.5L1876.8,680.3L1875.6,683L1874.3,685.8L1872.9,688.4L1871.3,690.9L1869.6,693.2L1867.8,695.4L1865.9,697.4L1863.8,699.2L1861.7,700.9L1859.6,702.4L1857.4,703.8L1855,705L1852.7,706.1L1850.3,706.9L1848.1,707.5L1845.5,707.8L1843.1,707.8L1840.6,707.4L1838.1,706.8L1835.9,706.1L1833.7,705.1L1831.5,704L1829.1,702.8L1826.6,701.7L1824.3,700.9L1821.9,700L1819.4,699.1L1816.9,698.3L1814.5,697.4L1812.3,696.7L1809.4,695.8L1806.8,695L1804.5,694.2L1802.3,693.2L1799.7,691.6L1797.5,689.7L1795.2,687.5L1793.1,685.5L1791,683.2L1788.8,680.9L1786.5,678.8L1784,676.9L1781.2,675.2L1778.6,673.4L1776.5,671.7L1774.5,669.3L1773.2,666.9L1772.2,664.5L1771.5,660.9L1771.5,657.4L1772.8,654.6L1773.6,651.6L1772.7,649.1L1771,646.2L1769.3,643.1L1768.1,640.7L1767,638.2L1765.9,635.6L1765,633.1L1764.4,630.6L1763.9,628.2L1763.6,625.7L1763.6,623.1L1763.9,620.2L1764.5,617.2L1765.3,614.3L1766.4,611.5L1767.9,609.1L1769.6,606.9L1771.5,604.9L1773.6,603L1775.9,601.3L1778.3,599.8L1780.9,598.5L1783.7,597.3L1786.1,596.4L1788.6,595.7L1791.3,595.1L1794,594.6L1796.6,594.2L1799.4,593.8L1802.3,593.6L1805.2,593.4L1807.7,593.3L1809.5,593.2Z"/></clipPath><radialGradient id="bg3" cx="0.45" cy="0.40" r="0.70"><stop offset="0" stop-color="#faf8f8"/><stop offset="0.6" stop-color="#ebe6e6"/><stop offset="0.88" stop-color="#bdb5b5"/><stop offset="1" stop-color="#8a8484"/></radialGradient><filter id="bf3" x="-30%" y="-30%" width="160%" height="160%"><feGaussianBlur stdDeviation="6.5"/></filter><filter id="bs3" x="-30%" y="-30%" width="160%" height="160%"><feGaussianBlur stdDeviation="2.6"/></filter></defs>
<g clip-path="url(#bc3)">
<path d="M1809.5,593.2L1811.4,593.4L1814.2,593.7L1817.4,594L1820.7,594.5L1823.8,595.2L1826.1,595.9L1828.5,596.7L1830.9,597.6L1833.3,598.6L1835.7,599.7L1838.1,600.8L1840.5,602L1842.9,603.2L1845.4,604.5L1847.8,605.9L1850.2,607.3L1852.5,608.8L1854.8,610.3L1857,611.9L1859.2,613.6L1861.4,615.3L1863.4,617L1865.4,618.8L1867.3,620.6L1869.1,622.4L1870.8,624.3L1872.5,626.2L1874,628.2L1875.3,630.2L1876.7,632.7L1877.9,635.3L1878.8,638L1879.7,640.6L1880.4,643.1L1881,646.1L1881.5,648.9L1881.7,651.7L1881.8,654.5L1881.9,657.3L1881.8,660.1L1881.6,663L1881.1,666L1880.5,668.7L1879.8,671.6L1878.9,674.6L1877.9,677.5L1876.8,680.3L1875.6,683L1874.3,685.8L1872.9,688.4L1871.3,690.9L1869.6,693.2L1867.8,695.4L1865.9,697.4L1863.8,699.2L1861.7,700.9L1859.6,702.4L1857.4,703.8L1855,705L1852.7,706.1L1850.3,706.9L1848.1,707.5L1845.5,707.8L1843.1,707.8L1840.6,707.4L1838.1,706.8L1835.9,706.1L1833.7,705.1L1831.5,704L1829.1,702.8L1826.6,701.7L1824.3,700.9L1821.9,700L1819.4,699.1L1816.9,698.3L1814.5,697.4L1812.3,696.7L1809.4,695.8L1806.8,695L1804.5,694.2L1802.3,693.2L1799.7,691.6L1797.5,689.7L1795.2,687.5L1793.1,685.5L1791,683.2L1788.8,680.9L1786.5,678.8L1784,676.9L1781.2,675.2L1778.6,673.4L1776.5,671.7L1774.5,669.3L1773.2,666.9L1772.2,664.5L1771.5,660.9L1771.5,657.4L1772.8,654.6L1773.6,651.6L1772.7,649.1L1771,646.2L1769.3,643.1L1768.1,640.7L1767,638.2L1765.9,635.6L1765,633.1L1764.4,630.6L1763.9,628.2L1763.6,625.7L1763.6,623.1L1763.9,620.2L1764.5,617.2L1765.3,614.3L1766.4,611.5L1767.9,609.1L1769.6,606.9L1771.5,604.9L1773.6,603L1775.9,601.3L1778.3,599.8L1780.9,598.5L1783.7,597.3L1786.1,596.4L1788.6,595.7L1791.3,595.1L1794,594.6L1796.6,594.2L1799.4,593.8L1802.3,593.6L1805.2,593.4L1807.7,593.3L1809.5,593.2Z" fill="url(#bg3)"/>
<ellipse cx="1796.7" cy="627.6" rx="21.3" ry="18.4" fill="#ecc0c0" opacity="0.7" filter="url(#bf3)" transform="rotate(0 1796.7 627.6)"/>
<ellipse cx="1822.7" cy="641.4" rx="33.1" ry="23" fill="#ffffff" opacity="0.85" filter="url(#bf3)" transform="rotate(30 1822.7 641.4)"/>
<ellipse cx="1813.2" cy="688.6" rx="26" ry="11.5" fill="#e88888" opacity="0.9" filter="url(#bf3)" transform="rotate(25 1813.2 688.6)"/>
<ellipse cx="1862.9" cy="673.6" rx="23.6" ry="34.6" fill="#e01820" opacity="1" filter="url(#bs3)" transform="rotate(20 1862.9 673.6)"/>
<ellipse cx="1844" cy="696.7" rx="28.4" ry="16.1" fill="#e01c24" opacity="1" filter="url(#bs3)" transform="rotate(10 1844 696.7)"/>
<ellipse cx="1878.3" cy="656.4" rx="7.1" ry="23" fill="#b01018" opacity="1" filter="url(#bs3)" transform="rotate(0 1878.3 656.4)"/>
<rect x="1761.6" y="591" width="122.2" height="119.2" filter="url(#mott)"/>
<rect x="1761.6" y="591" width="122.2" height="119.2" filter="url(#sulc)" opacity="0.92"/>
<path d="M1799.1,596.5 Q1848.7,611.4 1875.9,652.9" fill="none" stroke="#1a1616" stroke-width="2.8" opacity="0.85"/>
<path d="M1809.5,593.2L1811.4,593.4L1814.2,593.7L1817.4,594L1820.7,594.5L1823.8,595.2L1826.1,595.9L1828.5,596.7L1830.9,597.6L1833.3,598.6L1835.7,599.7L1838.1,600.8L1840.5,602L1842.9,603.2L1845.4,604.5L1847.8,605.9L1850.2,607.3L1852.5,608.8L1854.8,610.3L1857,611.9L1859.2,613.6L1861.4,615.3L1863.4,617L1865.4,618.8L1867.3,620.6L1869.1,622.4L1870.8,624.3L1872.5,626.2L1874,628.2L1875.3,630.2L1876.7,632.7L1877.9,635.3L1878.8,638L1879.7,640.6L1880.4,643.1L1881,646.1L1881.5,648.9L1881.7,651.7L1881.8,654.5L1881.9,657.3L1881.8,660.1L1881.6,663L1881.1,666L1880.5,668.7L1879.8,671.6L1878.9,674.6L1877.9,677.5L1876.8,680.3L1875.6,683L1874.3,685.8L1872.9,688.4L1871.3,690.9L1869.6,693.2L1867.8,695.4L1865.9,697.4L1863.8,699.2L1861.7,700.9L1859.6,702.4L1857.4,703.8L1855,705L1852.7,706.1L1850.3,706.9L1848.1,707.5L1845.5,707.8L1843.1,707.8L1840.6,707.4L1838.1,706.8L1835.9,706.1L1833.7,705.1L1831.5,704L1829.1,702.8L1826.6,701.7L1824.3,700.9L1821.9,700L1819.4,699.1L1816.9,698.3L1814.5,697.4L1812.3,696.7L1809.4,695.8L1806.8,695L1804.5,694.2L1802.3,693.2L1799.7,691.6L1797.5,689.7L1795.2,687.5L1793.1,685.5L1791,683.2L1788.8,680.9L1786.5,678.8L1784,676.9L1781.2,675.2L1778.6,673.4L1776.5,671.7L1774.5,669.3L1773.2,666.9L1772.2,664.5L1771.5,660.9L1771.5,657.4L1772.8,654.6L1773.6,651.6L1772.7,649.1L1771,646.2L1769.3,643.1L1768.1,640.7L1767,638.2L1765.9,635.6L1765,633.1L1764.4,630.6L1763.9,628.2L1763.6,625.7L1763.6,623.1L1763.9,620.2L1764.5,617.2L1765.3,614.3L1766.4,611.5L1767.9,609.1L1769.6,606.9L1771.5,604.9L1773.6,603L1775.9,601.3L1778.3,599.8L1780.9,598.5L1783.7,597.3L1786.1,596.4L1788.6,595.7L1791.3,595.1L1794,594.6L1796.6,594.2L1799.4,593.8L1802.3,593.6L1805.2,593.4L1807.7,593.3L1809.5,593.2Z" fill="none" stroke="#2a2424" stroke-width="11.8" opacity="0.5" filter="url(#bf3)"/>
<path d="M1809.5,593.2L1811.4,593.4L1814.2,593.7L1817.4,594L1820.7,594.5L1823.8,595.2L1826.1,595.9L1828.5,596.7L1830.9,597.6L1833.3,598.6L1835.7,599.7L1838.1,600.8L1840.5,602L1842.9,603.2L1845.4,604.5L1847.8,605.9L1850.2,607.3L1852.5,608.8L1854.8,610.3L1857,611.9L1859.2,613.6L1861.4,615.3L1863.4,617L1865.4,618.8L1867.3,620.6L1869.1,622.4L1870.8,624.3L1872.5,626.2L1874,628.2L1875.3,630.2L1876.7,632.7L1877.9,635.3L1878.8,638L1879.7,640.6L1880.4,643.1L1881,646.1L1881.5,648.9L1881.7,651.7L1881.8,654.5L1881.9,657.3L1881.8,660.1L1881.6,663L1881.1,666L1880.5,668.7L1879.8,671.6L1878.9,674.6L1877.9,677.5L1876.8,680.3L1875.6,683L1874.3,685.8L1872.9,688.4L1871.3,690.9L1869.6,693.2L1867.8,695.4L1865.9,697.4L1863.8,699.2L1861.7,700.9L1859.6,702.4L1857.4,703.8L1855,705L1852.7,706.1L1850.3,706.9L1848.1,707.5L1845.5,707.8L1843.1,707.8L1840.6,707.4L1838.1,706.8L1835.9,706.1L1833.7,705.1L1831.5,704L1829.1,702.8L1826.6,701.7L1824.3,700.9L1821.9,700L1819.4,699.1L1816.9,698.3L1814.5,697.4L1812.3,696.7L1809.4,695.8L1806.8,695L1804.5,694.2L1802.3,693.2L1799.7,691.6L1797.5,689.7L1795.2,687.5L1793.1,685.5L1791,683.2L1788.8,680.9L1786.5,678.8L1784,676.9L1781.2,675.2L1778.6,673.4L1776.5,671.7L1774.5,669.3L1773.2,666.9L1772.2,664.5L1771.5,660.9L1771.5,657.4L1772.8,654.6L1773.6,651.6L1772.7,649.1L1771,646.2L1769.3,643.1L1768.1,640.7L1767,638.2L1765.9,635.6L1765,633.1L1764.4,630.6L1763.9,628.2L1763.6,625.7L1763.6,623.1L1763.9,620.2L1764.5,617.2L1765.3,614.3L1766.4,611.5L1767.9,609.1L1769.6,606.9L1771.5,604.9L1773.6,603L1775.9,601.3L1778.3,599.8L1780.9,598.5L1783.7,597.3L1786.1,596.4L1788.6,595.7L1791.3,595.1L1794,594.6L1796.6,594.2L1799.4,593.8L1802.3,593.6L1805.2,593.4L1807.7,593.3L1809.5,593.2Z" fill="none" stroke="#1a1414" stroke-width="5.9" opacity="0.55" filter="url(#bs3)"/>
</g>
<defs><clipPath id="bc4"><path d="M1935.3,586.3L1937.2,586L1939.9,585.5L1943,585L1946.3,584.8L1949.3,585.2L1951.8,586L1954.3,587.2L1956.9,588.6L1959.4,590.2L1961.8,592L1964,593.8L1966,595.7L1967.8,597.9L1969.5,600.2L1971,602.5L1972.5,604.8L1973.8,607.1L1975.3,609.7L1976.5,612.1L1977.5,614.6L1978.6,617.3L1979.6,620.3L1980.4,622.6L1981.2,625.2L1981.9,627.8L1982.7,630.6L1983.4,633.3L1984,636.1L1984.6,638.7L1985.1,641.3L1985.6,643.9L1986,646.4L1986.4,648.9L1986.7,651.5L1986.9,654.1L1987,656.8L1987,659.2L1986.9,661.7L1986.7,664.2L1986.4,666.7L1986.1,669.3L1985.6,671.8L1985.1,674.3L1984.6,676.7L1983.8,679.4L1983,682.1L1982,684.8L1981,687.4L1979.9,690L1978.6,692.5L1977.2,694.9L1975.6,697.3L1973.9,699.7L1972,702L1970.1,704.3L1968,706.4L1966,708.3L1964,709.9L1961.6,711.6L1959.1,713L1956.6,714.1L1954.1,715L1951.6,715.7L1949.3,716.1L1946.7,716L1944.2,715.3L1941.8,714.4L1939.4,713.6L1937,713.2L1934.6,713.6L1932.2,714.4L1929.9,715.3L1927.4,716L1924.7,716.1L1922.5,715.8L1920.2,715.3L1917.8,714.5L1915.3,713.7L1912.9,712.6L1910.5,711.3L1908.3,709.9L1906.2,708.3L1904.1,706.4L1902.2,704.3L1900.3,702L1898.4,699.7L1896.8,697.3L1895.2,694.9L1893.8,692.5L1892.5,690L1891.4,687.4L1890.3,684.8L1889.4,682.1L1888.6,679.4L1887.8,676.7L1887.3,674.3L1886.8,671.8L1886.5,669.3L1886.2,666.7L1886,664.2L1885.8,661.7L1885.7,659.2L1885.7,656.8L1885.8,654.1L1885.9,651.5L1886.2,648.9L1886.6,646.4L1887,643.9L1887.4,641.3L1887.8,638.7L1888.3,636.1L1888.8,633.3L1889.3,630.6L1889.9,627.8L1890.5,625.2L1891.2,622.6L1891.9,620.3L1892.9,617.3L1893.9,614.6L1895,612.1L1896.2,609.7L1897.7,607.1L1899,604.8L1900.5,602.5L1902.1,600.2L1903.7,597.9L1905.6,595.7L1907.5,593.8L1909.6,592L1911.8,590.2L1914.2,588.6L1916.7,587.2L1919.1,586L1921.5,585.2L1924.5,584.8L1927.7,585L1930.8,585.5L1933.5,586L1935.3,586.3Z"/></clipPath><radialGradient id="bg4" cx="0.5" cy="0.45" r="0.62"><stop offset="0" stop-color="#faf8f8"/><stop offset="0.6" stop-color="#ebe6e6"/><stop offset="0.88" stop-color="#bdb5b5"/><stop offset="1" stop-color="#8a8484"/></radialGradient><filter id="bf4" x="-30%" y="-30%" width="160%" height="160%"><feGaussianBlur stdDeviation="5.6"/></filter><filter id="bs4" x="-30%" y="-30%" width="160%" height="160%"><feGaussianBlur stdDeviation="2.2"/></filter></defs>
<g clip-path="url(#bc4)">
<path d="M1935.3,586.3L1937.2,586L1939.9,585.5L1943,585L1946.3,584.8L1949.3,585.2L1951.8,586L1954.3,587.2L1956.9,588.6L1959.4,590.2L1961.8,592L1964,593.8L1966,595.7L1967.8,597.9L1969.5,600.2L1971,602.5L1972.5,604.8L1973.8,607.1L1975.3,609.7L1976.5,612.1L1977.5,614.6L1978.6,617.3L1979.6,620.3L1980.4,622.6L1981.2,625.2L1981.9,627.8L1982.7,630.6L1983.4,633.3L1984,636.1L1984.6,638.7L1985.1,641.3L1985.6,643.9L1986,646.4L1986.4,648.9L1986.7,651.5L1986.9,654.1L1987,656.8L1987,659.2L1986.9,661.7L1986.7,664.2L1986.4,666.7L1986.1,669.3L1985.6,671.8L1985.1,674.3L1984.6,676.7L1983.8,679.4L1983,682.1L1982,684.8L1981,687.4L1979.9,690L1978.6,692.5L1977.2,694.9L1975.6,697.3L1973.9,699.7L1972,702L1970.1,704.3L1968,706.4L1966,708.3L1964,709.9L1961.6,711.6L1959.1,713L1956.6,714.1L1954.1,715L1951.6,715.7L1949.3,716.1L1946.7,716L1944.2,715.3L1941.8,714.4L1939.4,713.6L1937,713.2L1934.6,713.6L1932.2,714.4L1929.9,715.3L1927.4,716L1924.7,716.1L1922.5,715.8L1920.2,715.3L1917.8,714.5L1915.3,713.7L1912.9,712.6L1910.5,711.3L1908.3,709.9L1906.2,708.3L1904.1,706.4L1902.2,704.3L1900.3,702L1898.4,699.7L1896.8,697.3L1895.2,694.9L1893.8,692.5L1892.5,690L1891.4,687.4L1890.3,684.8L1889.4,682.1L1888.6,679.4L1887.8,676.7L1887.3,674.3L1886.8,671.8L1886.5,669.3L1886.2,666.7L1886,664.2L1885.8,661.7L1885.7,659.2L1885.7,656.8L1885.8,654.1L1885.9,651.5L1886.2,648.9L1886.6,646.4L1887,643.9L1887.4,641.3L1887.8,638.7L1888.3,636.1L1888.8,633.3L1889.3,630.6L1889.9,627.8L1890.5,625.2L1891.2,622.6L1891.9,620.3L1892.9,617.3L1893.9,614.6L1895,612.1L1896.2,609.7L1897.7,607.1L1899,604.8L1900.5,602.5L1902.1,600.2L1903.7,597.9L1905.6,595.7L1907.5,593.8L1909.6,592L1911.8,590.2L1914.2,588.6L1916.7,587.2L1919.1,586L1921.5,585.2L1924.5,584.8L1927.7,585L1930.8,585.5L1933.5,586L1935.3,586.3Z" fill="url(#bg4)"/>
<ellipse cx="1936.4" cy="613.7" rx="50.6" ry="26.4" fill="#f6f6f6" opacity="0.7" filter="url(#bf4)" transform="rotate(0 1936.4 613.7)"/>
<ellipse cx="1936.4" cy="666.4" rx="60.8" ry="18.5" fill="#eeaaaa" opacity="0.95" filter="url(#bf4)" transform="rotate(0 1936.4 666.4)"/>
<ellipse cx="1936.4" cy="702" rx="55.7" ry="22.4" fill="#e01820" opacity="1" filter="url(#bs4)" transform="rotate(0 1936.4 702)"/>
<ellipse cx="1936.4" cy="687.5" rx="44.6" ry="13.2" fill="#e42830" opacity="0.95" filter="url(#bf4)" transform="rotate(0 1936.4 687.5)"/>
<rect x="1883.7" y="582.7" width="105.3" height="135.8" filter="url(#mott)"/>
<rect x="1883.7" y="582.7" width="105.3" height="135.8" filter="url(#sulc)" opacity="0.92"/>
<line x1="1935.8" y1="584.7" x2="1935.8" y2="624.2" stroke="#1a1616" stroke-width="3" opacity="0.85"/>
<line x1="1936.4" y1="690.1" x2="1936.4" y2="716.5" stroke="#4a0c0c" stroke-width="2.5" opacity="0.7"/>
<path d="M1935.3,586.3L1937.2,586L1939.9,585.5L1943,585L1946.3,584.8L1949.3,585.2L1951.8,586L1954.3,587.2L1956.9,588.6L1959.4,590.2L1961.8,592L1964,593.8L1966,595.7L1967.8,597.9L1969.5,600.2L1971,602.5L1972.5,604.8L1973.8,607.1L1975.3,609.7L1976.5,612.1L1977.5,614.6L1978.6,617.3L1979.6,620.3L1980.4,622.6L1981.2,625.2L1981.9,627.8L1982.7,630.6L1983.4,633.3L1984,636.1L1984.6,638.7L1985.1,641.3L1985.6,643.9L1986,646.4L1986.4,648.9L1986.7,651.5L1986.9,654.1L1987,656.8L1987,659.2L1986.9,661.7L1986.7,664.2L1986.4,666.7L1986.1,669.3L1985.6,671.8L1985.1,674.3L1984.6,676.7L1983.8,679.4L1983,682.1L1982,684.8L1981,687.4L1979.9,690L1978.6,692.5L1977.2,694.9L1975.6,697.3L1973.9,699.7L1972,702L1970.1,704.3L1968,706.4L1966,708.3L1964,709.9L1961.6,711.6L1959.1,713L1956.6,714.1L1954.1,715L1951.6,715.7L1949.3,716.1L1946.7,716L1944.2,715.3L1941.8,714.4L1939.4,713.6L1937,713.2L1934.6,713.6L1932.2,714.4L1929.9,715.3L1927.4,716L1924.7,716.1L1922.5,715.8L1920.2,715.3L1917.8,714.5L1915.3,713.7L1912.9,712.6L1910.5,711.3L1908.3,709.9L1906.2,708.3L1904.1,706.4L1902.2,704.3L1900.3,702L1898.4,699.7L1896.8,697.3L1895.2,694.9L1893.8,692.5L1892.5,690L1891.4,687.4L1890.3,684.8L1889.4,682.1L1888.6,679.4L1887.8,676.7L1887.3,674.3L1886.8,671.8L1886.5,669.3L1886.2,666.7L1886,664.2L1885.8,661.7L1885.7,659.2L1885.7,656.8L1885.8,654.1L1885.9,651.5L1886.2,648.9L1886.6,646.4L1887,643.9L1887.4,641.3L1887.8,638.7L1888.3,636.1L1888.8,633.3L1889.3,630.6L1889.9,627.8L1890.5,625.2L1891.2,622.6L1891.9,620.3L1892.9,617.3L1893.9,614.6L1895,612.1L1896.2,609.7L1897.7,607.1L1899,604.8L1900.5,602.5L1902.1,600.2L1903.7,597.9L1905.6,595.7L1907.5,593.8L1909.6,592L1911.8,590.2L1914.2,588.6L1916.7,587.2L1919.1,586L1921.5,585.2L1924.5,584.8L1927.7,585L1930.8,585.5L1933.5,586L1935.3,586.3Z" fill="none" stroke="#2a2424" stroke-width="10.1" opacity="0.5" filter="url(#bf4)"/>
<path d="M1935.3,586.3L1937.2,586L1939.9,585.5L1943,585L1946.3,584.8L1949.3,585.2L1951.8,586L1954.3,587.2L1956.9,588.6L1959.4,590.2L1961.8,592L1964,593.8L1966,595.7L1967.8,597.9L1969.5,600.2L1971,602.5L1972.5,604.8L1973.8,607.1L1975.3,609.7L1976.5,612.1L1977.5,614.6L1978.6,617.3L1979.6,620.3L1980.4,622.6L1981.2,625.2L1981.9,627.8L1982.7,630.6L1983.4,633.3L1984,636.1L1984.6,638.7L1985.1,641.3L1985.6,643.9L1986,646.4L1986.4,648.9L1986.7,651.5L1986.9,654.1L1987,656.8L1987,659.2L1986.9,661.7L1986.7,664.2L1986.4,666.7L1986.1,669.3L1985.6,671.8L1985.1,674.3L1984.6,676.7L1983.8,679.4L1983,682.1L1982,684.8L1981,687.4L1979.9,690L1978.6,692.5L1977.2,694.9L1975.6,697.3L1973.9,699.7L1972,702L1970.1,704.3L1968,706.4L1966,708.3L1964,709.9L1961.6,711.6L1959.1,713L1956.6,714.1L1954.1,715L1951.6,715.7L1949.3,716.1L1946.7,716L1944.2,715.3L1941.8,714.4L1939.4,713.6L1937,713.2L1934.6,713.6L1932.2,714.4L1929.9,715.3L1927.4,716L1924.7,716.1L1922.5,715.8L1920.2,715.3L1917.8,714.5L1915.3,713.7L1912.9,712.6L1910.5,711.3L1908.3,709.9L1906.2,708.3L1904.1,706.4L1902.2,704.3L1900.3,702L1898.4,699.7L1896.8,697.3L1895.2,694.9L1893.8,692.5L1892.5,690L1891.4,687.4L1890.3,684.8L1889.4,682.1L1888.6,679.4L1887.8,676.7L1887.3,674.3L1886.8,671.8L1886.5,669.3L1886.2,666.7L1886,664.2L1885.8,661.7L1885.7,659.2L1885.7,656.8L1885.8,654.1L1885.9,651.5L1886.2,648.9L1886.6,646.4L1887,643.9L1887.4,641.3L1887.8,638.7L1888.3,636.1L1888.8,633.3L1889.3,630.6L1889.9,627.8L1890.5,625.2L1891.2,622.6L1891.9,620.3L1892.9,617.3L1893.9,614.6L1895,612.1L1896.2,609.7L1897.7,607.1L1899,604.8L1900.5,602.5L1902.1,600.2L1903.7,597.9L1905.6,595.7L1907.5,593.8L1909.6,592L1911.8,590.2L1914.2,588.6L1916.7,587.2L1919.1,586L1921.5,585.2L1924.5,584.8L1927.7,585L1930.8,585.5L1933.5,586L1935.3,586.3Z" fill="none" stroke="#1a1414" stroke-width="5.1" opacity="0.55" filter="url(#bs4)"/>
<ellipse cx="1935.9" cy="653.2" rx="16.4" ry="34.5" fill="#3b3b3b"/>
<ellipse cx="1936.4" cy="663.8" rx="12.2" ry="21.1" fill="#454545" opacity="0.6"/>
</g>
<rect x="1806.5" y="724.5" width="136" height="11" fill="url(#cbh)" stroke="#231f20" stroke-width="1.8"/>
<text x="1802" y="737" font-size="20" text-anchor="end">-0.36</text>
<text x="1953" y="737" font-size="20">0.36</text>
<text x="1716" y="843.5" font-size="28" text-anchor="middle" transform="rotate(-90 1716 843.5)">Alpha</text>
<text x="1744.5" y="843.5" font-size="28" text-anchor="middle" transform="rotate(-90 1744.5 843.5)">(7-13Hz)</text>
<defs><clipPath id="bc5"><path d="M1808.8,786.2L1810.7,786.4L1813.5,786.7L1816.7,787.1L1820,787.5L1823.1,788.2L1825.4,788.9L1827.8,789.7L1830.2,790.7L1832.6,791.7L1835,792.8L1837.3,793.9L1839.8,795.1L1842.2,796.3L1844.6,797.6L1847,799L1849.4,800.4L1851.7,801.9L1854,803.4L1856.2,805L1858.4,806.7L1860.6,808.4L1862.6,810.2L1864.6,812L1866.5,813.8L1868.3,815.7L1870,817.5L1871.7,819.5L1873.2,821.5L1874.5,823.5L1875.9,826L1877.1,828.6L1878,831.3L1878.9,833.9L1879.6,836.5L1880.2,839.4L1880.7,842.3L1880.9,845.1L1881,847.9L1881.1,850.8L1881,853.6L1880.8,856.4L1880.3,859.5L1879.7,862.3L1879,865.2L1878.1,868.1L1877.1,871.1L1876,873.9L1874.8,876.7L1873.5,879.4L1872.1,882.1L1870.5,884.6L1868.8,886.9L1867,889.1L1865.1,891.1L1863.1,893L1861,894.7L1858.8,896.2L1856.6,897.6L1854.3,898.8L1851.9,899.9L1849.6,900.7L1847.4,901.3L1844.8,901.6L1842.4,901.6L1839.9,901.2L1837.3,900.6L1835.2,899.9L1833,898.9L1830.7,897.8L1828.4,896.6L1825.9,895.5L1823.6,894.6L1821.2,893.7L1818.7,892.9L1816.2,892L1813.8,891.2L1811.6,890.4L1808.7,889.5L1806.2,888.7L1803.8,887.9L1801.6,886.9L1799.1,885.3L1796.9,883.4L1794.5,881.1L1792.5,879.1L1790.4,876.9L1788.2,874.6L1785.9,872.4L1783.3,870.5L1780.6,868.7L1778,867L1775.9,865.2L1773.9,862.8L1772.6,860.4L1771.6,858L1770.9,854.4L1770.9,850.8L1772.2,848L1773,845L1772.1,842.4L1770.4,839.5L1768.7,836.5L1767.5,834L1766.4,831.5L1765.3,828.9L1764.4,826.4L1763.8,823.9L1763.3,821.4L1763,818.9L1763,816.3L1763.3,813.4L1763.9,810.4L1764.7,807.4L1765.8,804.7L1767.3,802.3L1769,800L1770.9,798L1773,796.1L1775.3,794.4L1777.7,792.9L1780.3,791.5L1783.1,790.3L1785.5,789.5L1788,788.7L1790.6,788.1L1793.3,787.6L1795.9,787.2L1798.7,786.8L1801.7,786.6L1804.6,786.4L1807,786.3L1808.8,786.2Z"/></clipPath><radialGradient id="bg5" cx="0.45" cy="0.40" r="0.70"><stop offset="0" stop-color="#faf8f8"/><stop offset="0.6" stop-color="#ebe6e6"/><stop offset="0.88" stop-color="#bdb5b5"/><stop offset="1" stop-color="#8a8484"/></radialGradient><filter id="bf5" x="-30%" y="-30%" width="160%" height="160%"><feGaussianBlur stdDeviation="6.5"/></filter><filter id="bs5" x="-30%" y="-30%" width="160%" height="160%"><feGaussianBlur stdDeviation="2.6"/></filter></defs>
<g clip-path="url(#bc5)">
<path d="M1808.8,786.2L1810.7,786.4L1813.5,786.7L1816.7,787.1L1820,787.5L1823.1,788.2L1825.4,788.9L1827.8,789.7L1830.2,790.7L1832.6,791.7L1835,792.8L1837.3,793.9L1839.8,795.1L1842.2,796.3L1844.6,797.6L1847,799L1849.4,800.4L1851.7,801.9L1854,803.4L1856.2,805L1858.4,806.7L1860.6,808.4L1862.6,810.2L1864.6,812L1866.5,813.8L1868.3,815.7L1870,817.5L1871.7,819.5L1873.2,821.5L1874.5,823.5L1875.9,826L1877.1,828.6L1878,831.3L1878.9,833.9L1879.6,836.5L1880.2,839.4L1880.7,842.3L1880.9,845.1L1881,847.9L1881.1,850.8L1881,853.6L1880.8,856.4L1880.3,859.5L1879.7,862.3L1879,865.2L1878.1,868.1L1877.1,871.1L1876,873.9L1874.8,876.7L1873.5,879.4L1872.1,882.1L1870.5,884.6L1868.8,886.9L1867,889.1L1865.1,891.1L1863.1,893L1861,894.7L1858.8,896.2L1856.6,897.6L1854.3,898.8L1851.9,899.9L1849.6,900.7L1847.4,901.3L1844.8,901.6L1842.4,901.6L1839.9,901.2L1837.3,900.6L1835.2,899.9L1833,898.9L1830.7,897.8L1828.4,896.6L1825.9,895.5L1823.6,894.6L1821.2,893.7L1818.7,892.9L1816.2,892L1813.8,891.2L1811.6,890.4L1808.7,889.5L1806.2,888.7L1803.8,887.9L1801.6,886.9L1799.1,885.3L1796.9,883.4L1794.5,881.1L1792.5,879.1L1790.4,876.9L1788.2,874.6L1785.9,872.4L1783.3,870.5L1780.6,868.7L1778,867L1775.9,865.2L1773.9,862.8L1772.6,860.4L1771.6,858L1770.9,854.4L1770.9,850.8L1772.2,848L1773,845L1772.1,842.4L1770.4,839.5L1768.7,836.5L1767.5,834L1766.4,831.5L1765.3,828.9L1764.4,826.4L1763.8,823.9L1763.3,821.4L1763,818.9L1763,816.3L1763.3,813.4L1763.9,810.4L1764.7,807.4L1765.8,804.7L1767.3,802.3L1769,800L1770.9,798L1773,796.1L1775.3,794.4L1777.7,792.9L1780.3,791.5L1783.1,790.3L1785.5,789.5L1788,788.7L1790.6,788.1L1793.3,787.6L1795.9,787.2L1798.7,786.8L1801.7,786.6L1804.6,786.4L1807,786.3L1808.8,786.2Z" fill="url(#bg5)"/>
<ellipse cx="1822" cy="827.8" rx="35.4" ry="23.2" fill="#f09a9a" opacity="0.95" filter="url(#bf5)" transform="rotate(25 1822 827.8)"/>
<ellipse cx="1850.3" cy="834.7" rx="21.2" ry="25.5" fill="#e86060" opacity="0.9" filter="url(#bf5)" transform="rotate(30 1850.3 834.7)"/>
<ellipse cx="1819.6" cy="855.6" rx="11.8" ry="10.4" fill="#ffffff" opacity="0.7" filter="url(#bf5)" transform="rotate(0 1819.6 855.6)"/>
<ellipse cx="1869.2" cy="869.5" rx="18.9" ry="34.8" fill="#dc141c" opacity="1" filter="url(#bs5)" transform="rotate(15 1869.2 869.5)"/>
<ellipse cx="1857.4" cy="896.2" rx="18.9" ry="11.6" fill="#dc1c24" opacity="0.95" filter="url(#bs5)" transform="rotate(0 1857.4 896.2)"/>
<ellipse cx="1845.6" cy="869.5" rx="14.2" ry="18.6" fill="#ee8888" opacity="0.8" filter="url(#bf5)" transform="rotate(20 1845.6 869.5)"/>
<rect x="1761" y="784" width="122" height="120" filter="url(#mott)"/>
<rect x="1761" y="784" width="122" height="120" filter="url(#sulc)" opacity="0.92"/>
<path d="M1798.4,789.5 Q1848,804.6 1875.1,846.3" fill="none" stroke="#1a1616" stroke-width="2.8" opacity="0.85"/>
<path d="M1808.8,786.2L1810.7,786.4L1813.5,786.7L1816.7,787.1L1820,787.5L1823.1,788.2L1825.4,788.9L1827.8,789.7L1830.2,790.7L1832.6,791.7L1835,792.8L1837.3,793.9L1839.8,795.1L1842.2,796.3L1844.6,797.6L1847,799L1849.4,800.4L1851.7,801.9L1854,803.4L1856.2,805L1858.4,806.7L1860.6,808.4L1862.6,810.2L1864.6,812L1866.5,813.8L1868.3,815.7L1870,817.5L1871.7,819.5L1873.2,821.5L1874.5,823.5L1875.9,826L1877.1,828.6L1878,831.3L1878.9,833.9L1879.6,836.5L1880.2,839.4L1880.7,842.3L1880.9,845.1L1881,847.9L1881.1,850.8L1881,853.6L1880.8,856.4L1880.3,859.5L1879.7,862.3L1879,865.2L1878.1,868.1L1877.1,871.1L1876,873.9L1874.8,876.7L1873.5,879.4L1872.1,882.1L1870.5,884.6L1868.8,886.9L1867,889.1L1865.1,891.1L1863.1,893L1861,894.7L1858.8,896.2L1856.6,897.6L1854.3,898.8L1851.9,899.9L1849.6,900.7L1847.4,901.3L1844.8,901.6L1842.4,901.6L1839.9,901.2L1837.3,900.6L1835.2,899.9L1833,898.9L1830.7,897.8L1828.4,896.6L1825.9,895.5L1823.6,894.6L1821.2,893.7L1818.7,892.9L1816.2,892L1813.8,891.2L1811.6,890.4L1808.7,889.5L1806.2,888.7L1803.8,887.9L1801.6,886.9L1799.1,885.3L1796.9,883.4L1794.5,881.1L1792.5,879.1L1790.4,876.9L1788.2,874.6L1785.9,872.4L1783.3,870.5L1780.6,868.7L1778,867L1775.9,865.2L1773.9,862.8L1772.6,860.4L1771.6,858L1770.9,854.4L1770.9,850.8L1772.2,848L1773,845L1772.1,842.4L1770.4,839.5L1768.7,836.5L1767.5,834L1766.4,831.5L1765.3,828.9L1764.4,826.4L1763.8,823.9L1763.3,821.4L1763,818.9L1763,816.3L1763.3,813.4L1763.9,810.4L1764.7,807.4L1765.8,804.7L1767.3,802.3L1769,800L1770.9,798L1773,796.1L1775.3,794.4L1777.7,792.9L1780.3,791.5L1783.1,790.3L1785.5,789.5L1788,788.7L1790.6,788.1L1793.3,787.6L1795.9,787.2L1798.7,786.8L1801.7,786.6L1804.6,786.4L1807,786.3L1808.8,786.2Z" fill="none" stroke="#2a2424" stroke-width="11.8" opacity="0.5" filter="url(#bf5)"/>
<path d="M1808.8,786.2L1810.7,786.4L1813.5,786.7L1816.7,787.1L1820,787.5L1823.1,788.2L1825.4,788.9L1827.8,789.7L1830.2,790.7L1832.6,791.7L1835,792.8L1837.3,793.9L1839.8,795.1L1842.2,796.3L1844.6,797.6L1847,799L1849.4,800.4L1851.7,801.9L1854,803.4L1856.2,805L1858.4,806.7L1860.6,808.4L1862.6,810.2L1864.6,812L1866.5,813.8L1868.3,815.7L1870,817.5L1871.7,819.5L1873.2,821.5L1874.5,823.5L1875.9,826L1877.1,828.6L1878,831.3L1878.9,833.9L1879.6,836.5L1880.2,839.4L1880.7,842.3L1880.9,845.1L1881,847.9L1881.1,850.8L1881,853.6L1880.8,856.4L1880.3,859.5L1879.7,862.3L1879,865.2L1878.1,868.1L1877.1,871.1L1876,873.9L1874.8,876.7L1873.5,879.4L1872.1,882.1L1870.5,884.6L1868.8,886.9L1867,889.1L1865.1,891.1L1863.1,893L1861,894.7L1858.8,896.2L1856.6,897.6L1854.3,898.8L1851.9,899.9L1849.6,900.7L1847.4,901.3L1844.8,901.6L1842.4,901.6L1839.9,901.2L1837.3,900.6L1835.2,899.9L1833,898.9L1830.7,897.8L1828.4,896.6L1825.9,895.5L1823.6,894.6L1821.2,893.7L1818.7,892.9L1816.2,892L1813.8,891.2L1811.6,890.4L1808.7,889.5L1806.2,888.7L1803.8,887.9L1801.6,886.9L1799.1,885.3L1796.9,883.4L1794.5,881.1L1792.5,879.1L1790.4,876.9L1788.2,874.6L1785.9,872.4L1783.3,870.5L1780.6,868.7L1778,867L1775.9,865.2L1773.9,862.8L1772.6,860.4L1771.6,858L1770.9,854.4L1770.9,850.8L1772.2,848L1773,845L1772.1,842.4L1770.4,839.5L1768.7,836.5L1767.5,834L1766.4,831.5L1765.3,828.9L1764.4,826.4L1763.8,823.9L1763.3,821.4L1763,818.9L1763,816.3L1763.3,813.4L1763.9,810.4L1764.7,807.4L1765.8,804.7L1767.3,802.3L1769,800L1770.9,798L1773,796.1L1775.3,794.4L1777.7,792.9L1780.3,791.5L1783.1,790.3L1785.5,789.5L1788,788.7L1790.6,788.1L1793.3,787.6L1795.9,787.2L1798.7,786.8L1801.7,786.6L1804.6,786.4L1807,786.3L1808.8,786.2Z" fill="none" stroke="#1a1414" stroke-width="5.9" opacity="0.55" filter="url(#bs5)"/>
</g>
<defs><clipPath id="bc6"><path d="M1935.3,779.1L1937.2,778.8L1939.9,778.3L1943,777.8L1946.3,777.6L1949.3,778L1951.8,778.8L1954.3,780L1956.9,781.4L1959.4,783L1961.8,784.8L1964,786.6L1966,788.5L1967.8,790.7L1969.5,793L1971,795.3L1972.5,797.6L1973.8,799.9L1975.3,802.4L1976.5,804.9L1977.5,807.4L1978.6,810.1L1979.6,813.1L1980.4,815.4L1981.2,818L1981.9,820.6L1982.7,823.3L1983.4,826.1L1984,828.8L1984.6,831.5L1985.1,834.1L1985.6,836.6L1986,839.2L1986.4,841.7L1986.7,844.3L1986.9,846.9L1987,849.5L1987,851.9L1986.9,854.4L1986.7,856.9L1986.4,859.5L1986.1,862L1985.6,864.5L1985.1,867L1984.6,869.4L1983.8,872.1L1983,874.8L1982,877.5L1981,880.1L1979.9,882.7L1978.6,885.2L1977.2,887.6L1975.6,890L1973.9,892.4L1972,894.7L1970.1,897L1968,899.1L1966,901L1964,902.6L1961.6,904.3L1959.1,905.7L1956.6,906.8L1954.1,907.7L1951.6,908.4L1949.3,908.8L1946.7,908.7L1944.2,908L1941.8,907.1L1939.4,906.3L1937,905.9L1934.6,906.3L1932.2,907.1L1929.9,908L1927.4,908.7L1924.7,908.8L1922.5,908.5L1920.2,908L1917.8,907.3L1915.3,906.4L1912.9,905.3L1910.5,904L1908.3,902.6L1906.2,901L1904.1,899.1L1902.2,897L1900.3,894.7L1898.4,892.4L1896.8,890L1895.2,887.6L1893.8,885.2L1892.5,882.7L1891.4,880.1L1890.3,877.5L1889.4,874.8L1888.6,872.1L1887.8,869.4L1887.3,867L1886.8,864.5L1886.5,862L1886.2,859.5L1886,856.9L1885.8,854.4L1885.7,851.9L1885.7,849.5L1885.8,846.9L1885.9,844.3L1886.2,841.7L1886.6,839.2L1887,836.6L1887.4,834.1L1887.8,831.5L1888.3,828.8L1888.8,826.1L1889.3,823.3L1889.9,820.6L1890.5,818L1891.2,815.4L1891.9,813.1L1892.9,810.1L1893.9,807.4L1895,804.9L1896.2,802.4L1897.7,799.9L1899,797.6L1900.5,795.3L1902.1,793L1903.7,790.7L1905.6,788.5L1907.5,786.6L1909.6,784.8L1911.8,783L1914.2,781.4L1916.7,780L1919.1,778.8L1921.5,778L1924.5,777.6L1927.7,777.8L1930.8,778.3L1933.5,778.8L1935.3,779.1Z"/></clipPath><radialGradient id="bg6" cx="0.5" cy="0.45" r="0.62"><stop offset="0" stop-color="#faf8f8"/><stop offset="0.6" stop-color="#ebe6e6"/><stop offset="0.88" stop-color="#bdb5b5"/><stop offset="1" stop-color="#8a8484"/></radialGradient><filter id="bf6" x="-30%" y="-30%" width="160%" height="160%"><feGaussianBlur stdDeviation="5.6"/></filter><filter id="bs6" x="-30%" y="-30%" width="160%" height="160%"><feGaussianBlur stdDeviation="2.2"/></filter></defs>
<g clip-path="url(#bc6)">
<path d="M1935.3,779.1L1937.2,778.8L1939.9,778.3L1943,777.8L1946.3,777.6L1949.3,778L1951.8,778.8L1954.3,780L1956.9,781.4L1959.4,783L1961.8,784.8L1964,786.6L1966,788.5L1967.8,790.7L1969.5,793L1971,795.3L1972.5,797.6L1973.8,799.9L1975.3,802.4L1976.5,804.9L1977.5,807.4L1978.6,810.1L1979.6,813.1L1980.4,815.4L1981.2,818L1981.9,820.6L1982.7,823.3L1983.4,826.1L1984,828.8L1984.6,831.5L1985.1,834.1L1985.6,836.6L1986,839.2L1986.4,841.7L1986.7,844.3L1986.9,846.9L1987,849.5L1987,851.9L1986.9,854.4L1986.7,856.9L1986.4,859.5L1986.1,862L1985.6,864.5L1985.1,867L1984.6,869.4L1983.8,872.1L1983,874.8L1982,877.5L1981,880.1L1979.9,882.7L1978.6,885.2L1977.2,887.6L1975.6,890L1973.9,892.4L1972,894.7L1970.1,897L1968,899.1L1966,901L1964,902.6L1961.6,904.3L1959.1,905.7L1956.6,906.8L1954.1,907.7L1951.6,908.4L1949.3,908.8L1946.7,908.7L1944.2,908L1941.8,907.1L1939.4,906.3L1937,905.9L1934.6,906.3L1932.2,907.1L1929.9,908L1927.4,908.7L1924.7,908.8L1922.5,908.5L1920.2,908L1917.8,907.3L1915.3,906.4L1912.9,905.3L1910.5,904L1908.3,902.6L1906.2,901L1904.1,899.1L1902.2,897L1900.3,894.7L1898.4,892.4L1896.8,890L1895.2,887.6L1893.8,885.2L1892.5,882.7L1891.4,880.1L1890.3,877.5L1889.4,874.8L1888.6,872.1L1887.8,869.4L1887.3,867L1886.8,864.5L1886.5,862L1886.2,859.5L1886,856.9L1885.8,854.4L1885.7,851.9L1885.7,849.5L1885.8,846.9L1885.9,844.3L1886.2,841.7L1886.6,839.2L1887,836.6L1887.4,834.1L1887.8,831.5L1888.3,828.8L1888.8,826.1L1889.3,823.3L1889.9,820.6L1890.5,818L1891.2,815.4L1891.9,813.1L1892.9,810.1L1893.9,807.4L1895,804.9L1896.2,802.4L1897.7,799.9L1899,797.6L1900.5,795.3L1902.1,793L1903.7,790.7L1905.6,788.5L1907.5,786.6L1909.6,784.8L1911.8,783L1914.2,781.4L1916.7,780L1919.1,778.8L1921.5,778L1924.5,777.6L1927.7,777.8L1930.8,778.3L1933.5,778.8L1935.3,779.1Z" fill="url(#bg6)"/>
<ellipse cx="1936.4" cy="817" rx="50.6" ry="32.9" fill="#f2f2f2" opacity="0.6" filter="url(#bf6)" transform="rotate(0 1936.4 817)"/>
<ellipse cx="1936.4" cy="897.3" rx="32.4" ry="17.1" fill="#e01820" opacity="1" filter="url(#bs6)" transform="rotate(0 1936.4 897.3)"/>
<ellipse cx="1936.4" cy="877.6" rx="24.3" ry="18.4" fill="#ea5058" opacity="0.95" filter="url(#bf6)" transform="rotate(0 1936.4 877.6)"/>
<rect x="1883.7" y="775.5" width="105.3" height="135.7" filter="url(#mott)"/>
<rect x="1883.7" y="775.5" width="105.3" height="135.7" filter="url(#sulc)" opacity="0.92"/>
<line x1="1935.8" y1="777.5" x2="1935.8" y2="817" stroke="#1a1616" stroke-width="3" opacity="0.85"/>
<line x1="1936.4" y1="882.9" x2="1936.4" y2="909.2" stroke="#4a0c0c" stroke-width="2.5" opacity="0.7"/>
<path d="M1935.3,779.1L1937.2,778.8L1939.9,778.3L1943,777.8L1946.3,777.6L1949.3,778L1951.8,778.8L1954.3,780L1956.9,781.4L1959.4,783L1961.8,784.8L1964,786.6L1966,788.5L1967.8,790.7L1969.5,793L1971,795.3L1972.5,797.6L1973.8,799.9L1975.3,802.4L1976.5,804.9L1977.5,807.4L1978.6,810.1L1979.6,813.1L1980.4,815.4L1981.2,818L1981.9,820.6L1982.7,823.3L1983.4,826.1L1984,828.8L1984.6,831.5L1985.1,834.1L1985.6,836.6L1986,839.2L1986.4,841.7L1986.7,844.3L1986.9,846.9L1987,849.5L1987,851.9L1986.9,854.4L1986.7,856.9L1986.4,859.5L1986.1,862L1985.6,864.5L1985.1,867L1984.6,869.4L1983.8,872.1L1983,874.8L1982,877.5L1981,880.1L1979.9,882.7L1978.6,885.2L1977.2,887.6L1975.6,890L1973.9,892.4L1972,894.7L1970.1,897L1968,899.1L1966,901L1964,902.6L1961.6,904.3L1959.1,905.7L1956.6,906.8L1954.1,907.7L1951.6,908.4L1949.3,908.8L1946.7,908.7L1944.2,908L1941.8,907.1L1939.4,906.3L1937,905.9L1934.6,906.3L1932.2,907.1L1929.9,908L1927.4,908.7L1924.7,908.8L1922.5,908.5L1920.2,908L1917.8,907.3L1915.3,906.4L1912.9,905.3L1910.5,904L1908.3,902.6L1906.2,901L1904.1,899.1L1902.2,897L1900.3,894.7L1898.4,892.4L1896.8,890L1895.2,887.6L1893.8,885.2L1892.5,882.7L1891.4,880.1L1890.3,877.5L1889.4,874.8L1888.6,872.1L1887.8,869.4L1887.3,867L1886.8,864.5L1886.5,862L1886.2,859.5L1886,856.9L1885.8,854.4L1885.7,851.9L1885.7,849.5L1885.8,846.9L1885.9,844.3L1886.2,841.7L1886.6,839.2L1887,836.6L1887.4,834.1L1887.8,831.5L1888.3,828.8L1888.8,826.1L1889.3,823.3L1889.9,820.6L1890.5,818L1891.2,815.4L1891.9,813.1L1892.9,810.1L1893.9,807.4L1895,804.9L1896.2,802.4L1897.7,799.9L1899,797.6L1900.5,795.3L1902.1,793L1903.7,790.7L1905.6,788.5L1907.5,786.6L1909.6,784.8L1911.8,783L1914.2,781.4L1916.7,780L1919.1,778.8L1921.5,778L1924.5,777.6L1927.7,777.8L1930.8,778.3L1933.5,778.8L1935.3,779.1Z" fill="none" stroke="#2a2424" stroke-width="10.1" opacity="0.5" filter="url(#bf6)"/>
<path d="M1935.3,779.1L1937.2,778.8L1939.9,778.3L1943,777.8L1946.3,777.6L1949.3,778L1951.8,778.8L1954.3,780L1956.9,781.4L1959.4,783L1961.8,784.8L1964,786.6L1966,788.5L1967.8,790.7L1969.5,793L1971,795.3L1972.5,797.6L1973.8,799.9L1975.3,802.4L1976.5,804.9L1977.5,807.4L1978.6,810.1L1979.6,813.1L1980.4,815.4L1981.2,818L1981.9,820.6L1982.7,823.3L1983.4,826.1L1984,828.8L1984.6,831.5L1985.1,834.1L1985.6,836.6L1986,839.2L1986.4,841.7L1986.7,844.3L1986.9,846.9L1987,849.5L1987,851.9L1986.9,854.4L1986.7,856.9L1986.4,859.5L1986.1,862L1985.6,864.5L1985.1,867L1984.6,869.4L1983.8,872.1L1983,874.8L1982,877.5L1981,880.1L1979.9,882.7L1978.6,885.2L1977.2,887.6L1975.6,890L1973.9,892.4L1972,894.7L1970.1,897L1968,899.1L1966,901L1964,902.6L1961.6,904.3L1959.1,905.7L1956.6,906.8L1954.1,907.7L1951.6,908.4L1949.3,908.8L1946.7,908.7L1944.2,908L1941.8,907.1L1939.4,906.3L1937,905.9L1934.6,906.3L1932.2,907.1L1929.9,908L1927.4,908.7L1924.7,908.8L1922.5,908.5L1920.2,908L1917.8,907.3L1915.3,906.4L1912.9,905.3L1910.5,904L1908.3,902.6L1906.2,901L1904.1,899.1L1902.2,897L1900.3,894.7L1898.4,892.4L1896.8,890L1895.2,887.6L1893.8,885.2L1892.5,882.7L1891.4,880.1L1890.3,877.5L1889.4,874.8L1888.6,872.1L1887.8,869.4L1887.3,867L1886.8,864.5L1886.5,862L1886.2,859.5L1886,856.9L1885.8,854.4L1885.7,851.9L1885.7,849.5L1885.8,846.9L1885.9,844.3L1886.2,841.7L1886.6,839.2L1887,836.6L1887.4,834.1L1887.8,831.5L1888.3,828.8L1888.8,826.1L1889.3,823.3L1889.9,820.6L1890.5,818L1891.2,815.4L1891.9,813.1L1892.9,810.1L1893.9,807.4L1895,804.9L1896.2,802.4L1897.7,799.9L1899,797.6L1900.5,795.3L1902.1,793L1903.7,790.7L1905.6,788.5L1907.5,786.6L1909.6,784.8L1911.8,783L1914.2,781.4L1916.7,780L1919.1,778.8L1921.5,778L1924.5,777.6L1927.7,777.8L1930.8,778.3L1933.5,778.8L1935.3,779.1Z" fill="none" stroke="#1a1414" stroke-width="5.1" opacity="0.55" filter="url(#bs6)"/>
<ellipse cx="1935.9" cy="846" rx="16.4" ry="34.5" fill="#3b3b3b"/>
<ellipse cx="1936.4" cy="856.5" rx="12.2" ry="21.1" fill="#454545" opacity="0.6"/>
</g>
<rect x="1806.5" y="917.5" width="136" height="11" fill="url(#cbh)" stroke="#231f20" stroke-width="1.8"/>
<text x="1802" y="930" font-size="20" text-anchor="end">-0.36</text>
<text x="1947" y="930" font-size="20">0.36</text>
</g>
</svg>
</body></html>
